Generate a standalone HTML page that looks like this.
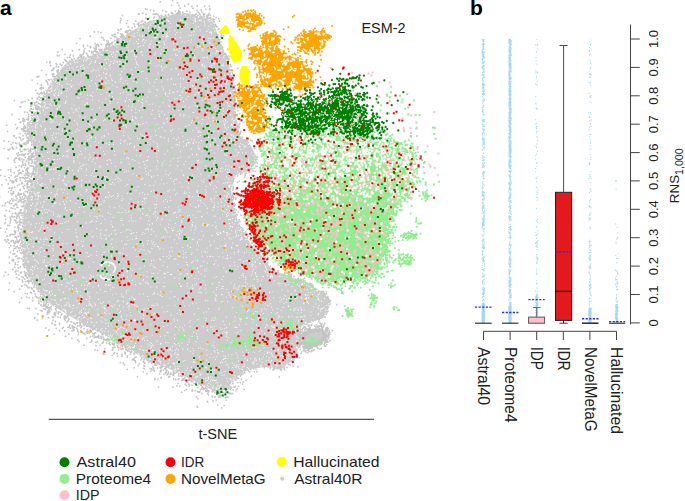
<!DOCTYPE html>
<html><head><meta charset="utf-8"><style>
html,body{margin:0;padding:0;background:#fff;}
svg{display:block;}
text{font-family:"Liberation Sans",sans-serif;}
</style></head><body>
<svg width="685" height="501" viewBox="0 0 685 501">
<rect width="685" height="501" fill="#fff"/>
<path d="M150 21L130 32L110 47L90 56L67 62L52 80L42 100L38 112L26 125L30 140L36 155L34 175L28 195L22 215L21 240L25 266L32 284L50 304L70 316L90 328L110 338L130 350L150 362L170 369L190 379L210 389L220 392L228 388L238 376L250 369L265 367L280 370L293 360L302 342L302 326L323 318L331 304L325 294L310 284L290 276L272 270L262 256L250 243L240 225L234 210L231 190L236 175L252 170L257 158L251 146L240 136L236 116L235 94L232 74L226 56L219 38L213 22L200 15L185 13L170 15L150 21Z" fill="#cccccc"/>
<polygon points="303,333 312,329 322,329 327,333 325,340 316,346 306,347 301,342" fill="#cccccc"/>
<path d="M232.5 199.9h0M78.6 332.3h0M210.2 15.2h0M106.1 46.1h0M19.5 213.6h0M19.4 213.5h0M142.8 13.2h0M270 368.2h0M31.8 145h0M38.6 108.9h0M30.5 292.3h0M325.5 294.4h0M60 312.2h0M254.7 168.1h0M141.3 21.8h0M200.5 389.8h0M30.9 151.3h0M20.5 248.2h0M17.9 258.4h0M28.4 140.6h0M173.9 373.6h0M40.3 104.6h0M31.6 153.8h0M195.8 382.5h0M238.2 118.9h0M145.5 9h0M10.9 219h0M325.7 314.1h0M241.9 227.9h0M233.6 198.9h0M119.4 343.7h0M218.7 392.3h0M290 272.8h0M301 344.2h0M21.4 166.8h0M237.4 182.4h0M96.7 52.3h0M34.6 102.8h0M133.3 358.6h0M130.2 30.3h0M20.6 210.7h0M11.8 181.5h0M25.6 196h0M118 33h0M228.8 49.6h0M103.4 341.1h0M16.7 218.3h0M33.7 291.4h0M93.1 54.2h0M17.4 242.7h0M117.5 356.1h0M95.2 332.9h0M195.6 383.1h0M288.6 364.3h0M239.9 134.4h0M41.9 311h0M47.5 314.3h0M265.8 261.1h0M115.4 34.1h0M37.5 83.7h0M31.5 109.1h0M168.7 377h0M247.4 140.8h0M24.4 126.4h0M25.8 144.7h0M240.5 375.8h0M125.1 353.2h0M84.2 333.8h0M138.1 365.5h0M87.8 331.6h0M295.7 354.8h0M14.7 216.6h0M19.4 137.2h0M212.2 391.8h0M93.3 52.1h0M48.2 305h0M25.5 165.6h0M224.2 405.4h0M15.7 143h0M125.5 32h0M181.6 392.2h0M38.8 301.2h0M244.5 177.2h0M9.8 235.5h0M103.1 334.6h0M96.2 45.6h0M77.5 325.9h0M24.6 178.9h0M72.2 60h0M225.2 397.8h0M77.6 340h0M114.1 345.2h0M78.2 57.9h0M18.2 242.2h0M34.4 159.8h0M29.1 156.2h0M134.2 360.3h0M77.3 322.9h0M4.1 148.3h0M117 342.5h0M21.3 155h0M13.1 148.9h0M28.1 149.1h0M19 119.2h0M252.2 140.7h0M26.4 169.7h0M42.7 87.8h0M117.2 353.7h0M-4.6 224.6h0M29 162.8h0M181.7 380.5h0M189.6 380.2h0M28.5 175.3h0M12.8 201h0M165.6 372.4h0M48 84.5h0M166.4 11.8h0M118.8 30.4h0M87.3 54.8h0M80.1 322.3h0M15.2 237h0M101 32.6h0M232.6 190.2h0M150.2 368.4h0M20.4 272.7h0M83.3 54h0M14.7 267.2h0M23.2 261h0M137.5 24.1h0M97.4 337h0M20.7 210h0M36.9 108h0M23.1 199.2h0M60.4 317.2h0M285.4 269.9h0M37.3 320.1h0M15.2 231.9h0M25.1 272.8h0M217.3 392.3h0M291.5 274.4h0M59.7 330.5h0M19.7 289.2h0M255.4 161.9h0M209.9 8.5h0M27.1 175.1h0M9.4 257.4h0M14.7 187.2h0M59.6 324.4h0M176.5 372.4h0M260.4 151.2h0M41.1 98.2h0M214.8 392.8h0M107.1 339.4h0M83.9 328.6h0M235.7 198h0M114.2 34.4h0M240.2 133h0M75.1 324h0M79.6 325.4h0M22.7 164.3h0M14.7 243.2h0M28.7 190.5h0M20.8 235.1h0M232.6 196.7h0M327.4 297.6h0M304.8 344.5h0M103 38h0M23.5 205.7h0M238.6 126.3h0M16.2 181.1h0M120.9 37.5h0M28.3 133.7h0M7.5 239.4h0M226 54.5h0M20.1 106.8h0M12.2 260.4h0M23.7 201.6h0M191.8 6.3h0M6.7 125.2h0M53.3 69.1h0M278.1 270.5h0M163.3 370.1h0M108.8 46h0M242.1 174h0M32.2 80.1h0M127.7 351.2h0M41.3 298h0M28.6 164.1h0M21.8 129h0M23.4 264.4h0M80.1 38.6h0M30.4 180.5h0M302.2 337.6h0M304.2 327h0M55.9 313.1h0M242.6 384.1h0M113.7 353.6h0M108.7 44.1h0M207.6 18.5h0M23.7 165.1h0M65.8 60.9h0M19.1 213.6h0M29.4 181.6h0M21.3 194h0M240.3 173.7h0M55.9 308.4h0M17 216h0M18 270.8h0M65.1 54.3h0M23.9 143.6h0M165.6 15.2h0M248.5 370.9h0M142.5 20.9h0M64.9 59.7h0M29 276.4h0M51.2 306.5h0M69.7 60.8h0M10.9 234.4h0M19.3 217.9h0M186.4 389.4h0M248 236.6h0M6.7 241.5h0M249.7 171.9h0M28.3 120.2h0M154.4 17.5h0M32.7 297.9h0M19.7 144.1h0M221.5 35.1h0M135.2 360.9h0M293.1 366.1h0M157.8 379.3h0M11 241.4h0M31.2 176.9h0M41.2 87.7h0M178.8 373.8h0M322 291.5h0M61.4 65.3h0M80.1 55h0M81.4 57.5h0M23.3 177.9h0M179.9 386.1h0M35.1 294h0M28.6 156.8h0M106.3 44.7h0M21.5 140.4h0M239 127.6h0M270.3 266.4h0M34.5 163.6h0M304.6 278.3h0M129.6 29.8h0M204.7 6h0M32.1 98.5h0M155.3 365h0M23.5 131.1h0M241.5 116.5h0M205.9 9.4h0M10.6 169.7h0M230.8 393.9h0M113.8 347.3h0M13.3 193.3h0M23.5 177.9h0M239.1 219.6h0M330.4 300.6h0M226.1 55.2h0M174.9 373.4h0M118.7 349.7h0M114.1 340.9h0M94.7 48.3h0M197.6 391.3h0M281.7 369.8h0M178.9 5.5h0M45.6 305.4h0M228.7 388.3h0M109.9 45.3h0M34.3 163.7h0M11.1 175.3h0M125.1 347.1h0M77.5 331h0M227.1 389.7h0M98.7 335.5h0M81.7 55.1h0M14.3 291.4h0M37.3 111.2h0M22.2 129.6h0M27.9 173.1h0M18.4 152.9h0M47.4 307.7h0M37 105.1h0M38.5 103.2h0M15 177.3h0M3.9 275.8h0M177.6 2.9h0M17 198.4h0M74.8 327.3h0M30 110.6h0M12.4 187.6h0M22.3 280.1h0M41.7 93.8h0M245.7 173.3h0M284.7 273.6h0M44.2 92.8h0M22.4 197.1h0M145 22.2h0M83.8 57h0M65.2 320.1h0M240.9 215.2h0M32.4 161.4h0M223.7 35.6h0M62 313.9h0M191.4 381.4h0M53.8 334.1h0M27.9 159h0M24.2 126.4h0M18.9 241h0M23.1 259.7h0M326.3 293.7h0M84 50.5h0M112.2 355.3h0M111.2 43.4h0M12.8 213.6h0M143.8 365.7h0M207.2 391.6h0M25.1 133.4h0M56.1 63.6h0M83.5 324.3h0M45.6 309.7h0M26.5 161.1h0M167.1 374.8h0M19.1 212.5h0M144.7 366.2h0M128.5 349.7h0M213 19.2h0M236.2 93.1h0M8.3 184h0M228.9 61.2h0M301.5 280.1h0M232.1 73.2h0M24.2 267h0M77.7 325.9h0M35.2 155.6h0M55.6 309.2h0M245.7 231.9h0M25.2 274.2h0M112.4 42.5h0M19.1 184.3h0M28.3 117.9h0M58.4 67h0M20 122.6h0M40.4 299.5h0M20.4 180.5h0M29.1 139.9h0M219.3 392.8h0M19.9 220.1h0M252.8 168.6h0M320 322.8h0M311.7 279.1h0M23.4 128.1h0M33.1 148.8h0M94 334.5h0M34 173.7h0M101.3 338.3h0M244.9 216.3h0M214 24.3h0M45.5 304.5h0M16.7 218.6h0M10.6 221h0M131.5 351.9h0M56.2 310.8h0M18.3 158.3h0M24.1 149.9h0M130.9 30.8h0M25.1 101.1h0M20.2 267h0M34 114.8h0M17.8 207.5h0M14.4 248.7h0M31.4 182.8h0M145 363.3h0M28.9 172.6h0M12.1 240.3h0M58.2 71.1h0M110.9 38.3h0M166.3 372h0M290.6 275.8h0M41.3 297.9h0M132 27.9h0M236 390.8h0M17.6 185.6h0M168.5 373.1h0M249.3 172.4h0M103 353.6h0M39 303.4h0M327 312.1h0M8.6 141.3h0M10.1 201h0M236.9 114.9h0M235.4 91.3h0M236 115.4h0M23.2 138.9h0M199.3 13.4h0M48.8 330.2h0M17.8 226.7h0M213.6 390.3h0M40.4 310.3h0M226.1 56.3h0M298.2 278.3h0M21.7 166h0M81.7 326.3h0M141.9 358.5h0M107.3 43.3h0M15 209.1h0M107.4 340.5h0M86.8 326.2h0M12.5 148h0M69.8 325h0M27.1 286.4h0M153.8 10.6h0M64.2 317.5h0M214.8 390.8h0M162.4 366.8h0M13.3 240.9h0M200 14.5h0M290.7 275.3h0M257.4 163.2h0M201.5 388.7h0M20 225h0M38.1 291.3h0M46.6 302.1h0M43.2 88.2h0M33 155.4h0M138.7 26.1h0M120.4 362.6h0M18.2 225.1h0M32 165.9h0M56.8 70.8h0M290.2 365h0M20.8 229.5h0M161 366.9h0M62.2 49.4h0M207.3 401.3h0M237.9 107.9h0M73.8 323h0M67.4 57.3h0M30.2 157.3h0M52.3 316.8h0M300.2 349.4h0M52.1 323.1h0M58.3 69.9h0M21.3 102.5h0M14.8 243.6h0M208.3 15h0M246 141.5h0M198 387.8h0M39.6 100.1h0M40.6 294.3h0M156.6 365.4h0M274.2 368.9h0M302.4 332.1h0M-1.9 151.2h0M68.3 320.9h0M27.6 182.7h0M31.2 115.4h0M68.2 320.7h0M66.8 61.2h0M219.4 21h0M16.1 214h0M233.2 188.4h0M34.5 162.7h0M9.3 188.2h0M215.2 24.3h0M235.2 386.7h0M138.4 25.1h0M26.9 272.9h0M194.1 383.4h0M57.9 52.1h0M120.7 18.4h0M198.3 392.2h0M197.2 6h0M45.1 299.7h0M246.2 121.1h0M14.1 242.8h0M117.9 38.9h0M122.1 355.9h0M21.7 173.6h0M56.2 66.6h0M120.3 22.5h0M54.5 314.5h0M175.4 11.1h0M31.9 154.9h0M13.5 259.8h0M273.2 270h0M207 15.4h0M244.6 140h0M30.7 148.1h0M26.9 178.2h0M101.3 337.1h0M234.9 93.4h0M128.2 27h0M16.4 147.4h0M203.5 15h0M47.4 312.2h0M18.8 174.4h0M28.6 281h0M14.3 253.8h0M27 186.1h0M28.2 181h0M37 77.2h0M187.8 380.2h0M24.1 120.1h0M88.2 56.2h0M235.3 89.3h0M241.5 379.5h0M0.5 228h0M22.4 183.4h0M33.6 166.7h0M253.1 170.9h0M208.2 391.1h0M204.8 388.9h0M22 206.5h0M95.8 49.8h0M236.8 377.6h0M19 201.2h0M231.4 69.8h0M228.1 56.1h0M284.7 369.6h0M37.2 76.7h0M79.1 57.2h0M125.2 353.8h0M173 387.1h0M29.4 308.5h0M11.9 216.2h0M16.4 277.7h0M126.3 349.8h0M64.6 318.3h0M32 162.9h0M318.8 321.1h0M162.7 10.5h0M24.5 264h0M240.8 131.1h0M89.2 333h0M164 374.2h0M293.9 359.9h0M4.9 215.5h0M138.4 13.9h0M242.8 228.8h0M4.1 141h0M158 14.7h0M94.1 48.1h0M28.6 114.5h0M97.4 51.9h0M13.6 205.8h0M273.6 269.2h0M40.1 88.3h0M203.3 13.3h0M179 378.6h0M155 14.2h0M8.2 149.6h0M21.9 253.2h0M41.4 100.5h0M60.3 64.1h0M274.4 152.4h0M216.5 26.3h0M177.9 383.6h0M246.2 173.2h0M15.8 248h0M168.3 371.9h0M230.3 389.5h0M256.8 246.7h0M205.6 388h0M54.5 324.6h0M34.6 113.2h0M246.1 380.4h0M19.4 169.9h0M14 160.4h0M8.3 169.8h0M33 156.8h0M20.6 151.5h0M247 234.4h0M29.4 158.8h0M330 301.3h0M18.2 236.4h0M118.6 343.8h0M83.4 57.2h0M46.2 80.7h0M65.3 316.2h0M277.9 271.6h0M22.9 252.4h0M6.2 180h0M101.5 37.4h0M179.4 13.5h0M31.4 163.1h0M43.8 304.8h0M55.4 321.5h0M256.9 166.6h0M15.4 231.2h0M145.6 22.7h0M28.1 287.7h0M43.5 300.2h0M235.3 212.4h0M291.3 276.5h0M28.8 116.6h0M72.2 330.9h0M29.7 140.3h0M83.5 333.2h0M234.4 209h0M37.2 111.4h0M87.1 331.4h0M21 243.4h0M5.6 203h0M35.6 296.1h0M213.1 391.1h0M22.1 285.9h0M244.8 233.4h0M13.9 199.9h0M213.1 20.8h0M87.5 333.2h0M103.4 339h0M126.5 23.3h0M27.6 277.9h0M227.5 57.5h0M80.1 323.1h0M122 35.5h0M27.4 308.3h0M18.9 247.8h0M25.4 200.8h0M237.9 68.5h0M249.8 371.8h0M23.6 124.1h0M216.1 17.7h0M28.5 138.7h0M13 254h0M24.5 200.8h0M145.9 14.4h0M265 257.5h0M80.9 55.8h0M164.9 16.1h0M33.8 287.1h0M114.4 40.8h0M235.8 199.4h0M26.1 285.3h0M151.5 368.8h0M213.5 19.4h0M26.9 173.8h0M35.2 161.8h0M41.8 70.3h0M230.3 64.6h0M16.1 200.3h0M301.1 353.4h0M131 352.5h0M256 161.4h0M63.2 62.6h0M25.9 281.6h0M333.7 287h0M24.8 185.5h0M30.9 165.9h0M29.5 179h0M50.7 65.5h0M21.5 183.9h0M27.7 143.4h0M31.3 118.1h0M31.8 182h0M114.1 343.4h0M201.1 10h0M20.1 189.6h0M32.2 154.7h0M108.3 42.4h0M29.4 280.6h0M30.8 106.2h0M21.4 199.8h0M79 341.5h0M232.9 383.4h0M-1.8 227h0M121.9 354.1h0M169.6 376.7h0M104.6 49.1h0M23.5 118.7h0M33.4 169.1h0M198.9 383.5h0M15.1 243.1h0M35.9 90.2h0M80.7 325.3h0M32.2 288.9h0M18.5 193h0M121.8 349h0M29.1 287.5h0M103 342.7h0M9.6 188h0M159.4 17.9h0M106.4 47.9h0M25.6 164.6h0M38.8 94.4h0M149 18.1h0M143.3 23.9h0M204.6 14.1h0M15.2 271.8h0M24.6 198.5h0M220 396h0M22.2 151.4h0M91.9 340.4h0M97.4 350.4h0M22.4 154.3h0M20.1 137.8h0M215 396.6h0M30.5 182.2h0M207.8 15.6h0M34.1 291.5h0M120.7 20.3h0M19.5 302.4h0M305.1 280.8h0M66.2 317.8h0M39.8 103.8h0M112.3 343.2h0M8.6 191.8h0M43 298h0M28.5 168.1h0M58.9 71.5h0M21.4 272.2h0M336.7 304.5h0M2.4 205.7h0M26.1 127.7h0M212.4 396.5h0M203.5 388.7h0M243.4 230.7h0M251.3 376.2h0M53 320.2h0M127.5 20.8h0M196 14h0M15.5 124.6h0M48.1 302.6h0M120.9 29.4h0M-6 200h0M47.4 82.6h0M222.7 46.8h0M31.1 155.5h0M5.4 222.3h0M232.3 197.3h0M166.2 367.8h0M139.5 363.8h0M24.2 188.4h0M216.9 394.1h0M122.3 34.1h0M250.8 140.3h0M186.8 381.2h0M13.3 250.5h0M322.9 291.4h0M32 175.6h0M72.2 326.4h0M244.1 217.7h0M122.5 15.5h0M26.6 134.1h0M303.2 328h0M24.4 130.2h0M9.5 202.8h0M19.2 165.6h0M127.5 32.8h0M218.9 18.7h0M20.6 173.1h0M175.7 379.5h0M140.5 26h0M29 187.1h0M221.7 407.9h0M71 321.8h0M10.6 218.3h0M21.9 286h0M223.1 392.5h0M210.8 18.7h0M311.9 284.6h0M20.2 235.9h0M24.5 167.6h0M182.8 379.9h0M182.9 379h0M12.9 217h0M16.3 237.2h0M13.4 191.7h0M12.4 234.5h0M11.2 207.9h0M49.8 63h0M107.5 44h0M36.6 108.6h0M71.9 338.3h0M41.4 301.7h0M19.2 279h0M89.1 331.1h0M86 332.5h0M186.8 11.2h0M43.9 92h0M24.5 271.6h0M34.4 115.2h0M214.8 397h0M26.7 168.9h0M118.9 38.6h0M50 308h0M205.8 391h0M27.6 174h0M28.6 163.1h0M87.6 45.5h0M41.4 85h0M31.9 175.7h0M114.5 352.6h0M173.4 371.6h0M35.2 159h0M26.4 135.8h0M17.6 127.4h0M273.1 369.9h0M54.4 76.7h0M70.4 328.2h0M245.7 140.6h0M30.7 104h0M20.3 210.2h0M214.2 22.1h0M27.2 138h0M23.9 195.2h0M309.4 283.3h0M25.5 154.1h0M21.1 209.9h0M191 380h0M134.2 367.7h0M303.5 350.6h0M127.3 357.3h0M135.8 21.2h0M53.6 317.2h0M120.5 36.7h0M325 317h0M33.6 169.7h0M32.3 300.8h0M18.3 268h0M18.8 274.8h0M157.5 368.1h0M299.6 357.8h0M20.2 133.7h0M16.3 273.9h0M173.5 375h0M241.4 374.6h0M24.5 263.6h0M20.4 172.6h0M22.2 177.7h0M99.9 50.8h0M25.6 180.7h0M84.9 48.6h0M158.6 387.1h0M116.4 40.1h0M19.5 199.9h0M94.7 50.5h0M19.9 222.3h0M69.7 57.2h0M42.3 98h0M-5.8 210.2h0M48.1 311.5h0M143 24.7h0M215.7 24.9h0M287.1 367.4h0M312.9 284.9h0M77.5 58.6h0M117.3 38.2h0M118.8 40.3h0M10.6 252.3h0M83.6 46.6h0M46.1 307.2h0M176.2 14h0M28.4 118.9h0M207.1 17.6h0M172.9 13.9h0M239.8 123.9h0M66.3 317.2h0M9 150.1h0M-1.4 173.8h0M8.7 289.6h0M12.7 259.4h0M20.5 222.1h0M192.5 390.2h0M23.2 171.4h0M21.5 222.6h0M13 208.3h0M16.1 203.6h0M97.1 44.5h0M230.6 65.3h0M160.1 367.6h0M15.4 262.8h0M29.2 297.8h0M185.3 384.1h0M155.2 14h0M22.9 264.3h0M28.3 281.8h0M148.9 362.3h0M198.6 392h0M26.2 197.4h0M302.4 332.2h0M22.8 118.6h0M116.8 342.1h0M207.7 393.8h0M139.9 25.6h0M153.7 368.3h0M95.9 51.5h0M54.5 313h0M73.3 55.9h0M35.2 159.3h0M215.4 26.4h0M300.3 279.5h0M310.6 283.6h0M27.8 138.4h0M27.6 280.9h0M81.9 55.7h0M17.9 227.5h0M201.7 393.5h0M55.4 315.7h0M219.9 397h0M20.3 245.5h0M0.7 175.4h0M31.8 180.5h0M304.8 347.4h0M16.9 207.3h0M101.3 44.5h0M114.9 347.2h0M15.1 204.6h0M70.2 55h0M225.5 393.2h0M95 349.9h0M29.1 140h0M24 154.4h0M112.7 347.9h0M238.2 212.1h0M189.2 386.4h0M76.7 322.6h0M42.6 297.5h0M168 373.9h0M225.7 397.6h0M53.3 73.6h0M45.5 309.3h0M30.8 149.1h0M47.1 302h0M33.6 290.6h0M6.2 210.4h0M21.2 229.7h0M16.9 179h0M22.6 171.3h0M81.1 327.7h0M10.1 223h0M27.6 177.5h0M226.2 400.1h0M141.4 357.1h0M33.3 172.4h0M240.8 92.9h0M110.4 344.8h0M46.1 90.4h0M95.9 342.4h0M36.6 297h0M209.7 9.7h0M28 137.4h0M90.2 46.7h0M253.6 368.8h0M90.1 342.3h0M161.4 16.2h0M15.4 179.8h0M19.9 197h0M230.1 56.5h0M264.4 367.5h0M98.1 336.4h0M5.4 272.2h0M19.6 145.7h0M198.1 12.1h0M184.8 377.6h0M244.8 181.3h0M245.6 140.7h0M27.3 141h0M48.1 310.5h0M50.2 61.7h0M100.7 49.7h0M104.9 348.7h0M254.2 371.7h0M64.2 316.3h0M9.3 247.6h0M234.9 85.9h0M0.5 169.8h0M121.3 349.3h0M59.2 55.7h0M9.3 177.7h0M27.3 273.5h0M122.9 36h0M20.8 121.9h0M49.2 312.5h0M103 337.1h0M206.9 389h0M15.6 256.4h0M98.7 46.4h0M19.4 154.8h0M10.8 171.6h0M109.1 47h0M178.5 12h0M24.6 128.1h0M80.9 57.1h0M19.6 233.7h0M26.8 197.6h0M153.8 17.8h0M154.7 364.7h0M221.7 36.3h0M236.3 214.3h0M83.9 345.2h0M120.9 345.6h0M21.1 212.7h0M20.7 219.3h0M219.2 395.8h0M16 176.3h0M23.6 129.9h0M23.5 155.5h0M76.9 328.2h0M244.2 389.4h0M14.2 172.7h0M14.3 100.5h0M324 293.2h0M237.3 388.7h0M14.4 231.2h0M134.8 26.4h0M180 8.2h0M184.6 390.6h0M206.7 17.2h0M36.9 101.7h0M19.6 213.3h0M18.7 227.5h0M64.5 319.3h0M234.8 61.2h0M20.2 190.6h0M27.2 131.6h0M237 214.9h0M118.2 347.4h0M37.7 313.9h0M15.4 232.2h0M220.8 392.1h0M35.5 105.6h0M39 297.9h0M273.4 262.3h0M280.5 162.5h0M18.2 258.7h0M156.6 13.8h0M22.4 161.1h0M94.9 43.8h0M33.8 157.2h0M14.6 220.1h0M38.7 107.5h0M42.4 318.3h0M49.1 80h0M161 368.1h0M245.1 173.9h0M327.9 296.4h0M14.8 162.2h0M232.6 393.5h0M230.3 386.9h0M59.5 323.1h0M91.5 52.8h0M16.6 147.7h0M324.8 323.2h0M210.9 19.6h0M36.3 102.6h0M212.5 390h0M228.2 61.7h0M159.2 16.3h0M7.8 202h0M41 301.6h0M34.9 317.7h0M31.8 175.5h0M74.6 59.9h0M266.8 260h0M24 202.8h0M16.6 143.7h0M32.9 166.1h0M165.4 369.3h0M117.5 343.2h0M160.9 378h0M94.5 335.8h0M40.3 296.3h0M266.2 252.1h0M234.1 87.2h0M19.2 240.9h0M161.1 17.5h0M44 308.8h0M235.9 380h0M67.8 316.6h0M25.3 181.3h0M171.6 13h0M321.9 323.8h0M160.3 1.9h0M16 236.8h0M4.7 205.5h0M139.2 14.2h0M21.5 298.1h0M122.3 348.4h0M18.2 230.9h0M197.7 407.1h0M256.9 371.7h0M18.3 193.1h0M227.5 58h0M58.2 311.9h0M121.1 28.9h0M16.4 196.3h0M31.9 160h0M114.3 344.3h0M16 271h0M23.3 257h0M33.6 152.3h0M13.7 182h0M126.7 32.7h0M15.6 213h0M216.9 26.9h0M203 389.6h0M51.1 79.4h0M38.6 103.4h0M27.5 187h0M171.2 12.7h0M104.7 339.5h0M24.1 265.9h0M243.3 381.9h0M25.8 173.5h0M34.7 318.3h0M6.7 228.9h0M322.9 287.6h0M134.3 353.5h0M26.1 149.6h0M25.6 131.5h0M173.7 379h0M30.1 152.1h0M95.5 332.6h0M328.8 300h0M177.8 13.4h0M233.5 197.5h0M20.6 138.6h0M32.5 149.1h0M18.6 248h0M122.3 34.6h0M242.1 137.1h0M73.2 326.7h0M250 239.6h0M233.2 196.2h0M170.2 374.6h0M40.9 305h0M32.2 156.4h0M14.7 159.5h0M13.6 148.9h0M227.7 397.2h0M155 378.6h0M53.9 68.2h0M280.3 370.1h0M27.3 188.4h0M15.7 242.1h0M126.8 30.9h0M123.4 363.1h0M244.7 372.7h0M234 387h0M255.3 171.4h0M-0.4 196.8h0M27.6 167.9h0M238 110.5h0M54.9 315.1h0M29.9 179.8h0M230.9 70.5h0M25 267.6h0M28.5 162.5h0M29.1 175.9h0M177 385.9h0M35.8 107.6h0M35.2 153.7h0M201.7 11.8h0M10 203.8h0M13.7 135.9h0M265.9 259.1h0M20.2 232.5h0M126.2 349h0M10.9 193.3h0M208.2 391.8h0M10.2 180.4h0M15.8 196.3h0M121.6 345.1h0M72.4 326h0M46 306.2h0M195.1 390.7h0M127.6 355.8h0M24.6 267.1h0M68.5 318.8h0M231.3 388.1h0M42.2 306.3h0M199.7 392h0M-8.9 202.9h0M39.4 96.9h0M25.3 163.2h0M24.4 194.5h0M248.4 142.4h0M19 195h0M109.1 343.5h0M4.8 176.2h0M21.1 201.7h0M240.1 174h0M74.3 329.4h0M79.2 49.7h0M66.9 321.9h0M53.9 74.4h0M52 323.4h0M107.1 45.2h0M206.9 390.5h0M294.1 276.4h0M96.3 47.5h0M28.7 151.1h0M9.4 283h0M168.4 14.4h0M171.7 5.3h0M254.1 245.4h0M136 357.1h0M28.9 153.3h0M137.4 376.6h0M23.6 188.1h0M98.8 337.9h0M238.5 378.4h0M23.6 206.5h0M81.3 56h0M110 44h0M112.7 349.8h0M120.7 34h0M218 29.6h0M106.6 48.4h0M49.9 311h0M300.6 279.3h0M196.4 397.1h0M44 304.9h0M14.1 245.8h0M56.8 64.8h0M27.2 293.8h0M237.5 382.6h0M107.6 338.3h0M263.8 152.3h0M46.2 300.4h0M134.8 357.6h0M74.3 60.1h0M38.6 106.6h0M233.1 193h0M325 316.6h0M16.8 204.9h0M113.9 340.5h0M236.1 210.1h0M9.5 225.3h0M24.2 155.7h0M192.1 385.2h0M27 197.7h0M229.3 393.2h0M140.6 24.9h0M239.9 221.3h0M107.4 47.9h0M40.3 88.2h0M21.7 250.1h0M111.7 339.5h0M161.3 377.5h0M47.2 308h0M300.3 279.9h0M17.3 241.2h0M23.2 186.4h0M161 370.2h0M5.1 216.2h0M18.4 261.7h0M20.9 237.5h0M178.2 379.7h0M104 40h0M11.7 203.4h0M46.5 81.4h0M27.3 112.3h0M19.2 173h0M27.8 184.2h0M31.2 287.8h0M25.4 191.7h0M92.9 329.7h0M289.5 274.8h0M144 368.4h0M28.5 100h0M32.4 173.9h0M207.6 401.9h0M252.3 237.1h0M26.8 184h0M52.9 70.4h0M47.4 313.1h0M147.3 9.3h0M13.7 148.9h0M72.6 50.9h0M25.6 127.5h0M64.6 317.6h0M222.7 392.5h0M108.2 41.1h0M27.5 192.6h0M238.4 125.1h0M30.7 292.4h0M120.1 347.8h0M17.3 222.3h0M71.6 321.9h0M218.3 393.5h0M94.7 333.2h0M12.9 193.4h0M234.2 206.4h0M1.8 184.8h0M197.1 406.5h0M153.2 14.3h0M239.4 127.6h0M46.2 303h0M172.6 0.7h0M21.9 246.2h0M24.6 284.7h0M11.8 194.7h0M21.3 272.8h0M17.4 175.9h0M124.3 364.9h0M30.2 173.9h0M256 369.1h0M27.3 172.2h0M31.5 153.8h0M15.8 241.4h0M25.1 144.5h0M235 204.9h0M16.1 247.1h0M-2.2 218.2h0M68.1 315.2h0M213.1 400.9h0M51.6 70.3h0M30.2 165.9h0M28.9 189.6h0M19.3 143.1h0M95.2 337h0M287.3 273.2h0M247.1 237.7h0M15.1 233.8h0M78.4 334.4h0M145.9 18.2h0M160.9 371.8h0M216.2 400.1h0M89.3 51.2h0M172.3 374.5h0M197 10.3h0M11.8 188.5h0M245.2 175.4h0M186.9 382.2h0M256.8 159.3h0M41.6 92.4h0M188.7 384.2h0M115.8 36.6h0M35.8 308.4h0M129.7 351.5h0M19.9 159.9h0M182.8 12.2h0M169 14.9h0M143.2 361.5h0M180.1 12h0M184.8 6h0M61.3 314.9h0M31.5 157.2h0M254.6 148.7h0M327.9 311.3h0M25.2 293.3h0M112.8 35.6h0M12.9 269.4h0M26.7 297.2h0M87.4 329.7h0M234.1 203.4h0M166.8 370.2h0M80.7 330.8h0M109.7 342.5h0M17.9 155.3h0M13.3 200.6h0M227.8 49.1h0M22.8 101.8h0M33.1 171.3h0M150.5 10.1h0M266.5 157.9h0M183.9 380h0M85.1 334.6h0M112.8 344.3h0M328.5 298.5h0M134 354.2h0M26.4 160.6h0M124.9 352.2h0M90.3 36.2h0M23.3 121.6h0M73.7 330.5h0M144.2 362.5h0M34.5 104.6h0M273.1 257.5h0M16.1 222h0M90.9 331.4h0M134.1 24h0M98.3 31.8h0M24.5 121.2h0M8.3 274.7h0M120.8 36.6h0M5 240h0M15.3 264.6h0M13.4 260.9h0M27.7 187.5h0M22.8 162.4h0M16.9 239.1h0M74 58.3h0M117.7 347.4h0M237.1 115.5h0M116.9 342.6h0M25.5 177.6h0M17.5 246.3h0M20.7 106.8h0M14.4 136h0M54.9 313.7h0M160.3 371.6h0M183 378.7h0M26.1 142.7h0M94.4 31.9h0M114.8 37h0M17.8 202.2h0M26.7 119.3h0M10.2 148.7h0M91.7 51.5h0M189.1 378.9h0M229 58.7h0M21 253h0M109.1 343.7h0M27.9 133.7h0M188.4 4.2h0M-2.3 229.7h0M189.8 12.1h0M9.1 242.9h0M42 311.2h0M43.8 306h0M21.5 258.6h0M35.2 112.8h0M151.8 369.8h0M19.4 250.5h0M42.4 93.5h0M30.7 108.7h0M20 213.3h0M16.8 256h0M67.8 327.2h0M52.2 74.5h0M106.6 342.9h0M96 46.7h0M99.2 49.4h0M202.3 386.9h0M239.9 221.6h0M37.4 93.2h0M11.2 144.3h0M32.9 300.6h0M39 97h0M28.2 274.8h0M108.1 338.8h0M154.4 371.2h0M57.4 55.7h0M177.3 13.2h0M267.8 262.8h0M227.4 58.6h0M227.3 57.8h0M165.8 373.3h0M250.7 369.4h0M27.2 191.5h0M114.4 36.3h0M97.6 341.7h0M27.5 181.1h0M28.9 160.3h0M172.5 13.5h0M69.1 319.6h0M7 236.2h0M233.4 186.9h0M218.7 28.6h0M94.2 337.5h0M251.9 175h0M108.7 339.9h0M18.8 158.9h0M46.2 74.7h0M123.5 35.7h0M237.7 175.8h0M7.5 236.2h0M117.5 40.4h0M84.2 51.1h0M86.8 338.4h0M19.6 144.3h0M14 234.5h0M12.5 181h0M208.5 394.8h0M44 302.9h0M218 393.1h0M33.1 153.3h0M237.3 378.6h0M24.3 143.1h0M10 217.1h0M162.7 16.6h0M209.1 6.1h0M242.9 373.8h0M11.1 190.6h0M39.2 97.1h0M25.2 157.5h0M116.3 342.7h0M40.2 93.5h0M25 126.6h0M111.9 43.9h0M125.6 348.9h0M284.2 368.3h0M51.4 309.3h0M20.4 200.2h0M11.7 188.9h0M34.5 114.9h0M128.1 31h0M106.5 40.8h0M154 370.7h0M208.5 392.1h0M19.4 258h0M57.4 72.3h0M83.8 52.5h0M98.2 44.9h0M326.2 291.8h0M25.3 275.7h0M31.4 157.5h0M28.8 283.1h0M16.1 237.2h0M159.6 373.9h0M178.9 10.5h0M193 8.2h0M195.9 383.8h0M234.1 209.8h0M22.8 281.9h0M152.8 367h0M14.9 227.1h0M27.8 154.2h0M79.5 322.9h0M8 158.4h0M209.1 18.1h0M208.9 390.6h0M21.9 276.9h0M207.7 15.9h0M47.3 307h0M21.6 215.4h0M24.6 125.8h0M134.1 359.6h0M19.9 149.3h0M228.7 387.9h0M42.9 297h0M323.3 291.7h0M220.9 392.5h0M204.4 16.6h0M38.8 76.5h0M183.9 379.2h0M56.2 328.3h0M7.9 225.5h0M164.9 368.4h0M220.6 37.1h0M173.7 372.5h0M178.7 375.8h0M24 130.9h0M203.5 388h0M29.1 186.6h0M186.5 385.5h0M237 389.2h0M68.8 334h0M26.5 276.7h0M82.3 332.7h0M209.1 13.5h0M123.1 348.7h0M28.3 158.3h0M126.3 31.5h0M244.5 140h0M112.1 349.8h0M44.7 308.7h0M303.6 280.8h0M9.4 211.1h0M16.6 128.7h0M114.4 343.1h0M23.3 143.9h0M19.8 177.9h0M21.8 159.1h0M146.9 373.7h0M90.2 330.2h0M64.6 331h0M227.6 58.6h0M20.3 177.9h0M28.4 142.2h0M228.2 59.6h0M37 297.7h0M16.9 181.3h0M17 216.4h0M173.8 374.1h0M27.3 169.3h0M262.2 154.5h0M211 19.4h0M233.6 80.1h0M240.5 132.1h0M284.8 272.8h0M325.5 313.8h0M198 385.6h0M221 42.1h0M24.7 279.1h0M109.2 44.1h0M247.1 229.1h0M180.1 13h0M57.9 317.1h0M126.5 349.7h0M35.8 109h0M112.1 35.2h0M28.8 280.2h0M235.6 94.8h0M31.3 157.9h0M230.6 393.3h0M13 142.7h0M90.2 336.8h0M192.1 391.1h0M52.8 76.3h0M301.6 351.8h0M48.3 79.6h0M138.3 24.3h0M23.1 277.4h0M232.5 383.6h0M37.5 99h0M295.9 354.4h0M22 182.3h0M8.5 240.1h0M16.3 158h0M15.6 220.6h0M18.1 170.9h0M150.6 371.4h0M233.1 74.6h0M237.4 106.3h0M30.6 111.5h0M144.1 359.5h0M72.7 327.5h0M19.9 239.7h0M34.6 113.9h0M307.9 334.4h0M17.8 155.8h0M201.3 385.3h0M94.3 51.1h0M15.3 213.2h0M-4.5 190.5h0M58.4 313.1h0M33.7 156.1h0M241.8 374.5h0M15.7 157.8h0M19.3 221.9h0M132.3 359.9h0M255.9 166.2h0M183.3 379.6h0M239.1 181.3h0M161.3 15.3h0M18.7 228.9h0M71.5 59.1h0M34.2 169.5h0M63.3 327.5h0M33.2 109.1h0M62.1 65.1h0M217.7 405.1h0M30.1 149.9h0M214.6 19.6h0M147.5 360.6h0M135.5 362.5h0M24.9 175.6h0M31.3 292.9h0M197.8 398.7h0M20.7 197.9h0M30.8 185h0M13.7 205.7h0M154.9 379.6h0M48.3 317.7h0M23.4 193.4h0M35.7 112.7h0M41 89.2h0M292 360.9h0M244 122.3h0M5.7 219.3h0M233.8 204.7h0M38.5 303.1h0M34.4 162.5h0M241.5 117.3h0M64.7 317.6h0M84.2 325.6h0M69.4 326.8h0M213.8 16.1h0M263.6 256.5h0M43.4 95.9h0M122.7 36.1h0M28.2 137.2h0M54 314.2h0M288.6 273.9h0M23.8 159.7h0M236 189.4h0M24.3 175.2h0M102.2 50.1h0M10.8 245.6h0M204 16.1h0M67.2 314.9h0M80.4 324.2h0M22 213.1h0M24.4 119.9h0M23 120.7h0M28 122.7h0M11.8 198.9h0M309.9 272.8h0M19.9 222.8h0M46.7 300.7h0M92.4 336.1h0M7.7 131.3h0M182.7 375.7h0M106.6 44.3h0M96.4 337h0M27.5 170.7h0M96.1 49.1h0M14.8 253.6h0M231.1 66.6h0M76.7 43.3h0M23.2 135.7h0M143.2 371.8h0M12.1 114.5h0M238.5 386.4h0M96 345.6h0M218.5 397h0M32.5 116.1h0M37.2 98.2h0M239 219.8h0M226.1 397.2h0M180.5 376h0M168.7 14.9h0M98.7 336.9h0M189.6 385.2h0M25 195.8h0M37 106.6h0M77.5 329.7h0M130.5 354.3h0M5 223.5h0M232.4 195h0M210.5 18h0M151.7 363.1h0M91.7 341.7h0M-4.1 222.1h0M238.7 125.4h0M55.6 324.9h0M140.8 359.9h0M30.3 159.3h0M220 393.8h0M18 214.2h0M17.2 207.4h0M218 35h0M16.5 217.4h0M45.9 304.8h0M225.9 392.1h0M24.6 149.1h0M117.4 345.3h0M58.3 313.6h0M12.3 147.1h0M122 37.6h0M17.8 194.9h0M18.9 216h0M6.5 241.9h0M307 324.5h0M239.5 113.7h0M90.6 47.6h0M118 29.6h0M16.6 153.8h0M200.1 384.3h0M39 108h0M233.2 389.9h0M80.5 323h0M19.7 158.2h0M297.1 352.7h0M118.5 40.6h0M105.8 340.3h0M226.2 33.5h0M13.8 242.6h0M170.9 372.9h0M40.9 305.2h0M219.9 39.5h0M21.4 243.1h0M5.6 232.1h0M33.5 173.6h0M102.2 343.2h0M33.9 168h0M15.9 167.4h0M240.4 382.6h0M141.4 24.9h0M102.1 334.8h0M33.2 174.2h0M221.1 395.3h0M225.2 53.6h0M25.7 128.4h0M86.5 53.2h0M106.3 47.7h0M122.6 346.4h0M17.3 251.6h0M16.4 222.9h0M153.5 370.2h0M143.9 23.9h0M27.2 130.2h0M44.6 94.1h0M226.7 58h0M24.6 112h0M20.1 194h0M37 109.2h0M233.3 80.4h0M12.9 182.8h0M100.8 336.6h0M62.5 328.3h0M284.4 367.4h0M107.3 339.2h0M34.3 114.5h0M228.4 59.8h0M165.8 11.3h0M49.2 309.5h0M231.7 387.3h0M298 366.7h0M27.4 278.2h0M19.8 224.4h0M99.9 345.1h0M48.9 307.5h0M41.1 97.9h0M46.8 62.1h0M41.4 85.7h0M279.3 377h0M65.5 336.4h0M20.9 145h0M26.1 275.4h0M92.8 333.6h0M251.6 235.3h0M192.7 381.5h0M83.4 45.2h0M31.8 104.9h0M95.2 43.6h0M30.4 281.1h0M237.2 114.3h0M17.6 264.6h0M326.6 313.7h0M319.2 319.5h0M26 170.5h0M181.7 376.5h0M22.3 202.4h0M16.2 137.9h0M45.8 327.9h0M44.2 301h0M103.8 354.3h0M25.5 149.7h0M9.5 263.1h0M127.2 369.4h0M307.8 267.7h0M72.7 328.5h0M139 22.9h0M32 173.5h0M23.8 205.2h0M317.9 326.1h0M308.9 330.1h0M310.6 329.7h0M312.2 330.3h0M313.8 330.2h0M319.8 343.9h0M322.1 330.5h0M321.3 330.5h0M307.6 352.6h0M324.1 345.1h0M318.4 329h0M308.9 343.9h0M319.7 328.4h0M322.6 338.9h0M318.6 326.7h0M325.9 335.8h0M317.5 342.4h0M324.7 332.1h0M303.5 340.7h0M304.5 333.5h0M325.6 346.3h0M303.8 334.9h0M325.5 330.2h0M327.3 341.1h0M322.9 339.2h0M301.6 328.4h0M327 337h0M302.5 339.1h0M305.2 351.6h0M303.3 341h0M320.4 326.1h0M316.5 346.4h0M301 342.1h0M303.1 333.7h0M329.8 332.6h0M310 348.9h0M324 335.5h0M320 349.1h0M305.5 327.7h0M321.9 343.7h0M306.5 346.8h0M314.7 326.1h0M305.1 326.5h0M323.1 330.2h0M325.6 335.9h0M327.5 330.4h0M319.4 342.7h0M315.8 329.5h0M313.7 346.4h0M307.8 332.3h0M300 336.8h0M322.9 341.8h0M317.7 345.6h0M321.1 344.2h0M310.8 331.6h0M304 349.1h0M325.8 334.6h0M321.7 339.3h0M302.8 341.2h0M302 342.8h0M310.5 344.8h0M304.1 342.9h0M324 324.9h0M319.1 340.6h0M318.3 331.9h0M316.3 343.6h0M319.4 341.2h0M300.1 339.1h0M304.5 346.7h0M302.9 337h0M317.8 344.8h0M303.5 335.7h0M318 331.7h0M322.4 338.8h0M305.1 344h0M306.9 333.2h0M324.3 346h0M323 330.5h0M304 343.4h0M328.7 334.2h0M308.2 346.1h0M307.5 344.7h0M316.9 347.1h0M297 333.9h0M313.7 330.8h0M304.7 343.2h0M300.9 338.5h0M312.8 332h0M302.2 341h0M297.5 346.8h0M320.5 342.6h0M312.3 347.2h0M313.5 344.7h0M300.2 344.7h0M303.3 342.2h0M304.2 338.5h0M326.5 331.5h0M304.9 331.8h0M308.8 349.1h0M318 327.1h0M311.1 332.1h0M312 348.6h0M311.1 343.7h0M309.7 346.1h0M313.7 331.2h0M315.5 328.4h0M326.6 336.1h0M309.8 332.1h0M307.2 347.2h0M304.4 339.1h0M311 345.9h0M299.6 343.1h0M323.1 336.1h0M308.5 348.8h0M303.7 333.8h0M323.4 331.8h0M304 337.5h0M306.9 350.2h0M311.3 324.9h0M322.4 338.6h0M329.7 331.7h0M327.9 342.1h0M314.7 345.2h0M305.3 345.1h0M326.8 330h0M303.1 344.7h0M327.8 335.5h0M324.2 337.8h0M311.9 347.2h0M311.3 325.5h0M320.9 343.2h0M313.5 329.3h0M328.5 335.4h0M319.3 343.1h0M317.8 342.2h0M313 344.3h0M308.4 350.6h0M301 337.5h0M310.6 347.6h0M320 340.7h0M323.5 333h0M312.1 330.1h0M322 342.2h0M305.1 331.9h0M311.4 347.5h0M327.7 334.9h0M300.3 330.7h0M325.5 329.5h0M301.2 334.5h0M304.6 350.2h0M321.5 341.9h0M306.3 328.9h0M304.3 344.7h0M324.2 336.1h0M316.6 344.5h0M329.1 333.8h0M327.3 341.8h0M300.4 333.3h0M315.4 346.4h0M324 336.8h0M317.8 345.1h0M305.2 336.4h0M308.2 333.2h0M324.4 344.1h0M304.7 329.9h0M329 337.1h0M324.7 340h0M318.9 329.5h0M315.1 330.8h0M318.9 343.4h0M299.6 342.8h0M322.3 340.4h0M322.6 328.6h0M316.6 345.3h0M305.6 343.3h0M309 351.3h0M313.5 350.4h0M311.1 330.3h0M304.6 342.9h0M299.8 340.9h0M321.9 329.1h0M322.2 327.7h0M305 342.4h0M304.1 339.9h0M323.6 334.1h0M303.4 335h0M324.4 345.7h0M323.7 338.7h0M322.9 337.1h0M305.5 351.7h0M323.2 333.5h0M300.7 334.9h0M302.7 333.2h0M329.3 330.4h0M305.8 331.8h0M322.7 338.5h0M319.1 325.8h0M325.7 340.1h0M318.3 328.5h0M327.6 336h0M328.2 328.6h0M300.7 340.2h0M325 337h0M307.7 347.1h0M301 342.5h0M308.1 348.6h0M308.9 347.4h0M305.5 345.9h0M312.9 346.5h0M309.7 327.4h0M306.4 332.5h0M318.5 341.5h0M321.6 340.4h0M314.4 331.9h0M297.6 336.3h0M312.1 330h0M308.8 331.7h0M329.8 334.6h0M326.9 331h0M308.5 326h0M312.4 344h0M301.8 338.1h0M322 338.7h0M312.8 331.1h0M315 345.1h0M308.1 347.9h0M326.3 341.9h0M306.9 330h0M302.9 346.6h0M304.8 334.8h0M307 334.4h0M314.6 331.1h0M321.7 340.8h0M319.7 340h0M309.7 328.7h0M308.2 348.5h0M312.7 329.7h0M314.8 331.7h0M317.9 331.3h0M313.3 330.9h0M304.8 329.5h0M326.6 335h0M321.8 325.8h0M300 347.1h0M316.3 343.2h0M321.6 342.3h0M311.9 324.3h0M311.7 344.8h0M321.7 342.4h0M308.1 345.7h0M311.4 332.2h0M304.3 347.5h0M315.1 331h0M324.3 334.7h0M313.4 345.2h0M310.1 332.5h0M311.1 345.5h0M307.8 346.6h0M309.2 328.6h0M302.5 336.3h0M303.6 338.6h0M311.7 346.5h0M307.4 352.7h0M332.3 330.5h0M309.2 330.2h0M308.4 348.8h0M302.8 339.5h0M306.5 346.4h0M322 327.1h0M310.2 327.8h0M325.6 340.7h0M301.7 340h0M324.8 342.9h0M322.8 331.8h0M308.1 328.8h0M325.9 329.4h0M323.1 337.1h0M303 342.7h0M301.4 336.8h0M309.7 328.8h0M301.9 334.3h0M326.4 328.2h0M317.4 342.2h0M302 342.9h0M302.2 330h0M317.3 344.1h0M312.3 329.8h0M326.4 342.4h0M301.4 334.8h0M305.2 334.5h0M320.7 341.2h0M329.8 340.5h0M327.4 329.4h0M300 333.9h0M304.3 334.4h0M303.3 347.4h0M307.6 332h0M302.5 333.7h0M312.1 347.8h0M308.2 328.6h0M297.9 343.4h0M303.2 347.5h0M321 324.5h0M303.4 332.7h0M308.3 332.4h0M317.4 330.2h0M311.8 350.7h0M314.1 344.2h0M324.9 340.8h0M306.2 332.4h0M303.6 338h0M326.8 344.7h0M320.3 329.2h0M324.5 338.9h0M326.4 339.8h0M313.1 343.6h0M322.7 331.1h0M328 341.9h0M304.6 342.6h0M321.1 340.7h0M327.4 335.6h0M308.2 344.3h0M321.3 348.3h0M309.7 347.8h0M314.1 349.6h0M325.4 337.7h0M317.8 343.6h0M319.3 330.8h0M307.8 332.3h0M310.9 351.8h0M312.2 346.8h0M309.1 330.2h0M303.2 339.8h0M325.8 336.1h0M325.9 341.4h0M318.1 348.4h0M316.1 324.8h0M319 342.2h0M310.2 347.7h0M309.2 325.2h0M306.3 332.7h0M305.5 335.3h0M300.1 341.1h0M317.1 326.7h0M313.1 330.5h0M303.1 339h0M317.1 331.4h0M318 344.9h0M309.1 343.7h0M325.6 338.4h0M327.9 332.6h0M323.1 340.1h0M305.4 334.2h0M305.7 348.3h0M303.8 332.3h0M323.5 335.2h0M301.2 340.4h0M325.5 334.1h0M317.8 345h0M301.1 338.3h0M328.1 338.7h0M323.1 326.9h0M317.4 344h0M310.6 343.7h0M328 328.3h0M302.9 333.7h0M312 331.1h0M327.3 340.8h0M310.8 329.7h0M311.9 332.3h0M312.1 345.8h0M315.6 343.5h0M305.8 333.5h0M316 327.1h0M319.8 341h0M326.6 339.7h0M304.1 344.6h0M324 332h0M300.9 345.1h0M312.8 330.6h0M322.8 333.3h0M308.8 349.8h0M309.3 345.6h0M318.1 341.7h0M316.1 328.8h0M305.6 342.9h0M318.1 326.3h0M307.3 348.2h0M319.7 342.2h0M302.1 331.8h0M327.3 327.5h0M323.8 332.5h0M300.3 339.8h0M315 331.3h0M307.8 334.1h0M325.5 338.2h0M312.2 345.2h0M305.4 329.1h0M305.4 347.8h0M307.1 345.6h0M309.9 344.5h0M309.1 344.3h0M308.3 330.5h0" stroke="#c4c4c4" stroke-width="1.8" stroke-linecap="round" fill="none"/>
<path d="M101.7 238.5h0M84.3 289.8h0M47.4 227.6h0M73.7 69.6h0M156.7 166.1h0M232 380.2h0M125.6 339.4h0M63.9 309.2h0M105 119.6h0M231.1 138.7h0M106.8 92.5h0M45.7 174.3h0M114.7 60.9h0M84.7 143.9h0M101 330.3h0M130.2 284.1h0M91.6 128.4h0M76.5 236.7h0M212.5 369.6h0M292.2 316.6h0M179 329.6h0M253.6 362.4h0M217.8 145.4h0M85.3 313.1h0M96.9 216.7h0M38.1 156.6h0M45.4 137h0M82.2 297.6h0M142.9 103.7h0M174.8 213.1h0M75.9 203.5h0M76.2 288.6h0M182.2 187.2h0M34.3 210.6h0M37.9 199.2h0M161.7 137.1h0M286.4 302.4h0M164 261.6h0M79 98.3h0M183.6 311.7h0M213.4 38.1h0M190.4 320.3h0M186.9 273.7h0M223.6 81.7h0M161.9 293h0M170.9 323.5h0M87.6 122h0M90.9 199.2h0M134.9 56.7h0M32.7 130.2h0M198 330.8h0M99.9 52.4h0M298.4 321.8h0M207.5 77.6h0M129.5 144.1h0M123 337.7h0M127 236.9h0M206.3 318.6h0M232.4 218.4h0M146 40.4h0M90.4 317.9h0M271.4 273.9h0M100.8 229.9h0M219.1 285.3h0M245.7 279.6h0M50.7 221.6h0M38.1 120.1h0M104.8 154.2h0M84.6 105h0M194.9 229.9h0M217.5 349.9h0M208.2 40.4h0M271.4 307.1h0M221.4 196.1h0M45.5 128.6h0M214.2 277.5h0M95.7 119.5h0M207.9 329.3h0M140.9 268.3h0M234.4 177.3h0M215.7 53.7h0M152.5 110.1h0M247.4 359.5h0M35.6 195.8h0M314.5 291.8h0M147.1 271.8h0M112.9 100.8h0M162.2 21.6h0M306.9 301.6h0M219 53.4h0M120 40.6h0M318 315h0M216.1 383h0M266.6 356.5h0M100 237.1h0M129.2 309.3h0M31.3 232.7h0M210.2 144.2h0M97 53.6h0M99.4 209.7h0M28.5 236.1h0M131.2 220.2h0M173.5 363.6h0M182.9 20h0M142.6 26h0M217.6 210h0M178.7 27h0M133.1 120.5h0M124.5 153.4h0M191.5 14.1h0M221.8 65.2h0M178 264.1h0M156.3 66.1h0M37 118h0M110.3 74.8h0M220.9 384.6h0M42.1 185.2h0M103.9 252.5h0M239.1 365h0M270.3 303.3h0M168.3 105.8h0M256.2 360.7h0M63.4 201.6h0M104.5 308.2h0M177 327.9h0M221.5 143.1h0M40.4 106.8h0M134.1 78.1h0M166.2 215.7h0M53.1 101.3h0M282.1 317.2h0M194 238.9h0M197.7 338.7h0M208.5 377.9h0M62.2 232.5h0M36.7 124.8h0M147.1 276.5h0M46.4 266.2h0M161.4 49.8h0M100.8 329.3h0M214 131h0M148.3 28.6h0M225.9 244.7h0M111.7 196.7h0M202.4 119.7h0M139.5 206.8h0M78.1 319.6h0M161.8 54.8h0M185.8 252.4h0M273.6 297.8h0M68.7 112.6h0M300.4 320.3h0M156.5 204.5h0M188.2 142.4h0M145.7 259.5h0M132.6 50.5h0M184.1 193.5h0M109.1 235.4h0M191.6 80.1h0M120.8 161.8h0M186 370.5h0M229.6 185.9h0M108.2 53.1h0M89.1 64.4h0M59.1 150.8h0M211.5 172.5h0M95 282.5h0M54.7 145.1h0M251.8 247.7h0M125.4 335.1h0M185.6 15.2h0M271.3 353.2h0M126.9 255.7h0M298 316.6h0M32.5 280.9h0M73.2 85.1h0M211.6 294.8h0M162.2 86.8h0M36.2 253.1h0M199.6 289.1h0M154.9 118.6h0M131 215h0M207.2 58h0M43.8 241.5h0M214 320.4h0M174.6 239.8h0M35.4 160.7h0M90.7 146h0M244.7 287.6h0M142.7 41.1h0M203.3 326.4h0M240.3 161.1h0M225.4 169.3h0M55.7 137.2h0M131.3 69.7h0M167.5 201.4h0M311 288.2h0M128 229.2h0M184.3 18.9h0M233.1 135h0M61.1 91.1h0M301.2 310.2h0M129.4 305.7h0M176 55.3h0M295.7 290.3h0M221.6 361h0M128.7 211.8h0M68 157.2h0M222.3 210.7h0M187.2 264.5h0M110.6 160.6h0M249.3 162.7h0M160.4 53.3h0M41.3 247.6h0M232.2 344.1h0M119.5 263.9h0M108.9 265.2h0M174.3 320.9h0M272.3 270.9h0M164.3 67.6h0M122 212.3h0M148.5 283.9h0M323.9 307.2h0M32 199.3h0M281.1 283.5h0M212.1 74.3h0M234.9 94.2h0M159.6 116.4h0M246.7 251.8h0M79 292h0M156.8 198h0M162.1 353.4h0M163.4 201.1h0M299.2 285.9h0M264.3 354h0M76 232.5h0M26.8 126.3h0M241.9 160h0M223.1 288.5h0M123.6 135.6h0M269.4 272.7h0M96 70.7h0M134.3 345.9h0M131.1 233.8h0M231.4 167.1h0M267 352h0M223.9 356.1h0M221.9 94h0M264 351.4h0M122.8 319.7h0M118.5 181.6h0M158.8 65.1h0M91.2 61.4h0M294.9 316.7h0M210.6 256.4h0M215.6 216.1h0M91.3 322.1h0M132.6 347.6h0M34.2 260.2h0M226.5 197.5h0M130.5 321.3h0M110.4 64.2h0M259.7 359.6h0M57.1 109.4h0M270.2 319.5h0M227.6 77.1h0M182 222h0M120.7 327.1h0M65.5 310.2h0M154.7 150.1h0M167.1 311.4h0M112.6 294.8h0M196.4 207.6h0M278.1 315h0M231.6 100.4h0M193.2 143.4h0M54.3 203.4h0M261.9 309.1h0M183.5 101.3h0M131.6 110.2h0M51.7 83h0M218 232.2h0M255.8 266.9h0M192.1 336.3h0M55.3 203.1h0M22.9 239.2h0M221 109.6h0M234.8 321.1h0M52.1 90.5h0M113 142.7h0M211.6 34h0M242.2 373h0M81.3 241.3h0M233.9 165h0M192 226.8h0M191.6 220.5h0M39.8 177.1h0M254.7 332.4h0M286.7 358.1h0M68.7 229.2h0M87.7 285.5h0M155.4 325.5h0M31.1 224.2h0M77.7 213.5h0M167.4 121.8h0M113.1 171.9h0M180.2 286.4h0M118 329.7h0M162.4 352.8h0M89.7 85.9h0M231.2 187.4h0M278.7 317.6h0M82.5 226.4h0M187.7 17.3h0M157.1 277.6h0M197.5 243.3h0M229.5 200.1h0M192.3 303.7h0M179.2 278.3h0M112.6 307h0M54.6 90.7h0M285.8 334.6h0M243 273.5h0M216.4 165.5h0M228.4 206.6h0M229.2 68.2h0M215.1 140.1h0M142.2 204.7h0M67.4 131.9h0M187.1 63.1h0M146.3 135.2h0M236.9 327.4h0M157.8 217.7h0M180.7 225.6h0M148.7 299.8h0M163.6 236.8h0M236.3 346.4h0M242.8 352h0M267.6 275.7h0M214.3 91.4h0M111 221.3h0M242.4 268.4h0M90.7 63.3h0M179.5 95.6h0M130 78.1h0M180 37.6h0M192.5 285.1h0M225.1 371.4h0M180.9 209.5h0M59.7 158.8h0M102.9 260.4h0M226.7 289.3h0M180 182.7h0M246.6 350.2h0M206.6 146.7h0M109.9 159.5h0M175 366.1h0M223.3 58h0M217.9 113.7h0M257.3 279.1h0M225.7 333.1h0M276.6 345h0M188 274.1h0M127.4 271.4h0M181.5 232h0M212.7 44.8h0M162.1 127.6h0M178.3 299.1h0M62 85.3h0M34.2 118.3h0M244.9 343.2h0M198.7 205.3h0M195 94.6h0M213.9 264.3h0M159.7 259.1h0M319.1 294h0M177.8 231.5h0M44 99.9h0M154.1 126.1h0M252 349.4h0M90.8 198.2h0M232.2 363.3h0M46.1 173.8h0M62.2 87.1h0M142.4 36.2h0M237.9 289.5h0M68.2 283.1h0M214.4 86.7h0M287 328.3h0M183.6 108.1h0M130.5 88.1h0M223.6 210.8h0M135.1 320.5h0M281.8 339.7h0M44.9 284.5h0M134.8 36.3h0M134.1 304.6h0M37.3 163.3h0M90.8 255.1h0M273.8 335.1h0M216.5 50.7h0M280.9 355.6h0M259.5 317.9h0M204.6 57.4h0M212.6 283.9h0M200.3 347.8h0M140.6 218.2h0M258 317.5h0M59.5 71.4h0M275.2 357.3h0M66.9 302.9h0M176.5 68.8h0M298.3 309.5h0M155.4 181.3h0M202.6 119.6h0M247.5 367.6h0M296.6 346.7h0M213.5 385.9h0M318.2 294.6h0M77.8 240.3h0M144.6 266.1h0M277.6 312.5h0M140 349.1h0M291.8 309.6h0M51.1 88.8h0M227 365h0M167.3 19.9h0M164.9 45.1h0M69.8 137.5h0M226 258.3h0M248.8 309.9h0M105.3 77.1h0M126.3 291.2h0M187.8 344.6h0M162.4 20.8h0M237.9 152.8h0M200.1 359.5h0M151.5 191.2h0M295.4 330.8h0M46 294.8h0M125.9 125.3h0M233 340.5h0M188.1 296.6h0M86.1 288.8h0M42.3 107.1h0M55.4 196.2h0M157.5 218.2h0M78.8 130.4h0M159.1 47.3h0M105.8 276.7h0M281 329.9h0M175.6 84.4h0M195.3 369.4h0M33.7 284.2h0M136.5 126.8h0M121.3 293.8h0M272.1 355.1h0M238.7 161.3h0M301.5 327.5h0M96.4 76.6h0M246.8 248.9h0M184.8 373.2h0M165 335.7h0M32.3 266.9h0M228.8 185.8h0M116.7 250.3h0M227.1 216.1h0M290.3 351.9h0M145.7 254.1h0M102.3 177.3h0M183 136h0M289.6 298h0M47 139.3h0M212.9 210.1h0M239.4 173.4h0M265.1 364.5h0M260.9 350.4h0M139.2 35.2h0M137.8 138.7h0M150.9 23.7h0M98.4 285.9h0M123.8 42.3h0M179.8 372.4h0M225.6 358.3h0M214.1 370.5h0M125.1 335.8h0M158.1 305.1h0M173.5 83.9h0M115.5 82.2h0M227.3 212.9h0M160.2 295.4h0M140.9 151.1h0M212.4 371.7h0M194.6 336.8h0M134.9 160.6h0M35.5 286.7h0M228.8 355h0M207.1 56.9h0M151 41.5h0M104 64.9h0M266.1 318.9h0M188.8 277.4h0M179.5 345.6h0M36.3 223.7h0M175.4 53.8h0M137.6 205.7h0M142.4 339h0M105 319h0M187.4 348.8h0M255.8 274.2h0M170.7 161h0M66.9 90.8h0M202.9 36.5h0M94.8 303.1h0M250.2 167.3h0M215 160.6h0M220.1 121.5h0M279.4 362.7h0M242.8 366.9h0M237.7 355.1h0M272.9 327.4h0M80.1 311.2h0M154.4 82.3h0M205.3 289h0M130.9 198.9h0M210.1 74.4h0M36 175.1h0M234.3 126.5h0M165.3 228.4h0M239.8 230.6h0M243.1 275.1h0M222.4 74.8h0M172.9 92.3h0M132.2 350.8h0M232.4 204.7h0M116.9 198.6h0M94.1 209.6h0M50.8 304.1h0M78.9 267.5h0M157.6 23.2h0M109.4 65.4h0M214.1 350.6h0M243.1 355.4h0M73 316.2h0M130 91h0M237.5 220.2h0M177.1 43.9h0M202.8 57.8h0M81.5 180.8h0M197.6 267.9h0M201 287.7h0M228.8 96.9h0M30.3 269.3h0M295.4 326.7h0M207.3 263h0M209.7 42.7h0M200.9 282.8h0M259.7 263.6h0M216.2 387.6h0M49.1 151.8h0M227 171.8h0M189.1 342.1h0M175.3 223.4h0M136.6 63.1h0M197.7 261h0M41 271.8h0M222.6 351.4h0M104.5 68.6h0M95.2 114.8h0M153.5 358.5h0M161.5 219.1h0M216.3 389.5h0M134.2 299.7h0M40 248h0M244.1 366.4h0M43.5 289.1h0M40.7 125.1h0M165.5 342.6h0M228.8 215.4h0M157.8 19.7h0M251.4 275.5h0M66.3 78.9h0M96.9 292.5h0M128.2 137h0M98.5 299.2h0M265.1 271.2h0M54.6 105.1h0M202.9 40.2h0M109 307h0M53.6 133.1h0M234.8 327h0M128.2 333.1h0M208 344.1h0M214.6 73.9h0M167.7 272.5h0M123.2 224.9h0M64.7 183.8h0M85.6 148.7h0M78.2 293.3h0M54.9 169.3h0M56.4 303h0M112.6 182.6h0M133.9 169.3h0M200.3 46.5h0M245.9 152.6h0M233.7 379.6h0M214.8 263.9h0M68 263.9h0M159.2 114.1h0M257.1 252.2h0M228.1 79.8h0M112 239.2h0M32.6 139h0M75.8 229.4h0M160.2 19.4h0M26.5 211.9h0M171.6 247.6h0M231.1 309.5h0M153.4 46.8h0M198.6 292h0M225.4 200.7h0M44.5 106.6h0M271.5 368h0M227.8 80.3h0M182.3 230.1h0M241.6 237.7h0M204.8 25.2h0M32.9 266.5h0M144.9 233.8h0M72.5 142.1h0M170.2 173.1h0M224.1 374.9h0M126.5 262h0M220.4 63.5h0M153.4 242.3h0M205.8 381.1h0M221.5 288.3h0M138.1 186.9h0M227.3 332.5h0M209 224.7h0M62.8 243.4h0M193.3 23.3h0M193.1 261.4h0M249.8 262.7h0M58.7 113.8h0M28.9 244.2h0M165.4 356.9h0M86.5 314.5h0M179 359.3h0M178.2 206.8h0M68.9 149.9h0M93 92.3h0M147.7 224h0M171.4 69.1h0M202.8 66.1h0M227.1 111.1h0M116.5 331.8h0M102.1 83.9h0M207.1 252h0M169.7 27.3h0M36.2 115.9h0M84.3 211.8h0M112.5 56.7h0M167.1 232.1h0M169.7 90.7h0M166.8 47.1h0M249.8 301h0M133.7 298.2h0M54.3 159.3h0M112.8 247.2h0M115 45.4h0M77.1 66.6h0M192.2 174.9h0M36.5 149.3h0M108.3 212.9h0M87 106.8h0M202.3 50.7h0M240.2 240.2h0M141.7 117.4h0M109.8 206.8h0M217.8 352.6h0M234.1 380.5h0M176.4 139.9h0M236.2 228.8h0M131.3 217.6h0M287.7 351.1h0M265.6 327.2h0M49.9 89.6h0M224.9 128h0M98.4 314.3h0M53.5 212.2h0M276.3 327.7h0M230.9 102.1h0M107.3 160.4h0M160.7 259.6h0M160.5 224h0M162.8 60.2h0M210.2 43.3h0M285.8 285.2h0M311.7 321.1h0M136 190.2h0M305.8 295.4h0M64.4 204.6h0M78.8 84.3h0M232.7 242.9h0M222.1 171h0M322.9 308.5h0M95 330.2h0M127.8 157h0M143.2 259.6h0M90 58.9h0M217.6 127.6h0M24 249h0M80.3 93.4h0M57 191h0M146.1 215.6h0M94.7 62h0M94.5 169.1h0M195.6 18.8h0M86.6 313.1h0M188.2 96.5h0M216 248.1h0M207.4 213h0M215.4 359.6h0M150.2 139.1h0M191.5 275.5h0M234.7 284.4h0M111.2 324h0M168 16.6h0M118.6 195.1h0M47 239.2h0M77.5 291.7h0M36.1 209.4h0M174.4 189.9h0M181.8 222.5h0M38 196.6h0M210.4 245.3h0M44.3 105.9h0M40.6 196h0M130.2 312.5h0M279.3 361.8h0M86.4 59.8h0M110.6 289.8h0M185.3 25.3h0M207.2 86h0M64 66.8h0M108.5 59.6h0M110.4 250.4h0M57.8 148.4h0M210.4 125h0M172.3 346.6h0M166.7 36.6h0M262.5 276h0M234.7 140.2h0M219.3 307.9h0M197.5 168.9h0M83.8 313.8h0M66 156.5h0M195.3 105.7h0M23 218.6h0M95.7 60.7h0M178.3 212.1h0M50.9 179.9h0M236 221.5h0M248.5 158.1h0M183.5 141.6h0M214.9 177.9h0M46.2 108.4h0M154.2 28h0M148.4 27.3h0M180.2 285.5h0M153.4 214.4h0M57.3 108.1h0M200.8 37.9h0M86.6 299.4h0M290.5 309.6h0M104.2 235.2h0M284.4 354.6h0M206.8 360.1h0M125.9 80.6h0M162.5 77.9h0M233 82.8h0M51.5 85.9h0M24 234.8h0M116.8 44.5h0M58.4 178.8h0M304.2 310.2h0M223.2 276.4h0M142.5 55.2h0M264.4 308.5h0M88.6 256.5h0M55.6 274.1h0M260.9 366.5h0M150.3 359.5h0M226.8 378.3h0M215.9 260.9h0M213.2 142.6h0M294.8 278.1h0M90.2 222.3h0M203 224.1h0M89.6 181.2h0M51.5 242.9h0M137 246h0M73.6 160.7h0M78.9 312.5h0M193.7 338h0M22.2 217.3h0M123.1 275.5h0M114.2 230.5h0M49 245.5h0M163 36.7h0M100.4 233.4h0M219.5 110.6h0M105.7 285.9h0M139.2 162.9h0M296.4 294.3h0M249.9 243.9h0M135.4 343.3h0M215.7 227.2h0M178.3 255.9h0M114.7 305.2h0M196.9 376.7h0M35 251.2h0M98 314.2h0M44.4 250.4h0M53.9 94.3h0M229.2 294.9h0M65.5 273.7h0M223.2 359.4h0M101.1 94.4h0M215.1 368.9h0M156.9 37h0M227.4 258.3h0M272.3 277.3h0M260.1 314.4h0M317.7 290.2h0M45.5 98.4h0M240.8 265.6h0M223.3 321.3h0M210.4 370h0M109.8 55.8h0M129.3 180.1h0M156.6 286.9h0M170.3 348.1h0M78.4 171h0M307.2 289.7h0M189.2 339.1h0M76.8 140.8h0M253.3 155.6h0M68.7 258.4h0M319.8 300.8h0M231.6 156.1h0M174.9 371.1h0M136.6 238.4h0M163 322.1h0M207 31.2h0M201.1 19.9h0M197.8 76.8h0M180.6 99.4h0M245.2 236.5h0M203.5 45.2h0M233.4 88.7h0M224.3 124.2h0M171.7 228.5h0M310.9 315.5h0M41.9 134.8h0M230.4 182.3h0M87.5 322.2h0M72.4 289.1h0M160.3 328.5h0M142.1 339.1h0M106.1 235h0M228.8 165.9h0M144.4 136.7h0M119.7 253.2h0M127.7 303.7h0M202.4 100.2h0M151.7 309.6h0M302.4 283.6h0M167.5 266.8h0M231 282.9h0M44.2 261.9h0M149.8 185.4h0M200.6 374.7h0M216.7 72.4h0M82.9 245.8h0M89.4 277.8h0M183.7 117h0M277.2 323.7h0M35.5 226.9h0M143 232.5h0M140.7 107.1h0M100.7 235.1h0M239 259.6h0M269.4 320.9h0M233.8 120.7h0M74.3 75.5h0M274.6 325.4h0M47.6 107.7h0M191.4 39.8h0M156.9 89.5h0M130.4 95h0M218.7 309.3h0M198.5 26.7h0M289.1 324.5h0M66.4 96.8h0M230.7 296.8h0M117.3 301.7h0M187.2 24.2h0M226.2 336.6h0M184.5 237.8h0M52.1 87.8h0M235.8 231.2h0M112.7 111.6h0M93.6 262.3h0M223.5 231.3h0M128 240.6h0M227.1 121.7h0M240.7 259.8h0M247.9 239.4h0M246.3 237.7h0M203.5 181.9h0M82.5 315.5h0M64.8 204.1h0M144 310.5h0M252.3 363.1h0M204.4 67.3h0M231.4 82.3h0M30.8 239.3h0M231.9 185.1h0M214.4 96.4h0M191.5 177.7h0M110.1 75.8h0M111.1 92.9h0M254.6 257.8h0M72.1 67.9h0M299.9 322.6h0M147.9 308.3h0M234.3 262.4h0M285.2 283.8h0M183.5 251h0M49.1 210.2h0M147.5 243.9h0M264 347.9h0M83.5 60.7h0M180.2 19.9h0M147.7 150.7h0M120.8 123.3h0M220 233.5h0M70.2 283h0M67.6 193.5h0M147 229.2h0M211.2 379.4h0M150.1 144h0M129.4 99.5h0M44.5 130.4h0M36.2 172.4h0M32 252h0M91.2 212.9h0M156.4 79.4h0M228.8 106h0M131.9 297.1h0M220.6 362.7h0M121.7 339h0M41.4 154.4h0M196.2 302.8h0M170 298h0M224.4 125.2h0M193.2 141.8h0M147.2 50.2h0M98.9 100.8h0M167 183h0M106.1 310.7h0M174.4 354.2h0M111.4 277.5h0M46.2 199.5h0M106 196.7h0M202.5 65.4h0M261.1 337.3h0M292 286.7h0M110.7 51.5h0M38.5 162h0M120.2 81.6h0M163.2 102.7h0M136.3 155.6h0M114.6 151.2h0M215.8 294.7h0M125.6 101.5h0M107.8 105.1h0M280.1 344.2h0M31.3 199.9h0M195.1 206.7h0M55.9 202.4h0M284.1 362.1h0M195.9 141.9h0M214.3 207.7h0M103.6 120.8h0M311.9 288.6h0M146.4 174.4h0M122.8 112.7h0M225 324.7h0M130.7 337.1h0M268.1 330.5h0M233.8 365.5h0M218.1 69.1h0M112.1 80.6h0M263.2 318.1h0M89.8 296.4h0M280.6 362.2h0M168 342.9h0M281.3 341.7h0M67.7 198h0M106.6 63.2h0M253.8 269.6h0M230.6 257.8h0M85.3 309.5h0M86.1 181.9h0M220.4 171.5h0M72.6 170.3h0M78.9 317.4h0M60 266.2h0M217 332.8h0M288.4 276.5h0M186.5 99h0M143.3 45.4h0M75.8 131.7h0M182.2 97.4h0M96.7 228.4h0M37.8 120.9h0M69.4 68.1h0M135.9 112.5h0M118.9 328.3h0M203.2 49.9h0M84.3 285.1h0M211.7 65.6h0M75.7 110.2h0M144 316h0M261.4 311h0M294.7 291h0M187.5 293.2h0M147.6 215.1h0M79.2 207.4h0M121.7 200.3h0M225.1 388.9h0M64.4 310h0M219.1 390.5h0M35.1 140.5h0M102.3 102.5h0M76.7 67h0M124.3 141.6h0M125.4 36.4h0M247 317.9h0M119.8 44.2h0M148.9 208h0M104.9 59.7h0M109.9 83.9h0M209.9 357.5h0M56.3 77.5h0M231.6 124.2h0M211.6 90.7h0M328.8 303.5h0M220.2 43.4h0M193.9 359.3h0M216.9 111.9h0M53.6 255.6h0M107.7 50.6h0M148.6 173.1h0M156.9 156.8h0M211.9 201.3h0M77.9 262.3h0M149.1 252.6h0M149.1 47.7h0M78.2 244.2h0M59.8 237.7h0M228.3 337.7h0M222.6 114.2h0M44.9 114.9h0M209.4 68.4h0M62.1 245h0M325.5 313.5h0M202.3 151.8h0M107.8 171.7h0M235.3 126h0M207 327h0M163.1 326.6h0M162.8 286.5h0M185.1 14.6h0M40.7 252.1h0M233.7 288h0M111.1 123.5h0M185.7 50.5h0M318.5 308.8h0M237.2 357.8h0M105 120.1h0M64.7 176.1h0M152.7 31.9h0M116.8 46.9h0M122 208h0M222.4 286.5h0M241.2 368.8h0M158.7 42.2h0M229.4 185h0M231.7 381.8h0M288.4 284.3h0M170 165.3h0M37.1 253.2h0M73.8 305.2h0M227.7 133.6h0M43.5 227.9h0M72 311.3h0M30.5 208.3h0M168.4 21.4h0M94 176.6h0M295.9 334.5h0M216 300.9h0M117.9 51.3h0M186.3 262.4h0M233.7 122.3h0M53.8 178.6h0M152.3 21.8h0M225.8 385.8h0M247.3 260.5h0M266 267.4h0M156.1 235.8h0M291.7 346.2h0M77.4 221.7h0M224.1 131.3h0M58 95.3h0M181.1 58.9h0M151.4 347.2h0M85.9 60.5h0M204.2 385.5h0M214.1 326.5h0M231.9 119.8h0M181.3 286.4h0M173.1 363.2h0M225.5 120.6h0M263.3 276.6h0M192.3 120.3h0M208.3 362.1h0M235.8 232.7h0M153.6 190h0M125.3 100.8h0M68.8 270.3h0M219 114.3h0M248.6 368.6h0M207.6 330.5h0M45.1 95.2h0M301.2 316.5h0M73.5 112.3h0M68.7 302.9h0M262 359.1h0M208.7 38.3h0M252.9 339.6h0M177.5 55.3h0M207.6 256.8h0M37 195h0M107.4 177.6h0M57.1 88h0M181.4 14.9h0M228.9 194.2h0M214.9 59.3h0M39.5 223.1h0M215.8 319h0M227.2 340.3h0M240.3 319.2h0M61.6 139.1h0M86.6 189.7h0M46.2 239.5h0M81.3 312.4h0M59 129.2h0M203.8 203.5h0M174.7 30.2h0M163.6 355.1h0M217.8 125.1h0M133.5 351.5h0M152.2 223.1h0M232.8 125.2h0M143.1 280.6h0M283.9 303.5h0M213.2 207.2h0M99.3 80h0M263.8 263h0M104.2 135.3h0M54.6 295.5h0M266.4 343.4h0M210.9 31.5h0M271.8 349.2h0M98.2 315.5h0M260.5 290.4h0M67.6 150.8h0M158.9 59.5h0M255.7 311.5h0M169.1 350.2h0M86.1 299.1h0M216.5 120.7h0M111.7 79.1h0M238 298.7h0M238.2 337.2h0M38.1 118.1h0M185 115.2h0M172.5 230.8h0M230.8 226.4h0M291.1 332.6h0M103.5 72.8h0M67.3 88.5h0M110.9 282.6h0M205.2 99h0M205.4 98.7h0M239.3 324.9h0M31.2 121.4h0M66.2 185.3h0M179.5 256.5h0M210.6 376.9h0M78.7 303.8h0M272.2 291.6h0M181.1 205.5h0M177.3 313.3h0M181.8 220.7h0M162 237.6h0M65.3 103.3h0M50.3 118.7h0M229.9 225.7h0M279 283.2h0M88.5 81h0M234.7 163.5h0M45.3 196.5h0M126.3 341.8h0M53.4 94h0M156.6 153.6h0M232.3 118.4h0M252.2 167.7h0M116.3 242h0M164 365.6h0M198.4 130.6h0M74.2 161.9h0M143 26.9h0M240.6 143.5h0M68.1 84.1h0M106.2 143.1h0M53.2 266.3h0M179.4 234.6h0M262.6 296.4h0M90.1 137.8h0M210 48.2h0M162.2 68.8h0M113.9 339h0M143.1 71.3h0M197.1 192.6h0M196.3 77.7h0M201.7 123.6h0M251.7 319.2h0M189.3 322h0M36.4 150.6h0M169.9 236.8h0M150.6 136.7h0M285 354.1h0M81.8 70.7h0M236.8 344.4h0M163.7 122.7h0M208.5 379h0M167.2 33.1h0M222 375.4h0M207.7 374.5h0M135.7 109h0M167.9 191.2h0M198.2 319.4h0M146.4 160.7h0M134 54h0M156.7 220.2h0M216.4 187.6h0M174.7 98.6h0M79.9 313.6h0M198.4 146.2h0M183.3 56h0M197.1 92.3h0M313.8 306.9h0M37.2 183.6h0M40 175.3h0M221.5 150.5h0M48.8 293.3h0M254.8 158h0M176.5 235h0M218.5 234.7h0M80.7 295.8h0M114.4 184h0M37.5 123.6h0M163.4 256.4h0M248.7 296.1h0M53.1 142.9h0M108.8 285.6h0M289.2 282.3h0M81.4 186.2h0M255.6 288.5h0M228.4 292.7h0M198.3 136.6h0M75.1 62.8h0M282.9 365.5h0M191 35.1h0M164.1 311.9h0M240.5 229.3h0M52.9 248.6h0M61.1 299.3h0M188 373.3h0M227.8 169.3h0M194 19.9h0M204.2 317.8h0M282.3 273.8h0M256.8 363.8h0M270 272.3h0M157.6 175.5h0M143.8 338.2h0M100.3 270.8h0M171.7 355.9h0M245.4 236.3h0M78.9 115.5h0M106.3 176.3h0M301.4 333.5h0M194.1 17.4h0M97 218.7h0M192.9 268.1h0M113.2 63.1h0M96.5 329.2h0M293.9 282.7h0M234.4 110.4h0M230.1 196.7h0M228.1 172.4h0M211.4 32.9h0M175.7 369.5h0M211.1 32h0M207.7 91.8h0M296.9 317.3h0M86.6 175.4h0M234.9 137.7h0M222.8 93.8h0M184.1 67.2h0M186.3 92.8h0M137 256.6h0M62 276.4h0M202.3 256.1h0M271.3 312.6h0M121.3 71.6h0M290.4 280.2h0M261.8 330.8h0M220.4 52.4h0M175.4 212.1h0M45.3 132.5h0M185 87.5h0M77.4 182.5h0M136 50.7h0M86.7 281.4h0M227.3 91.1h0M200.4 266.2h0M210.4 146h0M232 124.8h0M231 134.2h0M89.4 139.8h0M173.8 363.8h0M43 262.6h0M216.8 367.5h0M45.6 112h0M42.4 279.9h0M271.1 274.6h0M182.7 202.8h0M307.9 294.9h0M132.6 239h0M194.1 102h0M55.2 295.4h0M42.1 225.4h0M25.7 258.8h0M176.9 32.3h0M139.8 207.8h0M227.9 301.5h0M280.7 324.1h0M165 130.8h0M226.9 155.4h0M59.4 175.5h0M130.9 143.5h0M208.7 103h0M66.9 210.4h0M30.7 224.5h0M320.8 309.4h0M105.9 323.4h0M157.7 34.5h0M92.8 196.8h0M257.8 281.2h0M211.5 133.7h0M61.3 189.3h0M105.8 230.2h0M188.8 195.9h0M70.1 209.7h0M229.5 228.4h0M290.3 301.9h0M155.1 21.3h0M296.5 347.4h0M115.2 330.8h0M59.8 203.9h0M157.3 59.1h0M122.1 327.5h0M148.7 30.9h0M157.1 355.2h0M214.4 198.6h0M169.3 252.1h0M105.8 239.5h0M180.5 86.7h0M234.5 120.5h0M179.9 211.3h0M66.3 70.4h0M217 367.6h0M132.1 120.1h0M202.9 127.1h0M145.5 282.4h0M209.9 256.3h0M186.2 145.7h0M302 287.2h0M230.7 114.8h0M117.6 196.4h0M151.8 114.3h0M42.3 269.2h0M96.7 255.5h0M174.7 98.8h0M39.6 141.6h0M51.3 259.8h0M205.7 189.8h0M49.6 179.5h0M126.9 316h0M233.5 297h0M224.2 332h0M298.7 320.1h0M193.6 362.5h0M213.1 345.4h0M310.9 311.9h0M31.4 123.7h0M144.2 198.4h0M240.4 239.4h0M230.3 185.3h0M40.6 239.1h0M152.1 273.2h0M205.3 194.6h0M233.5 123.5h0M67.6 254.6h0M55.7 93.2h0M247.3 360.3h0M287 333h0M101.9 137.2h0M245.3 354.5h0M165.3 365.3h0M113.1 195.6h0M212.5 380.8h0M213.8 292.1h0M294.9 298h0M110.1 103.7h0M270.8 331.7h0M162.3 219h0M184.6 192h0M32.1 186.8h0M34.7 116.3h0M213.4 189.1h0M197.4 336.4h0M226 250h0M267.5 305.4h0M264.6 333.4h0M93.6 276.4h0M195.7 21.8h0M148.8 89.6h0M233.3 237h0M182.6 247.5h0M113.6 319.8h0M150.7 44.1h0M68.4 169.5h0M155 305.5h0M73.6 158h0M254.3 361h0M57.9 86h0M131.3 275.7h0M208.3 386.5h0M40 229.6h0M33.7 217.2h0M203.9 261.4h0M188.7 187.9h0M222.9 65.9h0M181.2 312.2h0M89.4 124.7h0M89.3 303.2h0M252.1 159.8h0M297.2 284.7h0M172.2 147.6h0M218.1 335.4h0M224.7 55.5h0M196.8 127.8h0M291.8 301.3h0M205.6 166.2h0M74.6 120.3h0M238.4 287h0M269.4 352.1h0M198.5 92.5h0M213.1 73.8h0M145.9 171.1h0M214.3 144.7h0M142.5 99.4h0M39.1 242.5h0M126.8 271.9h0M174.4 183.9h0M159.2 359h0M36.9 237.4h0M168.9 206.9h0M167 256.5h0M84.5 58.8h0M61.7 284.8h0M149.8 359.2h0M224.7 212.1h0M159.8 106.6h0M86.6 106.4h0M88.7 305.1h0M184.7 227.2h0M44.4 233h0M228 206.2h0M59.3 124.2h0M57.8 146h0M195.9 80.2h0M114.1 276.2h0M228.7 74.1h0M42.3 207.4h0M218.1 265.3h0M231.6 291.6h0M145.2 168.2h0M88.6 159.9h0M196.4 15.3h0M50.7 84.3h0M214.9 31.1h0M214 357.5h0M233.9 176h0M199.4 148.9h0M228.6 84h0M76.2 108.9h0M136.7 56.7h0M163.2 51.3h0M235.5 217.8h0M137.1 64.4h0M94.2 170.6h0M133.7 332.1h0M109.4 142.3h0M170.7 349.6h0M22.2 227.9h0M69.8 304.6h0M231.7 247.9h0M295 334.5h0M243.6 371.8h0M266.6 360.9h0M176.3 362.7h0M72.9 142h0M154.7 313.1h0M48.2 301.4h0M226.3 388h0M101.5 78.2h0M155.3 26.3h0M110.7 284.9h0M193.3 374.7h0M287.6 355.6h0M135.5 117.3h0M219.3 282.4h0M173.2 109.4h0M310.9 292.7h0M304.3 315.7h0M187 286.2h0M192.9 112.5h0M229.4 210.7h0M193.9 58.3h0M180.6 314.3h0M88.2 123.2h0M57.8 304.8h0M236.6 245.5h0M238.3 137.4h0M80.4 82.1h0M87.5 292.1h0M112.7 227h0M139.2 251.1h0M257.3 276h0M53.3 241.3h0M253.7 313.6h0M272.8 356.2h0M315.2 298.6h0M231.1 74.3h0M55.9 259.3h0M59.6 258.2h0M191.3 254.4h0M123.4 297.2h0M180 115.9h0M155.5 52.8h0M227.9 142.6h0M208.9 118.3h0M252.4 264.2h0M78.8 192.6h0M209.7 21.4h0M150.1 91.8h0M96.6 251.3h0M234 168.1h0M281.3 328.7h0M192.3 154.3h0M138.4 309.4h0M82 65.8h0M245.8 239.6h0M201.2 369h0M121.8 218.5h0M206.6 268.8h0M202.7 225.5h0M229.3 239.1h0M104.1 307.6h0M34.7 172.4h0M163.6 89.2h0M38.7 111.7h0M128.1 51.8h0M25.1 209.8h0M102.5 216.2h0M117.4 212.8h0M227.1 232.8h0M305 299.2h0M317 296.3h0M257.6 252h0M115.6 54.9h0M99.7 264.1h0M222.9 257.1h0M215.6 71.6h0M220.8 168.6h0M267.2 272.8h0M127.8 345.2h0M123.3 306.7h0M91.9 236.7h0M35.3 126.3h0M218.4 203.3h0M228.6 219.7h0M239.6 318.5h0M122.7 169.6h0M156.8 303.9h0M85.1 312.5h0M141.4 179.4h0M198.8 142.7h0M164.4 43.7h0M231.4 140.1h0M230.9 71.3h0M37.2 174.1h0M194 31h0M300.7 307.6h0M143.4 294.1h0M152.2 276.3h0M245.6 371.5h0M163.5 357.5h0M140.2 316.8h0M287.5 352.4h0M129.8 40.9h0M225.3 113.1h0M89.8 298.4h0M32.7 203.7h0M93.6 191.7h0M88.1 319.2h0M153.6 360.1h0M151.9 248.4h0M163.1 22.6h0M33.5 277.8h0M158.9 26.5h0M190.4 351.6h0M204.6 77.7h0M223.3 111.2h0M298.1 349.4h0M128 290.1h0M297.8 337.7h0M236.8 312.3h0M132 106.7h0M230.7 378.1h0M292.2 354.3h0M253.6 249.3h0M53.6 214.8h0M99.2 204.1h0M242.6 152.8h0M79.5 303.6h0M93.4 69.6h0M147.9 344h0M221.2 103.2h0M143 208.4h0M207.4 71.1h0M35.8 199.2h0M33.2 182.7h0M221.1 206.2h0M150.5 170.7h0M117.6 193.5h0M120.7 311.3h0M99.9 54.2h0M279.9 301.8h0M227.6 192.9h0M85 157.7h0M31.4 205.7h0M245.3 295.8h0M275.8 342.6h0M31.9 126.7h0M49 107.8h0M115.5 57h0M155.7 38.2h0M124.4 172.2h0M229.5 187.3h0M56.7 193.2h0M48.7 92.2h0M165.5 94.2h0M127.6 83.3h0M31.7 191.8h0M179.2 373h0M48.1 92.6h0M251.2 345.3h0M23.5 240.5h0M157.1 124.9h0M96.1 145h0M138.5 100.9h0M105 305.7h0M103.4 274.4h0M212.5 94h0M124.1 68.9h0M32.4 274.2h0M227.6 381h0M43.8 244.5h0M212.9 380h0M189.1 124.9h0M60.2 215.8h0M229.9 378.3h0M302.9 316.8h0M201 174.1h0M157.3 282.5h0M120.6 311h0M256.3 276.7h0M136.8 175.7h0M259.5 339.8h0M34 147.7h0M91.4 221.4h0M293.4 326.9h0M229.7 172.2h0M119.8 97.8h0M302.5 284.5h0M82.5 112.1h0M236.1 135.8h0M244.2 146.1h0M48.2 158.3h0M163.6 29.9h0M217.6 195.5h0M101.9 259h0M248.2 163.8h0M167.7 79.7h0M73.8 60.5h0M99.3 199.3h0M247.3 163.3h0M103 50.3h0M210.3 92.4h0M38.7 196.7h0M263.6 313.5h0M206.5 350.1h0M118 99.5h0M219.7 103.5h0M91.2 71h0M55.2 278.7h0M190.4 81.8h0M198.1 148.7h0M301.9 309h0M170.6 256.2h0M55.3 103.4h0M187.9 350.1h0M37.2 209.1h0M268.8 360.2h0M182.8 348.9h0M140.6 283.7h0M126.5 97.9h0M170.6 354.1h0M236.5 235.8h0M189.8 197h0M129.2 280.9h0M193.7 288h0M227.1 364.4h0M112.5 335h0M75.1 316.5h0M53.2 80h0M121 159.7h0M115.8 234.2h0M111.9 257h0M61.7 77.1h0M229.2 223.4h0M71.2 86.9h0M194.9 362.3h0M182.2 20.5h0M108.4 323.1h0M166.3 34.5h0M163.8 183.9h0M57.4 104.1h0M177.2 25.6h0M218.8 137.9h0M303.6 303.6h0M90.1 278.2h0M113.6 339.7h0M109.3 313.6h0M49.5 96.4h0M72.9 261.3h0M181.1 273.6h0M199.2 372.5h0M109.8 101.1h0M244.3 342.6h0M321.6 301.6h0M282.5 360.5h0M44.9 102.2h0M45.5 237.7h0M64.8 176.6h0M282.1 332.3h0M152.5 223.9h0M266.4 324.8h0M276.8 365.8h0M206.8 31.4h0M79.7 168h0M174 319.2h0M120 107.3h0M219 388.5h0M176.5 179h0M143.7 161.7h0M190.2 377h0M265.8 272h0M221 199.9h0M114.3 207.7h0M130.1 138.8h0M112.6 286.8h0M232.5 226.9h0M46.2 290.7h0M174.2 369.8h0M102.4 110.6h0M170.8 291.5h0M128.5 106.1h0M226.6 334.4h0M219.4 386.4h0M248.3 159.8h0M23.8 225.5h0M164.1 273.8h0M234.2 223.9h0M188.5 248.7h0M143.2 245.1h0M157.6 21.4h0M226 165.7h0M209.8 183.8h0M164.3 19h0M86.1 222.4h0M159.3 249h0M240.7 149.5h0M167.6 35.9h0M80.2 94.4h0M177.7 165.9h0M155.7 361.8h0M153.9 350.8h0M110.5 101.6h0M278.9 353h0M120.2 343.3h0M140.4 26.5h0M202 266h0M199.2 20.4h0M214.3 202.8h0M70.2 84.7h0M68.5 181.8h0M110.4 274.9h0M63.1 88.9h0M177.1 98.7h0M65.5 77.9h0M105.7 313.7h0M272.3 367.9h0M93.1 208.5h0M133.8 131.4h0M77.8 318.6h0M230.4 219.6h0M92.2 55.5h0M312 288.3h0M166 40h0M152.1 334.9h0M216 191.9h0M187.4 368.2h0M198.8 162.2h0M44.8 233.2h0M203.6 378.9h0M204.3 21.6h0M141.8 51.6h0M66.7 62.5h0M146.3 122.5h0M26.9 253.7h0M108 197.4h0M65.6 136.1h0M68.8 113.1h0M28.9 230.8h0M153.7 86.1h0M159.9 270.5h0M102.3 331.8h0M135.5 67.6h0M77.5 237.2h0M123 83.1h0M54.9 305.7h0M329.4 305.8h0M40.5 203.1h0M208.8 118.3h0M207.5 225.7h0M154.1 246.1h0M104.2 82h0M203.6 42.5h0M269.2 332.1h0M214.8 153h0M96.9 189h0M219.1 129.2h0M207.3 380.5h0M164.8 160.8h0M77.1 300.4h0M286.1 340.9h0M304 302.6h0M292.9 323h0M89.8 283.9h0M39.9 111.6h0M90.5 304.4h0M97.3 58.1h0M229.4 71.7h0M33.3 237.8h0M45.8 297.8h0M201.5 162.1h0M235.7 299.7h0M113.2 330h0M149.6 224.9h0M208.7 383.4h0M217.9 206.7h0M97.6 280.6h0M108.3 80.9h0M147.5 81h0M227.7 182.9h0M37.9 177.8h0M30.3 123.3h0M53.2 245.6h0M74.4 138.2h0M86.1 314.7h0M154.7 37.6h0M220.2 196.9h0M195.2 225.7h0M201 374.2h0M112 277.1h0M202.9 88.9h0M91.1 95.7h0M136.7 232.6h0M142.3 105.7h0M226.2 87.7h0M170.5 197h0M134.7 330.3h0M214.9 185.5h0M293.9 335.6h0M38.9 195.4h0M31.6 269.8h0M252.6 273.1h0M87.5 95.1h0M60.7 223.6h0M184 24.7h0M227.5 102.9h0M155.9 215.9h0M67 282.6h0M139.3 241.5h0M206.1 271h0M69.4 276.7h0M133.1 221.4h0M231.4 73.4h0M54.6 232.8h0M285.1 296.1h0M317.4 290.8h0M135.8 221.2h0M176 306.6h0M166.3 19.7h0M51.3 291.1h0M128.7 77.5h0M213 388.6h0M309.1 284.6h0M75.4 215.9h0M225.6 123h0M214.9 351.9h0M213.7 380.1h0M201.6 110.2h0M152.2 350.8h0M86.8 190.1h0M109.7 180.5h0M45.2 129.9h0M91.7 322.6h0M244.2 300.1h0M104.8 219.2h0M113.2 217.3h0M186.5 144.9h0M181 37.8h0M181 374.3h0M59.3 216.8h0M153.8 176.1h0M239.2 368.9h0M43.4 142.5h0M175.4 38.4h0M159.3 29.1h0M143.8 275.1h0M131.8 304.4h0M222.3 294.7h0M188 47.8h0M271.8 342.5h0M229.8 219.5h0M120.4 338.9h0M321.4 308.3h0M169 255h0M241.3 293h0M109 115.7h0M201.6 252h0M147.7 97h0M230.8 379.3h0M37.4 202.8h0M126.6 158.1h0M55.8 172h0M160.5 336.3h0M130.7 268.8h0M97 236h0M64.3 298.7h0M221.6 85.5h0M153.7 314.2h0M266 309.6h0M306.5 285h0M22.7 236.2h0M136.1 236.1h0M64.6 90.7h0M81.3 200.6h0M136.6 41.6h0M112.1 92.4h0M186.2 257.2h0M160.6 363.2h0M232.2 127.3h0M162.9 265.3h0M218.2 148h0M157 169.2h0M223.1 286.5h0M79.6 316.9h0M213.4 28.6h0M168.4 211.2h0M211.6 99.6h0M25.9 212.1h0M37.4 146h0M120.4 339.1h0M160.7 291.6h0M222.9 168.2h0M148.1 228.3h0M111.9 336.3h0M154.9 355.2h0M286.9 280.6h0M219.8 366.7h0M58 189.1h0M136.8 243.5h0M43.9 137.4h0M243.5 166h0M238 332.2h0M227.1 81.3h0M60.8 300.5h0M56 116.1h0M127.8 73.3h0M60.4 142.8h0M205.6 95.8h0M114 287.6h0M226.5 65.8h0M159.4 61.1h0M160.9 343.4h0M171 79.1h0M82.9 277.1h0M127.7 302h0M192 287h0M145.1 350.1h0M62.8 180.6h0M34 138.2h0M35.2 188.4h0M271.7 326.2h0M168.3 141.3h0M161 349.7h0M158.8 111.1h0M232.5 307.6h0M210.7 326.8h0M112.5 96.5h0M269.2 305.8h0M66.5 201.5h0M38.8 231.1h0M245.4 346.2h0M175.3 350.3h0M207 354.9h0M144 161.6h0M100.5 302.8h0M77.7 157.2h0M213.9 47.4h0M158.5 246.9h0M132.6 280.2h0M26.8 127.9h0M254.3 279h0M154.9 204.2h0M256.1 255.8h0M52.2 137.9h0M200.8 132.3h0M143.4 309.6h0M269.4 298.6h0M288.3 350h0M57 83.4h0M161.5 179.6h0M238.6 251.5h0M23.1 248.3h0M82.8 204.9h0M165.6 199.7h0M199.2 171h0M139.2 167.1h0M178.5 74.4h0M44 102.8h0M224.2 205.7h0M167.6 350.2h0M119.9 64.3h0M192.4 196.6h0M32.6 134.6h0M28 231.9h0M154.4 325.5h0M300.4 289.5h0M153.7 185.1h0M247.6 360.3h0M104.6 277.4h0M100.1 193.6h0M92.3 161.3h0M271.5 366h0M294.7 309.9h0M77 307.6h0M136 49.3h0M132.6 104.1h0M226 272.1h0M123.9 335.9h0M144.6 194.5h0M148.7 220.7h0M230.9 342.5h0M33.6 187.1h0M73 308.6h0M131.3 283.1h0M67.9 173.9h0M238.6 152.7h0M304.4 283.3h0M221.5 294.5h0M92.6 99.9h0M194 177h0M82.4 246.4h0M204.7 23.1h0M134.9 299.1h0M65.1 208.8h0M91.8 232h0M102.5 314.2h0M63.4 292.2h0M191 177h0M69.1 170.8h0M144.8 184.7h0M193.2 328.5h0M47.3 290.8h0M91.6 80.6h0M59.3 289.9h0M87.4 203.4h0M70.6 130.1h0M191.1 229.9h0M214.4 347.7h0M194.7 31.8h0M280 297.5h0M156.7 201.1h0M275.7 357.4h0M208.4 51.1h0M244 286.1h0M281.4 363.6h0M148.7 33.4h0M28.7 251.8h0M302.4 320.5h0M238 252.7h0M58.7 284.6h0M57.4 140.8h0M208.5 308.7h0M129.7 346.7h0M193.8 112.5h0M104.9 252.3h0M166.3 119.1h0M211 199.4h0M76.9 129.1h0M205.1 85h0M196.5 154.1h0M113.8 44.8h0M64.4 189.9h0M150.9 345.9h0M39.1 192.6h0M222 375.3h0M198.6 196.3h0M192.1 224.3h0M211.6 67.6h0M226.3 317.1h0M235.8 288.2h0M250.5 299.3h0M259.3 358.6h0M29.3 232.8h0M259.7 300.4h0M148.3 230.1h0M183.9 89.1h0M214.9 196h0M139.4 28h0M132.3 270.6h0M52.2 135.6h0M206.4 311.9h0M139.5 110.6h0M197.6 123.4h0M211.3 354h0M107.4 170.6h0M27.6 247.1h0M47.9 262.1h0M70.7 258.5h0M178.1 361.7h0M250.3 167h0M227 195h0M178.2 270.6h0M220.4 327.9h0M168.4 175.2h0M168.5 224h0M237.6 245.7h0M83.6 277.8h0M207.9 377.7h0M216.6 51.8h0M207.4 208.2h0M292.9 277.9h0M151.7 177.6h0M281.1 342.9h0M227.8 142.2h0M295.2 308.4h0M86 171h0M317.8 299.4h0M174.4 338.5h0M153.8 260.1h0M42.7 156.4h0M23.2 211.3h0M147.7 160h0M160.3 344.3h0M136.5 150.2h0M232 354.5h0M202.4 39.3h0M240.8 321h0M191.9 164.6h0M182.6 327.9h0M113.5 52.6h0M128.8 347.9h0M180.4 95.4h0M178.9 209.9h0M79.3 154.4h0M175 258.5h0M263 345.5h0M96.2 221.4h0M163.8 353.9h0M170.5 366.3h0M37.4 192.7h0M188.8 237.8h0M206.5 73.5h0M235.9 149.7h0M185 360.4h0M51.3 267.5h0M273.7 272.1h0M224 56.8h0M324.5 298.4h0M130.7 101.1h0M155 244.5h0M304.2 289.1h0M195.6 57.8h0M48.2 196h0M197.5 191.1h0M151.5 260.7h0M139.6 283.5h0M132.5 119.4h0M306.2 298.6h0M128.7 171.1h0M238.6 227.2h0M252.3 271.3h0M151.7 30.8h0M72.5 285.4h0M319.2 305.5h0M73.9 105h0M116.9 176.1h0M300.8 317.4h0M121.4 124.9h0M41.3 178.2h0M276 365h0M184.9 235.1h0M215.5 168.4h0M105.8 99.1h0M301 291.4h0M205.6 378.4h0M238.2 224.2h0M29.1 251.6h0M84.8 317.2h0M102 317.5h0M224.6 134.9h0M234.8 297.8h0M46.6 245h0M260.5 263.8h0M242.9 171.6h0M37.6 262h0M105.9 284.3h0M51.2 236.6h0M48.6 158.6h0M164.4 123.7h0M226.8 209.3h0M191.9 60.7h0M53.1 159.7h0M32.2 246h0M253.1 330h0M120.7 334h0M284.7 295.5h0M195.9 227.7h0M226.8 149.6h0M117 43.5h0M157.8 213.1h0M143.2 330.6h0M40.4 113.2h0M89.1 205h0M297 297.4h0M222.7 362.6h0M231.2 141.4h0M243.5 261.5h0M207.9 123.9h0M208.8 137.5h0M286.3 340.4h0M189.4 215.5h0M65.8 304.7h0M196.1 217.7h0M151.4 241h0M226.1 99.5h0M215.3 300.1h0M229.8 140.7h0M110.6 334.9h0M127.1 41.5h0M242.6 369.5h0M193.2 358h0M175.4 352.8h0M175.1 305.2h0M205.9 378.3h0M141.9 102.3h0M213.4 61.1h0M109.2 144.7h0M193.7 35.1h0M87.3 103.7h0M127.7 184.4h0M226.5 232.6h0M230.8 360.1h0M98.6 285.2h0M55 194.8h0M78.2 170h0M258.1 253.2h0M124.1 42.9h0M169.3 93.4h0M215.3 298.2h0M246 145.8h0M322.6 308.4h0M123.8 268.3h0M86.1 223.1h0M253.6 365h0M221.6 196.7h0M68.3 221.3h0M203.2 235.7h0M139.4 138.8h0M51.6 82.8h0M235.1 103.3h0M66.1 221.5h0M146.2 336.7h0M35.4 206.1h0M326.3 305.3h0M84.3 68.2h0M25.2 225h0M105.3 179.7h0M65.5 298.2h0M51.4 119.6h0M193.1 80h0M151.1 263.8h0M120.4 339.5h0M209.3 241.6h0M105.9 328.3h0M38.1 250.4h0M224.2 190h0M232.2 96.2h0M178 161.3h0M128.1 44.8h0M287.6 282h0M195.4 19.2h0M149.8 345h0M97.2 88.9h0M97.5 275.2h0M92.9 70.9h0M152 305.3h0M51.2 105.8h0M241.7 275.5h0M207.4 224.1h0M225.4 140.2h0M248.5 298.6h0M233.2 135h0M225.9 83.2h0M102.3 55.5h0M215.8 36.9h0M25.2 237h0M138.5 124.3h0M150.8 287.1h0M32.3 197.2h0M206 116.8h0M126.7 170.9h0M228.6 186.1h0M137.4 32.5h0M98.7 142.9h0M55.7 89.1h0M42.1 183.4h0M205.7 320.3h0M121 180.5h0M246.3 168.5h0M242.8 263.2h0M121.2 39.7h0M220 136.3h0M235.6 144.4h0M211.1 24.1h0M200.5 369.4h0M70.2 117.2h0M104.2 200.7h0M250.2 246.8h0M44 107h0M84.9 117.2h0M245.1 147h0M141.3 48.6h0M67.7 155.2h0M267.8 352.1h0M106.1 274.6h0M101.6 67.2h0M242.3 285.9h0M172.1 350.7h0M143.8 39.6h0M157.5 146.4h0M263.5 302.5h0M216.2 380h0M129 203.6h0M213.7 63.3h0M120.2 252.9h0M77.7 291.5h0M95.1 305.7h0M38.7 241.3h0M119.9 179.1h0M101.6 274.4h0M224.7 195.9h0M129.3 298.5h0M252.5 347.8h0M85.7 278h0M111.5 233.9h0M120.4 79.2h0M42.6 222.4h0M120.9 232.6h0M57.3 194.7h0M180.5 151.8h0M139.7 277.2h0M164.5 114.7h0M142.8 310.5h0M142.6 135.6h0M62.7 128.9h0M49.6 292.4h0M119.2 274.6h0M95.4 62.4h0M306.3 322.9h0M126.5 293.1h0M106.5 281.4h0M37.6 179.5h0M175.6 326.7h0M110.9 224.2h0M216.3 276.6h0M182.3 41.6h0M90.6 281.2h0M87.1 98.8h0M76.6 291.4h0M44.6 259.8h0M36.4 211.4h0M37.4 170.5h0M252.3 266.5h0M307.5 302.1h0M92.1 306.7h0M241.2 228.8h0M251.8 328.1h0M189.1 157.1h0M118.1 178.1h0M44.4 229.4h0M45.8 173.9h0M308.8 292.7h0M254.8 287.7h0M218.9 120.8h0M196.7 283.9h0M163.4 358.8h0M189.3 66.6h0M182.7 91.8h0M26.6 125.9h0M119.7 206.3h0M220.3 246h0M32.9 270.8h0M177.5 144.6h0M235.3 269h0M42 218.1h0M161.9 111.8h0M198.5 278.8h0M242.9 144.6h0M49.7 169.7h0M91.1 305.4h0M178 24.8h0M214.9 380.4h0M103.9 183.9h0M138 337.2h0M120.9 140.2h0M37.3 214.2h0M119.6 61.3h0M197.2 47.5h0M109.2 144.4h0M123.3 301.2h0M226.6 216.3h0M174.5 343.5h0M104.7 291.5h0M187.9 139.7h0M156.9 143.9h0M82.6 101h0M59.7 84.4h0M133.4 81.5h0M225.4 361.8h0M212.2 235.3h0M33.1 215.7h0M51.1 211.5h0M161.7 81.3h0M63.4 292.5h0M60.2 73.1h0M133.7 43.5h0M179.4 142.2h0M103.6 301.9h0M165.4 207.5h0M226.6 327.7h0M85.5 104.3h0M66.4 130.5h0M144 250.2h0M295.1 355.1h0M295.9 298.7h0M35.7 285.6h0M156.8 30.3h0M150.3 251.8h0M49.9 229.3h0M215.3 222h0M193 53.3h0M164.3 364.2h0M34.6 180.7h0M63.9 279.4h0M83.5 206.9h0M259.4 257.6h0M295.6 316h0M250.5 358.7h0M182.1 313.7h0M238.4 249.8h0M112.3 226.4h0M238.1 289.2h0M28.8 222.2h0M216.8 389.8h0M157.2 90.5h0M271.3 366h0M153 266.1h0M108.5 325.9h0M182.3 28.3h0M210.7 184.7h0M210.8 62.6h0M104.4 331.3h0M30.5 205.1h0M200.1 31.1h0M140.9 277.3h0M245.5 277.1h0M101.9 313.6h0M55 187h0M170.9 59h0M214.7 107.2h0M93.1 286.9h0M44.5 209.9h0M178.3 355.1h0M272.5 332.7h0M325.6 310.2h0M147.7 296.3h0M26.1 218.2h0M143 355.4h0M203.8 312.8h0M171.6 78.6h0M26.4 232.4h0M162.6 23.6h0M74.6 61.9h0M22.5 228.9h0M233.6 103.7h0M26.9 243h0M80.5 68.6h0M50 264.5h0M202.9 348.9h0M68.9 167.8h0M214.3 241.2h0M196.6 128h0M58.9 95.6h0M152.8 349.8h0M236.8 131.3h0M74.1 60.4h0M109.6 184h0M63.1 252.9h0M38.3 193.7h0M258.6 318.8h0M65.8 311.6h0M23.5 243.3h0M189.7 28.3h0M127.4 270h0M308.6 303.7h0M51.4 192.7h0M189.3 168.8h0M104.4 136.4h0M292.1 343.8h0M218 108.7h0M278.2 283.6h0M198.6 16.4h0M102.1 328.3h0M105.4 265h0M91.5 136.1h0M99.6 107.9h0M280.8 336.4h0M58.8 106.2h0M273.2 326.5h0M115.3 166.4h0M226.4 214.3h0M138.1 123.9h0M78.2 200.5h0M150 210.5h0M111.4 163.1h0M191.8 262.7h0M204.2 251.1h0M124.6 118.3h0M173.5 181.3h0M62.4 223.5h0M127.3 144h0M137.7 30.2h0M221.8 82h0M71.4 80.3h0M220.8 233.4h0M61.4 306.8h0M179 128.8h0M30.9 254.4h0M190.1 326.5h0M231.3 93.2h0M261.4 365.2h0M220.9 65h0M233.6 136.3h0M134.5 50.2h0M124.9 244.4h0M206.9 225.7h0M228.7 178.8h0M236.5 234.8h0M51.4 91.4h0M186 92.9h0M61.3 168.7h0M182 338.1h0M217.8 58h0M178.4 368.5h0M96.1 139h0M113.8 98.7h0M205.4 300.4h0M27.8 273.1h0M230.4 384.8h0M195.7 28.7h0M286.5 299.3h0M251.5 147h0M174.7 278.2h0M274.5 345h0M51.8 112.9h0M196.7 163.4h0M84 67.6h0M198.4 79.2h0M232.1 82.9h0M208.9 25.9h0M279.5 316.2h0M218.3 77.9h0M221.5 212.9h0M42.7 121.8h0M242.7 306.1h0M298.2 310.3h0M224.1 246h0M109.7 265.3h0M160.6 31h0M230 106.4h0M62 92.5h0M60 80.7h0M164.7 347.9h0M179.6 233.7h0M92.9 121.5h0M162.6 17.6h0M65.2 311.1h0M116.8 51.7h0M138.1 201.8h0M235.8 327.3h0M92.5 96.6h0M122.4 340.3h0M178.3 137.1h0M182.3 106.5h0M150.4 63.6h0M244.8 147.1h0M90.8 275.4h0M59.1 304.6h0M81.2 318.8h0M217.8 248.4h0M174 92.1h0M179.8 48.4h0M133.7 232.5h0M56.3 97.5h0M151.4 343.4h0M181.2 170.3h0M212.6 329.3h0M146.4 101.4h0M33.6 184.8h0M284.9 279h0M38.5 151.7h0M184.6 335.4h0M184.3 275.5h0M231.9 213.2h0M51.5 122.1h0M318.5 297.7h0M123.3 131.8h0M77.1 111.1h0M197.6 241.8h0M36.9 203.1h0M46.6 209.6h0M218.9 256.3h0M237.4 172h0M230.7 97h0M155.1 208.5h0M214.9 317.2h0M214.2 157.8h0M235.3 220.8h0M217.5 234.4h0M134.2 321.1h0M192.9 130.5h0M79.4 292.7h0M106.1 50.6h0M283.4 348.7h0M62.6 156.3h0M78.8 271h0M158.7 150.8h0M180.6 114.4h0M301.4 285h0M220.2 232.3h0M71.8 108.4h0M79.1 146.2h0M225.2 245.7h0M206.6 192.1h0M179.7 366h0M189.2 142.7h0M125.1 140.3h0M78.7 254.7h0M68 65.3h0M67.5 122h0M276.6 273.3h0M107.4 164.4h0M121.4 126.2h0M318 307.4h0M72.1 133.2h0M216.5 226.1h0M49.5 291.6h0M39.9 210.8h0M230 265.9h0M164.7 286.7h0M63.7 155.6h0M183.9 164.2h0M248.3 144.6h0M185.4 91.3h0M37.4 275.9h0M168.7 112h0M148 240.6h0M178.3 354.2h0M158.4 318.5h0M126.2 127.1h0M74.1 280.5h0M305.2 294.6h0M131.9 233.4h0M156.1 204.3h0M217 175h0M189.2 305.5h0M203.5 379.3h0M205.7 367.4h0M176.9 354.8h0M241.1 330.3h0M125.8 124.4h0M23 216.5h0M223.6 102.8h0M281.2 310.3h0M131.9 78h0M164.4 137.7h0M176.8 24.6h0M176.6 49.5h0M26.9 245.4h0M121.2 317.6h0M140.2 274.7h0M113.2 339h0M260.3 328.2h0M132.6 74.3h0M164.8 154.2h0M132.3 159.6h0M235.2 103h0M131.4 341.4h0M107.2 273.9h0M231.6 247.2h0M120.4 74.8h0M61.7 122h0M212.4 53h0M214.2 331.5h0M167.4 118.2h0M231.5 383.3h0M230.7 125.5h0M208.2 29h0M126.2 212.3h0M254.2 251.8h0M52.6 156.5h0M223 301.6h0M179.5 145.2h0M286.6 364.5h0M214.2 64.1h0M140.8 134.4h0M152.8 344.8h0M65.7 207.4h0M169.9 31h0M66.4 151.2h0M66.7 243.7h0M259.9 361h0M279.3 369.7h0M204.7 276.2h0M234.8 316.9h0M143.5 279.6h0M81.5 285.1h0M140.8 46.1h0M162.7 212.6h0M139 28.2h0M241 233.8h0M155.2 33.5h0M86.5 169.2h0M76.6 280h0M66.2 101.2h0M197.9 186h0M62.5 261.4h0M34.2 269.1h0M179.2 337.5h0M282.3 276.8h0M149.7 82.9h0M44 201.4h0M88.8 184.1h0M37.9 286.7h0M131.2 51.7h0M174.7 50.4h0M177.3 368.8h0M89.4 154.6h0M287.7 364h0M301.3 328.4h0M193 348.5h0M152.6 355.1h0M192.9 353.6h0M77.1 244.9h0M226.9 129.3h0M36.1 238.3h0M32.3 143.1h0M24.6 241.7h0M36.8 204.5h0M32.7 145.9h0M110.8 61.4h0M228.6 105h0M134.5 146h0M180.1 326.9h0M43.8 99.9h0M286.8 277.3h0M225.1 191.4h0M148.1 250.6h0M42.4 187.9h0M253.8 265.1h0M141.5 71.7h0M201.8 239.9h0M251.4 292.9h0M68 151.6h0M194.3 139.7h0M180.6 32.2h0M127.9 47.7h0M198.3 245.8h0M71.8 281.5h0M183.3 78.9h0M59.3 107h0M128.7 158.6h0M91.6 318.6h0M159.8 361.7h0M147.7 347h0M38.8 119.6h0M183.4 146.5h0M244.9 358.7h0M159.6 42.4h0M176 259.5h0M161.4 66.4h0M253 322.8h0M28.2 194.4h0M206.1 380.5h0M183.3 218.1h0M87.5 58.9h0M134.8 319.1h0M115.6 260.5h0M65.9 184.2h0M250.2 286.3h0M191.6 374.2h0M47 265.8h0M38.3 277.3h0M69.3 306.4h0M41.1 185.6h0M173.5 297.1h0M90.8 304.8h0M36.6 238.4h0M142.2 25.7h0M116.1 332.5h0M256.6 324.9h0M197.3 78.5h0M45.9 212.6h0M142.4 349.5h0M212.2 159.1h0M101.1 204.3h0M158.2 73.2h0M229.4 143.5h0M109.1 337.2h0M135.7 249.8h0M148.8 175.3h0M125.9 185.8h0M162.4 307h0M135.5 284.5h0M221.5 209.4h0M103.6 151.3h0M118.5 320.6h0M212.2 235.5h0M158.4 162.6h0M302.7 313.3h0M87.6 252.8h0M170.6 200.4h0M184.9 42h0M163.4 18.7h0M63.7 264.5h0M229.1 175.2h0M48.6 141.8h0M108.3 285h0M187.3 27.8h0M168.9 21.3h0M64.3 305.8h0M203.1 83.1h0M264.5 263.9h0M296.5 341.2h0M135 305.3h0M213.5 120.9h0M185.9 269.5h0M209.2 87.6h0M222.9 320.9h0M212.1 182.3h0M67.1 65h0M157.2 34.9h0M234.4 372.2h0M174.2 115.1h0M221.8 102.5h0M63.1 192.7h0M191.6 122.6h0M267.6 353.4h0M57.6 155.6h0M123.9 66.3h0M274.7 327.7h0M297.4 347.9h0M106.1 238.2h0M106.4 230h0M134.5 345.8h0M232.8 214.8h0M221 138.2h0M265.9 298.8h0M313.7 318.5h0M44.4 294.2h0M100.4 289.3h0M45.7 265.3h0M224 122h0M276.7 271.7h0M27 258.1h0M136.5 331h0M135.4 59.2h0M183.7 175.6h0M148.4 156.7h0M138.4 30.1h0M106.5 291.5h0M210.6 381.3h0M195.5 20.8h0M299.4 327.4h0M95.3 304.5h0M93.9 326h0M197.9 200.2h0M170.9 315.2h0M288.4 354h0M190.5 204.3h0M184.9 325.3h0M45.6 225.8h0M117.8 102.8h0M33.7 243.6h0M77.2 59.4h0M129 221.2h0M130.9 193.9h0M55 95.8h0M89.9 215.9h0M318.7 299.1h0M78.3 320.9h0M289.2 322.4h0M37.5 120.9h0M85.8 252.5h0M213 117.2h0M117.5 62.2h0M217.3 45.9h0M115.4 230h0M104.2 334.4h0M126.7 45.7h0M176.6 348.7h0M96.8 322.4h0M190.5 247.4h0M108.6 251.2h0M36.8 181.2h0M213.2 120.5h0M252.6 261.7h0M198.2 132.1h0M136.2 61.8h0M225.9 81.5h0M247.4 342.1h0M235.1 338.5h0M197.2 268.3h0M89.4 233.6h0M55.7 81.6h0M43.3 110.6h0M288.4 305.9h0M61.1 134.1h0M154.8 212.9h0M167.1 325.2h0M42.1 166.6h0M243.5 231.5h0M172.6 129.4h0M297.6 348h0M37.7 116.2h0M184.5 337.3h0M200.1 292.4h0M70.5 63.4h0M168.2 363.1h0M200.1 29.3h0M57.6 216.5h0M183.3 257.3h0M232.8 103.8h0M204.9 65.7h0M91.2 125.6h0M140.8 249.3h0M133.9 346.5h0M39.3 290.2h0M200.4 135.4h0M30.9 277.3h0M134.1 347.6h0M237.2 155.2h0M203.1 223.3h0M174.9 179.4h0M53.1 85.5h0M192.9 222.3h0M175.7 194.7h0M241.1 239h0M148.7 91.8h0M106.9 69.6h0M41.4 210.7h0M111.7 54h0M79.1 108h0M120.8 62.1h0M225.2 127.1h0M151.3 234.4h0M38.8 230.9h0M145.5 229.5h0M189.3 107.5h0M139.8 349.4h0M169.7 100.3h0M173.7 212.9h0M306.4 297.7h0M135.5 238.8h0M212.7 225.3h0M251.3 153h0M22.8 221.8h0M106.1 129.8h0M141.3 346h0M67.2 172.6h0M144.8 164.7h0M243 264h0M122.3 220.4h0M215 111.2h0M169.5 106.6h0M83.5 65.2h0M227 235.7h0M135.9 320h0M217.2 51h0M99.6 63.2h0M201 274h0M197.5 45.1h0M278.1 344.5h0M211 150.4h0M216.1 105.8h0M210.8 38.7h0M158.9 360.4h0M38.6 212.2h0M126.6 330.2h0M168.5 139h0M56.3 133.7h0M232.7 321.8h0M65.6 102.1h0M33.5 136.7h0M276 313.4h0M73.8 174h0M125.3 325.2h0M195.3 259.6h0M237.5 160.3h0M252.5 285h0M108.6 192.2h0M201 202h0M220.1 218.6h0M192 85.3h0M195.6 18.7h0M205.4 285.1h0M281 332.4h0M230.1 206.7h0M87.8 139.9h0M259.3 351.7h0M149.4 43.8h0M157.9 273.4h0M82.9 165.7h0M169.2 360.1h0M130.8 204h0M51.1 259.9h0M181.7 132.5h0M175.3 296.6h0M129.1 320.4h0M205.4 205.5h0M81.8 180.2h0M101.1 321.2h0M289 316.4h0M122.8 335.7h0M136.1 118.5h0M86.9 57.5h0M234.1 254.1h0M199.1 239.7h0M244.7 235.9h0M214 342.1h0M160.3 136.9h0M225.7 356.3h0M155.5 21.3h0M38.3 198.8h0M22.4 224.3h0M115.1 155.2h0M234.9 214.7h0M229.2 137.3h0M149 45.9h0M112 120.5h0M210.4 38.6h0M32 232.4h0M239.6 285.9h0M36.8 134.2h0M250.7 345.3h0M263.4 357h0M71 312.7h0M113.3 339h0M280 285.5h0M217.2 43.9h0M150.7 324.2h0M234.2 156.2h0M154.3 267.1h0M119 212.6h0M277.7 322.1h0M118.2 44.7h0M128.1 94.1h0M36.6 121.6h0M219.9 387.8h0M268.4 365.2h0M193.7 361.7h0M293.8 356h0M47.4 212.3h0M101 65.2h0M90 157.7h0M150.3 25.3h0M198.7 271.9h0M183.8 330.2h0M222.9 78.6h0M83.9 241.3h0M177.7 366.6h0M88.8 283.4h0M170.7 178.4h0M221 102.7h0M84.7 74.2h0M45.6 104.2h0M52.2 116h0M301.8 330.7h0M140.1 155.7h0M202.1 48.4h0M155.3 211.4h0M157.6 294.2h0M245.5 282.3h0M253.7 247.5h0M212.9 256.7h0M198.5 17.3h0M190.8 42.2h0M199.3 46.7h0M42.6 213.3h0M288.9 339.8h0M300.7 322.2h0M149.7 217.1h0M179.8 274.2h0M152.1 28.7h0M65.9 278.9h0M177 243.6h0M183.1 60.4h0M163.7 47.7h0M138.1 209h0M194 58.2h0M217.8 385.7h0M247.6 283.8h0M201.8 231h0M68.1 305h0M221.3 50.6h0M320.7 311.1h0M104.5 176.6h0M197 249.8h0M95.6 163.5h0M26.6 243.2h0M193 215.1h0M251.8 303.6h0M122 78.9h0M117.7 334h0M144 357.1h0M245.8 260.8h0M153.3 23.1h0M221.8 372.3h0M98.3 198.5h0M318.7 313.3h0M182.1 92.1h0M55.7 116.1h0M316.1 303.8h0M197.4 376.7h0M45.9 251.3h0M200.4 200.4h0M228.2 127.2h0M173.3 60.3h0M213.4 73.4h0M155.9 358.6h0M91.3 195.2h0M168.5 138.8h0M40.5 105.9h0M221.6 329.5h0M119.6 305.7h0M225 81.5h0M224.7 75h0M80 117.1h0M93.1 237.1h0M170.7 130.4h0M120.5 220.6h0M231.4 102.6h0M62.2 130.9h0M116.8 61.6h0M288.3 330.4h0M268.9 273.1h0M195.1 85.6h0M269.3 357.7h0M286 336.2h0M117.6 314.2h0M217 287.4h0M108.5 335.2h0M196.3 26.8h0M113.8 63.5h0M96.1 176h0M168.9 258.4h0M65 222.7h0M152.5 104h0M216.6 295.8h0M301.8 340.6h0M208.9 175.8h0M210.7 55.7h0M195.2 88.5h0M251.3 164h0M199.5 132h0M195.5 377.3h0M158.6 330h0M74.3 177.7h0M151.3 307.4h0M205.5 150h0M255.2 262.7h0M199.7 92.6h0M38.1 149.7h0M142.4 234.5h0M35.2 259.8h0M206.9 247.9h0M105.2 308.7h0M126.7 229.5h0M150.4 342.6h0M210.3 98h0M121.1 336.6h0M52.5 293.9h0M188.4 183.3h0M188.5 142.8h0M53 206.1h0M86.5 305.6h0M194.9 21.3h0M174.8 334.8h0M156.3 95.6h0M233.7 90.4h0M50.7 294.9h0M133.3 174h0M196.5 190.6h0M262.8 293.3h0M165.5 94.6h0M144.9 42.6h0M111.4 255.8h0M170.4 274.4h0M255.7 346.9h0M179.3 310.5h0M120.2 127.2h0M265.4 266.4h0M214.1 138.4h0M229.9 93.1h0M230.4 219.5h0M154.1 292.5h0M32 196.4h0M252.7 167.8h0M163.3 249h0M221.5 202.4h0M82.8 280.9h0M288.7 306.6h0M305.2 317h0M104.6 312.4h0M236.7 366.6h0M186 193.1h0M149.2 104.3h0M105.1 178.1h0M165.7 170.8h0M142.5 201.4h0M193.7 350.6h0M155.4 331.7h0M215.9 176.1h0M209.2 129.8h0M106.8 58h0M61.9 275.6h0M262 362.2h0M174.2 259.5h0M155.7 357.8h0M122.6 253.6h0M105.5 197.6h0M61.7 92.9h0M85.3 57.5h0M43.8 239.5h0M162.2 70.5h0M106.1 320.2h0M37 127.9h0M171.2 131.2h0M238.8 139.9h0M64.9 177.4h0M139.5 294h0M86 164.6h0M220 373h0M188.8 117h0M226.6 332.1h0M168.1 36.2h0M153.5 305h0M170.4 23.3h0M291.5 294.2h0M223.1 198.3h0M155.3 267.6h0M104.4 187.7h0M147.7 340.5h0M106.3 73.4h0M99.9 165.9h0M153.7 273.4h0M123 198.6h0M207.7 300.6h0M198.6 206.6h0M216.6 233.1h0M272.4 276.2h0M75.2 314.9h0M73.1 211.6h0M88 312.7h0M180.2 238.3h0M98.9 57.2h0M84.8 206.5h0M177 357.7h0M112.7 275.4h0M218.3 353.4h0M208.1 136.9h0M136.9 306.2h0M229.1 237.5h0M144.8 198h0M159 282.8h0M257.1 259.1h0M68.3 298.8h0M187.3 283.4h0M157.9 148h0M73.8 74.3h0M97.7 269.2h0M206.5 112.9h0M213.5 118.2h0M191.5 367.2h0M215.9 98.8h0M73.2 137.2h0M160.4 248h0M206.5 367.9h0M222.4 146.3h0M80.6 166.5h0M120.5 143.5h0M61.9 284.8h0M102.6 307h0M260.7 284.7h0M151.2 229.8h0M224.7 328.5h0M58.4 214.8h0M116.9 327h0M57.4 111.9h0M128.8 211h0M252.8 258.3h0M257.8 338h0M164.1 282.3h0M169.2 359.6h0M184.6 25.5h0M133.7 36h0M255.1 261.1h0M223 108.7h0M87.9 67.1h0M59.5 244.4h0M211.5 320.5h0M180.4 83.9h0M167.9 96.2h0M94.1 245.9h0M130.6 230.5h0M81.5 168.7h0M66.2 312.4h0M180.3 19.7h0M169.3 59.7h0M193.9 332.1h0M134.4 147.2h0M177.4 361.6h0M34.6 267.5h0M51.8 101h0M117.1 44.2h0M153.1 277.8h0M112.2 85h0M316.7 290.5h0M138.8 354.9h0M176 344.7h0M213.8 131.7h0M108.7 88.2h0M38.7 282.7h0M133.4 338h0M53.5 169.2h0M187.6 215.9h0M102.4 254.6h0M154.1 196.3h0M228.3 97.7h0M231.1 297h0M105.8 74.5h0M149.1 62.9h0M92.3 220.9h0M100.1 167.1h0M126.4 304h0M106.1 83.4h0M224.4 154.1h0M225.7 154.9h0M44.8 121.4h0M107.1 179h0M162.2 165.2h0M179.7 251h0M59.9 260.6h0M109.5 262.8h0M223.4 64.1h0M160.1 27.8h0M48.7 276.1h0M46.8 165.4h0M155.8 37.1h0M277.6 308.7h0M291.6 359.4h0M89.3 292.5h0M88.9 267.1h0M183.5 114.9h0M235.8 128.9h0M283.3 307.4h0M41.7 167.8h0M138.7 353.7h0M260.9 365.7h0M254.2 285.9h0M70.7 306.8h0M187.2 187h0M214.7 63.1h0M120.8 41.9h0M238.6 235.9h0M197.4 117.7h0M198.6 93.9h0M32.7 231.7h0M206.1 186.4h0M47.5 152.4h0M177.2 193.1h0M84.4 289.1h0M71.1 252.7h0M117.6 308.9h0M226.5 176.9h0M44 202.5h0M121.4 315.9h0M206 292.7h0M186.6 143.5h0M328.8 305.2h0M239.9 146.9h0M169.3 190.7h0M80.6 66.5h0M155.5 19.4h0M58.7 94.2h0M297 336.1h0M208 133h0M280 276.5h0M121.2 77.5h0M235 265.4h0M138.5 39.5h0M111.3 184.4h0M216.3 356.5h0M223.8 267.7h0M215.7 79.4h0M199 43.1h0M241.8 166h0M80.1 321.3h0M248.2 167.3h0M92.2 173.1h0M233.8 377.9h0M217.6 382.6h0M94.2 152.5h0M33.4 246.9h0M60.8 93.6h0M111.7 54.6h0M121.9 240.9h0M179.7 306.2h0M121.9 296h0M247.2 289.2h0M154.7 54.9h0M215.9 330.1h0M253.5 344.9h0M261.7 258.3h0M278 349.9h0M118.9 118.3h0M227.9 182.1h0M35.4 127.9h0M283.7 324h0M151.5 176.6h0M109.1 301.9h0M123.5 92.1h0M236.6 333.1h0M28.5 194h0M134.2 320.2h0M225.7 246.3h0M36.8 275h0M144.8 308.8h0M215.9 87.8h0M104 202.5h0M96.8 158.2h0M245.6 286.2h0M247.5 290h0M33.5 256.2h0M135.9 264h0M164.6 277.6h0M187.1 180.5h0M211.1 198h0M26.6 210.6h0M281.8 273.5h0M123.6 125.7h0M177.6 320.2h0M205.6 252.1h0M259.3 253.2h0M187.2 82.1h0M238.4 360.9h0M231.4 230.5h0M30.3 130.3h0M225.2 138.6h0M204.5 270h0M50.5 122h0M94.6 325.1h0M127.5 340.7h0M271.5 360.7h0M206 195.7h0M36.7 261.1h0M40.1 184.7h0M215.3 48.6h0M48 148h0M232.2 222.7h0M237.5 138.8h0M238.3 366.9h0M235.8 236.9h0M108 90.1h0M236.1 352.8h0M235.6 367.2h0M69.5 288.8h0M30.4 197.2h0M79.5 260.1h0M155.6 44.1h0M152 276.8h0M45.7 295.7h0M84.6 68.5h0M270.3 276.9h0M109.5 115.6h0M233 90.7h0M120.6 168.5h0M198.4 348.2h0M154.7 293.5h0M303.2 314.1h0M157.6 160.7h0M189.4 192.6h0M143.9 310.2h0M216.1 228.8h0M204.1 18h0M37.7 172.1h0M99.9 89.8h0M77.8 97.4h0M184 22h0M42.9 260.3h0M255.2 161.9h0M236.9 364.9h0M83.5 317.5h0M252.5 344.6h0M240.2 235.5h0M226.7 102.5h0M126.7 229.7h0M142.8 110.1h0M98.2 177.3h0M115.3 179.3h0M289.1 356.3h0M168 332.6h0M226.2 59.9h0M127 57.2h0M91.7 277.2h0M197 260.2h0M212.8 318.6h0M185.3 161.5h0M233.9 286.2h0M213.2 373.6h0M30 191.5h0M159.5 350.8h0M126.5 244.2h0M194.3 233.1h0M65.1 134.2h0M153.2 294.4h0M130.5 347.9h0M194.3 314.2h0M207 124.7h0M147 282.9h0M28.6 127.2h0M188 40.6h0M301.1 312.6h0M213.5 216.1h0M127.3 277.2h0M138.3 145.3h0M297.2 308h0M112.1 249h0M204 179h0M118.5 300.3h0M255.4 272.7h0M235 375.7h0M88.2 58.3h0M146.8 350.4h0M303.8 319.7h0M314.5 287.7h0M202.8 37h0M23.2 214.7h0M118.1 130.4h0M244.3 297.5h0M45.1 256.5h0M51.3 169.2h0M183 372h0M101.8 81.3h0M121.3 162.9h0M192.6 225.1h0M164.5 18.8h0M126.2 319.2h0M57.5 167.6h0M92 109.6h0M125.2 63.3h0M73 305.7h0M146.6 78.3h0M207.4 385.2h0M45.1 184.5h0M257.4 311.9h0M137.5 338.9h0M288.8 317.6h0M37.9 116.5h0M301.6 326.3h0M174.1 227.3h0M171.7 274.4h0M239.3 146.1h0M209.7 53.8h0M254.8 359.1h0M98.9 205.6h0M194.9 284.9h0M247.5 311.4h0M160.8 361.5h0M214 98.6h0M297.8 329.3h0M216.7 388.6h0M178.9 110.2h0M101.1 223.4h0M158.1 20.9h0M218.1 181.5h0M77.5 177.1h0M287.9 290.9h0M196.6 333.6h0M312.4 294.7h0M66.8 83.9h0M129.4 324.5h0M140.3 124.5h0M49.9 302.3h0M254.3 352.5h0M264 347.8h0M250 252.5h0M270.8 277h0M225.6 226.6h0M42.9 205.6h0M191.2 139.1h0M225.8 182.7h0M111.3 319.2h0M120.3 93.4h0M281.3 299.8h0M129.1 164.4h0M175.8 68.3h0M125.2 210.3h0M142.9 123.7h0M178.4 350.2h0M141.6 154.5h0M175.5 34.6h0M183.8 254.2h0M259 333.6h0M167.1 332h0M98.4 69.9h0M100.4 81h0M86 191.3h0M232.7 367.6h0M100.8 147.5h0M201.8 64.7h0M110.6 214.3h0M297.3 313.1h0M172.4 230.2h0M99.9 215.7h0M227.6 110.1h0M49.9 92.8h0M224.1 232.1h0M173.8 230.1h0M94.6 119.5h0M257.5 340.3h0M227.7 115.8h0M81.5 310.2h0M244.4 364.2h0M166 174.2h0M25 248.9h0M222 279.3h0M223.1 120.8h0M55.5 101.2h0M160 184h0M76.5 288.8h0M38.7 263.2h0M143.1 39.6h0M180.3 230.9h0M202.3 217h0M113.3 144.7h0M95.4 141.5h0M123.8 328.5h0M50 104.2h0M179.4 229.1h0M111.1 243.8h0M221.4 301.6h0M108.5 133.9h0M134.7 273h0M44.4 279.2h0M69.1 259.7h0M162.1 296.4h0M226.3 297h0M222.6 252.8h0M138.2 46.9h0M39.4 254h0M218.4 51.5h0M246.1 324.2h0M227.6 258.3h0M38.9 282.7h0M88.1 256.3h0M299.3 330.9h0M192.5 239.4h0M135.6 207.2h0M90.6 95h0M31.9 196.7h0M50.6 198.2h0M198.5 160.2h0M150.3 348h0M151 61.2h0M200.1 374.9h0M174.5 363.7h0M66 63.9h0M175.1 368.2h0M66.5 139.2h0M120.2 337.7h0M51.6 286h0M67 229.5h0M179.4 283.7h0M63.2 251.9h0M251.2 264.9h0M230 233.9h0M198 211.8h0M136.4 309h0M50.5 181.7h0M56.2 296.1h0M143.7 310h0M230.1 86.1h0M28.2 248.7h0M169.9 367.4h0M159.6 23.3h0M60.2 253h0M200.7 20.7h0M179.6 362h0M261.5 280.1h0M142.7 192.7h0M70.6 200.7h0M223.9 183.3h0M178.4 237.1h0M35.7 265.6h0M244.9 235.8h0M41.9 132.2h0M222.6 333.5h0M190.1 370.7h0M143.5 350.4h0M80.9 194.5h0M139.4 193.5h0M233.9 295.5h0M170.9 125.1h0M89 301.2h0M223.9 162.5h0M176.7 217.5h0M228.8 367.2h0M97.9 309.2h0M270.3 361.8h0M58.5 133.1h0M150.3 265.4h0M45.6 275.2h0M195.5 257.3h0M198.3 308.3h0M212 327.5h0M227.3 78.7h0M138.1 70h0M144.9 202.9h0M200.1 211.6h0M182 342.9h0M168.5 227.5h0M231.3 135.4h0M59.6 90h0M128.2 307.2h0M50.4 128.8h0M76.7 122.9h0M143.5 318.6h0M271 275.9h0M117 87.1h0M97.3 55.8h0M126.6 92h0M43.2 109.5h0M198.9 122.3h0M257.2 253h0M246.8 318.4h0M170.3 15.2h0M22.1 220.5h0M54.1 299.7h0M224.9 238.7h0M133.2 202.6h0M135.1 123.7h0M52.7 120.7h0M161.4 356.5h0M89.7 135.4h0M34.2 193.5h0M212.4 377.3h0M124.1 40.7h0M139 269.1h0M95.6 83.3h0M173.7 43.2h0M102.4 247h0M216.5 289.6h0M254.2 364h0M163.9 41.7h0M156.1 207.1h0M127.3 193.1h0M166.1 37.8h0M301.2 287.3h0M210.6 384.8h0M92.9 191.8h0M101 140.8h0M45 290.4h0M46 107.7h0M130.9 315.7h0M132 35.1h0M55.8 167.9h0M192 252.8h0M109 279.9h0M241.6 318.8h0M209.7 32.4h0M283.6 321.4h0M222.7 94.4h0M186.7 90.7h0M53.3 250.4h0M254.3 160.7h0M166.3 230.4h0M283.5 298.6h0M205.2 137.9h0M113 119.1h0M138.8 311.2h0M167.5 35.4h0M109.6 195.7h0M119.7 312.8h0M185.7 126.4h0M88.7 311.8h0M102 303.5h0M138.3 43.7h0M187.7 245.7h0M224.2 224.3h0M226.2 271.2h0M83.3 164.6h0M157.7 195.4h0M227.9 234.5h0M144.8 199.8h0M165.8 237h0M33 273.5h0M35.2 130.4h0M37.8 268.4h0M288.1 333.5h0M190.2 15.8h0M66.2 305.2h0M28.2 261.9h0M50.1 119.3h0M142.6 242.8h0M133.4 347.4h0M234.3 252.2h0M91.3 137.7h0M142.8 178.4h0M226.9 202.6h0M134.6 54.9h0M239.7 278h0M209.5 126.6h0M168 305.5h0M269.5 292.4h0M133.1 50.9h0M139.7 313.1h0M81.6 184.1h0M63.2 180.9h0M213.8 163.2h0M64.6 119.1h0M208.4 377.1h0M153.9 27.6h0M27.1 201.8h0M288.7 298.4h0M143.5 314.7h0M264.5 298.9h0M296.6 336.5h0M174.7 343.7h0M165.2 273.6h0M83.3 72.2h0M144.9 27.8h0M189.1 288.1h0M22.1 230.4h0M123.2 248.2h0M173.3 158.4h0M229.5 170h0M176.1 144.9h0M178.4 343.7h0M233 340.7h0M115.8 294h0M234.2 167.7h0M224.4 80.5h0M156.1 135.3h0M49.7 283.4h0M214.4 205.2h0M192.9 85.9h0M147.9 194.4h0M78.5 70.5h0M51.3 299.8h0M150.2 355h0M53.2 139.7h0M189 35.2h0M152 229h0M177.8 158.5h0M255.7 357.8h0M119.1 65.1h0M224.3 358.7h0M184.7 306.1h0M99.3 75.4h0M305.9 299.6h0M192.4 288.7h0M46.6 245.7h0M239.6 167.3h0M146.1 23.8h0M283.7 354.9h0M108.4 331.7h0M274.7 349.9h0M225.8 84.1h0M87.9 294.3h0M130 240.1h0M47 187.7h0M70.8 64.5h0M197.4 160.9h0M142.7 35h0M266.6 269.7h0M94.8 216.2h0M267.5 325.3h0M101.7 54.4h0M309.3 286.2h0M144.4 340.7h0M41.1 227.7h0M183.1 361.4h0M318.5 314h0M58.8 92.3h0M220.7 385.1h0M235.9 119.6h0M180.3 215.5h0M50.9 279.9h0M281.3 346h0M227.4 195.9h0M253.2 319.8h0M77.5 124.5h0M56.9 113h0M203.1 64h0M242.1 239h0M51.4 239.4h0M187.6 265h0M164.6 273h0M194.8 278.6h0M44.4 160.7h0M174 138.1h0M187.7 177.4h0M191.8 32.2h0M168.2 20.8h0M201.8 180.6h0M152.4 244h0M132.5 116.6h0M137.7 339h0M189.6 297.6h0M116 266.8h0M57.5 222.4h0M96.6 86.1h0M93.3 158.9h0M273.6 334.5h0M185.1 106.3h0M151.9 40h0M45.2 133.8h0M293.3 310.7h0M229.3 137.5h0M118 75.2h0M159.1 27.5h0M199.5 15.6h0M62.7 309.9h0M91.2 175.6h0M106.1 78.4h0M243.5 277.1h0M86.8 136.3h0M153.7 141.7h0M89 309.5h0M141.9 356.3h0M222.6 214h0M79.6 163h0M63.7 179.8h0M256.3 359.8h0M223.3 147.8h0M53.7 122.1h0M203 280.9h0M199.5 356.9h0M183.1 174.6h0M95.6 137.6h0M180.4 157h0M196 341.4h0M142.7 213.9h0M102.4 322.5h0M39.2 192h0M230 113.2h0M153 345.7h0M201.6 292.8h0M201.4 140.7h0M305.6 323.1h0M238 266.5h0M191.3 148.9h0M137.8 43.4h0M278.8 349.7h0M166.4 66h0M181.3 70.6h0M246.5 244.3h0M109.4 95.9h0M186 22.7h0M147 166.4h0M201.7 216.4h0M99.2 332.2h0M50.6 88.5h0M51.7 99.4h0M225 119.5h0M234.8 365.1h0M265.7 303.8h0M228.7 348.1h0M55.4 300.2h0M203.7 78.5h0M274.7 280.8h0M89.1 184.9h0M122.1 51.8h0M179.1 51.2h0M186.2 238.6h0M133.2 247.7h0M275.4 271.8h0M172.2 251.4h0M178.1 372.8h0M41 144h0M36 131.9h0M148 142.3h0M129 325h0M248.4 352.6h0M111.8 305.9h0M229.6 323.9h0M86.8 102.7h0M165.7 36h0M305.2 322.1h0M197.4 106.4h0M71.6 86.4h0M157 341.2h0M217.5 79.2h0M81.2 75h0M134.5 33.7h0M167.6 150.8h0M180.5 78.2h0M215.8 380.7h0M272.8 309.8h0M121.9 196h0M57.4 159.6h0M140.6 210.6h0M282.5 356.4h0M158.7 128h0M36 277h0M218.4 131.4h0M140.8 52.4h0M136.8 82.2h0M171.1 315.3h0M35.5 193.9h0M231.7 238.9h0M244.5 252.7h0M209.8 66.4h0M66.2 286.7h0M59.4 82.3h0M52.1 150.9h0M113.3 52.2h0M271.4 270.4h0M128.7 50h0M43.9 251h0M34.1 192h0M216.8 38.8h0M194.2 55.7h0M293.3 277.7h0M235.7 296.7h0M81.1 267.8h0M54.8 163.4h0M115.3 323h0M155.5 130.8h0M230.6 92.4h0M206.6 343.7h0M80.7 151.5h0M138.3 66h0M110.2 68h0M227.7 358.5h0M210.9 244.9h0M168.1 272.1h0M134.1 299.6h0M219.9 57h0M241.3 231.6h0M248.3 161.2h0M153.7 231.7h0M159.9 46.3h0M83.5 308.3h0M319.9 292.8h0M60 105h0M77.2 62.2h0M191.5 28.3h0M237.7 161.9h0M37.8 168.2h0M308.7 298.2h0M137.1 136h0M169.8 220.2h0M173.8 49.2h0M177.3 91.4h0M25.5 266.3h0M157.6 246.3h0M104.8 185.4h0M170.3 118.6h0M27.6 261h0M146.6 198.2h0M233.3 129.8h0M94 120.8h0M81.5 154.2h0M208.1 20.1h0M282.1 290.1h0M269.4 367.9h0M227.7 233.1h0M183.6 302h0M212.5 387.4h0M54.2 95.6h0M238.8 152.1h0M41.2 126.4h0M301.5 297.9h0M202.1 42.4h0M237.9 230.3h0M164.8 229.5h0M162.8 162.9h0M83.7 203.1h0M227.5 255.4h0M196.9 154.8h0M35.4 124.8h0M165.3 92.9h0" stroke="#ffffff" stroke-width="1.2" stroke-linecap="round" stroke-opacity="0.9" fill="none"/>
<path d="M101 266c3-5 10-5 13-1 2 3 1 6-1 8M110 279c-4 1-9 0-10-4" stroke="#fff" stroke-width="1.6" fill="none" stroke-opacity="0.9"/>
<path d="M266 148.7L267 165.8L267 166.1L267 166.4L266.9 166.7L266.8 166.9L266.7 167.2L259.8 183L254.9 200.8L251.1 216L254.7 230.6L266.2 244L278.1 256.8L289.7 266.5L301.2 272.3L315.8 278.1L330 280L349.5 278L370.6 273.2L380.2 264.5L383 249.6L385 229.7L385.1 229.4L385.1 229.2L390.1 211.2L390.2 210.9L390.3 210.6L390.5 210.4L399.5 196.4L409.2 180.8L412.8 165.3L407.7 154.1L396.8 147.8L379.4 142.9L359.6 140L359.4 139.9L339.6 136L300 132L281 133.9L270.3 141.1L266 148.7Z" fill="#90ee90"/>
<path d="M320 133.9h0M306.9 133.1h0M410.4 197.7h0M345.3 283.2h0M374.8 282.4h0M321 283.1h0M348 135.5h0M406 144.5h0M261.8 237.9h0M400.1 203.9h0M410 173.2h0M292 127.1h0M311.1 275.6h0M268.8 143.7h0M398.9 249.8h0M363.2 139.8h0M419.8 159.4h0M277.1 257.1h0M394.6 141.4h0M368.8 275.3h0M384.2 251.5h0M369.3 272.6h0M326 281.8h0M377.3 269.4h0M247.7 218.4h0M394 148h0M255.6 202h0M349 125.4h0M413.3 157.4h0M260.5 147.2h0M396.9 147h0M317.4 134h0M303.6 274.3h0M317.4 121.8h0M275.4 252.9h0M319.8 130h0M318.7 134h0M364.9 139.3h0M369.6 280.9h0M345.5 286.3h0M338.5 128.1h0M358.1 277.8h0M253.4 201h0M254 196.3h0M296.2 283.6h0M386 259h0M383 243h0M415.3 170.2h0M361.2 278.2h0M250.8 227.6h0M320.9 131.9h0M395.1 214.7h0M269.2 127.9h0M298.5 132.4h0M319.5 277.9h0M388.6 243.1h0M339 133.8h0M278.3 260.5h0M401.6 206h0M385.7 255.9h0M385.5 225.9h0M293.4 269.5h0M373.5 271.3h0M334.7 281.1h0M321.4 129.2h0M387.9 240.1h0M283.8 130h0M409.4 183.7h0M385.5 139.1h0M298.2 126.2h0M370.2 273.5h0M315.6 279.3h0M312.7 130.5h0M313 130.3h0M288.3 277.6h0M335.4 279.8h0M252 242.9h0M287.3 132.2h0M395.9 143.3h0M403.6 188.8h0M361.5 140.1h0M250.8 211.3h0M286.4 263.7h0M400.8 201.7h0M362.6 277h0M409.4 187.4h0M263 168h0M354.3 129.6h0M298.2 126.3h0M365.5 278.9h0M396.3 215.4h0M267.1 166.8h0M380.7 258h0M400.5 200.6h0M269.2 136.1h0M406.6 184.2h0M392.9 210h0M253 208.4h0M407.9 182.2h0M289.1 267.5h0M393.1 208.2h0M377.6 138.3h0M264 147.2h0M402.6 149.9h0M342.6 283.2h0M386.3 247.9h0M416.7 177.7h0M386.8 271.8h0M369.9 274.5h0M269.4 132.9h0M407 150.6h0M264.2 165.2h0M387.6 134.1h0M386.7 228.4h0M350.9 136.3h0M272.9 137h0M356.1 140.2h0M394.4 220.5h0M394.5 141.3h0M300.1 273.1h0M249.8 193.9h0M398.3 201.9h0M380.1 267.3h0M264.4 137.4h0M254.4 205.1h0M287.1 266.1h0M250.8 195.7h0M309.7 129.7h0M396.2 142.4h0M389.2 221.5h0M342.6 135.8h0M255.5 195.6h0M356.4 275.6h0M261.5 150.6h0M408.4 187.5h0M382.5 143.1h0M387.5 145.2h0M333.3 279.1h0M384.8 238.8h0M256.3 198h0M367.7 276.1h0M309.7 274.7h0M245.8 215.7h0M393.3 235.5h0M247.6 212.9h0M267.2 154.3h0M371.2 137.7h0M264.5 146.2h0M331.1 281.2h0M383.8 239.3h0M271.1 255.5h0M366.5 140.1h0M388.2 271.6h0M261.1 180.5h0M398.6 143h0M387.1 225.5h0M294.4 269.7h0M288.7 265h0M405.5 145.5h0M315.5 129.1h0M253.8 207.7h0M314.1 130.1h0M401.7 194.2h0M291.6 131.3h0M343.5 280.6h0M254.7 191.5h0M359.3 277.4h0M258.1 235.3h0M398 196.9h0M281.9 259.1h0M328.5 280.5h0M381.9 267.6h0M351.6 134.5h0M387.2 222.2h0M377.2 271h0M410.5 180.8h0M378.1 134.2h0M377.7 268.1h0M396.2 213.6h0M284.9 263h0M402 210.3h0M353.9 134.5h0M334.5 279.3h0M343.3 293.5h0M352.2 277.4h0M303.3 132h0M259 186.3h0M413.3 165.6h0M252.1 228.1h0M366.9 139.4h0M261.3 236.8h0M419 191.2h0M266.4 156.9h0M396.8 203.2h0M391.3 211.3h0M297.3 281.6h0M266.8 161.4h0M284 274.7h0M297.6 118.8h0M260.7 150.7h0M405.1 148.7h0M371.2 140.4h0M369.6 140.5h0M248.7 207.1h0M411.2 192.4h0M390 257.1h0M372.9 286.2h0M336.4 132.9h0M363.6 135.8h0M359 275.4h0M379.1 265h0M308.8 130.3h0M310 128.3h0M320.1 282.2h0M250 215.9h0M259.4 237.5h0M385.3 249.2h0M402.3 147.5h0M259.2 147.4h0M411.4 184.1h0M296.9 128.6h0M270.5 136.5h0M335.9 131.6h0M263.6 146.3h0M366 282.6h0M413 159.9h0M245.2 216h0M384 229.9h0M299 128h0M389.4 238.6h0M392.1 145.5h0M382.7 256.1h0M413.8 150.3h0M366 274.4h0M404.5 142.5h0M400.2 199.5h0M310 133.4h0M266.1 139.7h0M347.4 278h0M312.4 132.2h0M281.7 265.3h0M391.4 270.7h0M269.7 133.4h0M387.3 260.1h0M415.8 156.7h0M350.6 287.5h0M405.3 194h0M371 278.3h0M331 133.7h0M393 232.9h0M353.5 138.5h0M259.2 237.4h0M351.3 279.5h0M383.7 247h0M334.6 127.4h0M263.7 167h0M267.7 252.2h0M272.3 251.8h0M266.7 159h0M381.3 269.4h0M337.7 136.2h0M395.2 230.4h0M358.2 139.7h0M412.7 143.7h0M391.7 213.8h0M282.8 261.2h0M381.9 143.1h0M371.8 275.7h0M387.4 239.8h0M252.1 221.6h0M341.9 123h0M308.5 130h0M379.6 275.3h0M414.3 183.9h0M384.4 230.7h0M384.3 237.6h0M348.5 135.5h0M257.6 185.1h0M406.2 152.3h0M299.7 131.2h0M379.6 262.7h0M393.5 205.8h0M383.3 256h0M408.3 190.9h0M409.7 175.5h0M339.4 136.6h0M270.3 247.4h0M316.4 128.8h0M387.8 250.1h0M323 279.6h0M373.2 137.4h0M414.9 153.2h0M404.8 199.6h0M358.2 283.4h0M257.1 236.2h0M386.9 258.3h0M409.9 175h0M323.1 279.6h0M266.1 161.7h0M268 142.2h0M384.5 263h0M394.4 203.1h0M407.5 191.4h0M288.9 122.7h0M384.7 267.6h0M355.7 280.9h0M256.5 233.9h0M266.1 167.8h0M399.3 143.6h0M373.7 141.5h0M321.3 291.9h0M262.5 171.1h0M411.7 179.9h0M384.3 237.4h0M291.3 269.8h0M391.5 221.5h0M389.1 141.4h0M270 249h0M254.6 235.9h0M383.4 267.2h0M252.9 185h0M264.4 149.3h0M406.6 183.5h0M255.8 237.4h0M279.5 263.1h0M274.5 135h0M386.1 246.1h0M263 153.7h0M294.2 269h0M387.1 266.2h0M391.2 230h0M411.6 198.3h0M262.8 171.1h0M287.9 283.5h0M339 134.6h0M264.2 147h0M329.9 128.2h0M396.6 212.4h0M301.3 271.4h0M245.3 221.7h0M413.2 186.4h0M389.3 142.3h0M339 135.8h0M260.3 168.9h0M300.8 271.1h0M343.4 277.8h0M267.5 146.6h0M361.3 137.2h0M371.8 139.4h0M399.1 149h0M264.8 147.9h0M355.5 136.7h0M258.2 191.1h0M305.6 273.2h0M409.6 148.3h0M378.2 269h0M284.3 133.6h0M270.1 142.2h0M282.5 133.9h0M412.1 170.2h0M400.5 201.5h0M367.8 280.4h0M375.8 280h0M401.8 196.5h0M318 279.4h0M346.6 280.7h0M264.2 145.8h0M251.5 229.7h0M393.1 210.5h0M400 210.4h0M260.3 242.2h0M384 254.3h0M396.2 148.3h0M380.7 258.9h0M282.4 132.2h0M369.7 272.5h0M348.8 134.9h0M409.1 186.6h0M270.8 133.8h0M286.4 126.8h0M332.5 136.2h0M270.6 135.6h0M273.3 254.4h0M254.7 232h0M291.8 132.3h0M389 224.8h0M390.7 141.1h0M261.1 237.7h0M247.7 207.1h0M411.8 172.9h0M293.8 125.7h0M336.6 284.4h0M373.2 272.9h0M386.5 224.9h0M264.6 140.4h0M246.4 206.2h0M387.6 247.7h0M262.1 239.1h0M281.5 260.8h0M412 170h0M384.6 241.1h0M263.4 165h0M328.8 283.1h0M284.6 133.7h0M347.2 121.6h0M367.1 136.9h0M352.3 285.9h0M383.7 244.8h0M389 261.9h0M405.1 187.4h0M410.8 156.8h0M257.7 233h0M415.5 153.1h0M407.8 185.1h0M397.1 207.8h0M407.3 193.3h0M384.6 253.3h0M264.3 173h0M336.4 280.6h0M256.1 230.7h0M265 241.3h0M390.7 212.8h0M313.3 128.9h0M286.5 264.7h0M397.2 147.7h0M252.8 219.9h0M343.5 134.1h0M321 130.1h0M358.2 134.5h0M352.7 136.4h0M396.6 211.1h0M247.9 206h0M293.4 267.5h0M301.6 127h0M274.3 136h0M350.3 135.1h0M421.2 156h0M302.8 129.2h0M357.2 285.3h0M373.2 135.2h0M397.9 204.5h0M360 133.7h0M272.2 131.3h0M284.7 262.5h0M334.1 134.7h0M254.2 236.4h0M292.8 127.9h0M409.7 175.4h0M318.5 131.5h0M401.7 197.4h0M411.7 172.2h0M418.7 177.8h0M302 131.4h0M252.6 206.7h0M396.6 227.1h0M295.7 131.2h0M417.9 152.3h0M260.8 176.3h0M257.8 187.2h0M336.7 281.9h0M385.5 247.9h0M263 145h0M381.7 137.4h0M264 154.2h0M409.7 178.7h0M310.3 290.9h0M298.6 271.7h0M409.4 175.9h0M385.4 254h0M343 133.2h0M267.3 157.9h0M388.9 218.2h0M299.8 131.1h0M266.6 163.1h0M332 279.7h0M413.8 160h0M250.2 191.1h0M253.9 233.4h0M275.9 138.4h0M376.9 273.1h0M250.3 229.3h0M377.4 270.5h0M390.3 146.1h0M373.7 141.8h0M286.1 131.2h0M312.3 132.8h0M261.8 177.2h0M265 164.4h0M316.9 131.8h0M362.6 277.8h0M261.6 156.2h0M270.3 136.9h0M293.2 132.3h0M259.9 148.9h0M416.9 181.4h0M255.3 181.6h0M314.8 130.9h0M380.7 143h0M405.2 141.1h0M413.2 185.1h0M376 272h0M366.3 135.8h0M386.6 225h0M409.6 194.7h0M378.7 124.4h0M256.3 239.4h0M264.6 146.2h0M342.8 136.7h0M408 182.8h0M410.7 213.4h0M405.1 186.7h0M248.8 196.3h0M399.8 194.6h0M389.8 144.6h0M247.1 213.3h0M356.5 283.2h0M243.5 182h0M263.4 174.6h0M397.3 198.3h0M387.3 141.9h0M381.4 144.3h0M410.7 173.1h0M283.2 263.9h0M419.5 180.7h0M337.2 134.9h0M393.1 219.4h0M262 165.2h0M246.6 203.4h0M314.3 277.2h0M396.3 206.3h0M395.6 205.6h0M289.5 130h0M260.3 177.9h0M347.9 277.2h0M389.8 232.8h0M364.5 139.8h0M412.9 167.1h0M391.3 217h0M358.2 140.3h0M384.1 241.8h0M375.1 274.9h0M245.5 218.1h0M386.1 250.6h0M404.5 194.5h0M364.8 284.2h0M388.6 225.1h0M415.6 163.5h0M260.5 172.4h0M324.6 126.9h0M250.8 250.1h0M392.1 143.8h0M323 284.4h0M307 283.2h0M267.4 142.6h0M374.8 271.4h0M303.3 279.4h0M279 134.6h0M379.2 268.5h0M255.3 233.3h0M337.2 282.5h0M289.8 266.5h0M410.7 147.4h0M251.7 229.1h0M400.2 194.1h0M249.6 205.1h0M389.6 144.2h0M254.6 183.5h0M251.7 229.1h0M389.6 233.3h0M258.8 179h0M414.3 158.5h0M368.4 137.3h0M265.2 151.1h0M254.5 195.1h0M275.9 133.1h0M261.9 245.9h0M331.4 130.8h0M280.7 258.8h0M299.8 129h0M284.2 134.2h0M389.3 261.8h0M404.8 150.4h0M332.1 130.4h0M397.3 144.5h0M385.4 241.4h0M278 134.4h0M264.2 153.2h0M335.3 287.4h0M307.8 128.2h0M329.5 128.2h0M405.6 151.1h0M357.5 131.3h0M353.8 280.6h0M407 152h0M250.4 194.5h0M393.6 227.8h0M266.6 142.4h0M386.4 222.9h0M412.2 183.1h0M283.9 129.1h0M412.7 169.9h0M341.6 284.6h0M382.2 143.4h0M366.7 276.2h0M280.6 129.5h0M360.2 139.5h0M372.6 275.1h0M362.5 137.2h0M252.9 200.3h0M248.6 213.3h0M288.4 265.7h0M350 139.1h0M253.7 184.9h0M387.2 263.4h0M340.7 278.4h0M395 202.8h0M257 142.6h0M385 236h0M387.4 223.2h0M398.1 198.4h0M389 214.5h0M388.7 222.4h0M394.7 206h0M319.5 278.7h0M265.5 160.9h0M413.2 155.1h0M279.7 134.8h0M350.6 137.4h0M271.9 254.8h0M250.6 221.6h0M392.5 230h0M389.8 214.8h0M404.4 201h0M270.1 135.2h0M297.5 269.4h0M259.9 148.9h0M353.5 139.7h0M252.1 209.7h0M398.6 240.7h0M265.3 170.8h0M413 182.3h0M338 130.1h0M268.1 257.2h0M376 268.3h0M272.8 116.8h0M289.8 127.1h0M387.5 236.8h0M383.5 246.4h0M354.8 278.3h0M390.6 217.2h0M388.3 250.4h0M252.7 179.9h0M376.6 137.6h0M416.2 155.6h0M406.3 189.6h0M398.7 146.3h0M401.4 149.4h0M360.1 280.9h0M325.4 134.9h0M361.3 132.3h0M389.8 245.5h0M355.3 133.1h0M325.8 128.1h0M261 144.9h0M388.8 141.8h0M251.3 217.7h0M381.3 261.6h0M377.2 139.3h0M316.9 132.9h0M387.5 145.4h0M275.4 260.4h0M282.4 274.6h0M393.9 226.7h0M364.9 281h0M322.6 281.4h0M390.4 135.9h0M383.3 259.2h0M261.2 150.2h0M415.2 187.1h0M288.2 133.5h0M267.1 159.9h0M342.3 291.9h0M355.8 140.2h0M304.7 133.3h0M251.9 186.8h0M275.2 255.1h0M249.6 202.2h0M347.4 278.9h0M345.2 137.4h0M280.7 261.6h0M367.4 282.8h0M385 252.9h0M263.8 148.4h0M250.8 223.9h0M311.4 128.5h0M367.8 137.9h0M413.4 175.3h0M255.9 185h0M363.2 141.2h0M399.7 144.1h0M341.9 288.3h0M265.5 168.1h0M244.1 214.7h0M285.2 267h0M264.6 163.9h0M281.8 131.2h0M408.6 185.9h0M372.8 276.6h0M254 202.2h0M252.1 214.8h0M281.7 129.8h0M264.9 245h0M404.9 194.9h0M282.6 123.6h0M371.7 273.3h0M385.8 240.1h0M330.2 130.1h0M379.3 143.7h0M293 128.5h0M383.2 246.3h0M394.8 248.1h0M294.5 126.3h0M284.2 261.9h0M286.3 134.1h0M412.3 163.1h0M356.8 275.9h0M257.5 195.1h0M410.6 183h0M257.7 232.8h0M254.2 199h0M406.1 184.3h0M259.8 238.2h0M372.9 139h0M332.6 281.2h0M388 232.7h0M350.9 136.8h0M285.8 265.6h0M415.2 176.6h0M332.5 133.3h0M273.4 134.1h0M276.7 134h0M271.7 133.5h0M385 253.9h0M382.2 251.9h0M399 143.3h0M253.1 252.1h0M294.1 133.3h0M320.9 134.6h0M333.7 280h0M255.2 185.9h0M383.7 253.7h0M406.3 185.7h0M265.7 243.5h0M344.6 126.2h0M314.9 134h0M411.2 177.7h0M384.9 244.4h0M417.4 182.6h0M248.3 218.3h0M381.7 254.5h0M367.5 275.1h0M259.9 177.6h0M412.9 169.8h0M384.3 131.9h0M328.5 119.7h0M345 279.1h0M278.5 264.9h0M249.7 226h0M350.1 134.5h0M359.6 135.3h0M413 176h0M394.6 205.3h0M409 197.7h0M386.7 221.6h0M342.9 121.6h0M403.1 151.6h0M251 231.6h0M256.6 190h0M260.1 167.3h0M261.8 176.3h0M284.9 133h0M256.9 187.2h0M339.1 136.1h0M372.1 275h0M278.7 136.4h0M312.9 131.8h0M385 228.8h0M295.8 131.9h0M395.8 147.2h0M354.7 279.8h0M386 134.7h0M341.1 290.1h0M411.7 205.9h0M314.2 276.9h0M252.9 220.6h0M398.9 147.8h0M335.7 281.4h0M389.6 255.4h0M407 193.9h0M365.7 140.2h0M394.4 145.9h0M417.8 147.2h0M290.2 266.8h0M251.7 225.5h0M290.6 278.3h0M311.1 277.4h0M262.6 254.1h0M294.9 133.4h0M373.6 141.1h0M315.1 133.1h0M266.2 155.6h0M284.6 261.3h0M264.2 246.5h0M249.7 217.1h0M382.7 252.5h0M271.5 126.2h0M318.2 281.6h0M373.6 273.4h0M377.6 274.1h0M358.4 140.2h0M386.2 243.9h0M317.2 123.9h0M375.8 278.1h0M376.9 267.5h0M385.4 238.5h0M342.8 131.1h0M381.7 269h0M365.5 274.4h0M379.7 141.8h0M334.1 130.8h0M266.7 160.5h0M349.7 134.8h0M305.9 132.1h0M387.9 251.7h0M358 138.6h0M252.5 221h0M398.2 204.3h0M259 188.3h0M321.3 128.5h0M316 278.1h0M265.1 172.9h0M401.8 195.9h0M248.1 221.3h0M275.9 253.2h0M389.8 251.1h0M393.5 212.3h0M326.8 129.4h0M257.7 179.1h0M364.4 138.6h0M280.4 262.3h0M383.1 240.2h0M290 269.3h0M256.7 193.6h0M390.7 241.2h0M410.4 159.9h0M251.6 179.4h0M415.2 176.2h0M383.3 247.1h0M388.1 145.3h0M407.4 145h0M391.5 231.6h0M268.3 143.8h0M337.9 135.8h0M348.4 136.9h0M405.3 186.8h0M393.7 141.5h0M382.8 144.8h0M271.2 139.6h0M286.4 133.4h0M394 140.2h0M260.1 235.7h0M381.7 268.1h0M333.3 130.8h0M388.7 229.3h0M396.1 207h0M409 153.5h0M337.7 282.6h0M411.2 173h0M390.6 233h0M412.7 154.3h0M298.5 289.3h0M378 142h0M264.9 142.3h0M269.8 142h0M255.4 232.5h0M382.9 249.2h0M385.6 245.9h0M359.7 279.8h0M369.2 137.3h0M373.4 272.5h0M298.8 273h0M277.1 136.8h0M393.6 255.2h0M249.7 227.5h0M318.3 277.7h0M267.8 250.5h0M269.3 140.7h0M291.4 133.6h0M379.8 263.1h0M393.2 221.2h0M388 234.3h0M394.5 141.9h0M412.9 170.1h0M299.1 130.2h0M392 209.3h0M251.9 212h0M248.5 215.6h0M256.5 198h0M252.1 158.7h0M262.3 151h0M259.6 148.4h0M381.5 277.8h0M403.5 197.9h0M385.2 240.4h0M270.9 140.5h0M266.5 143.4h0M302.1 132h0M386.1 244h0M369.7 138.7h0M266.1 135h0M398.9 195.8h0M288.5 134h0M266 153.6h0M265.5 165.5h0M384.9 251.9h0M377.5 142.2h0M347.9 136.9h0M362.1 278.8h0M250.1 193.5h0M389 227.1h0M379.5 268.2h0M265.7 170.1h0M387.9 235.3h0M255.2 198.1h0M373 137.6h0M278.4 135.7h0M350.2 136.7h0M258.3 239.8h0M265.2 150.6h0M395.9 204.9h0M387.2 236.6h0M386.3 233.6h0M390.5 140.1h0M265.5 156.4h0M306.9 126.5h0M385.6 240.4h0M325.4 131.2h0M290 131h0M390 226h0M288.7 132.9h0M248.2 225.2h0M384 230.3h0M409 178.7h0M253.8 234.9h0M348.4 134.3h0M407.4 153h0M284.4 265.4h0M395.7 146.5h0M255.7 234.3h0M397.9 142.4h0M306.5 131.7h0M249.7 228.8h0M384.5 263.4h0M333.2 128.3h0M386.1 135.2h0M386.2 227.8h0M375.5 268.8h0M354.5 134.1h0M285.3 133.4h0M361 275.3h0M295.7 132.3h0M416.4 168.7h0M411.9 154.5h0M303.3 273.8h0M279.6 133.6h0M413.1 164.4h0M386.1 237.3h0M344 282h0M262.3 146.4h0M376 142.2h0M326.5 134.1h0M252.9 208.9h0M360.5 275.9h0M402 198.1h0M323.6 131.8h0M263.6 172h0M250.5 199.2h0M255.3 243.3h0M267.3 167.4h0M263.8 248.3h0M330.8 135.8h0M279.3 133.9h0M249.4 218.3h0M303.8 273.8h0M270.5 129.6h0M327.6 135.6h0M251.9 214.5h0M253.1 205.1h0M252.3 213.5h0M264.5 148.5h0M358 135.5h0M336.8 282.7h0M390 226.8h0M330.7 135.1h0M257.4 235.9h0M388.8 138.6h0M259.8 239.8h0M295 282.8h0M301 272.8h0M292.4 131.2h0M412 184.6h0M348 279.5h0M263.5 165.2h0M248.6 215.8h0M413.3 148.2h0M403.3 148.4h0M257.4 193h0M274 257.5h0M327 135.1h0M283.4 134.6h0M261.6 164.7h0M328.4 281.9h0M413.4 172.1h0M384.7 252.4h0M349.2 280.5h0M357.2 135.1h0M303.1 124.9h0M417.3 171.2h0M379.2 276.2h0M246.8 215.2h0M292.6 132.1h0M378.6 143h0M251.9 220.7h0M266.9 135.5h0M324.2 282.3h0M411.6 160.1h0M362.7 277.6h0M255.4 133.2h0M340.8 285.4h0M252 223.5h0M346.8 136h0M334.7 136.2h0M358.5 138.8h0M252.3 229.1h0M344.3 279h0M378.6 283.4h0M251 196.2h0M309.6 132.6h0M400.5 143.5h0M278.4 255.9h0M401.5 195.9h0M366.7 276.9h0M266.1 162.1h0M327.1 281h0M385.9 243h0M394.8 214.5h0M258.2 240h0M412.3 157.3h0M337.8 280.5h0M345 136.9h0M380 143.7h0M265.2 148.2h0M331.1 132.5h0M385.7 257.8h0M389.6 225.4h0M314.9 133.2h0M409 188.8h0M381.9 255.8h0M264.8 169.2h0M342 130.7h0M334 287.3h0M260.8 242.2h0M365.1 141.2h0M392.6 227.2h0M305.3 274h0M327.6 281h0M345.3 278.6h0M329.3 284.8h0M385.8 249.5h0M308.4 133.1h0M392.4 243.4h0M353.7 134.8h0M260.9 182h0M344.3 282.1h0M357.1 136.1h0M309.6 285h0M388.6 239.5h0M345.7 138h0M263.9 239.9h0M378.5 267.4h0M262.5 150.8h0M306.9 273.5h0M385.6 236h0M253 224.6h0M285.5 128.3h0M249.3 215.1h0M247.9 214.5h0M253.3 226h0M342 125.3h0M401.8 197.1h0M407.2 185.3h0M252 227.5h0M395.3 203.4h0M365.5 139.8h0M385.8 142.7h0M273.9 125.7h0M347.8 133.2h0M365.2 274.3h0M417.2 173.6h0M415.1 164.2h0M404.9 200.3h0M333.9 286.1h0M405.8 195.7h0M403.3 189.4h0M385.6 247.4h0M401.2 206.4h0M405.7 152h0M338.7 135.5h0M392.4 212.3h0M393.4 210.7h0M343.7 281.7h0M407.6 197.3h0M381.3 258.7h0M264.2 169.5h0M374.8 132.2h0M295.2 280.7h0M414.2 172.5h0M278.8 136.1h0M413.2 172.3h0M382.6 247h0M260.4 173.7h0M355.8 277.4h0M391.4 138.4h0M377.4 266.4h0M301.2 128.6h0M395.3 241.8h0M298.1 279.3h0M290.9 280.2h0M262.5 141.5h0M394 207.2h0M278.8 135.5h0M283.6 128.8h0M255.5 194.6h0M267.5 162.6h0M336.8 128.5h0M267.5 162.6h0M355.7 137.3h0M364.4 141.2h0M300.2 271.9h0M286.9 268.1h0M412.9 155.8h0M401.4 195.9h0M407.4 194.2h0M397 211.5h0M266.3 151.1h0M322.9 131.4h0M341.8 134.9h0M255 203.9h0M399.6 210.1h0M325.1 281.3h0M333.2 136.1h0M322.3 284.3h0M262.1 153.7h0M252.5 223.6h0M366.3 140.6h0M243.8 196.8h0M268 141.6h0M381.6 273.3h0M352.2 291.5h0M356.1 137.3h0M293.8 125.8h0M264.3 173.7h0M360.4 280.2h0M254.3 193.4h0M305.2 282.8h0M362.8 281.9h0M289.2 134.1h0M389.3 213.4h0M253.3 209.5h0M398.2 148.2h0M410.6 145.9h0M407.9 184.7h0M382 137.7h0M290.4 130.6h0M338.5 283.8h0M395 237.3h0M394.3 260.6h0M328.1 135.4h0M393.5 214.4h0M270.4 137.4h0M304.1 128.2h0M320 134.7h0M318.2 129.6h0M385.9 235.9h0M323.2 132.1h0M385.8 243.9h0M293.2 118h0M334.1 281.3h0M400.4 196h0M291.3 129h0M367.4 137.5h0M381.3 257.2h0M392 217h0M259.2 180.9h0M361.6 274.5h0M252 206.1h0M251.9 205.7h0M272.5 258.7h0M310.6 122.2h0M350.5 138.1h0M289.1 265.4h0M255.2 196.9h0M386.1 260.2h0M386 252.2h0M386.9 242.9h0M365.4 274.3h0M362.6 141.4h0M262.6 144.1h0M309.2 276.9h0M390 216.8h0M392.3 134.8h0M333.7 131.3h0M384.2 242.8h0M383 247.2h0M423 178.8h0M277.1 257h0M272.3 254.5h0M271.1 135.6h0M362.1 138.4h0M374.9 139h0M355 287.4h0M262.1 242.5h0M396 146.2h0M338.2 283.5h0M307.7 126.3h0M365.5 275.7h0M261.6 238.6h0M388 219.8h0M288 134h0M424 163.1h0M365.9 137.3h0M264.5 152h0M377.3 271.8h0M281.1 132h0M417.2 168.5h0M387.1 242h0M412.5 167.6h0M409.3 188.3h0M252.7 207h0M353.4 283.1h0M266.2 154.3h0M378.7 266.7h0M395.4 147.6h0M400.5 205h0M399 200.2h0M379.2 142.5h0M412.4 174.4h0M306.6 275.7h0M372.7 282.1h0M395.5 224.5h0M285.3 263.8h0M300.4 127.6h0M347.4 136.3h0M337.1 129.3h0M399.4 209.7h0M413.9 164.5h0M387.3 230.7h0M339 289.1h0M264.2 159.6h0M323.2 132h0M266.4 154.1h0M383.5 238.6h0M351.3 138.4h0M257.8 233.2h0M395.3 201.6h0M390.2 243.3h0M342 131.8h0M385.5 232.2h0M257.4 156.9h0M340.9 281h0M366.6 278.4h0M252.9 161.5h0M381.6 273.6h0M368.2 137.6h0M359.3 280.3h0M269.3 141.8h0M370.6 278.1h0M260.9 145.3h0M359.5 276.1h0M317.2 127h0M250.9 206.2h0M336.3 287.7h0M312.4 287h0M285.6 129.8h0M404.9 198.1h0M403.3 151.3h0M254.7 163.1h0M260.2 138.8h0M264.9 164.5h0M409.3 189.3h0M299.4 289.5h0M276.7 257.6h0M289.6 133.3h0M371.6 272.4h0M321.3 132.7h0M262 174.8h0M369.7 140.7h0M279.8 258.7h0M268.2 143.3h0M374.1 268.9h0M301 127.9h0M387.4 223.5h0M383 247.4h0M393.1 262.4h0M383 242.9h0M252.6 206.8h0M407 195.9h0M411.7 143.2h0M294.2 270.5h0M322.9 128.5h0M412.9 147.1h0M345.1 136.7h0M361.5 141.1h0M276.3 260.9h0M256.9 191.8h0M270.6 132h0M248.2 218h0M410.6 151.7h0M272.8 136.8h0M267.9 139.3h0M274.1 137.7h0M402.3 149h0M341 279.9h0M292 132.1h0M337.2 289.4h0M267.6 136.8h0M251.8 208.6h0M400.7 151h0M316 278.4h0M408.9 140.3h0M378.5 267h0M385.9 143.7h0M401.9 144h0M354.4 288.1h0M379.9 141.3h0M380.3 264h0M407.4 201.8h0M263.7 164.9h0M253.6 194h0M382.7 254.6h0M246.1 211.3h0M257.8 183.9h0M377.3 268h0M394.6 203.1h0M260.5 184.1h0M423.4 167.1h0M363 137.8h0M275.2 253.8h0M401 194.5h0M282.5 278.1h0M266.1 133.8h0M248.3 221.6h0M276.8 132.7h0M266.2 168.2h0M392 219.3h0M392.2 207.8h0M366.6 132.8h0M328.6 287.5h0M387.4 254.9h0M285.3 266h0M256.4 234.5h0M397.5 199.2h0M360.5 287.8h0M361 138.9h0M322 132.5h0M323.6 135.1h0M383.7 241.2h0M380.6 141.3h0M243.1 207.6h0M410.7 171h0M335.2 283.3h0M414.4 162.4h0M297.6 133.2h0M345.8 280h0M296.9 127.4h0M252.3 226h0M392.6 270.6h0M392.4 218.1h0M384.3 249.9h0M258.7 238.2h0M417 159.4h0M390.7 232.4h0M261.2 178.1h0M386.3 255.3h0M315.1 277.9h0M298.2 271.4h0M255.3 201.5h0M385.7 229.9h0M358.3 277.6h0M401.3 143.7h0M249.9 215.3h0M327.8 285.2h0M388.6 241.3h0M330.6 283.7h0M390.1 211.7h0M384.7 233.7h0M248.7 216.8h0M374.5 270.8h0M262.1 175.1h0M310.5 276.6h0M316.4 129.3h0M330.2 133.2h0M353.6 138.5h0M253.7 196.2h0M333.3 131.6h0M277.3 255.7h0M353.8 281.6h0M352.8 138.7h0M383.8 143.1h0M392.5 206.5h0M264.7 162h0M282.9 123.7h0M388.2 146.1h0M324.7 131.8h0M352.2 282h0M372.7 273.8h0M292.5 284.2h0M272.1 136.7h0M272.5 249.4h0M290.8 132.6h0M385.9 234.2h0M352.2 138.9h0M354.7 276.3h0M267.1 153.2h0M405 185.9h0M304.3 131.9h0M252.9 227.5h0M387.1 229.2h0M393.9 213.2h0M411.5 145.8h0M402.8 197.9h0M388.9 231.5h0M367.8 279.9h0M385.3 243.8h0M292.1 270.2h0M278.6 134.7h0M377.8 271.8h0M388.3 145.1h0M349.5 288.9h0M412.4 152.5h0M253.8 203.3h0M339.8 279h0M271.8 141.2h0M278.7 263.5h0M303.3 133.1h0M289.1 266.8h0M249.4 221h0M318.2 281.5h0M397.6 207.7h0M400.4 147.4h0M266.9 151.8h0M404.4 189.5h0M383.2 260.2h0M405.2 194.5h0M364.2 278.6h0M404.8 188.6h0M397.3 148.2h0M351.7 138.8h0M398.6 144.4h0M336.6 133.8h0M369.4 274.8h0M272.3 137.5h0M285 133.7h0M263.1 155.3h0M317.1 281.4h0M254.3 181.3h0M254.3 206h0M391 218.2h0M410 151.3h0M254 236.8h0M335.3 133.1h0M385.4 226.8h0M350.2 138.6h0M401.2 142.7h0M267.5 156.5h0M393.4 205.9h0M322.8 133.2h0M410.6 172h0M264.2 149.3h0M256.2 231.2h0M245.3 203h0M335.7 279h0M280.2 261h0M244.8 209.2h0M371.5 134.5h0M330.1 279h0M348.9 133.3h0M299.3 280.9h0M412.9 155.4h0M267.1 254.3h0M267.4 166h0M343 278.4h0M392.6 238.3h0M286.2 263.3h0M253.8 188.8h0M281 264.1h0M365.4 276.9h0M387.3 246h0M384.1 276.5h0M351.7 137.5h0M325.7 283.1h0M265.9 246.3h0M350.4 286.1h0M256.3 235.4h0M406.5 152.1h0M375.8 277.3h0M384.6 264.5h0M382.8 274.1h0M270.4 255.4h0M409.4 175.9h0M385.5 229.8h0M411.8 162.1h0M254.6 204.7h0M299 128.8h0M337.1 279.2h0M399.5 195.8h0M411.9 175h0M395 205h0M391.9 258.1h0M250.6 193.7h0M258 181.5h0M353.7 280.1h0M303.7 130.5h0M265.7 151h0M254.5 226.6h0M386.9 223.3h0M331.3 285.8h0M412.3 174.9h0M384.9 264.4h0M374.2 140h0M362.7 138.7h0M261.7 170.7h0M368.1 275h0M341.6 293h0M386.8 260.9h0M356.4 133.2h0M379.9 276.4h0M270.1 142.8h0M280.3 127h0M388.5 236.1h0M265.3 150.9h0M311.4 275.6h0M301.1 273.4h0M261 170.1h0M378.4 267.5h0M239 202h0M357.5 133.2h0M324.4 282.7h0M395.9 200.1h0M317.3 121.5h0M292 268.3h0M357.7 278.6h0M387.2 219.1h0M253.9 229.9h0M281 130.9h0M314.3 289.1h0M249.2 215.8h0M383.9 245.4h0M386.1 255.6h0M253.6 227h0M326.8 128.5h0M254.8 199.9h0M412.3 160.4h0M410 236.1h0M404.2 235.9h0M402.8 240.1h0M416.4 238.3h0M410.5 237.6h0M415.5 236.9h0M407.4 236.6h0M409.7 236.7h0M410.2 233.3h0M411.6 230.9h0M403 235.8h0M408.8 238.5h0M407.8 237.4h0M412.7 234.6h0M408.5 232h0M408.2 233.2h0M412.6 234h0M412.5 235.7h0M412.8 236.2h0M401 236h0M403.4 234.7h0M416.1 233.5h0M403.4 237.2h0M420.4 233.6h0M406.5 237.7h0M404.4 233.3h0M417 234.8h0M405.8 238.1h0M414.4 236.7h0M405.3 233.9h0M411.2 236.5h0M411.9 236h0M409.1 236.4h0M412.3 236.1h0M407.2 237.2h0M413 238.5h0M406.7 233.7h0M415.6 234.8h0M414.5 235.1h0M406.2 234.6h0M408.6 236.7h0M415.7 235.5h0M411.1 235.4h0M409.8 237.5h0M413.3 236.7h0M408.3 236.1h0M413.1 234.4h0M409.7 233.2h0M412.4 234.4h0M407.6 240h0M404.6 235h0M410 236.8h0M408.3 232.9h0M414.5 236.1h0M411.3 234.3h0M409.7 236.4h0M413.8 238.2h0M411.8 234.1h0M409.3 237.8h0M406.2 238.1h0M410.7 260.1h0M406.1 263.9h0M411.1 258h0M401.6 259.5h0M408.8 257.8h0M403.8 263.1h0M414 259.5h0M401.1 259.8h0M408.5 262.1h0M400.7 259.2h0M409.6 261.5h0M398.6 258h0M399.2 256.6h0M408.8 261.4h0M399.3 261.9h0M399.8 257.4h0M411.4 263h0M411.1 255.3h0M395.3 260h0M412.1 257.8h0M407.8 263.3h0M409.2 264.4h0M409.7 263.6h0M400.6 266.3h0M405.6 261.2h0M410.3 258.1h0M401.3 264.1h0M404.6 263h0M411.3 259.8h0M408.7 264.8h0M410.2 264.3h0M410.9 263.4h0M403.2 253.9h0M406.3 261.6h0M407.4 259.8h0M406.1 261.9h0M411.2 258.6h0M404.1 257.1h0M399.5 264h0M410.1 260.5h0M403 258.9h0M403 259.5h0M400.5 266.4h0M404.2 260.2h0M404 257.1h0M407.9 254.4h0M405.7 258.1h0M411 260.1h0M403 259.6h0M404.3 261h0M401.3 254.7h0M405.2 261.2h0M407.3 256.4h0M401.8 260.1h0M398.5 254.1h0M406.1 255.2h0M396 259h0M401.4 263.9h0M408 260.5h0M398.8 260.5h0M399 263.7h0M399.4 255h0M406.7 257.8h0M406.8 255.3h0M410.3 256.7h0M399.9 258h0M402.4 263.6h0M410.3 261.3h0M407.5 254.6h0M406.6 264.4h0M374.3 300.2h0M372.3 298.4h0M370.3 307.3h0M377.2 297.8h0M373.3 297.2h0M376.2 298h0M374.6 298.3h0M373.9 298.2h0M369.8 289.7h0M371.7 293.9h0M375.3 303.3h0M373.2 297.7h0M376.4 301.4h0M373.8 295.4h0M370.4 304.7h0M371 297.9h0M373.8 294.7h0M374.8 295.9h0M373.4 300.7h0M370.3 298.1h0M374.2 306.9h0M368.6 295.6h0M371.7 304.7h0M371.4 302.9h0M372.2 300.5h0M373.9 297.3h0M374.2 305.7h0M374.2 297.5h0M371.7 304.2h0M371.7 295.8h0M348.5 314.9h0M347.6 309.6h0M348.9 312.9h0M351.9 311.3h0M347 313.6h0M348.1 307.9h0M346.5 310.2h0M352.5 316h0M345.7 309.4h0M348.7 313.4h0M353.1 309.3h0M349.1 312.9h0M348.7 311h0M349.4 313.2h0M350.7 315.5h0M345.8 310.9h0M348.5 317.1h0M349.5 315.2h0M349.1 311h0M342.5 316.1h0M350.7 313.9h0M347.3 315.7h0M347.3 311.3h0M348.7 315.3h0M350.2 313.3h0M347.2 311.7h0M351.6 314.1h0M351.1 309.6h0M344.9 306.2h0M352 313.2h0M426.5 193.3h0M426 195.5h0M428.2 196.1h0M426.6 193.8h0M427.3 199.1h0M424.6 197.6h0M423.4 195.1h0M426.6 198.7h0M427.1 196.4h0M427.3 194.6h0M428.1 195.9h0M427.5 197.1h0M426.5 196.6h0M425.8 193.9h0M427.3 194.6h0M425.1 195.8h0M421.7 199h0M429.3 196.2h0M425.5 200.9h0M427.1 190.2h0M423.6 193.3h0M426.1 193.5h0M422.8 192.1h0M431.5 195.2h0M425.7 191.9h0M397.9 310.2h0M396.5 307.4h0M393.6 308.3h0M393.9 306.9h0M399.2 309.9h0M394.1 309.4h0M416.2 219.5h0M419.1 223.6h0M416.1 221.7h0M421.1 223.4h0M416 222h0M418.1 223.5h0M416.4 221h0M416.5 218h0M416.8 226.8h0M421.3 223.1h0M391.2 283.5h0M390.9 286.1h0M392.8 280.4h0M392.8 286h0M390.9 287.7h0M388.9 285h0M394.9 285h0M392.1 286h0" stroke="#90ee90" stroke-width="2.1" stroke-linecap="round" fill="none"/>
<path d="M363.3 186.6h0M361.9 147.1h0M348.4 153.6h0M324.3 151.1h0M279.1 190.3h0M292.9 134h0M281.7 140.7h0M329.1 169.7h0M406.1 171.7h0M274.7 141.4h0M270.1 147.6h0M360.6 193.7h0M310.3 153.8h0M379.2 151.9h0M338 173.6h0M376.6 184.7h0M274.4 156.2h0M374.4 153.6h0M296.2 157.6h0M288 166.5h0M295.1 259.5h0M400.3 183.4h0M400.4 171.2h0M365.1 163h0M331.1 270.4h0M375.9 190.2h0M314.7 148.4h0M341.2 159h0M287.8 155.3h0M397.9 190.9h0M377.7 255.3h0M413.7 162.7h0M303.4 136.3h0M304.4 211.8h0M375 158.3h0M328.9 149.6h0M410 171.7h0M301.1 153.8h0M386.9 144.9h0M300.4 174.3h0M310.5 149.8h0M273.5 159.6h0M389.5 181h0M386.5 159.2h0M295.2 130.9h0M334.3 161.5h0M261.9 187.8h0M406.9 165.3h0M312.9 161.8h0M360.6 181.3h0M392.4 174.4h0M304.7 186.9h0M257 200.6h0M299.7 132.3h0M335.3 158.1h0M372.3 181h0M296.5 138.3h0M386.9 208.1h0M397.8 198.3h0M309.1 145h0M301.2 143.7h0M297.5 148.3h0M294 191h0M288.3 183h0M388.5 199.7h0M364.8 201.9h0M291.2 151.6h0M274.8 146h0M343.7 156.4h0M270.2 195.3h0M309 161.8h0M263.7 177.7h0M330.7 155h0M381.6 161.2h0M325.6 148.5h0M361.1 218.2h0M347.9 156.2h0M335.1 167.5h0M274 177.8h0M295.9 176h0M352.5 156.2h0M347.9 170.6h0M311.4 194.1h0M353.5 142.8h0M294.5 174h0M295.1 131.7h0M292.8 172.5h0M292.4 159.4h0M263.2 193.4h0M380.5 191.2h0M316.2 162.8h0M382.2 157.7h0M336 149.5h0M277.2 144.5h0M373.5 205h0M353.2 160.7h0M294 143.2h0M368.7 168.4h0M325.1 169.2h0M311.3 148.7h0M357.3 168.9h0M330.9 144.2h0M408.4 167.7h0M374.7 154h0M299.1 158.4h0M296.2 180.1h0M290.9 220h0M307.1 140.9h0M293.6 143.6h0M316.6 169.1h0M322.1 153h0M336.9 171h0M277.5 190.8h0M289.6 152.3h0M353.9 137.6h0M302.9 183.4h0M394.7 151.4h0M379.6 164.3h0M308.2 148.8h0M298.3 169.2h0M287.6 156.8h0M305.2 185.8h0M294.8 169.6h0M327.1 134.2h0M412.4 165h0M330.6 186.3h0M313.5 175.6h0M319.3 159.1h0M257.5 198.3h0M388.2 167.4h0M342.8 144.5h0M347 248.9h0M282.1 143.2h0M349.9 200.8h0M387.8 159h0M405.6 155.2h0M278.5 224.3h0M367.6 193.5h0M294.5 145.1h0M269 172.8h0M391.2 192.3h0M322.7 149.4h0M387.9 163.7h0M284.7 164.8h0M277.6 173h0M299 236.3h0M321.2 239.1h0M368.1 236.3h0M380.4 174.1h0M323.9 139.5h0M290.9 152.2h0M392.7 157.1h0M371.6 145.6h0M369.5 162.9h0M407.9 177h0M292.7 163h0M286.4 249.6h0M323.9 172.9h0M285.1 195.9h0M312.1 244.9h0M325 138.9h0M326.9 165.1h0M395.1 195.7h0M362.9 161h0M275.2 222.7h0M343.5 140.4h0M279.1 175.1h0M299 207.8h0M292.5 196.3h0M377.1 146.7h0M387.4 164h0M308.7 156.3h0M285.7 158.8h0M401 171.1h0M333.2 156.1h0M383 146.3h0M278 174h0M277.3 196.5h0M272.2 140.8h0M308.5 168h0M312.2 153.7h0M342.8 149.8h0M307.4 171.2h0M325.4 159.2h0M274.2 175h0M366.7 149.4h0M278.1 151.3h0M303.6 154.5h0M321.6 260.3h0M386.1 144.7h0M380.9 153h0M324.8 177.2h0M334.6 190h0M392.7 162h0M333.4 141.4h0M343.7 165.8h0M302.3 134.2h0M315.1 246.6h0M330 171.1h0M322.9 145.9h0M349.8 273.1h0M333.5 198.7h0M322.1 194.9h0M361.1 143h0M334.2 200h0M333.3 142.4h0M274.5 151.4h0M385.4 184.1h0M297.8 247.5h0M361.5 209.2h0M387.4 148.7h0M364.8 145.1h0M388.6 154.3h0M365.3 149h0M323.8 233.2h0M270.5 170.4h0M263.8 176.2h0M308.2 153.3h0M285.5 132.5h0M310.7 156.5h0M293.1 144.2h0M322.7 189.1h0M289.4 149.2h0M288.4 171.6h0M320.4 137.6h0M310.3 220.4h0M364.8 141.9h0M274.9 181.2h0M377.7 146.4h0M364.2 154h0M350.7 140.1h0M388.1 206.1h0M291.8 167.3h0M333.6 175.2h0M403.3 166.8h0M320.1 172.2h0M341.4 164.4h0M315.7 183.5h0M315.9 256.1h0M267.8 156.9h0M325.6 152.7h0M363.1 150.2h0M286.2 173.2h0M359.1 173.4h0M327.5 173h0M342.2 271.7h0M350.3 140.4h0M374.6 173h0M404.3 177.7h0M276.1 198.2h0M342.6 139.5h0M326.6 156.5h0M397.2 190.9h0M290.7 133.7h0M411.1 163.2h0M380.1 142.3h0M292.7 136.1h0M302 137.5h0M375.8 151.4h0M358.1 244.7h0M410.7 175.1h0M342.5 213.1h0M286.9 254.7h0M341.6 172.7h0M290.1 192h0M296.9 184.3h0M329.1 188.7h0M349.1 168h0M342.4 153.3h0M263.6 192.7h0M364.3 160.1h0M287.4 180.7h0M320.7 151.3h0M311 144.9h0M359.1 157.9h0M324.2 157.1h0M356.2 265.1h0M300.4 144.8h0M342.4 158.5h0M296 149.1h0M278.6 163.7h0M377.1 160.3h0M270.1 158.4h0M306.5 139.3h0M339 157.9h0M407.7 164.2h0M363.8 142.9h0M306.2 184.6h0M349.8 189.7h0M321.8 145h0M372.8 148h0M314 156.3h0M391 185.3h0M352.3 175.4h0M390.3 145.7h0M276 145.7h0M366.3 153.5h0M389.8 169.7h0M301.6 157.6h0M360.5 174.8h0M270.6 195.1h0M268.5 155.4h0M284.4 181.5h0M396.5 147.1h0M373.6 229.3h0M327.2 160.1h0M338.9 147.4h0M392.4 144.8h0M274.1 169.5h0M390.3 168.6h0M403.4 151.4h0M354 187.6h0M283.5 146.9h0M295.7 168h0M332.9 139.4h0M309.6 149.1h0M268.8 215.9h0M336.4 191.7h0M271.5 169h0M408.6 171.5h0M334.3 206.3h0M323.7 167.3h0M341.9 181.6h0M307 172.2h0M358.4 153.4h0M292.7 147.9h0M343.1 135.1h0M396.3 168.8h0M353.1 188.3h0M326.6 138.2h0M289.9 153.3h0M294.4 152.5h0M335.3 206.6h0M296.8 151.7h0M322.9 137.3h0M280.9 177.2h0M328.1 146.9h0M264.2 193.5h0M262.2 196.8h0M364 152.4h0M266.1 162.9h0M396.5 179.2h0M405.4 179.7h0M393.1 177.3h0M326.9 185.6h0M260.4 182h0M331.4 175.3h0M405.7 175.9h0M301.3 170.9h0M331.2 207.9h0M328.1 171.3h0M281.8 171h0M402 194.8h0M362 139.8h0M345.6 151.5h0M390.9 180.8h0M279.4 169.5h0M315.1 165h0M282.5 149.3h0M401.3 161.4h0M292.7 154.9h0M286 145.7h0M377.9 187.1h0M313.3 175h0M361.1 144.8h0M386 162.5h0M339 158.1h0M338.2 188h0M352.7 152h0M290.8 133.7h0M365 154.1h0M393.5 154.5h0M286.8 142.7h0M309.9 180.7h0M387.6 172.5h0M299.8 163.7h0M405.9 183.6h0M339.7 142.1h0M284.8 140.4h0M407.4 155.3h0M356.1 178.5h0M335 163.5h0M326.6 185.6h0M341.4 163.6h0M274.4 190.5h0M270.9 147.5h0M375.2 176.7h0M280.8 152.6h0M378.1 164.2h0M317.5 166.7h0M256.4 208.8h0M381.4 224.1h0M359.6 143.3h0M400.3 155.1h0M391.5 197.8h0M305.7 140.9h0M356.9 200.5h0M296.6 187.6h0M362.8 143.8h0M287 251.1h0M401.6 164.9h0M413.1 167.2h0M274.8 214.4h0M273.9 182.1h0M343 155.9h0M283.6 154.2h0M283.2 174.8h0M299 163.1h0M268.6 168.4h0M348.9 163.8h0M294.7 137.2h0M384.4 163h0M306.2 158h0M276.6 198.6h0M410.8 157.3h0M328.9 191.8h0M284.6 162.4h0M350.7 191.4h0M385.7 143.3h0M382.5 233.1h0M293.9 159.8h0M297.4 142.3h0M397.4 190.7h0M312.1 267h0M331.3 158.7h0M282.5 213.6h0M348.1 137.4h0M283.2 190.6h0M269.9 160.7h0M368.6 159.7h0M318.4 162.4h0M359.7 143.1h0M280.9 178.5h0M329.4 151.5h0M370 218.4h0M386.7 190.7h0M292.2 183.3h0M291.5 181.4h0M383.6 175.3h0M369.4 172.5h0M337.8 142.1h0M403.3 162.6h0M399.1 174.6h0M367.3 144.7h0M289.5 146.1h0M282.3 183.9h0M265.5 188.2h0M394 192.7h0M389.4 163.6h0M344.2 149.5h0M326.1 220.3h0M405.2 163.6h0M287.5 152.6h0M268.9 188.1h0M364.5 183.8h0M271.1 185h0M294.8 150.7h0M360.8 199.9h0M372.5 141.7h0M328.4 165.4h0M343.7 140.8h0M332.8 146.8h0M333.1 177.5h0M307.8 177.1h0M359 211.9h0M358.2 174.3h0M382.6 146h0M394.7 170.6h0M310.7 146.6h0M286.6 154.1h0M268.1 143.9h0M381.3 192.8h0M283.8 136.8h0M343.6 162.8h0M292.6 161.4h0M285.3 131.7h0M326.8 150h0M365.2 152.1h0M329.1 177.3h0M364.3 196.7h0M275.5 151.7h0M344.5 166.9h0M381.9 146h0M360.7 188.1h0M275.6 179h0M292.1 147.2h0M350.6 185.4h0M264.3 176.1h0M360.2 185.2h0M296.9 163.9h0M306.9 131.8h0M267.3 153.7h0M365.7 273.8h0M320.5 149.4h0M299.1 138.3h0M275.2 156.8h0M285.9 162.8h0M314.7 166.5h0M294.9 142.3h0M310.8 136.3h0M297.6 195.1h0M312.4 176.9h0M395.4 162.5h0M367 186.2h0M324.5 142h0M334.9 134h0M411.9 163.9h0M255.5 198.5h0M274.4 139.1h0M271.4 205.3h0M388.6 163.6h0M352.8 159.4h0M308.9 174.8h0M341.4 143.2h0M296.1 166.2h0M363.8 194.2h0M288.7 174.3h0M316.6 174.5h0M317 153.7h0M262.6 235.9h0M341.6 151.8h0M285.2 160.3h0M346.5 171.8h0M316.1 253h0M288.7 134.1h0M323 154.6h0M297.5 164.2h0M354.3 142.5h0M380.1 167.1h0M368.9 170.3h0M368.5 196.5h0M271 146.6h0M365.5 232.8h0M339.6 149.6h0M311.7 178.7h0M289.9 168.9h0M284.1 131.8h0M306.2 169.4h0M349.1 237.3h0M271.2 210.6h0M330.4 178.4h0M340.8 279.1h0M311.1 177.1h0M321 172.2h0M402.3 154.5h0M338 230.7h0M270.4 183.1h0M352.3 189.9h0M309.3 148.2h0M277.8 215.1h0M345.3 237.7h0M391.7 163.9h0M294.9 188.4h0M343.9 273.4h0M290.2 158h0M295.2 198.2h0M291.2 164.2h0M409.5 168.3h0M298.6 191.4h0M307.3 198.9h0M400.5 172.5h0M281.3 134.5h0M389.2 187.4h0M303.1 170.7h0M281.8 144.3h0M317.3 140.4h0M279.8 198.2h0M297.2 160h0M340.5 142.4h0M328.6 248.2h0M370.6 144.5h0M338.4 175.7h0M349.1 145.6h0M352.3 168.6h0M267.9 141.3h0M291.8 166.4h0M331 150.4h0M328.5 143.7h0M290.3 221.7h0M314.3 138.3h0M384 160.8h0M390.8 150.5h0M294.9 225.4h0M397.3 163.2h0M315.8 154.2h0M368 205.1h0M270.8 179.3h0M409.9 166.3h0M397 192.4h0M358.9 164.9h0M369.8 152.9h0M355.3 148h0M361.4 169.5h0M358.4 169.3h0M279.3 190.8h0M371.8 148h0M341.7 138.1h0M288.1 194.3h0M345.3 136.7h0M355.4 144.1h0M343.8 177.1h0M337.5 172.5h0M266.8 225.6h0M263.7 186.3h0M278.2 177.1h0M398.6 167.1h0M330.4 144.4h0M357.4 186.7h0M363.3 151.9h0M358.1 153.8h0M362.9 185.8h0M318.7 182.4h0M351.9 160h0M287 146.3h0M307.5 224.3h0M301 246.7h0M359.3 238.7h0M371.9 191.5h0M287.6 222.1h0M287.8 182h0M289 140h0M346.2 162.4h0M270.5 145h0M308 250.2h0M360.1 176.2h0M308.5 163h0M357.5 155.5h0M348.3 160.8h0M281.1 136.1h0M375.6 163.9h0M315.4 229.8h0M366 165.2h0M276.3 233.5h0M316.2 150.7h0M362.5 171.2h0M347.7 166.1h0M270.2 188.3h0M372 151.1h0M333.3 226.3h0M268.9 157.7h0M368.6 145.1h0M393.9 196.5h0M297 175.6h0M269.1 192.9h0M367.3 150.4h0M359.5 191.1h0M384.2 150h0M326.9 158.9h0M371.8 144.4h0M322.6 197.3h0M319.9 151.3h0M376.3 162.4h0M273 205.6h0M269.3 150.6h0M390.3 183.6h0M334.5 167.1h0M299 134.9h0M291 150.7h0M297.6 245.2h0M322.9 166.1h0M296.8 271.4h0M405.5 157.9h0M338.8 169.6h0M277.7 167h0M320.4 143.7h0M377.7 158.5h0M385.1 152.6h0M351.4 257.8h0M327.5 135.7h0M309.6 186h0M311.8 154.6h0M388.1 177.3h0M401.9 152.6h0M402.3 157.6h0M376.3 188.6h0M385.7 180.2h0M346.9 140.2h0M281.7 137.1h0M312.3 154.6h0M312.6 168h0M409.8 174.7h0M398.7 168.2h0M322.9 147.8h0M259 191.8h0M380.8 154.2h0M332.2 163.8h0M347 153.7h0M286.7 193.2h0M400.5 147.6h0M286.2 156.7h0M326.4 277.4h0M301.8 243.8h0M265.2 171.1h0M326.9 159.7h0M363.9 176h0M307.7 156.5h0M326.4 194.3h0M359.6 156.5h0M343 174.7h0M371.6 193.5h0M288.7 159.6h0M366.2 171.6h0M359.1 142.4h0M271.4 179.1h0M276.6 144.2h0M367.2 174h0M394.1 158.5h0M380.8 173.5h0M290.1 145.7h0M349.2 276.6h0M389.5 189h0M337.6 142.3h0M330.6 164.8h0M378.8 144.2h0M346.1 175.4h0M278.9 151.4h0M318.3 181.5h0M288.3 149.8h0M332.8 166.4h0M349.8 152h0M322.3 153.1h0M374.3 182.1h0M256.2 229.5h0M305.3 132.1h0M268.4 164h0M356.3 145h0M376.7 165.4h0M263.3 191.5h0M260 198.4h0M256.2 200.4h0M278.2 160.6h0M383.9 175h0M352.4 183.9h0M266.4 168.3h0M300.7 158h0M342.5 155.3h0M325.5 181.2h0M277.5 170.4h0M351 183.9h0M372.5 205.6h0M314.9 275.3h0M346.4 166.5h0M294 198.8h0M368.5 170.2h0M314.2 183.6h0M381.4 223.4h0M294.7 139.5h0M259.9 209.8h0M291.4 136.4h0M398.1 182.8h0M348.6 156.5h0M369.5 150.1h0M360.2 145.7h0M337.3 134h0M345.4 166.4h0M276.2 226.1h0M311.1 141.2h0M368.2 143.1h0M393.3 144.8h0M350.8 142h0M380.4 163.8h0M333.8 137.6h0M340.3 143.5h0M268.7 189.9h0M390.8 191.1h0M382.1 160.3h0M318.3 174.5h0M288 146.5h0M263.8 193.3h0M300.1 236.6h0M399 180.7h0M282.2 148.8h0M290.5 186.4h0M331.8 150.7h0M286.7 151.8h0M274.9 141.3h0M346.8 158.8h0M402.5 153h0M342 176.1h0M278.4 195.7h0M338.1 191.8h0M331.2 191.6h0M287 133.8h0M299.3 160.7h0M370.2 162.8h0M305.1 174.7h0M338.8 145h0M406.1 158.1h0M300.2 260.8h0M355.3 156h0M291.7 148.3h0M302 153h0M314.3 271.1h0M275.1 182.4h0M312.2 170.6h0M401 153.7h0M412.3 171.8h0M280.9 164h0M329 189.6h0M365.4 201.1h0M369.9 154.2h0M389.7 171h0M263.8 189.6h0M310.1 135.8h0M402.9 164.6h0M289.9 177.3h0M275.4 170.1h0M361.9 180.5h0M305.2 158.4h0M336.2 241.8h0M388 156h0M299.1 162.3h0M392.2 157.9h0M309.3 138.2h0M406.2 165.3h0M358.7 160.5h0M329.1 180.1h0M269.8 193.1h0M306.6 177.9h0M356.9 163.6h0M334.7 137.8h0M332.6 135.6h0M337.3 193.6h0M353.7 137.1h0M375.4 158.3h0M338.8 174h0M300.4 167.9h0M316.3 274.2h0M266.1 157h0M315.8 141.8h0M353.2 193.4h0M312.2 138.4h0M366.9 141.2h0M295.2 145.2h0M271.8 155h0M312.5 200.8h0M317.8 160.2h0M355.1 164.6h0M288.6 139.8h0M288.4 165.3h0M378.7 188.7h0M319 181.2h0M376.6 140.8h0M328.9 162.5h0M301.5 168.5h0M358.5 170h0M352.5 157.1h0M348.5 137.1h0M252.7 209.9h0M413.7 162.7h0M334.3 143.2h0M258.4 231.7h0M268.7 161.5h0M375.8 204h0M370.9 160.5h0M377.1 183.6h0M308.8 148.3h0M315.3 146h0M349.9 161.5h0M282.7 146.6h0M285.9 162.6h0M293.4 167.5h0M322.2 170.4h0M325.9 159.5h0M267.6 247.6h0M310.8 140.8h0M270.7 220.2h0M372.6 261.8h0M297.1 190.1h0M300.1 165.4h0M279.7 195.9h0M381 246.2h0M284.2 133.4h0M383.1 157.2h0M357.2 236.8h0M333.9 139.3h0M288.5 171.2h0M322 271h0M304.9 146.5h0M285.1 191.2h0M272.3 138.2h0M400.7 167.3h0M411.9 177.6h0M389.3 173.1h0M331.3 170.5h0M297.5 147.9h0M260.3 196.5h0M367.1 142.5h0M369.3 152.8h0M370.3 164.9h0M405.8 188.6h0M269.5 218.8h0M389 167.7h0M304.5 149.3h0M355.6 155.8h0M331.3 190.2h0M322.8 154.4h0M283.3 196.8h0M274.2 185.9h0M297.5 172.1h0M266.2 148.4h0M390.1 159.1h0M393.9 152.3h0M319.7 198h0M297.5 268.2h0M341 150.4h0M318.3 180.2h0M276.1 202.4h0M356.1 137.4h0M328.5 144.3h0M399.4 158.7h0M348.6 155.4h0M318.4 188.4h0M392 169.8h0M389.7 149.3h0M397.1 164.7h0M361.1 154.5h0M350.9 164h0M368.3 179.4h0M369.6 157.1h0M409.2 160.3h0M385.7 159.1h0M308.2 141h0M288 172.3h0M326.6 180.1h0M301.4 151.3h0M374.3 158.4h0M311 163.7h0M370.6 196.4h0M263.4 180.7h0M392.7 201.8h0M307.6 151.5h0M345.8 136.1h0M271 141.3h0M343.2 144.9h0M368.7 139.6h0M332.5 260.3h0M264.8 147.2h0M346.8 146.1h0M350 181.8h0M307.1 185.4h0M318.6 171.4h0M327.7 145.3h0M304.5 161.7h0M390.8 174.1h0M382.3 190.7h0M387 175.2h0M410.2 156.8h0M316.2 154.3h0M393.7 151.9h0M367.9 142.8h0M305 188.1h0M375.2 140.4h0M337 153.8h0M346.5 145.4h0M285.2 166.2h0M380.1 163.9h0M404.4 165.7h0M298.1 165.6h0M371.4 184.7h0M405.6 166.4h0M305.7 131.2h0M303.8 162.9h0M363.7 161.5h0M255.9 195.6h0M390.5 170.6h0M306.1 270.2h0M286.6 164.3h0M342.9 167.6h0M365.9 170.8h0M368.6 268.1h0M337.4 199.7h0M349.1 254.6h0M331.4 268.8h0M311.7 143.7h0M335.4 142.8h0M378.7 242h0M359.3 181.2h0M357.5 162.3h0M261.5 178.1h0M366.4 256h0M347.8 146.3h0M265.3 180.8h0M318.6 163.8h0M410.3 177.2h0M375.2 179.1h0M391.7 190.7h0M405.9 154h0M305 169.4h0M287.5 163.8h0M337.5 202.1h0M304.9 176.3h0M409.4 159.4h0M355.4 188.1h0M320.4 177.5h0M400.4 172.1h0M360.2 166.9h0M370.6 188.1h0M382.3 144h0M313.6 173.3h0M357.1 198.2h0M319 190.6h0M288.1 156.9h0M346.6 137.2h0M274.2 172h0M270.4 142.3h0M333.9 258.9h0M406.6 175.6h0M291.5 170.3h0M336.2 142.3h0M302.2 176.3h0M325.7 152h0M359.5 167.1h0M360.8 161h0M270 184.2h0M322.7 132.3h0M257.6 183.9h0M305.8 171.6h0M330.8 162.7h0M332.6 179.2h0M407.7 161.9h0M312.3 170.5h0M304.8 183.4h0M277 196.8h0M381.6 148.6h0M306 155.5h0M363.9 139.3h0M336.2 143.4h0M381.6 229.4h0M380.6 155.6h0M258.6 199.3h0M264.9 174.2h0M327.6 195.4h0M273 175.2h0M302.9 138.3h0M311.3 132.9h0M264.9 149.4h0M289.5 148.7h0M397.4 171.1h0M266.9 180.1h0M277.1 191.6h0M381.9 151h0M407.8 173h0M322.1 160.1h0M275.8 163.9h0M274.6 151.6h0M369.4 187.6h0M271.1 189.4h0M307.4 195.8h0M380.7 148.3h0M353.1 178h0M340.5 168.5h0M394.6 157.7h0M257.2 185.3h0M316.8 186h0M303.3 261.9h0M366.8 174h0M304.8 170.4h0M344 147.5h0M287.1 166.1h0M367.9 159.3h0M260.9 205.3h0M363.4 178.8h0M301.6 143.7h0M359 165.9h0M322.9 151.9h0M297.7 141.8h0M288.2 154.8h0M308.8 160.1h0M283.4 185.1h0M378.3 172.4h0M309.9 179h0M351.2 141.7h0M324.3 140.8h0M302.3 154.4h0M308.6 140.1h0M269 155.6h0M343.6 162h0M317.1 178h0M380.2 173.8h0M302.9 158.4h0M276.6 140.5h0M339.7 171.2h0M362.6 153.1h0M307.6 156.6h0M312 219.5h0M298.5 146.1h0M387.4 154.3h0M320.2 134.1h0M378.5 152h0M364.5 156.7h0M322 149.7h0M289.7 154.7h0M349.5 171.1h0M275.9 198.6h0M306.8 181.3h0M295.3 142h0M296.5 139.8h0M266.9 160.4h0M346.9 138h0M337.9 158.8h0M406.4 154.8h0M332.7 266.5h0M336.6 163.4h0M380.9 252h0M308.4 135.3h0M314.8 136.6h0M282.2 190.1h0M302.5 159.7h0M321.5 158.2h0M385.6 161.8h0M394 150.2h0M373.2 177.2h0M383.7 170.5h0M319.1 139.6h0M274.3 147h0M360.1 151.6h0M384.8 172.3h0M360.5 156.8h0M338 176.9h0M338.5 160.5h0M345.6 167.8h0M302 131.6h0M328.8 193.6h0M361.9 164.1h0M292.3 221.8h0M395.1 147.3h0M337.6 192.7h0M410.8 171.8h0M354.9 154.6h0M350.2 136.2h0M361.9 147.3h0M377.2 163.9h0M288.4 172.3h0M286.4 152.9h0M279.6 191.7h0M388.3 176.7h0M340.4 135.3h0M361.3 193.3h0M297.8 150.8h0M395.9 169.5h0M404.9 162.2h0M295.2 178.2h0M348.1 175.2h0M332.9 143h0M322.9 228.2h0M379.7 171.9h0M330.8 138.6h0M330.3 158.3h0M372.9 193.3h0M359.5 139.4h0M300.2 170.7h0M366.8 195.3h0M356.1 183.3h0M331.7 178.3h0M303.9 166.7h0M295.3 158.7h0M289.5 265h0M350.2 159.5h0M396.3 160.1h0M406.5 159.6h0M282.8 140.7h0M351.3 155.8h0M351.1 205.4h0M340 194h0M339.1 188.3h0M327.9 154.9h0M329.3 217.2h0M267.4 151.4h0M362.4 172.8h0M400.5 162h0M390.3 171.3h0M362.4 159.3h0M365.9 167h0M315.8 191.2h0M256.8 206.4h0M371.4 182.8h0M344.1 144.3h0M346.8 169.8h0M402 177.8h0M318.9 158.5h0M376.8 169.9h0M291.7 176.1h0M343.5 194.9h0M329.2 276.4h0M297.9 206.4h0M322 138.9h0M319 263.8h0M315.9 187.9h0M331 148.4h0M353.3 181.9h0M350.3 188.9h0M408.6 154.3h0M358.4 147.8h0M278.9 196.9h0M333.6 206.2h0M309.9 180.9h0M376.4 231.5h0M392.6 167.7h0M320.9 139.6h0M330.8 182.2h0M274 171.4h0M364.7 151.8h0M363.1 176.4h0M310.7 144h0M348.6 159.5h0M320.7 175.3h0M347.5 168.4h0M284.6 150.2h0M347.7 188.3h0M332.8 167.6h0M328 164.1h0M316.8 137.8h0M333.4 196.5h0M371.4 204.6h0M290.2 252.1h0M380.2 153.7h0M289.5 185.9h0M368.2 154h0M345.7 154.8h0M405.6 159.5h0M292.1 194h0M288.9 160.9h0M271.7 145.2h0M344.3 145.1h0M259.1 194.7h0M283.7 170.1h0M293.2 196.2h0M401.8 150.7h0M303.8 173.9h0M334.4 155h0M318 143.1h0M372.7 181.7h0M327.4 142.8h0M358.2 194.2h0M396.9 188h0M305.9 157.8h0M375 146.3h0M332 151.9h0M309.7 168.8h0M374.9 156.5h0M319.6 152.3h0M365.7 196.5h0M274.2 149.1h0M403.1 150.7h0M298.1 166.9h0M344.2 155h0M405.6 179.2h0M296.5 202.4h0M333.1 150.4h0M370.1 155h0M309.8 224.2h0M297.1 160.1h0M337 134.6h0M324.2 166.9h0M369.9 146.4h0M281.5 201.2h0M271.1 162.7h0M284.9 136.3h0M304.5 187.8h0M281.4 174.6h0M372.2 141.5h0M288.3 191.3h0M300 162.3h0M346.2 150.8h0M361.3 179.1h0M394.2 147h0M321.1 160.8h0M302.3 252.3h0M348.9 141.6h0M376.2 188.9h0M326.8 133.2h0M266.3 168.3h0M305.3 131.7h0M353 158.8h0M395.4 170.9h0M397.2 155h0M322.1 175.5h0M375.6 163h0M274.9 140.5h0M281.9 199.8h0M276.4 134.6h0M301.6 148.1h0M363.6 192.3h0M354.1 153.5h0M407.2 161.5h0M340.1 174.4h0M297.3 146h0M277.5 182.4h0M381.6 145.8h0M310.3 152.2h0M394 176.3h0M323.8 154.5h0M366.1 140.7h0M312.6 148h0M342.8 204.6h0M310.2 194.3h0M384.7 209.4h0M337.4 174.9h0M258.2 192.8h0M361.5 171h0M304.6 241.9h0M388.6 166.6h0M257.6 197.9h0M308.7 203.7h0M355 151.7h0M313.5 267.5h0M292.6 163.6h0M372 203.8h0M314.9 153h0M299.1 178.3h0M315 134h0M393.3 196.5h0M328.2 165.9h0M283.5 205.2h0M275.4 140.9h0M302.4 175.4h0M310.2 167.3h0M293.6 262.2h0M389.1 152.3h0M404.1 155.1h0M297.5 136.9h0M292.4 134.6h0M352.8 154.6h0M392 165.3h0M308.4 147.7h0M389.8 153.2h0M353.7 158.9h0M365.6 151.8h0M273.1 166.3h0M317.9 168.5h0M287.5 162.2h0M273.2 179.8h0M268.4 145.7h0M286.2 140h0M313.3 131.6h0M351.8 149.3h0M307.9 136.7h0M285.8 190.4h0M279 163h0M393.2 180.9h0M299.9 271.2h0M376.7 150.6h0M398.5 161.7h0M351.1 159.4h0M356.6 235.9h0M385 144.2h0M361.5 173.4h0M382.8 153.3h0M295.6 198h0M340.8 207.3h0M290 135.5h0M346.7 149.7h0M381.3 177.6h0M400.8 160.2h0M400.6 150.8h0M344.4 140h0M386.6 145.2h0M394.7 169.1h0M360 220.1h0M328.9 192.6h0M349 156.5h0M410.4 176.5h0M299.4 152.4h0M314.5 141.6h0M326.3 135.8h0M398.9 157.6h0M286.5 137.5h0M367.9 177.5h0M287.7 257.5h0M298.1 205.7h0M290.1 153.7h0M281.1 188.5h0M389.7 179.9h0M410 166.2h0M350.3 153.2h0M298.8 162.8h0M362.5 174.3h0M330.2 139.6h0M292.8 148.4h0M353.7 148.9h0M335 141.5h0M267.5 183.6h0M318.5 205.5h0M363.4 157.4h0M284.6 135.2h0M304.9 228.8h0M388.8 150.3h0M365.5 147.7h0M347.8 230.5h0M338.7 177.5h0M403.4 175.8h0M410.5 180.3h0M325.6 154.9h0M347.6 140h0M383.3 147.2h0M385.9 173.2h0M413.8 166h0M331.9 196.7h0M330.8 218.6h0M400.5 182.3h0M350.8 273.6h0M301.1 138.8h0M368.2 170.3h0M333.8 181.9h0M307.9 150.4h0M320.2 140.7h0M384 169.3h0M295.5 137.2h0M302.1 163.4h0M402.4 176.5h0M343.7 169.8h0M297.9 182.3h0M365.2 191.2h0M389.8 150.8h0M331.4 145.4h0M408.1 185.9h0M325.2 190.2h0M350.5 183.3h0M347 194.7h0M346.7 154.6h0M272.5 161.9h0M299 173.8h0M328.6 137.9h0M298.5 143.9h0M280.1 155.5h0M332.7 180.1h0M310.8 175.1h0M262.9 172.8h0M368.6 232.7h0M324.6 175.9h0M307.4 258.3h0M336.9 184.6h0M364.4 147.5h0M362.2 173.7h0M297.2 180.1h0M408.7 161.5h0M314.8 133.2h0M384.7 156.5h0M281.8 158.8h0M364.3 180.4h0M328.6 144.5h0M325.6 201h0M324 154.2h0M304.3 199.1h0M351.9 189.9h0M355.8 162.4h0M361.5 163.2h0M295.3 133.2h0M304.8 134h0M308.6 138.8h0M406.7 158h0M306.5 269.5h0M288.8 179.6h0M316.4 161.7h0M314 157.3h0M341.5 160.4h0M363.5 147.8h0M332.7 185h0M337.2 197.9h0M285.6 143.7h0M284 150.6h0M349.4 156.3h0M311.8 201.6h0M291.3 133.3h0M282.4 202.7h0M384.3 242.3h0M283.2 162.2h0M297.8 147.1h0M357.4 138.8h0M268.6 198.1h0M325.8 263.2h0M377 168.9h0M400.5 164.5h0M306.2 162.8h0M381.8 184.5h0M315.6 246.3h0M364.5 149.4h0M326.5 140.8h0M393 179h0M294 134.8h0M306.5 155h0M320.6 193h0M406.7 157.9h0M362.5 165.3h0M393.3 195.2h0M356.1 176.6h0M398.8 194.3h0M391 180.1h0M292.4 212.7h0M315.3 197.3h0M265.9 174.1h0M300.5 168h0M264 188.7h0M352.6 148.3h0M314.6 170.7h0M366.3 174h0M348.7 175.2h0M327.1 203.4h0M314.1 166.4h0" stroke="#ffffff" stroke-width="2.5" stroke-linecap="round" stroke-opacity="0.92" fill="none"/>
<path d="M386.1 159.4h0M295.1 192.4h0M252.4 212.5h0M359.2 207h0M409 176.8h0M336.8 233.7h0M364.3 260.5h0M304.1 164.7h0M383.5 233.2h0M385.9 188.8h0M259.9 229.9h0M257.1 214.4h0M275.2 184.4h0M351.2 215.6h0M267.2 182.2h0M386.4 158h0M276.6 205.9h0M338.3 220.2h0M368.6 187h0M309.9 255.4h0M326.3 228.9h0M366.6 183.9h0M299.1 224.4h0M323.5 208.5h0M376.5 254.5h0M298.7 169.4h0M361.3 153.1h0M288.5 185.3h0M361.3 159.2h0M323.5 178.3h0M294.9 270.2h0M323.1 139.3h0M360.8 199.9h0M386.2 163.7h0M291.7 175.5h0M350.3 264.6h0M267.2 194.5h0M358.7 209.5h0M330.1 222h0M313.8 254.9h0M307.2 203.3h0M334.7 224.3h0M269.4 214.4h0M356.9 179h0M328.1 273.1h0M365.7 174.5h0M372.2 190.4h0M286.5 133.9h0M369.2 266.4h0M347.3 262.7h0M335.2 212.6h0M263.8 231.9h0M375.4 251.5h0M346.6 254.6h0M383 167.7h0M370.9 213.4h0M317.2 231.5h0M347.4 265.3h0M304.6 192.9h0M372 263.1h0M306.9 250.7h0M299.6 244.2h0M306.2 205.4h0M333.6 223.6h0M328.5 240.6h0M338.2 206.5h0M281.9 216.5h0M360.2 246.7h0M383.5 234.2h0M299.4 252.2h0M261.7 198.8h0M393.6 159.1h0M330.1 276h0M288.6 258.5h0M280.5 255.6h0M343.9 220.6h0M398.1 175.8h0M280.4 203h0M342.1 249.1h0M396.6 182.6h0M354.1 261h0M333.4 257.9h0M302.4 153.3h0M369.6 252.3h0M275.6 159.8h0M366.1 234.6h0M404.5 181.4h0M282.2 249.4h0M278.2 253.8h0M318.7 163.1h0M383 209h0M340.4 250.5h0M351 278.3h0M316.4 269.7h0M339.1 191.7h0M346.7 152h0M264 195.4h0M369.8 250.5h0M338.3 266.1h0M296.8 229.7h0M334.8 278.2h0M352.5 216h0M314.1 188.1h0M327.5 224.4h0M357 231.5h0M279.8 216.4h0M267.5 185h0M288.6 255h0M387.5 211.5h0M365.2 231.6h0M317.4 203.4h0M282.1 243.8h0M272.4 219.1h0M307.8 204.8h0M285.8 210.5h0M351.6 196.2h0M371.5 247.7h0M322.7 254.6h0M312 189.3h0M274.1 175.5h0M309.5 148.5h0M374.9 239.1h0M357.6 213.9h0M296.8 190.4h0M311.1 169.9h0M346.5 194.3h0M316.9 202.7h0M274.4 237.4h0M277.8 219.7h0M367.8 268.5h0M303.1 244.9h0M382.7 195.3h0M305.5 227h0M389.6 207.7h0M316.4 210.6h0M302.6 162.8h0M369.7 221.6h0M404.2 189.6h0M330.6 175.1h0M359.4 275.2h0M270.6 142.3h0M325.4 183.8h0M290 163.7h0M362.9 226.3h0M257.8 203h0M269.2 200.1h0M338.5 163.6h0M394.5 201.4h0M343.8 220.6h0M306.3 256.6h0M309.1 261.9h0M363.7 241.8h0M360 170.8h0M309.5 239.7h0M334.3 185.4h0M301.1 253.4h0M311.9 213.2h0M389.4 183.1h0M345.7 217h0M300.2 234.2h0M342.9 273.7h0M366.4 267.7h0M313.9 265.7h0M328.6 150.4h0M374 207.2h0M372.4 226.5h0M280.8 213.7h0M304.7 229.2h0M319.7 277.5h0M359.4 186.9h0M324.1 236.7h0M387.5 191.3h0M365.9 176.8h0M288.9 159.5h0M374.3 208.8h0M335.9 236.8h0M258.6 227.7h0M323.5 200.5h0M377.2 220h0M359.4 260.1h0M305.5 269h0M280.8 237.8h0M319.5 267.3h0M339.6 274.8h0M350.8 200.7h0M408.7 183.3h0M368.8 223.4h0M343.7 146.7h0M404.3 185.8h0M323.1 199.8h0M370.7 246h0M284.5 223h0M295.4 205.8h0M370.9 247.1h0M314.3 163.1h0M307.9 225.2h0M324.3 190.4h0M370.6 247.1h0M349.2 256h0M383.4 179.4h0M369.9 249.3h0M374.5 230.7h0M365.6 187.6h0M300.8 221.5h0M361 217.6h0M323.8 256.7h0M271.6 225h0M372.4 154.3h0M308.3 183.4h0M389.2 170.5h0M344.3 144.1h0M351.7 187.9h0M326.6 155.4h0M320.8 276.7h0M289.6 141.2h0M298.8 227.3h0M263.7 212.1h0M328.7 168h0M271.3 240.7h0M303.2 212.6h0M366.6 274.3h0M355.5 168.6h0M285.9 252.2h0M336.7 220.3h0M290 228.4h0M328.9 224.6h0M345.8 235.7h0M363 270h0M327.5 189.2h0M258.3 204.1h0M302.3 264.7h0M376.1 260.5h0M282.8 215.3h0M294.2 184.4h0M292.8 255.8h0M311 171.8h0M383.2 191.8h0M280.3 252.4h0M296.5 222.3h0M322.8 181h0M370.6 252.3h0M377.7 208.4h0M349.5 209.7h0M348.3 244.5h0M355.7 250.4h0M384.7 173.5h0M287.2 234.9h0M300.2 255.6h0M407.2 165h0M384.7 222.4h0M290 254.1h0M311.9 188.7h0M305.9 238.7h0M334.9 238.9h0M372.4 268.5h0M287.4 192.9h0M278.3 224.8h0M341 217.9h0M289.2 225.1h0M316.7 162.3h0M315.9 135.1h0M382.3 180.2h0M289 195.3h0M304 163.8h0M376.4 239.4h0M263 200.2h0M308.1 266.1h0M268.6 188.9h0M329.2 254.9h0M331.8 221.9h0M281.8 231.1h0M399 155.6h0M304.6 187.2h0M268.4 238.6h0M376.3 162.2h0M284.1 169.9h0M288.3 178.9h0M271.9 229.3h0M365.1 216.6h0M325.6 206.4h0M288.8 132.8h0M350.9 178.4h0M259 211.2h0M306.4 218.1h0M373.3 159.8h0M346.9 225.5h0M341.1 215.2h0M370.9 229.3h0M347.5 210.3h0M313.5 257h0M293.5 220.4h0M366.6 246.2h0M272.9 155.9h0M307.9 245.4h0M298.9 207.1h0M360.3 231.3h0M314.3 133.2h0M309.3 142.8h0M298.6 259.2h0M323.2 268.2h0M334.9 250.5h0M337 222.8h0M388.5 172.6h0M285.1 184.8h0M298.9 137.6h0M353.6 215h0M411.8 166.4h0M312.7 262h0M305.6 172h0M331.7 148.5h0M336.5 231.3h0M302.3 267.3h0M302.4 244.6h0M291 237.4h0M263.2 183h0M273.5 170.8h0M253 211h0M263 227.8h0M260.5 214h0M393 167.5h0M353.2 173.5h0M379.4 184.6h0M300.7 178.5h0M298.6 139.7h0M299.7 227.4h0M302.4 158.8h0M378.8 173.8h0M256.4 192.7h0M400.2 178.5h0M278.2 222.5h0M404 182.4h0M265.5 170h0M296.4 197.8h0M384.5 226.7h0M358.3 272.9h0M339.4 146h0M273.4 224.8h0M275.4 176.4h0M290 227.2h0M371.1 207.8h0M306.9 173.1h0M343.2 243.1h0M312.9 145h0M255.2 231.7h0M321.7 277.3h0M370.3 209.8h0M381.8 252.2h0M400.8 165h0M369.9 207h0M401.9 153.6h0M395.7 163.1h0M297.6 191.2h0M280.1 240h0M311.8 274.8h0M269.3 162.4h0M345.3 271.9h0M311.7 246.2h0M350.2 205.8h0M379.2 180.7h0M388.6 161.2h0M350.8 151.5h0M284 245.7h0M396.4 185.4h0M328.3 273.4h0M276.8 214.2h0M390.9 202.2h0M305.5 254.1h0M311 196h0M317.1 269.8h0M333 181.6h0M360.5 232.3h0M308.8 168.3h0M324.7 263.3h0M278.9 171.1h0M367 221.3h0M365.2 270h0M387.8 201.3h0M317.9 244.3h0M312.8 203.4h0M360 208.3h0M400.8 182.2h0M368.5 183.2h0M353 218.5h0M293.8 218.4h0M363.9 208.6h0M322.3 218.5h0M368.5 173.3h0M323.1 228h0M281.9 141h0M357.4 153.1h0M320.1 250.7h0M347.9 252.8h0M292.3 139.5h0M331.3 232.1h0M279.6 215.7h0M292.4 206.7h0M296.8 166.2h0M275 231.3h0M372.3 268.4h0M344 191.1h0M331.3 160.8h0M374.7 226.5h0M279 147.6h0M354.8 141.4h0M327 168.3h0M370.9 271.1h0M323.3 156.4h0M363.1 207.4h0M266 234.4h0M291.9 257.6h0M353.6 260.3h0M352.1 210.4h0M375.4 201.1h0M323 234.9h0M389.9 172.5h0M397.7 189.7h0M290.6 195.5h0M279.5 170.1h0M374.7 262.2h0M361.4 264.2h0M287.6 205.8h0M395.4 164.8h0M338.6 248.9h0M351 186.5h0M324.6 135.6h0M287.7 200.3h0M281.9 197.1h0M356.4 233.9h0M280.8 206.9h0M380.4 196.2h0M294.4 241.2h0M251.5 220.8h0M357 229.3h0M253.8 211.8h0M314.2 237h0M318 211.7h0M283 182.5h0M305.6 158.2h0M317.4 261.5h0M258.2 204.4h0M319.5 175.2h0M353.5 146.4h0M286.6 204.8h0M410.2 168.5h0M297.9 223.9h0M341.1 247.4h0M269.1 233.6h0M328.7 144.9h0M284.7 239.9h0M405.6 154.3h0M393.3 179.3h0M263.4 229.2h0M263.9 189.6h0M268.3 237.7h0M288.1 210.3h0M330.9 199.7h0M298.1 259.8h0M405.1 189.1h0M372.6 205.9h0M268 163.5h0M308.9 205.7h0M330.5 165.1h0M338.7 258.5h0M303.7 260.9h0M348 158.7h0M310.5 241.2h0M330 265.6h0M402.8 156h0M317.4 251.6h0M310.7 249h0M272.4 237.1h0M268.5 178.4h0M316.5 244.3h0M317.1 258.2h0M264.3 188.4h0M349.6 183.9h0M300.9 141.8h0M278.1 135.5h0M303.5 269.4h0M305.6 163.6h0M358.9 151.5h0M330.8 230.8h0M382.1 230.4h0M364.7 203.3h0M334.4 271.2h0M322.3 208.4h0M298.4 205.1h0M333.1 182h0M378.4 235.7h0M328.8 262.5h0M381 231.1h0M371.2 208.2h0M314.8 271.7h0M269 233.4h0M289.8 222.3h0M316.7 156.5h0M348.6 190.1h0M341 172h0M262.6 213h0M321.1 208.8h0M311.5 268.1h0M347.5 240.1h0M365.5 238.3h0M301.3 149.8h0M372.4 257.7h0M332.6 197.5h0M306.3 173.4h0M375.1 255.1h0M338.5 189.8h0M348.6 250.1h0M302.6 189.2h0M317 273.8h0M286.9 229.7h0M304.8 249.7h0M388.3 186.6h0M328 186.8h0M346.9 223.7h0M380.7 257.3h0M331 199.6h0M290.4 203.7h0M353.7 183.6h0M264 202.2h0M258.4 192.3h0M363.5 156.8h0M402.3 151.4h0M259.3 224.6h0M371.6 233.9h0M303.6 169.9h0M266.3 196.6h0M288 187.7h0M280.4 190.4h0M364.7 148.1h0M313.8 201.9h0M327.3 235.9h0M269.8 143.4h0M255.4 207.3h0M270.4 207h0M305.3 229.5h0M301.1 250.1h0M363.1 182.4h0M287.4 154.1h0M329.7 232.3h0M389.8 166.3h0M301.8 244.8h0M265.6 222.4h0M345.8 246h0M366.4 234.5h0M310.6 227.3h0M380.1 146.4h0M291.4 144.5h0M338.8 215.7h0M326.5 190.3h0M358.2 268.8h0M320.2 149.8h0M357.6 206.3h0M265.9 211.8h0M369.9 261.7h0M339.3 225.5h0M331.1 253.1h0M273.2 196.6h0M295.4 257.5h0M317.8 214.3h0M396.4 164.4h0M373.3 162.4h0M366.8 260h0M314.5 197h0M351.9 221.2h0M318.8 249.7h0M313.3 194.8h0M290 231.5h0M377.1 205.7h0M376.9 170.7h0M337.8 194.6h0M290.1 230.7h0M374.4 150.1h0M280.2 231.4h0M337.6 223.3h0M258.6 230.9h0M322.7 271.8h0M328.4 260.7h0M325.7 216.9h0M291.4 251.4h0M378.9 259.9h0M345.8 191.7h0M282 195.4h0M348.3 205h0M308.5 247.9h0M372.4 187.2h0M296.2 230.9h0M310 221h0M326.6 262.9h0M380.3 152.8h0M337.3 234.9h0M347.6 185.3h0M326.2 162h0M378.5 171.6h0M402.1 163.4h0M298.9 184.1h0M290.6 247.5h0M280.7 176.7h0M283.6 251.2h0M349.5 265.4h0M317.8 209.4h0M293.1 248.3h0M289.8 213.5h0M357.9 244.7h0M265.1 219.9h0M256.3 229.8h0M283.6 156h0M325.6 266.1h0M309.5 185.5h0M329.2 230.5h0M350.4 256.8h0M317.4 193.6h0M375.4 202.6h0M397.9 199.4h0M363.5 262h0M373.1 270.2h0M279.7 237.5h0M283.2 243.4h0M291.8 143.5h0M324.3 236.9h0M284.2 214h0M342.1 229.5h0M387.9 174.2h0M362.6 187h0M364.2 248.3h0M403.8 151.2h0M301 265.1h0M391 184.7h0M321.4 193.7h0M370.5 240.3h0M282.3 241.8h0M384.9 169.1h0M363.4 267.6h0M346 251.8h0M284.9 250.7h0M361.6 185.6h0M279 182.7h0M341.5 249h0M390 211.7h0M282.9 198.5h0M354 251.4h0M328.8 214h0M342 210.4h0M285.3 256.6h0M373.2 178.2h0M351.5 158.8h0M347.4 239.7h0M332.6 241.3h0M294.5 239.5h0M265.4 185.2h0M328.5 230.8h0M366.7 252.8h0M259.9 228.3h0M277.4 236.1h0M376.6 222.1h0M339.6 148.2h0M318 195h0M327.3 200.7h0M280.7 212.1h0M322.5 221.3h0M369.7 257.4h0M303.7 203.5h0M382.6 208.4h0M374.6 179.4h0M336.6 267.8h0M327.2 141.5h0M323.4 213h0M292.4 260.3h0M364.2 171.7h0M372.8 211.2h0M405.2 151.7h0M336.6 188h0M286.9 182.1h0M323.4 274.4h0M276.4 201.4h0M354.7 257.8h0M273 155h0M274.7 192.2h0M260.4 209.9h0M264.9 202.7h0M283 185.7h0M269.1 193.5h0M288.1 235h0M301.6 204.9h0M349.9 191.8h0M296 208.3h0M307.3 259.7h0M320.2 214.5h0M308.7 258.3h0M318.8 275.4h0M319.7 241.5h0M341.8 219.8h0M315.4 264h0M282.5 194.4h0M372.4 253.6h0M301.9 219.8h0M358.5 188h0M297.6 232.6h0M306.1 209.7h0M310.2 165.9h0M287.8 212h0M289.8 161.7h0M267.4 242.6h0M320.1 235.1h0M300.1 171.8h0M280.5 229h0M388.7 182.3h0M369 175h0M392.4 198.9h0M323.9 256.8h0M293 250h0M371.8 272.8h0M357.2 272.2h0M261.7 218.9h0M365.8 248.2h0M288.5 220.1h0M378.2 212.2h0M336.6 250.4h0M317.7 253.9h0M299.7 203.5h0M291.6 226.8h0M332.2 217.4h0M332 236.6h0M285.9 177h0M378.6 197.1h0M355 207.3h0M322.6 248.8h0M311.4 211.3h0M332.2 261.2h0M367.9 142.1h0M266.1 203.9h0M330.8 180.3h0M320 214.3h0M395.9 154.4h0M256 209.5h0M367.4 261.8h0M266.3 208.5h0M292.9 140.5h0M355.3 254.8h0M341.4 154.8h0M287.4 209.3h0M346.4 220.5h0M307.3 188h0M322.2 182.8h0M280.5 248.7h0M272.3 223.3h0M341.2 155.1h0M364.1 237h0M384.5 213.9h0M335.6 214.9h0M313.8 214.6h0M330.8 269.8h0M359.1 239h0M304.2 175.5h0M345.9 260.4h0M296 262h0M372.8 207.6h0M269.1 165.2h0M364.9 263.7h0M342.9 209.1h0M346.6 227.2h0M392.7 170.7h0M280.1 234h0M355.8 234.7h0M396.9 193.5h0M298.2 242.2h0M293.6 158.4h0M320.7 274.6h0M294.8 175h0M328.3 155.9h0M320.9 207.2h0M273.8 157.1h0M336.9 225.5h0M263 241.1h0M266.4 241.5h0M261.1 202.9h0M268.7 183.1h0M322.2 275.1h0M391.5 203.8h0M273.9 177.2h0M392.2 187.4h0M348.1 220.9h0M307.6 221.2h0M336.1 231.6h0M291.3 211.7h0M374.8 186.7h0M307.4 268.4h0M295.4 180.7h0M374.7 247.8h0M298.4 152.2h0M309.2 238.6h0M353.9 197.1h0M363.7 232.8h0M278.3 217.3h0M332.9 232.5h0M346.1 255.6h0M340.2 171.2h0M339.3 188.6h0M342.3 203.2h0M296.2 268.2h0M288.5 159.7h0M292.8 248.7h0M356.5 244.6h0M298 242.7h0M284.7 191.7h0M299.4 220h0M325.2 253.4h0M264 213.4h0M325.3 223.5h0M354.4 252.2h0M335.1 274.4h0M398.1 179.5h0M277.5 181.1h0M274.5 250.7h0M275 228.9h0M384.7 163.1h0M298.1 227.7h0M288.9 259.9h0M276.3 177.9h0M368.6 192.2h0M275.5 137.1h0M259.8 234.2h0M261.8 220.9h0M315.7 275.4h0M299.4 186.4h0M295.2 250.4h0M332.7 225h0M399.3 175h0M360.3 224.7h0M273.9 211.1h0M353.6 151.9h0M335.2 245.5h0M271.4 200.1h0M377.3 215.8h0M342.6 185.9h0M334.8 262.8h0M318.6 221.6h0M299.7 254.6h0M295.3 144.9h0M277.5 255.9h0M305.8 204.3h0M373.4 256.9h0M279.9 153.8h0M335.2 202.9h0M309.2 267.3h0M339.1 192.4h0M373 220h0M408.8 159.8h0M366.8 237h0M303.9 267h0M290.1 192.7h0M412.6 163.7h0M379.4 265.3h0M383 156.8h0M331.1 156.4h0M323.3 190.7h0M360.9 259.6h0M321 186.8h0M319.5 159.3h0M371.9 251.7h0M283.6 242.8h0M299.5 243.1h0M302.8 192.5h0M381.2 250h0M385.3 236h0M340.9 247.8h0M333.7 189.8h0M305.9 264.3h0M369.1 273.3h0M324 219.9h0M339 211.3h0M321.4 210.7h0M268.5 193.8h0M325.6 241.6h0M318.6 205.7h0M381.8 204.2h0M320.8 253.2h0M378.2 181.6h0M355.4 190.3h0M333.9 170h0M341.9 245.4h0M353.2 167.4h0M323.9 175.5h0M362.9 221.1h0M358.7 232.1h0M299.2 216.6h0M387.8 168h0M299.6 202.9h0M294.1 187.9h0M378.3 227.8h0M256.8 192.1h0M290.3 184.2h0M278.7 178.1h0M336.7 264.9h0M380.6 212.5h0M282.5 240.9h0M375.7 230.6h0M328.6 191.5h0M374.6 268h0M319 220.6h0M334.6 226.1h0M254.2 204.5h0M333.5 244.5h0M363.4 189.6h0M365.8 265.4h0M320.1 154.1h0M278.6 209.2h0M393.9 197.2h0M307.3 219.1h0M367.8 254.5h0M339.9 147.6h0M305 234.5h0M327.6 187.9h0M340.2 200.9h0M337 149.5h0M282.2 202.4h0M377.2 262.1h0M301.7 229.9h0M404.6 160.6h0M306.3 180.7h0M358.3 200.1h0M276.2 157.1h0M372.1 141.5h0M334 151.8h0M287.7 214.3h0M347.4 179h0M278.7 246.9h0M359.2 231.4h0M407.9 178.1h0M268.9 200.3h0M377.4 226.5h0M329.6 244.7h0M363.3 207.4h0M353.6 263.6h0M339.1 223.2h0M374.3 186h0M359.2 261.1h0M350.2 212.5h0M317.3 210h0M333.5 226.3h0M397.1 195.5h0M257.4 189.8h0M272.3 158.7h0M363.7 215.6h0M331.3 252h0M303.2 160.8h0M283.2 205.4h0M356.9 175.3h0M382.7 208.4h0M391 169.4h0M281.1 207.5h0M358.1 256.3h0M330.2 185.6h0M328.5 207.9h0M340.3 244.7h0M275.4 247.4h0M273.3 243.9h0M317.8 177.3h0M358.4 204.2h0M331.8 157.5h0M308.4 196.7h0M339.5 260.6h0M385.9 211.4h0M291.2 249h0M292.2 206.6h0M366.4 271.7h0M326.4 260.8h0M361.4 249.2h0M302.8 197.4h0M320 270h0M304 209h0M313.6 244.2h0M348.7 231.4h0M277.2 178.2h0M365.2 250h0M292.8 164h0M323.7 197.4h0M403 191.6h0M322.5 249.4h0M275.3 143.2h0M323 144.5h0M317.6 175.9h0M321 235.5h0M366.7 239h0M268.9 232.8h0M300 228.8h0M353.4 181.6h0M301.8 240.7h0M290.6 188h0M365.1 249.5h0M368.6 173.3h0M313.4 205.2h0M292 259.6h0M379.6 203.3h0M360.5 227.4h0M365.1 249.5h0M362 208.2h0M282.7 159.8h0M295.9 250h0M317.6 201.7h0M300.7 142.7h0M311.8 180.8h0M343.2 247.9h0M289.5 209.5h0M364.1 229.1h0M256.6 199.8h0M372.5 234h0M316.5 178.5h0M267.9 198h0M252.5 210.9h0M330.7 237.5h0M277.5 243.4h0M331.9 219h0M367.5 175.6h0M271.4 188.4h0M288.2 245.7h0M304.8 209.6h0M298 231.3h0M358.5 218.7h0M304 175.3h0M296.9 176.9h0M270.4 210.2h0M270.6 224.5h0M398 166.7h0M313 203.3h0M339.2 176h0M310.6 241.8h0M286.3 189h0M296.9 259.8h0M334 143.8h0M314.9 255h0M332.8 243.1h0M336.6 232h0M301.7 180h0M371 155.7h0M288.7 194.9h0M318.3 167.5h0M340.9 195.7h0M366.5 178.6h0M395.8 202.2h0M323.7 253h0M358.7 199.8h0M356.7 240.4h0M339.9 178.2h0M295.3 202.7h0M373.8 147.9h0M352.2 203.2h0M323.2 253.4h0M344.7 196.1h0M292 148.6h0M330 170.7h0M378.8 188.1h0M357 236h0M260.7 204.4h0M296.9 222.1h0M368.8 269.1h0M379.1 242h0M280.6 259.5h0M328.1 262.8h0M278.7 161.6h0M350.9 186.7h0M338 181h0M320.4 228.6h0M383.3 225.7h0M330.2 255.3h0M341.9 228.3h0M388.5 197.9h0M298.4 198.7h0M320.3 236.1h0M307 271.8h0M323.1 271h0M270.1 211.3h0M373.9 265.2h0M410.9 166.6h0M354.8 196.2h0M376.5 233h0M348 245.6h0M285.9 229.2h0M375.1 206h0M365.2 147.9h0M303.8 267.1h0M369.7 216.6h0M263.6 239h0M263.3 242h0M333.6 234h0M363.9 236.9h0M278.2 221h0M380.6 262.2h0M384.4 201.5h0M390.5 159.1h0M292.2 255.9h0M275.7 216.6h0M351.3 197.1h0M273.8 210.6h0M320.8 258.1h0M376.3 184h0M361.9 253.7h0M311.8 277.4h0" stroke="#ffc0cb" stroke-width="2.2" stroke-linecap="round" fill="none"/>
<path d="M238.1 18.6L238.9 23.2L246.2 25L246.3 25.1L246.4 25.1L252 27.9L256.4 25.2L260.9 21.6L260.1 16.8L252 15L244.3 16L238.1 18.6Z" fill="#ffa500"/>
<path d="M250.1 46.9L251 57.4L256.6 61.2L256.6 61.2L256.7 61.3L256.8 61.4L256.8 61.4L256.9 61.5L256.9 61.6L257 61.7L257 61.8L259 71.8L259 71.9L260 81.6L264.5 87.1L272 88L281.9 87L282 87L290 87L290.1 87L290.2 87L290.3 87L300 90L308.4 88.1L312 81.8L311 70.3L307.3 63.7L299.6 58.9L289.8 57L289.7 57L289.6 56.9L289.5 56.9L289.4 56.8L289.3 56.8L282.4 50.8L277.6 47L270.1 46L262.2 48L262.1 48L262.1 48L262 48L261.9 48L261.8 48L261.7 47.9L255.9 46L250.1 46.9Z" fill="#ffa500"/>
<path d="M298.1 37.6L299.9 47.4L306.2 51.9L317.5 50.1L323.2 44.4L326.9 38L324.4 33L315 33L305.3 34L298.1 37.6Z" fill="#ffa500"/>
<path d="M266.2 37.7L266.8 41.1L274.5 41.9L276.6 39.2L271.8 36.1L266.2 37.7Z" fill="#ffa500"/>
<path d="M238.1 89.7L240.9 106.3L250.1 110L260.3 108.1L263.9 100.9L262.1 93.6L255.6 88L246.1 87L238.1 89.7Z" fill="#ffa500"/>
<path d="M248.1 113.8L249 123.6L253.5 130L261.5 130L265.9 123.8L264.1 115.7L255.9 112L248.1 113.8Z" fill="#ffa500"/>
<path d="M260.2 18.8h0M251.8 28.4h0M248.5 14.1h0M250.8 13.9h0M241.1 14.6h0M255.8 16.7h0M253.7 26.7h0M245.3 26.3h0M261.3 23.8h0M248.7 13.5h0M253.6 15.3h0M260.7 21h0M250.5 30.6h0M257.8 16.1h0M249.2 30.4h0M261.7 21.8h0M256.7 16.6h0M244.3 15.6h0M240 17.6h0M255.5 12.7h0M241 17.6h0M238.3 18.9h0M245.8 16.7h0M236.4 14.5h0M251.3 27.5h0M246.3 14.2h0M241.3 14.2h0M242.5 24.3h0M238.1 18h0M239 22.5h0M254.4 26.7h0M247.3 14.7h0M255.4 16.8h0M241.1 26.2h0M244.7 24.3h0M241 24.8h0M246.6 16.4h0M240.6 22.6h0M243.7 17.3h0M240.5 24.3h0M253.1 28.8h0M258.9 15.4h0M256.1 15.6h0M243.3 17.3h0M245.2 11h0M250.8 15.7h0M248.2 28.1h0M261.9 22.8h0M241.6 17.4h0M239.9 26h0M260.3 19h0M239.6 24h0M258.6 15.8h0M250.1 28h0M258.3 24.1h0M239.2 14.2h0M250.8 16.1h0M252.7 14.7h0M248.1 25.4h0M253.7 14.7h0M255.4 28.9h0M247.8 10.9h0M238.3 20.4h0M239.2 20.3h0M256 25.9h0M254.3 14h0M255.6 16.3h0M248.5 10.5h0M239.4 23.4h0M251.5 27.6h0M257.6 16.4h0M250.1 15.7h0M246.1 13h0M249.1 26.6h0M258.3 25.3h0M241.4 23.7h0M250.9 28.6h0M242.1 26.9h0M248.4 25.7h0M251 29.2h0M259.6 18.8h0M238.7 16.6h0M259.6 23h0M251.8 11h0M240.8 23.5h0M260.3 25.1h0M255.1 29.3h0M251 26.8h0M249.5 13.9h0M246.1 26.4h0M246.9 27.4h0M253.9 29.2h0M261.4 20.7h0M253.8 26.1h0M249.6 26.3h0M239.5 16h0M238.2 22.6h0M237.4 17.4h0M260.9 20h0M247.5 15.5h0M242.5 16.2h0M248.5 14.8h0M259.7 23.4h0M255.3 14.9h0M258.7 24h0M237.8 24.2h0M245.7 14.4h0M260.1 24.1h0M250.6 27.3h0M246.1 15.6h0M251.6 16h0M250.5 26h0M260.3 19.2h0M249 27.6h0M240.2 18.6h0M248.4 13.7h0M239.5 29.5h0M244.2 16.8h0M240.7 23.6h0M255.8 16.7h0M239.4 18.4h0M249.1 14.7h0M250.3 15.1h0M251.1 28h0M251.1 28.4h0M253.7 27.7h0M245.5 15.6h0M252.5 28.3h0M238.3 25.1h0M254.1 15.9h0M246.4 25.2h0M242 22.9h0M246.1 24.1h0M252.1 28.1h0M248 26.7h0M249.7 30.9h0M250 26.5h0M248 14.9h0M255.2 11.5h0M251.7 15.9h0M253.3 13h0M236.7 19.9h0M258.9 22.2h0M264.5 23.6h0M243.4 25.2h0M237.9 26.6h0M254.8 13.5h0M247.2 16.3h0M238.8 16.5h0M252.7 28.4h0M250.5 28h0M248.2 27.4h0M251.8 28.8h0M239 19.2h0M240 23.3h0M251.9 26.8h0M245.4 14.9h0M260 18.4h0M252.7 15h0M251 10.3h0M247.7 16.1h0M248.1 24.9h0M249.5 27.2h0M254.1 25.7h0M248.2 13.2h0M263.8 17.5h0M260.4 23.5h0M239.2 17.1h0M241.4 23h0M246.4 13.4h0M259.9 13.7h0M257.3 16.4h0M239.6 25.4h0M236.4 17.2h0M250.1 13.2h0M253.2 15.1h0M257.1 25.2h0M255.4 29.3h0M238.3 23.7h0M244.5 26.4h0M252.8 15.6h0M249.1 15.6h0M249.5 25.7h0M238.6 25.2h0M240.4 14.6h0M243.3 30.3h0M253.3 26.3h0M259.5 18.3h0M261.6 15.7h0M238.6 19.6h0M246.9 25h0M243 12.1h0M251.4 26.8h0M242.9 23.9h0M240.7 15.9h0M255 26h0M261.6 23.1h0M249.4 16.1h0M248.4 15.8h0M247.8 26.1h0M239.5 21.6h0M237.8 13.4h0M241.6 24.5h0M250.3 15.8h0M253.5 27.6h0M256.4 15.2h0M276.9 86.6h0M254.8 63.5h0M257.1 63.8h0M311.4 84.2h0M304.5 93.9h0M282.5 51.8h0M267.1 45.6h0M251.7 56.5h0M262.9 84.5h0M253.9 62.5h0M281 50.9h0M295.3 88.1h0M257.1 45.6h0M297.1 88.8h0M298.1 57.9h0M258.7 66.3h0M260.7 46.4h0M265 43.1h0M292.7 88.4h0M262.5 83.9h0M262.5 44.6h0M260 73.1h0M315.8 79.7h0M300 56.1h0M286.3 53.4h0M255.4 59.5h0M255.7 60.2h0M251.4 53.6h0M299.9 59h0M256.8 77.3h0M284.6 53.6h0M312.7 81.9h0M270.1 87.3h0M311.3 77.6h0M311.1 61.2h0M276.1 88h0M248.4 48.4h0M258.5 47.7h0M259.5 78h0M286.4 87.4h0M249.2 49.2h0M313.3 81.2h0M277.2 43.1h0M312.4 72.2h0M311.6 64.3h0M275 47.6h0M305.4 62h0M284.6 46.6h0M300.4 89.4h0M271.5 88.1h0M302.9 88.3h0M290.6 57.7h0M251.6 54.2h0M254.8 61h0M274.5 87.2h0M274.3 47.2h0M244.4 50.4h0M308.7 86.9h0M251.5 58.6h0M266.1 46.5h0M284.1 51h0M290.4 56.5h0M280.7 50.5h0M269.4 43.9h0M258.1 82.1h0M287.9 90.6h0M290.5 88h0M310.2 87.8h0M282.9 89.5h0M264.2 86.5h0M263.1 47.2h0M260.9 86.3h0M282.9 89.1h0M255.5 67.8h0M311.1 74.7h0M293.1 58.3h0M272.9 90.1h0M289.3 86.9h0M249.9 55.3h0M271.6 87.4h0M249.6 53.8h0M249.2 55.8h0M310.8 73.3h0M282.3 51.9h0M313.1 81.4h0M254.5 69.6h0M288.9 51.6h0M289.8 56.3h0M261.2 84.3h0M312.6 62.3h0M311.8 76.7h0M251.9 59.1h0M259.1 72.6h0M249.4 44.3h0M299.3 90.9h0M290.6 88.5h0M249.1 57.9h0M286.7 88.9h0M256.6 74.2h0M250.9 58.7h0M306.4 60.1h0M310.9 85.3h0M304.6 89.9h0M285 53.7h0M257.2 75.5h0M299.6 89h0M292.5 54.5h0M257.2 61.5h0M258.6 65.4h0M274.4 46.5h0M311.3 74.6h0M311.3 69.3h0M283.3 86h0M305.8 63.7h0M250.1 57.1h0M307.7 34.3h0M323.4 32.1h0M327.2 37.9h0M300.9 49.9h0M299 35h0M324.5 45.7h0M314.5 50h0M308.7 33.7h0M324.6 41.3h0M304.9 35.3h0M313.8 31.8h0M307.7 34.5h0M324.7 34.1h0M329.1 36.2h0M312.3 51.4h0M317.1 49.2h0M323.8 45.4h0M299.9 47.6h0M302.3 48.7h0M297.7 47h0M301.1 47.3h0M328.3 37.7h0M304 30.1h0M315.6 32.5h0M300 37.7h0M303.3 49.1h0M298.9 37.3h0M313.4 30h0M299.7 44.2h0M331.2 36.8h0M299.3 40.3h0M315 28.2h0M321.4 45.1h0M307.6 34h0M325.4 37.2h0M307.5 34.8h0M323.2 28.5h0M318.9 52.1h0M306.7 52.8h0M314.8 54.7h0M309.3 31.3h0M319.2 47.7h0M326.6 36.8h0M323.4 47.2h0M299.6 37.4h0M326.7 37h0M300 36.5h0M297.9 38h0M310.2 32.4h0M297.9 50h0M321.1 32h0M328.1 35h0M300.9 33.3h0M324.2 31h0M325.3 40.4h0M297.2 42.8h0M323.2 42.8h0M303.2 31.4h0M318.8 51.2h0M304.2 35.5h0M303.9 50.8h0M305.3 52.9h0M312 51.3h0M305.3 32h0M310.2 51.7h0M325.9 34.3h0M314.6 49.8h0M318.8 32.2h0M317.8 53h0M320.2 48.5h0M321.9 45.7h0M308.9 50.6h0M301.5 36.5h0M313.1 50.9h0M325.5 36.7h0M298.8 43.2h0M315.3 54.2h0M299 47.1h0M307.1 51.1h0M316.3 31.5h0M320.7 31.9h0M297.6 36.3h0M298.7 42.8h0M315.6 52.7h0M328.4 35.3h0M310.8 31.2h0M329.6 38.3h0M328.7 35.4h0M320.1 48.2h0M305.6 52.1h0M321.5 47.1h0M318.6 50.2h0M298.9 43.1h0M316.8 31.5h0M308.8 51h0M315.9 52.4h0M306.7 52.9h0M315.1 53.6h0M305.7 32.4h0M316.9 49.8h0M298.6 38.8h0M308.6 53.9h0M310.8 51.3h0M307.1 51.4h0M321.2 48.3h0M322 33h0M310.8 32.5h0M309.5 34.3h0M297.9 36h0M304.7 51.8h0M303.6 31.2h0M322.8 33h0M327.7 40.1h0M301.4 36h0M303.6 35.6h0M322.1 30.6h0M311.8 33.5h0M312.3 32.3h0M295.1 40.1h0M326 38.5h0M314.9 50h0M319.3 50.2h0M325.4 42.2h0M321.8 48.3h0M324.2 41.6h0M329.7 35.8h0M313.2 52.7h0M318.2 33.3h0M324.5 31.8h0M309.6 31.3h0M304.3 33.7h0M324.5 44.3h0M299.1 36.9h0M325.5 39.2h0M317.3 49.6h0M325 41.6h0M315.1 50.9h0M305.6 52.9h0M319.3 47.2h0M308.9 33.9h0M329.5 38.1h0M310.3 34.4h0M323.4 46.7h0M314.1 33.5h0M311.4 51h0M297.8 39.7h0M327.6 36.1h0M310 51.2h0M313.9 33.4h0M326.6 39.5h0M323.2 31.5h0M323.5 32.8h0M324.9 40.4h0M301.8 36.4h0M322.3 30.3h0M300.9 48.2h0M304.3 50.2h0M311 32.5h0M303.9 33.6h0M324.6 32.5h0M302.3 48.1h0M295.3 37.4h0M316 31.6h0M319.7 48.3h0M326.5 34.5h0M316.4 52h0M300 37.7h0M302 35.3h0M323.5 42.3h0M317.7 48.6h0M317.2 49.6h0M322.1 45.1h0M296.2 37.9h0M326.8 39.2h0M274.1 42.7h0M265.2 43.3h0M275.6 41.3h0M269.5 36.3h0M275.1 40h0M265.3 38.7h0M263.1 41.8h0M279.5 36h0M263 45h0M271.3 44.9h0M271.9 35.2h0M270.4 33.5h0M268.9 41.5h0M267.3 46h0M270.2 40.5h0M276.9 42.4h0M266.5 32.6h0M270.6 40.7h0M263 44h0M274.8 44.3h0M275.3 37.4h0M272.9 42.7h0M276.4 42.6h0M274 44.4h0M275.5 44h0M279.7 40h0M272.7 35.6h0M264.9 35.7h0M275.1 42.5h0M279.2 41.1h0M263.4 40.9h0M272.4 42.3h0M277 42.6h0M271.9 37.1h0M274.7 37.2h0M277.4 39.4h0M275 36.5h0M276.5 40.4h0M269.8 42.4h0M275.7 36.7h0M265.1 40.9h0M273 37.8h0M268.9 37h0M280.5 36.7h0M270.1 37.5h0M264.7 42.5h0M264 42.8h0M270.6 40.8h0M275 40.2h0M269.6 36.9h0M267.3 31.9h0M273.9 37h0M275.1 38.4h0M271.8 33.5h0M262.8 42.6h0M276.4 33.5h0M276.8 38.1h0M265 38h0M266.9 43.3h0M267.4 40.7h0M272.1 34.9h0M274.2 35.5h0M276.6 39.6h0M271 37.3h0M275.4 40.4h0M274 38.2h0M270.2 37.5h0M272 37.1h0M262.7 40.5h0M278.7 39.8h0M275.8 42.1h0M275.2 31.9h0M268.5 35.6h0M266.1 38.5h0M269.4 45.2h0M268.2 44h0M262.9 37.3h0M260.4 35.4h0M268.8 40.4h0M275.6 37.8h0M266.7 39.5h0M278.4 39h0M265.6 37.3h0M276.8 38.1h0M272.1 42.5h0M276 39h0M271.6 37.1h0M271.7 36.3h0M267.7 37h0M275.3 38.7h0M277.4 41h0M268.4 41.3h0M279.4 36.1h0M266.7 41.3h0M267.3 41.5h0M276.5 38.4h0M263.7 38h0M264.9 41.1h0M272.1 35.6h0M274.4 42.5h0M267.5 39.9h0M264.8 41.3h0M267.4 38.2h0M276.3 38.3h0M274.4 44h0M274.5 37.6h0M268.8 36.3h0M264.8 39.9h0M265.8 40.8h0M273.9 42.8h0M266.7 35.1h0M264.5 36.7h0M274.7 40.3h0M273.8 36.6h0M265.9 35.1h0M272.7 42.7h0M266 44.9h0M276.4 36.8h0M267.8 41.9h0M273.3 37.1h0M275.7 34.9h0M275 39.2h0M267.5 41.3h0M266.1 37.7h0M273.8 30.8h0M269.8 37.2h0M276.3 36.4h0M279.3 43.7h0M261.1 38h0M275.6 36.3h0M269.2 42.3h0M273.7 44h0M266.9 42h0M275.3 41.8h0M267.7 38h0M276.6 40.3h0M267.2 34.2h0M276.9 46.2h0M266.5 39.7h0M274.1 37.9h0M267.3 36.6h0M269 41.7h0M262.1 38.1h0M277.3 41.3h0M273.9 41.9h0M273.6 37.7h0M269.1 37h0M269.2 40.5h0M274.8 31.7h0M266 37.6h0M273.4 42.2h0M267.9 40.5h0M273.2 41.3h0M262.8 43.5h0M278.1 40h0M276.5 42.5h0M263.3 34.1h0M267.5 37.5h0M278 39.1h0M271.6 45.6h0M268.1 36.1h0M274 44.2h0M271.3 41.6h0M269.2 43.5h0M268.9 41.5h0M269.9 35.1h0M266.3 38.8h0M275.1 36.4h0M278.4 38.8h0M266.2 34.5h0M267 37.4h0M271.2 44.1h0M277.9 36h0M269.1 40.9h0M274.6 42.4h0M270.8 35.2h0M277.6 37.8h0M266.3 41.3h0M274.6 36.3h0M267 37.8h0M264.2 43.6h0M277.6 39.9h0M277.8 38h0M275.3 43h0M276.2 40h0M271.9 34.6h0M273.1 33.4h0M270.2 36.2h0M264 40.2h0M271.1 35.2h0M275.2 38h0M270.5 43h0M262.9 40.2h0M275.9 40.4h0M277.3 39.4h0M274.9 37.2h0M270.3 42.7h0M275.4 38.8h0M270.4 33.9h0M274.3 38.1h0M273.9 36.8h0M276.2 41.7h0M273.2 44.7h0M273 42.6h0M267.3 38.7h0M276.5 42.4h0M270.6 41.3h0M274.4 43h0M272.1 42.6h0M265.2 33.2h0M273.3 36.3h0M270.8 41.1h0M266.3 37.6h0M263.3 35.2h0M271.8 37.1h0M268.1 36.5h0M279.2 41.7h0M277 38h0M262.8 104.8h0M262.9 101.2h0M259.1 107.8h0M258.4 108.8h0M249.6 86.2h0M246.9 108.5h0M264.1 96.1h0M261.2 92.5h0M238.8 89.8h0M249.5 114h0M247.3 85.2h0M256.5 108.3h0M260 107.4h0M253.4 86.2h0M235.5 92.2h0M257.3 107.7h0M259.5 92.6h0M250.2 87.4h0M260.7 93.4h0M259.8 107.8h0M241.7 85.8h0M240.3 96.8h0M241.2 89.2h0M258.7 89.8h0M258.4 108.5h0M262.9 100.1h0M240.2 105.4h0M250.2 110.8h0M247.7 112h0M257.6 84.9h0M263.5 105.9h0M239.6 105.9h0M253.5 115.4h0M264.8 101h0M261.8 109.1h0M260.7 91h0M242.7 83.6h0M241 106.4h0M263.8 103.1h0M237.4 85.1h0M247.1 86.5h0M261.9 93.7h0M246.7 109.1h0M250 88.4h0M261.1 107.1h0M258.2 89.6h0M244.8 87.8h0M257.8 107.7h0M246.5 85.4h0M252.8 114.2h0M263.3 97.3h0M257.2 90h0M264.3 99.2h0M259 90.9h0M238.6 93h0M241.7 105.4h0M249.7 86.1h0M258.9 88.3h0M259.7 107.1h0M238 90.8h0M266.5 102.9h0M252 109.1h0M245.1 112.1h0M252.5 87.2h0M239.2 98h0M245.8 87.9h0M243.1 107.6h0M239.4 94.6h0M246.1 110.5h0M262.3 105.1h0M248.8 110.7h0M238.8 90.7h0M256.8 90h0M239.7 99.5h0M256.5 86.6h0M249.2 86.9h0M240.1 107.5h0M250.8 108.8h0M238.5 89.8h0M256.5 109.5h0M255.6 88.2h0M241.4 89.6h0M260.2 107.6h0M252.4 88.5h0M259.3 88.1h0M259.4 90.5h0M256.5 109.1h0M262.9 98.6h0M255.7 87.4h0M265.5 110.2h0M253.4 110.2h0M241.9 86.4h0M244.3 107h0M251.7 110.6h0M240.5 102.8h0M244.1 110.6h0M240 99.4h0M264.9 100.5h0M238.6 88.4h0M240.3 85.3h0M260.5 92.4h0M261.7 95.5h0M234 96h0M257.8 87.6h0M239.8 93.7h0M251.8 112h0M266.7 98.3h0M247.4 87h0M239.9 87.8h0M245.7 107.2h0M259.9 89.4h0M239.5 103.4h0M264.8 102.5h0M255 108.9h0M261 105.5h0M261.8 103.3h0M239.8 85.7h0M255 87.6h0M247.3 110.2h0M240.6 102.6h0M236.6 95.9h0M245.5 110.6h0M239.8 104.8h0M264.2 102.4h0M239.4 101.6h0M258.9 110h0M260.6 109.8h0M263.6 96.1h0M239.6 96.8h0M262.3 107.7h0M264.4 104.1h0M263.5 102.2h0M238.2 100.5h0M266.1 98.9h0M249.6 109.5h0M258.6 91.9h0M264.1 94.6h0M267 105.8h0M252.9 88.3h0M234.9 99.9h0M252.9 86.8h0M241.8 88.4h0M240.5 98.7h0M262.9 108.2h0M250.7 87.7h0M234.5 92.1h0M240.2 99.7h0M240.4 104h0M248.5 87.3h0M237.2 96.6h0M243.5 107.7h0M238.2 98.4h0M264.2 102.8h0M244.4 108.8h0M237.1 94.1h0M263.2 97.2h0M256.3 109.4h0M238.6 93.3h0M259.4 107.8h0M261.9 105.1h0M238.8 87.6h0M249.5 111.7h0M261.3 94.2h0M246.3 84.1h0M250.1 111.9h0M258.8 92h0M260 90.3h0M240.9 101.6h0M250.7 110.5h0M257.6 107.7h0M240.4 88.6h0M243.9 108.3h0M251.8 111.5h0M249.2 114.9h0M250.5 109.8h0M262.3 108.4h0M266.9 99.1h0M250.4 87.1h0M254 88.1h0M251.9 88.2h0M241.5 85.4h0M255.5 84.7h0M255.8 108.1h0M251.8 112.5h0M256.8 129.7h0M266.7 126.4h0M260.4 109.4h0M247.8 120.4h0M267.9 122.5h0M248.2 121.7h0M257.5 113.4h0M264.9 112.8h0M252.3 131h0M243.1 117.3h0M249.5 122.8h0M261.9 114.7h0M252.2 128.4h0M265 116.8h0M248.8 117.2h0M259.4 109.8h0M247.6 115.5h0M247.1 119.9h0M259.1 132.3h0M251.9 127.1h0M265.1 126.8h0M260.3 112.8h0M249.3 114.4h0M248.5 127.4h0M249.4 113.9h0M263.2 128.2h0M250.8 125.1h0M243.6 110.4h0M249.1 122.8h0M254.8 130.9h0M254.2 129.6h0M267.2 122.4h0M250.8 126.3h0M247 123h0M254.1 130.5h0M263.6 113.2h0M261.4 112.3h0M250.5 129.4h0M250.9 129.5h0M250.7 124.5h0M248.8 120.2h0M264.8 125h0M266.5 116.4h0M247 125h0M250 124.1h0M255.1 130.3h0M258.7 129.6h0M251.7 128.9h0M259.1 129.5h0M258.3 132.3h0M264.6 130.4h0M249.9 124.8h0M250.5 124.3h0M266 124.5h0M249.8 114.1h0M252.8 111.3h0M252.7 109.8h0M269.6 120.9h0M247.1 119h0M252.6 112.2h0M249.2 120.4h0M266.5 122.9h0M261.7 130.7h0M265.1 119.1h0M265.9 126.8h0M250.9 128.1h0M250.5 112.3h0M249.7 125.3h0M249.3 112.9h0M262.3 129.6h0M256.6 130.7h0M265.7 112.9h0M257.3 113.5h0M251.8 129.3h0M245.7 116.5h0M250.2 112.4h0M266.4 125.8h0M249.1 127.1h0M249.3 109.8h0M248.8 113.7h0M262.6 115.4h0M261.1 113.5h0M242.6 114.7h0M246.8 113.3h0M264.3 119.7h0M258.7 111.3h0M257.6 131.1h0M244.9 116.5h0M262 114.6h0M248 117.1h0M259.2 113.6h0M265 125.1h0M264.5 120.6h0M265.6 118h0M251.2 112.7h0M265.4 120.8h0M248.5 115.5h0M261.6 110.4h0M265.2 122.9h0M249.6 130h0M249.6 123.7h0M269.1 117.1h0M252.3 113.7h0M250.1 128.5h0M256.9 130.1h0M262.3 111.3h0M267.6 122.5h0M259.7 114.2h0M262.6 128h0M253 131.2h0M249.8 126.2h0M249.8 122.8h0M260.4 110.7h0M257.9 113.6h0M260.8 131.2h0M252.5 127.1h0M248 113.5h0M247.1 121.7h0M255.6 111.7h0M247.7 114.3h0M250.3 126.2h0M260.1 114.1h0M252.9 109h0M263.7 127.2h0M249.3 114.4h0M264.7 126.9h0M253.9 110.2h0M262.1 130.5h0M261.1 130.4h0M266 117.9h0M263.6 129.6h0M252.3 112.6h0M267.2 127.2h0M265.5 121.7h0M248.2 125.3h0M250.3 125.5h0M265.9 124.1h0M256.9 130.9h0M267.3 121.8h0M267.8 127.6h0M248.8 117.3h0M255.4 130.1h0M248.6 114.8h0M254.6 130.5h0M256.8 131.3h0M250.5 112.1h0M247.6 115.7h0M249.8 113.4h0M247.9 120.3h0M252.4 108.9h0M255.8 129h0M248.2 121.6h0M266.4 120.6h0M264.2 128.9h0M262.6 128.2h0M253.9 133.2h0M263.6 131h0M248.8 116.7h0M255.1 112.4h0M265.6 116.9h0M259.2 131.7h0M246.7 119.4h0M251.4 131.9h0M264.3 115.4h0M263.3 127.1h0M260.3 131.2h0M250.9 109.5h0M256.9 111.2h0M254 112h0M269.7 124.1h0M261.9 128.1h0M258.5 129.4h0M264.3 128.5h0M244.8 84.3h0M288.6 61.4h0M252.7 48.4h0M284.4 63.2h0M275.4 66.4h0M301.9 59.6h0M270.8 70.4h0M282.6 68.2h0M297.8 70.7h0M292.5 43.5h0M261.9 41.5h0M262.6 99h0M316.3 102.5h0M239.2 84.2h0M299 65.7h0M280.2 83.3h0M273.4 65h0M277.8 73h0M239.1 83.4h0M283.7 29.3h0M247.3 85.8h0M275.4 78.9h0M286.5 59.3h0M283 51.8h0M288.4 27.3h0M289 60h0M332.2 68.9h0M276.1 70h0M319.4 66h0M259.4 72.4h0M266.5 60.2h0M270 53.8h0M281.1 80.9h0M248.3 45.8h0M253.6 9.9h0M278.6 53.9h0M239.9 54h0M290.1 79.4h0M289.8 80.4h0M297.8 52.7h0M232.1 70.5h0M332.1 26.1h0M283.7 66.8h0M270.6 40.9h0M297.8-7.3h0M310.2 67.5h0M302.6 95h0M323.7 101h0M313.5 87.6h0M276.5 101.9h0M265.6 57.5h0M305.7 65.4h0M294.6 40.2h0M264.4 81.6h0M271.1 69.1h0M313.7 82.6h0M314.2 36.2h0M295.6 63.3h0M320.5 55.3h0M306.7 62.1h0M230.7-3.3h0M284.6 53h0M294.6 64.3h0M284.1 64.6h0M320.4 77.2h0M298.7 74.1h0M294.3 15.4h0M287.6 77.3h0M267.4 51.4h0M298.2 100.6h0M263.2 80.4h0M288.2 48.9h0M284.4 65.3h0M295.7 54.8h0M291.2 41.9h0M306.5 52.2h0M310 48.9h0M254.5 51.3h0M305.5 73.4h0M312.4 85.8h0M305.9 67.4h0M300.8 51.3h0M285 68.8h0M322 51.4h0M307.7 50.2h0M312.7 73.6h0M274.4 52.1h0M294.5 53.5h0M304.2 63.4h0M309.1 75.7h0M292.8 16.9h0M272.3 98.9h0M305.2 51.3h0M276.2 87.2h0M273.6 77.8h0M315.7 72.8h0M280.8 94.5h0M287.2 75.9h0M297.9 96.8h0M261.1 101.5h0M276.1 39h0M299.4 36.9h0M260.4 78.4h0M293.9 89.7h0M273.8 72.6h0M306.3 47.8h0M312.4 45.2h0M305.8 66h0M274.5 63.8h0M248.8 72h0M273.8 40.1h0M321.1 59.8h0M275.5 60.5h0M284.4 39.5h0M300 51.1h0M289.6 64.5h0M242.7 74.8h0M294.5 64h0M243.2 71.5h0M248.4 31.5h0" stroke="#ffa500" stroke-width="2.0" stroke-linecap="round" fill="none"/>
<path d="M249 21.5l0.6 0.9M248.4 19.7l-0.4 0.8M245.4 16.5l-0.2 1.4M240.1 19.7l1.7 0.3M247.2 24.9l1.6 0.2M256.9 21.5l0.9 0.2M249.9 18.3l0.5 2.2M251.5 22l1.1 0.5M256 21.5l-1 2.3M251.3 25.1l-0.4 1.5M246.7 24.7l-0.9 0.1M246.3 20.6l-1.2 0.6M295 68.5l0.9 0.4M268.8 48.9l1.3 1.9M308.4 66.5l1.6 1M259.7 78.3l-0.6 1.3M299.8 59.7l-0.1 0.9M283.1 86.5l1.2 0.2M283.5 63.1l-0.8 1.3M281.2 50.6l1 1.5M303.1 87.3l0.2 1.3M266 65.8l-1.6 1.2M267.7 76.3l1.3 1.3M261 66l-0.2 2.4M308.8 79.3l-0.9 1M274.3 82.5l-1 0.1M267.4 74.2l0.6 2.1M280.8 80.4l1.5 0.8M305.7 67.3l2 0.2M283.8 82.6l-1.4 1.2M306.5 74l-1.3 0.5M291.9 81.9l-1.1 1.5M294.3 80.4l-0.4 1.6M290.6 69.8l-2.2 1.2M291.2 83l0.2 2M257.2 57.7l2 0.4M286.7 62.9l-1.2 2.3M305.7 71.8l-1.1 0.7M308.9 75.9l0.7 1.9M300.7 60.2l1.6 0.1M285.9 55.3l0.9 0.5M303.3 63l2.1 0.4M296.2 82.2l1.1 0.5M292.3 84.3l0.8 2.2M260.4 73.9l1.6 0.4M274.8 46.9l-0.4 2.4M294.8 78.8l-2 1.3M284.9 54.7l1 1.2M290.8 66.7l1 2.2M258 58.8l-1.1 0.1M262.3 60.1l1 0.6M299.4 59.1l1.2 1.1M277.7 55.8l-0.4 1.2M300.7 68.7l1.6 0M274.7 67.4l0.7 1.7M274.6 86.9l-2 0.3M287.7 58.6l-0.1 1.9M262 63.3l-0.5 0.8M287.6 60.1l-2.1 0.7M289.9 86l-2.1 0.9M306.1 75.5l0.5 1.4M258.8 65.5l1.8 0.6M269.7 46.6l0.9 0.2M276.8 86.9l0.9 0.7M284.1 73.1l0.4 0.8M274.4 82.2l1.1 0M287.3 60.5l1.4 0.5M278.1 70.1l2.4 0.2M281 87l-0.4 1M253.8 58.1l1 1M283.2 83.5l0.4 0.9M257.3 51.8l-2.3 1.2M301.6 65.3l0.2 1.7M293.8 84.7l0.9 0.3M264.7 72.8l0.6 1.1M293.8 59.1l-0.9 0.6M268.2 75.9l2.5 0.2M303 73.4l-0.1 1.1M284 59.2l-0.1 0.8M291.6 85l-0.2 2.6M266.2 58.5l-1.9 0.9M293.6 59.2l1 1.1M263.2 74.7l1.9 1.1M264.7 53.8l-0.2 2.2M281.7 67.7l0.6 1M274.5 85.7l-2.1 1.4M264.5 48.4l-2 1M265 49.7l-1.8 1.2M266.2 81.7l1.3 1.1M283.8 55.1l0.4 0.8M290.6 61.1l1.3 0.1M277.3 83.4l1.4 1.5M282.9 61.4l-1.6 0.2M251.3 55.8l-2.5 0.5M293.5 58.7l-1.4 0.2M257.3 47.2l0.9 0.8M305.3 80l1 0.7M269.1 59.1l-0.9 2.2M267.5 76.7l-1.5 0.8M285.2 61.6l-1 2M293.5 70.3l1.9 0.5M280.3 79.9l-2.1 0.6M269 73.4l-1.2 1.2M281 81.3l1.9 1.2M293 78.6l1.1 1.9M274.2 52.4l-1.5 0.1M262.3 76.4l0.8 2.4M273 82.7l-0.7 0.8M261.3 70.5l1 0.4M285.1 78.4l-2.2 0.7M302.2 79.5l2.1 1M306.4 64.5l-2 0.1M291.5 87.2l0.8 1.6M258.3 58.4l0.8 0.3M300.7 45.3l-2 0.2M313.2 47l-0.2 2.5M310 49.9l0.5 2.3M316 33.1l-1 0.6M303.6 49.1l0.9 0.9M303.6 41.4l1.4 1.3M305.3 50.3l1.1 1.1M324.3 39.6l2.2 1M317.4 33.5l0.7 1.5M322.5 42.7l-0.6 2.3M322.2 40.4l0.6 2.4M299.5 39.1l-0 1.8M323.4 33.2l-0.1 0.8M320.3 46.3l0.2 1.1M311.3 47.7l2.2 0M319.6 40.9l1.4 0.9M300.7 43.4l-1.2 1.4M318.9 33.2l0.9 1.5M308.2 37.8l-0.4 2.2M301.2 36.8l1.7 0.6M307.2 38.2l0.9 0.9M324.6 33.8l-1.3 1.1M316.8 50l-0.4 2.1M299.6 37l-1.5 0.4M274.1 37.9l-0.6 1.6M272 38.2l-0.1 2M268 39.8l0.3 1.7M251.2 93.3l0.2 2.5M259.8 91.8l-1.4 1.9M250.6 97.2l-1.2 0.2M259.3 107.1l-0.5 2.5M251.5 107.5l-0.9 0.5M259.4 93.4l1.5 0.6M260.6 99.1l1.2 0.3M239 89.9l2 0.5M258 98.1l-1.9 1.5M261.5 101.9l1.8 1M253.7 105.8l-0.5 0.9M250.1 109.8l-2.4 0.9M263.5 100l1.9 1.6M245.6 89l0.5 1.6M241 99.2l-2.3 0.1M240.3 97.2l1.4 0.8M250.6 103.8l-0.1 1.4M251 94.8l1.1 0.8M247.8 105.8l-0.5 0.6M250.9 88.7l-0.3 1.6M247.5 88.4l1.4 0.1M255.2 101.2l-0.7 1.6M253.9 105.4l2.5 0.5M252.2 107.7l-2 1.6M256.5 97.8l1.2 0.4M254.9 89.4l2.2 0.3M250.4 114.2l0.7 0.8M262.6 118.6l0.6 2.4M255.7 120.8l-1.1 0.7M259.5 123.9l2.2 1.1M254.8 126.8l-0.5 2M251 124.9l0.9 0.3M264.3 120.1l-0.9 1.3M248.8 119.3l2.4 0.6M263.3 119.8l-0.9 2M254 120.3l2.3 0.6M258.9 115.6l2.3 0.5M264.9 121.8l0.2 1.4M250.1 117.6l-0.4 2.4M260.8 126l0.7 0.8M255.9 125.5l-0.1 1.2" stroke="#ffffff" stroke-width="1.6" stroke-linecap="round" stroke-opacity="0.95" fill="none"/>
<path d="M328.1 123.4h0M332.4 117.4h0M319.9 93.7h0M339.9 97.9h0M318.9 125.9h0M324.1 116.5h0M324.2 94.8h0M347.7 104.7h0M315.9 107.1h0M358.8 112.3h0M364 108.3h0M337.9 115.6h0M313.2 104.2h0M311.7 115h0M341.5 112.4h0M333.5 108.8h0M339 96.3h0M326.9 118.8h0M326.4 116.3h0M346.1 137h0M336.1 102.5h0M336.4 95.1h0M345 117.2h0M332.7 122.1h0M315.7 122h0M367.2 93h0M397.8 100.7h0M347.7 103.1h0M340.3 126.6h0M343.3 100.9h0M289.5 130.9h0M345.7 104.9h0M336.2 113.1h0M321.6 115.8h0M336.1 118.2h0M286.3 98.2h0M292.4 130.6h0M324.8 100.6h0M336.8 115.9h0M332.5 91.8h0M361.1 97h0M363.6 113.9h0M346.3 92.2h0M265.8 120.4h0M324.7 122.2h0M290 115.4h0M351.8 108.2h0M317.1 130.8h0M324.3 109.4h0M306.3 112.9h0M305.6 128.5h0M310.5 119.2h0M354.6 130.6h0M328.8 98.4h0M294.3 112.3h0M331.7 106.9h0M296.3 112.7h0M314.7 93.1h0M309.2 129.5h0M362.8 87.7h0M358.7 105.1h0M403.4 92.2h0M285 109.2h0M329.4 103.4h0M284.8 112.2h0M357.6 111.5h0M306.3 122.3h0M277.4 120.4h0M300.5 117.4h0M307.5 99.7h0M328.9 125h0M329.4 113.3h0M321.2 118.9h0M360.4 121.8h0M320.6 106.5h0M324.8 128.7h0M337.9 114.9h0M348.5 121.5h0M317.3 126.9h0M334 104.1h0M333.5 134.8h0M346.1 105h0M332.7 116h0M307.2 119.7h0M293.4 122.4h0M311.8 131.5h0M330 118.6h0M326.4 103.7h0M330.7 121.1h0M309.3 111.5h0M296 111.6h0M361.3 87h0M338.8 93.6h0M299.1 117.5h0M309.7 129.6h0M332.2 108.5h0M297.2 115.8h0M321.7 109.9h0M338.1 98.2h0M322.3 104.8h0M336.1 97.5h0M287.5 127.6h0M319.5 109.9h0M297.5 115.8h0M288.1 116.2h0M315.4 129.7h0M292.4 120.1h0M340.3 126.5h0M342.2 109.4h0M332.3 116.8h0M341.7 113.9h0M335.2 103.9h0M313.9 96.9h0M323.1 131.7h0M336 104.7h0M310 92.7h0M326.2 122h0M284.9 110.6h0M336.7 96.4h0M330.7 114.1h0M357.5 93.7h0M276.6 130.2h0M346.1 118.8h0M309.5 96.9h0M304.8 88.7h0M310.9 139.5h0M327.7 111.9h0M309.4 123.9h0M305.6 131.4h0M271.5 124.6h0M343.2 123.9h0M330.3 109.5h0M334.6 119.1h0M313.8 114h0M341.7 109.2h0M340.7 104h0M307.4 136.3h0M314.8 106.9h0M367.5 105.9h0M311.5 111.7h0M353.3 109h0M310 126.2h0M351.9 102.4h0M334 93.7h0M348.7 108.7h0M305.7 128.1h0M329.3 100.9h0M335.4 100.7h0M304.5 114.1h0M293.4 110.4h0M351.7 112.4h0M316.3 127.3h0M300.9 118.8h0M371.7 110.2h0M325.6 101.3h0M341.1 92.5h0M358 120.7h0M345.8 116h0M310.6 134h0M343.3 105h0M302.3 109.1h0M301.9 116.1h0M312.8 104.6h0M342.5 116.4h0M337 101.5h0M387.4 113.5h0M317.2 127.7h0M323.5 107.3h0M301.5 125h0M323.2 131h0M301.8 125.1h0M367.1 105.3h0M335.5 109.5h0M287.4 113.9h0M324.8 125.3h0M305.4 105.4h0M352.4 86.1h0M320.5 118.2h0M351.9 121.3h0M305.8 105.6h0M322.4 102.3h0M288.4 99.7h0M299.7 112.5h0M333.7 124.9h0M337.7 103.3h0M325.1 108.4h0M370.3 120h0M315.6 123.2h0M337.1 113.9h0M330.8 108.5h0M295.9 125.5h0M351.8 123.3h0M332.6 69.6h0M310.4 117.2h0M376.7 114.6h0M318.6 113.7h0M334.4 117.5h0M355.4 128h0M305.1 99.5h0M354.4 130.8h0M273.5 139.7h0M377.2 95.6h0M319.2 132.6h0M323.6 129.5h0M305.4 127.2h0M308.6 141h0M328.6 109h0M344.1 113.2h0M334.6 97.8h0M339 122.6h0M333 106.4h0M349.6 108.8h0M302.1 119.8h0M326.2 110.3h0M305.2 143.9h0M323.2 103.5h0M340.6 107.8h0M329.4 104.6h0M302.7 120.1h0M363.5 111.7h0M351.3 114.7h0M304.7 117.9h0M294.4 122.2h0M337.5 79.1h0M320.3 103.8h0M360.6 118.4h0M308.8 104.6h0M311.3 131.9h0M306.4 117.6h0M352.5 119.3h0M336.8 122.7h0M315.6 108.6h0M311.1 113.5h0M367.1 97.5h0M342.6 90.5h0M294.5 118.9h0M329.7 105.4h0M332.7 102.9h0M287.1 113.2h0M338.8 104.7h0M325.6 128.3h0M305.5 93.8h0M312.2 121.2h0M333.7 126.5h0M313.7 134.3h0M316.7 120.1h0M325.7 107.9h0M312.2 132.8h0M308.1 115.3h0M325.7 117h0M324.1 109.6h0M303.7 111h0M317.6 116.9h0M331.8 109.6h0M365.5 109.4h0M309.7 119.4h0M303.1 113.4h0M296.1 97.4h0M351.1 94.2h0M376.5 99.1h0M301 128.5h0M330.2 119h0M348.9 118.3h0M313.8 112.5h0M345.6 124.2h0M307.7 134.2h0M338 107.7h0M372.7 106.5h0M298 111h0M331.1 113.6h0M333.3 118.6h0M308.8 109h0M311.8 108.6h0M329.5 123.9h0M358.9 116.9h0M317.9 87.3h0M308.7 119.8h0M341.3 113.1h0M324 119.3h0M301.3 107.1h0M303.1 125.3h0M337.3 118.2h0M314.2 120.2h0M340.4 121.7h0M364.4 99.6h0M333.7 119.9h0M298.7 119.4h0M318.6 132.4h0M318.5 118h0M348.1 98h0M298.8 117.4h0M340.4 98.9h0M305.1 113.8h0M328.7 118.2h0M331.8 109.1h0M375.6 118.7h0M325.8 98.5h0M308 117.9h0M345.3 124.7h0M359.6 116.6h0M357.9 107.4h0M316 105.9h0M321.8 96.6h0M356.4 114h0M308.1 130.7h0M326.8 111.1h0M307.5 111.9h0M290.9 139h0M309.6 116.4h0M307.9 102.9h0M313.5 119.7h0M334.1 94.6h0M345.3 129.9h0M318.9 117.8h0M328.2 113.8h0M286 123.5h0M345.8 113h0M337.5 116.9h0M329 103.1h0M312 126.6h0M306.8 135.2h0M288.2 118.9h0M328.1 105.7h0M313.5 105.6h0M287 106h0M332.4 102.4h0M320.9 126.2h0M306.8 116h0M356.8 111h0M319.1 121.1h0M325.6 113.6h0M343 87.4h0M312.3 121.4h0M348.5 112.9h0M296.4 116.5h0M339.9 110h0M315.3 114.4h0M349.4 96.6h0M294.1 108.3h0M282.1 122.2h0M345.2 115.5h0M336.1 109.2h0M320.6 106.8h0M328.4 116.6h0M350.5 122.7h0M334.7 120.5h0M310.8 104.3h0M300.8 108.4h0M323.3 113.3h0M295 98.8h0M283.1 117.2h0M311 120.9h0M327.6 106.2h0M338 110.6h0M351.4 103.3h0M305.9 109.4h0M317.1 120.7h0M307.8 104.4h0M303.4 120.5h0M358 96.6h0M305 131h0M338.1 114.5h0M362.3 100h0M303.5 104.3h0M342.6 107.8h0M346.4 132.2h0M346.2 117.8h0M340.8 126.7h0M369.9 97.9h0M330.8 124.7h0M351.6 97h0M321.2 121.4h0M316.1 117.2h0M316.9 132.3h0M294.5 114.6h0M342.5 116.2h0M286.7 128.3h0M308.3 98.3h0M314.5 133.7h0M351.2 118.7h0M334 107h0M283.1 118.6h0M319.5 131.5h0M345.5 114.6h0M300.2 112.4h0M334.7 109.7h0M308.6 101.1h0M293.4 124.3h0M301 114.2h0M364.4 96.4h0M344.5 105.5h0M321.7 118.1h0M334 116.1h0M341 124.5h0M312.5 112h0M346.6 125.4h0M312.3 128h0M376.8 113.7h0M340.8 103.6h0M393.3 122.9h0M292 109.4h0M332.8 120.7h0M328.3 123.5h0M302 109.8h0M341 116.9h0M334.4 132h0M319.4 133.4h0M322.1 108.8h0M333.7 111.7h0M320.7 128.6h0M257.9 110.2h0M332 105.1h0M344.7 117.8h0M332 101.8h0M333.6 96.7h0M347.1 94.4h0M328 113.1h0M321.3 139.5h0M331.1 120.5h0M296.9 109.9h0M316 122h0M348.4 90.5h0M350.4 119.3h0M298.7 101.2h0M356.8 100.8h0M341.4 108.4h0M352.8 78.2h0M307.6 96.5h0M349.6 93.2h0M313.9 120.8h0M310 123.1h0M285.2 136.2h0M344.8 101.2h0M327 119.1h0M343.4 109.6h0M323.6 99.3h0M294.4 123.8h0M287.7 125.8h0M300.6 130.9h0M312.3 109.4h0M300.5 106.2h0M308.9 109.4h0M284.8 137.7h0M307.4 117.9h0M316.8 113h0M345.7 111h0M311.5 111.2h0M318.9 125.5h0M300.9 114.3h0M263.6 109.3h0M300 112.1h0M305.8 111.6h0M330.4 116.4h0M327.1 111h0M337.6 107.4h0M275.3 129.9h0M335.9 106.4h0M348.3 116.1h0M323.7 117.7h0M384.3 80.3h0M332.1 114.6h0M344.1 117.1h0M300.5 130.8h0M276.7 122.5h0M305.6 97.7h0M310 98.4h0M320.3 109.7h0M316 108.8h0M325.9 120.9h0M349.2 121.9h0M337.2 113h0M317.3 101.5h0M333.2 106h0M289 109.5h0M306.6 110.3h0M313 113.1h0M340.6 106.7h0M333.4 125.7h0M343.8 114.4h0M311.7 115.1h0M368.4 121.2h0M350.4 94.5h0M356.8 109.8h0M350.6 106.5h0M348.1 111.6h0M304.5 116.2h0M292.8 120.3h0M319.6 117.7h0M300.1 123.5h0M319.9 98.4h0M326.1 113.3h0M334.1 120.7h0M312.6 127h0M314.9 121.6h0M313.5 131.6h0M344.3 97.1h0M286.1 100h0M361.9 127.5h0M311.2 122.1h0M332 100.2h0M317.1 119.5h0M344.7 110.4h0M314.8 126.7h0M293.3 117.6h0M330 111.1h0M345.5 104.6h0M317.2 124.2h0M319.5 98.9h0M299.9 120.3h0M336.1 88.5h0M352.8 127.7h0M312.1 100.4h0M309.9 126.6h0M324.3 113.2h0M285.8 115.6h0M300.6 108.5h0M329.5 98.5h0M288.1 132.5h0M308.6 119.6h0M356.4 110.3h0M318.4 112.8h0M312.1 107.1h0M336.3 118.5h0M311 93.3h0M324.2 92.7h0M342.2 83.8h0M332.4 107.1h0M334.1 114.1h0M366.9 113.4h0M318.7 104.6h0M312.5 110.3h0M321.7 108.4h0M334.8 122.3h0M352.9 113h0M348.1 127.1h0M351.5 102.4h0M325.7 118.6h0M320.2 119.2h0M327.1 112.6h0M337.3 114h0M273.5 130.3h0M317.3 123.2h0M322.6 113.6h0M346.9 132.4h0M328.4 134.2h0M330.7 89.6h0M321.6 129.2h0M314.7 125.3h0M340.4 132.1h0M334.3 123.7h0M304.2 116h0M326.7 128.1h0M278.2 139h0M356.1 99.7h0M315.3 139.8h0M338 107.5h0M315.3 124.1h0M342.3 116.8h0M335.1 84.1h0M334.2 121.8h0M292.2 104.3h0M299.1 112.9h0M304 110h0M336.2 118.1h0M343.5 112.4h0M323.1 130.2h0M290.2 115.6h0M307.3 106.7h0M339.8 107.3h0M342.2 100h0M302.8 114.7h0M355.3 116.9h0M281.8 127h0M321.8 107.4h0M336.8 115.5h0M345.3 131.5h0M343.2 124.9h0M302.1 114h0M314.9 119h0M343.4 120.4h0M291.7 102.3h0M342.4 119.4h0M313.2 130.7h0M293.9 103.6h0M307.3 116.2h0M303.7 112.9h0M345.7 115.1h0M332.1 109.1h0M327.7 111.9h0M316.1 104.2h0M337 120.3h0M309 117.1h0M313.4 100.1h0M330 108.7h0M313.2 115h0M329.1 126.2h0M306.6 111.2h0M327.5 104.8h0M310.9 106.1h0M365 93.9h0M340.7 113.5h0M329.2 97.9h0M342.9 116h0M364.4 112.6h0M334.1 116.7h0M353.9 116.9h0M336.7 115.9h0M309 119.2h0M312.2 109.7h0M303.4 118.8h0M333.7 115.3h0M306.8 114h0M354.8 102.7h0M325.1 109.7h0M339.5 117h0M318.2 122.3h0M310.9 118.7h0M306.6 108.8h0M319 114.4h0M332.7 120.1h0M336.7 126.1h0M349.5 99.5h0M325.4 115.2h0M325.7 102.8h0M316.4 111.7h0M310 90.1h0M300.2 111.5h0M293.5 115.7h0M341.9 106.3h0M331.7 121.8h0M292.2 134.2h0M330.5 105.5h0M325.9 124.1h0M362.9 98.8h0M345.8 102.9h0M300.2 126.8h0M305.7 130.7h0M283.8 113.5h0M307.5 105.7h0M275.8 128.6h0M332.2 111.4h0M343.4 119.7h0M346 103.5h0M344.3 97.3h0M318.1 97.7h0M365.9 110.2h0M334.3 92.5h0M303.4 98.2h0M279.8 152.8h0M360.9 116.6h0M325.6 128.5h0M347.2 109.2h0M301.3 126.5h0M300.7 108.6h0M351.3 112.3h0M353.6 112.5h0M333.4 112.3h0M338.9 110.7h0M308.8 126.5h0M333.4 132.4h0M331.3 107.7h0M302.2 114.4h0M333.5 115.7h0M316.7 126h0M316.4 108.3h0M319.9 114.2h0M325.1 116.2h0M310 127.7h0M345.1 98.7h0M322.3 105.7h0M359.9 93.6h0M366.6 105.8h0M347.3 120.5h0M316.8 118.4h0M297.6 120.2h0M309.6 108.3h0M357.7 116.9h0M349.3 112.2h0M318.1 132h0M298.8 104.7h0M335.1 102h0M317.5 120.1h0M292.3 126.7h0M356.8 112.5h0M285.6 94.5h0M287 115h0M274 125.9h0M355.6 95.3h0M271.9 101.9h0M342.2 105.3h0M355.8 100.7h0M300.6 110.2h0M325.3 114.4h0M320.6 127.8h0M329.3 85.5h0M345.3 110h0M290.7 137.1h0M341.6 104.6h0M314.5 111.7h0M302.2 122.9h0M300.8 117.1h0M310.3 107.6h0M335.3 100.7h0M319.1 110.1h0M343.9 128h0M335.9 98.7h0M311 95.3h0M331.3 92.1h0M334.1 129.5h0M293.8 112.3h0M311 107.4h0M330.2 122.1h0M330.1 112.1h0M339.4 127h0M323.2 121.9h0M327.4 117h0M378.1 102.7h0M350.1 129.2h0M342.6 118.1h0M345.6 112.6h0M318.6 134.4h0M320.4 112.3h0M318.8 108.4h0M336.7 119h0M292.3 127.5h0M308.8 103.9h0M315.6 112.5h0M312.9 108.7h0M314 132.2h0M325.1 106.2h0M298.4 125.4h0M335.2 125.5h0M316.3 121.4h0M331.6 106.5h0M325.8 117.6h0M331.3 132.5h0M316 108.5h0M330.1 116.7h0M336.9 113.2h0M338.4 110.7h0M313.1 110.1h0M329.1 98.3h0M314.6 120.9h0M325.8 99.7h0M329.9 97.8h0M285.8 122.3h0M309.6 111.8h0M321.8 95.6h0M320.7 128.1h0M373.3 116.7h0M318.8 129h0M341.8 98.7h0M333 97.6h0M334.1 105.4h0M366.5 86.1h0M304.6 125h0M331.2 106h0M337.3 113.3h0M320.6 96.6h0M341.3 132h0M317.6 120.4h0M308.2 123h0M327.3 108.5h0M316.9 99.4h0M337.2 104.2h0M326.3 108.3h0M331.2 133.7h0M306.6 132.8h0M320.4 113.6h0M373.7 82.9h0M296.6 118.9h0M319.4 137.8h0M329.2 111.5h0M333.6 120.2h0M355.8 108.7h0M321.8 116.1h0M337.9 106.7h0M318.1 110h0M321.1 111.6h0M353.8 99.1h0M319 118.4h0M311.9 126.3h0M308.3 114.5h0M324.1 109h0M322.2 125.6h0M291.7 109.8h0M290.3 107.4h0M320.9 93.3h0M334.6 119.6h0M341.4 116.5h0M306.5 109.8h0M321.6 107h0M312.5 118.1h0M337.2 105.1h0M306.2 90.7h0M351.3 111.1h0M312.5 111.7h0M319.3 107.7h0M331.5 99.2h0M281.8 119.3h0M304.4 116.3h0M352.8 114.5h0M329 105h0M315.5 132.4h0M319.3 105.5h0M333.3 129.2h0M323.2 111.3h0M352.3 100.3h0M322.3 121.6h0M314.7 122.8h0M372 118.5h0M295.3 119.4h0M363.2 94.9h0M298.1 122.7h0M326.8 121.1h0M321.2 122.4h0M377 127.7h0M279.1 132.3h0M343.6 117.7h0M335 109.7h0M301.2 108h0M352.6 105.7h0M335.8 97.6h0M328 115h0M364.8 111.7h0M349.6 104.6h0M355.2 107.1h0M316.7 125.2h0M342.4 105h0M264.2 126.8h0M318.8 120.5h0M391.7 105.2h0M334.4 118.4h0M342.7 100.8h0M335.6 103.1h0M323.9 103.2h0M308.4 105.7h0M353 131.4h0M308.1 116.6h0M322.9 121.1h0M270.2 119h0M309.3 121.1h0M297 115.9h0M326.6 113.8h0M332.2 104.5h0M268 118.8h0M347.5 112.6h0M311.1 103.5h0M319.9 110.9h0M318.7 133.3h0M328.5 92h0M317.9 97.7h0M330.3 97.1h0M328.8 89.1h0M341 102.5h0M324 91.1h0M364 92.8h0M355.8 77.9h0M349 85.6h0M344.8 93.3h0M345.1 90.5h0M345.9 90.2h0M333.7 103.3h0M346.7 79.6h0M334.8 96.6h0M336.6 89.5h0M343.6 89.6h0M351.8 78.5h0M344.9 88.5h0M359.2 78.2h0M322.4 84.3h0M357.7 95.5h0M363.9 75.6h0M347.3 83.9h0M339.9 78.6h0M327.2 90h0M321.3 83.4h0M337.4 95h0M350.3 90.9h0M348.1 96.9h0M357.2 76.7h0M334.1 98.2h0M345 83.6h0M341.3 85.5h0M358.7 80.1h0M337 78.6h0M321.2 89.1h0M311.1 98.9h0M355.8 85.7h0M340.1 90h0M358.4 83.7h0M353.8 87.3h0M337.7 88.1h0M346.9 79.4h0M345.7 92.1h0M341.8 94.5h0M324.5 84.8h0M344.8 82.7h0M343.5 79.2h0M336.5 96.3h0M341.8 79.7h0M338.9 84.2h0M328.2 88.7h0M359.6 75.5h0M332 80.1h0M345.4 82.9h0M339.8 94.3h0M317.7 104.8h0M351.7 95.9h0M336.4 91.3h0M352.6 87.5h0M343.3 78.9h0M333.6 84.1h0M349.9 78.5h0M372.2 83.6h0M333.5 96.8h0M342 99.4h0M339.2 95.1h0M329.3 96.2h0M324.2 90.8h0M335.4 92.7h0M342.9 87.7h0M343.1 92.6h0M339.6 88.2h0M338.9 81h0M327.9 93.2h0M334.8 92.4h0M358.9 99.1h0M329.7 97.9h0M352.7 77.4h0M353.9 78h0M337.1 91.1h0M345.6 80.7h0M348.3 86.1h0M341.3 85.7h0M319.7 90.8h0M344.6 96.6h0M343.7 92.2h0M332.8 88.4h0M338.4 91.5h0M336 95.4h0M340.3 73.8h0M347.6 79.9h0M306.9 90.6h0M337.9 94.5h0M348.8 74.5h0M343.2 90.8h0M338.5 93.1h0M345.2 87h0M346.9 94.1h0M347.6 135.5h0M363.3 125.6h0M357.9 143.6h0M372.5 138h0M354.2 129.5h0M357.8 129.7h0M354.7 122.9h0M361.1 121.4h0M358.4 129.5h0M360 131.4h0M345.3 124.5h0M357.6 131.6h0M363 120.2h0M353.9 129.2h0M362.3 130h0M364.4 128.5h0M359.7 125.1h0M364.7 140.2h0M350.9 118.7h0M355.3 131.4h0M359 126.1h0M366.9 129.7h0M365.4 131.1h0M366.8 121.2h0M359 129.4h0M359.6 110.2h0M363.5 136.9h0M361.8 133.3h0M359.7 134.9h0M350.8 112.9h0M350.2 126.7h0M346.9 126.6h0M349.9 119.6h0M365 135.4h0M363.3 128.9h0M349.8 132.1h0M349.5 123.6h0M354.8 114.9h0M349.4 122.3h0M360.5 122.3h0M365.4 115.9h0M361.2 123.7h0M359.6 130.9h0M356.5 123.6h0M367.7 136.4h0M367.6 124.3h0M352.8 119.9h0M350.5 135.6h0M347.5 125.6h0M361 128.2h0M347.9 128h0M360.1 132.6h0M357.3 124.2h0M355.1 136.6h0M353.7 132.2h0M334.8 125.7h0M354.5 126.1h0M354 133.9h0M361.5 134.5h0M364 125.3h0M368.6 128.4h0M348.3 124.4h0M349.7 138.4h0M373.8 138.5h0M360 133.6h0M342.5 133.3h0M347.6 138.4h0M347.9 135.9h0M359.5 137.3h0M359.5 119.2h0M348.1 122.8h0M353.7 138.5h0M362.8 130.5h0M361.2 129.2h0M360.1 147h0M354.5 131.7h0M368.3 133.7h0M363.2 138.3h0M370 131.4h0M364 124.7h0M360.2 120.1h0M339.7 127.7h0M356.1 123h0M357.7 140h0M363.9 131.9h0M347.6 127.1h0M348.5 131.6h0M362.3 132.7h0M363 139h0M359.1 130.5h0M349.6 133.5h0M357 124.4h0M350.5 122.5h0M345 126h0M352.4 125.2h0M348.3 122.6h0M347.3 123.2h0M358.1 133.6h0M364.3 121.4h0M358.9 118.1h0M345.4 118.7h0M356 128.1h0M348 122.1h0M365.4 131.1h0M356.5 128.6h0M363.6 127.4h0M356.7 129.7h0M362.8 119.5h0M342.9 123.8h0M346.6 123.4h0M366.9 127.5h0M365.1 127.7h0M354.6 114.5h0M347.8 119.7h0M358.8 121.6h0M367.1 137.5h0M364.2 123.7h0M354.8 135.9h0M362.8 133.3h0M355.3 112.7h0M344 133.6h0M366.6 123.6h0M357 128.8h0M361.8 124.3h0M364.1 135.8h0M363.3 134.3h0M364.7 131.3h0M349.6 116.6h0M363.1 125.8h0M345.8 129.2h0M346.5 136.6h0M361.1 135h0M361.2 125.7h0M346.3 108.1h0M355.3 132.5h0M343.7 127.4h0M340.7 129.7h0M351.6 117.6h0M349.2 120.6h0M360.9 109.7h0M306.9 105h0M299.7 124.3h0M285.2 114.4h0M299.1 107h0M290.2 106.4h0M304.1 121.2h0M295.6 110.4h0M295 109.9h0M308.9 126.5h0M288.8 119.1h0M285.1 108.5h0M299.9 111.8h0M305.9 114.6h0M289.2 125.6h0M291.1 127.5h0M304 129.1h0M292.1 113h0M296.3 122.2h0M292.1 128.1h0M304.6 114.4h0M298.9 117.6h0M311.5 121.6h0M321.1 115.5h0M300.1 120.1h0M299 124.9h0M309.6 122h0M297.7 125.4h0M301.7 128h0M304.6 108.9h0M290.6 100.2h0M311.9 119.1h0M289.9 122.4h0M295.1 114.1h0M306.1 120.9h0M297.4 112.1h0M290.5 116.5h0M292.2 125.6h0M317.5 122h0M308.4 128.5h0M288.5 126.9h0M290.3 113h0M306.8 121.1h0M293.7 112.7h0M307.1 110.3h0M307.2 113.7h0M300.2 136.6h0M298.8 116.1h0M289.3 110.6h0M303.6 108.6h0M306.7 116.3h0M299.9 119.5h0M290 122h0M301.6 121.6h0M310.8 118.2h0M308.7 110.6h0M293.2 111.1h0M287.7 105.8h0M300.5 125.5h0M293.2 114.9h0M309.7 129.8h0M290 123h0M309.6 118.6h0M310.5 114.3h0M307.6 104.6h0M316.2 110.5h0M288.9 112.1h0M304 123.4h0M304.4 116.3h0M308.9 110.7h0M286 125h0M313.5 110.4h0M304.1 119.1h0M315.3 122.7h0M292.6 112.9h0M291.3 132.6h0M319.2 112.6h0M307.1 110.1h0M315.8 117.8h0M289.5 116.8h0M308.6 127.3h0M312.2 112.6h0M304.5 115.1h0M299.3 114.2h0M306.7 120.4h0M297.8 116.8h0M312.4 115.5h0M307.6 115.1h0M281.3 119.4h0M307.6 130.1h0M315.5 114.1h0M307.1 109.8h0M304.1 126.1h0M305.9 109h0M304.7 118.1h0M297.2 119.5h0M313 118.4h0M288.2 119.6h0M297.4 110.6h0M302.1 116.6h0M294.6 114.1h0M286.6 126.4h0M297.4 109.4h0M300.6 110.9h0M300.7 101.7h0M302.6 114.3h0M298.7 116.8h0M282.5 128.3h0M297.4 113.3h0M295.1 125.3h0M289.5 113.1h0M289.5 124.6h0M294.9 118.7h0M309.3 116.8h0M303.7 107h0M303.4 128.8h0M295.4 107.2h0M301.6 107.9h0M287.7 119h0M306.8 115.6h0M294.8 113.3h0M304.4 120.5h0M295.6 114.8h0M291.8 116.9h0M301.5 116.6h0M286.4 121.6h0M296.4 124.9h0M300.8 96.7h0M293.3 115h0M310.3 115.5h0M305.8 111.7h0M297.3 121.2h0M302.9 111.1h0M292.5 109.4h0M283.6 116.3h0M311 98.5h0M289.1 122.8h0M308.6 120.8h0M289 115.4h0M300.3 115.1h0M316.3 119.2h0M310.7 126.8h0M310.1 111.2h0M289.5 103.4h0M300 115.2h0M300.7 111.3h0M312.9 117.4h0M299.2 120.5h0M311.4 106.4h0M329 115.9h0M308.1 115.5h0M302.9 106.9h0M301.2 100.7h0M313.4 136.5h0M304.2 106.9h0M306 122.8h0M297.9 129.3h0M287.1 112h0M296.8 127.1h0M298.8 111.4h0M303.8 125.3h0M313 94h0M303.6 108h0M298.1 112.9h0M288.9 115h0M285.1 126.9h0M300.9 112.2h0M320.4 120.3h0M309.3 112.3h0M307.9 125.1h0M290.9 110.8h0M294.1 120.9h0M281 110.1h0M294.2 101.1h0M308.1 114.3h0M293.8 103.1h0M310.1 121.7h0M302.5 118.4h0M288.6 109.8h0M292.2 119.9h0M286.8 112h0M306.4 109.2h0M297.7 117h0M305 124.1h0M285 121.4h0M297.7 127.3h0M300 109.4h0M291.8 108.8h0M309.8 102.9h0M305.3 114.7h0M285.7 105.4h0M299.8 119.3h0M316.7 121.3h0M299.3 112.2h0M298.3 104.6h0M307.3 103.7h0M294.2 127.1h0M312.4 113.9h0M307.3 115.6h0M307.5 104.6h0M314.7 115.5h0M307 109.4h0M295.4 127.9h0M298.9 109.7h0M311.4 120h0M308.4 118.7h0M304.5 130.6h0M296.7 112.2h0M305.1 120.6h0M303.8 128.8h0M296.2 103.4h0M301.9 120.7h0M311.3 105.9h0M301.6 106.3h0M307 110.3h0M298.6 124.9h0M298.7 125.4h0M304.7 128.3h0M298.4 118.6h0M312.3 126h0M287.4 120.8h0M291.8 100.5h0M309.5 101.4h0M309.9 110.7h0M310.3 120.2h0M291.7 114.8h0M291.8 111.7h0M297.1 118.5h0M297.8 107.8h0M289.2 109.8h0M297.5 108.8h0M308.9 110.4h0M293.5 115.5h0M307.6 116.4h0M312.8 122.8h0M306.1 125.5h0M308.9 112.2h0M301.9 133.8h0M304 110.3h0M303.8 114.1h0M282.3 112.9h0M303.1 116.2h0M297.3 114.4h0M297.4 115.4h0M292 111.6h0M306.2 111.7h0M303.4 122.7h0M295.3 111.3h0M309.9 102h0M302.8 120.5h0M292.3 112.5h0M301.8 117.1h0M289 101.9h0M301.4 119.2h0M305.5 126.6h0M318.3 126.3h0M292.4 117.2h0M300.2 106.7h0M301.6 114.2h0M278.7 119.4h0M298.8 121.5h0M297.7 123.1h0M297.5 121.8h0M313.2 103h0M290.1 112.2h0M299.9 121.1h0M324.7 110.6h0M291.8 111h0M293.8 122.4h0M291.4 113.8h0M301.3 112.1h0M296.8 123.9h0M294.4 127.4h0M316.7 107.5h0M312.4 142.7h0M295 113.1h0M294.9 116.9h0M293.4 116.8h0M297 108h0M300 122.6h0M286.6 116.6h0M297.4 119h0M309.8 111.1h0M296.9 112h0M310.5 104.4h0M305.2 117.1h0M316.3 118.3h0M301 104.4h0M315.9 99.2h0M309.7 116.3h0M297.1 115.5h0M301.5 108.9h0M299.4 107.2h0M300.1 121.5h0M297.3 116h0M305.2 124.6h0M304.1 114.7h0M286.5 112.1h0M285.8 116.1h0M296.1 111.4h0M295.5 123.5h0M298.5 118.5h0M297.7 119.7h0M290.7 116.4h0M297.4 116.4h0M302.4 116h0M307 118h0M296.9 124.7h0M307.9 118.8h0M300.3 114.7h0M300 129h0M280.5 119h0M309.5 114.1h0M308.7 114.4h0M315.9 119.5h0M313.1 127.6h0M300.3 103.3h0M320.6 120.3h0M289 104.1h0M313.8 120.2h0M307 109.4h0M297.6 119h0M305.4 113.5h0M317.1 108.6h0M307.1 118h0M293.7 123.9h0M295.7 107.1h0M282.1 114.6h0M313.8 101h0M283.5 120.2h0M303.1 128.3h0M299.2 118.6h0M307.7 113.4h0M301 114.4h0M290.7 124.1h0M296.2 110.5h0M317.8 108.4h0M308.7 111h0M297.3 105h0M296.2 125.3h0M306.4 117.5h0M304.8 111.9h0M298 116.8h0M287.9 123.2h0M292 116.6h0M311.9 108.1h0M301.1 117.2h0M301.3 128.5h0M296.1 118.7h0M303.6 114.2h0M305.6 107.8h0M296.7 125.9h0M303.8 108.5h0M304.1 118.8h0M312.2 114.3h0M313.7 120.7h0M311.3 112.7h0M294.3 109.7h0M300.6 121.2h0M302 114.4h0M301.2 122.1h0M299.2 127.9h0M307.8 105.8h0M311.7 124h0M303 123.6h0M315.8 133.7h0M314.5 118.7h0M296.4 126.3h0M297.6 106.6h0M293 126.3h0M296.8 115h0M315 118.3h0M321 122.2h0M302.7 124.4h0M311.6 114.4h0M307.2 126h0M311.2 112.9h0M313.8 121.3h0M295.6 115.2h0M306.7 118.5h0M294.9 124.3h0M343.6 102h0M353.6 123.7h0M342.2 124.1h0M330.9 106.3h0M355.3 117.4h0M343.7 105.8h0M348.3 113.4h0M336.9 121.7h0M338.8 106.1h0M355.4 125.6h0M349.9 107.5h0M347.8 98.5h0M350.4 99.4h0M344.6 110.4h0M338.4 108.1h0M360.9 109.5h0M337.6 104.6h0M351.7 109.9h0M347.4 118h0M330.8 110.2h0M363.4 108.7h0M358.3 111.8h0M323.3 109.5h0M363.9 126.4h0M351.8 108.8h0M354.9 104.4h0M336.4 104.1h0M328.1 111.8h0M340.7 119.1h0M339.7 110.9h0M347 117.7h0M358.7 115.5h0M362.9 125.8h0M360.1 112.4h0M357 102.3h0M343.3 112h0M347.7 110.9h0M334.2 115.6h0M328.7 106.3h0M345.5 102.2h0M364 123h0M348.8 112h0M347.9 121.9h0M342.6 117.6h0M332.1 116h0M357 105.5h0M327.5 110.5h0M339.7 113.9h0M332.2 96h0M353 107h0M347.8 97.5h0M342.8 110.6h0M331.7 115.5h0M355.1 113.1h0M341.4 108.7h0M363.3 116.5h0M332.1 115.5h0M343.3 121h0M363.4 113.7h0M345.5 112.3h0M350.7 110.7h0M354.3 128.2h0M341.6 114.2h0M350.1 118.1h0M339.9 119.5h0M349.1 102.1h0M342.4 114.3h0M333 117.8h0M327.3 111.4h0M350.6 112.3h0M326.2 110.9h0M342.5 119.8h0M354.8 114.1h0M353.1 122.8h0M345.4 110.2h0M341.8 108.7h0M336.5 113.8h0M342.7 117.2h0M347.5 125.2h0M346.3 128.6h0M337.5 114.3h0M331.5 111.1h0M349.6 100.5h0M348.1 122.2h0M343.7 115.1h0M355.5 106.3h0M346.6 112.6h0M356.1 117.6h0M343.3 116.1h0M353.1 130.4h0M348.2 115.9h0M339.7 122.3h0M320 109.4h0M355.9 95.4h0M339.5 114.6h0M334 117.1h0M357.7 106.6h0M341.2 117.7h0M327.3 106.7h0M336.8 116.2h0M359.9 96.5h0M344.5 109.2h0M361.8 118.1h0M349.4 124.9h0M345.5 112.9h0M329.3 105.6h0M346.6 107.7h0M343.9 114.8h0M323.4 116.9h0M352.3 114.4h0M347.3 117.1h0M347 108.9h0M343.8 111.2h0M333.1 131.8h0M352.2 112.9h0M348.6 114.5h0M344.9 117.3h0M362.8 107.9h0M339.2 113h0M354.2 116.5h0M348 117.6h0M343 103.3h0M358.1 109.8h0M336.9 99.2h0M334.5 107.3h0M337.6 110.8h0M348.7 116.7h0M355.3 112.6h0M336.9 112.5h0M340.1 112.4h0M355.3 124.3h0M346.2 107.5h0M354.7 104.3h0M348.1 104.6h0M333.5 97.7h0M339.7 117.9h0M324.3 124.9h0M347.7 115h0M352.6 120.4h0M336.6 114.3h0M341.9 101.3h0M347.6 101.9h0M363.4 118.1h0M345.3 110.7h0M347 114.2h0M340.5 112.5h0M365.2 112.1h0M344 113.3h0M341.8 116h0M361.5 115h0M350.8 106.3h0M340.3 108.6h0M344.4 105.2h0M334.6 123.7h0M351 109.6h0M349.9 102.3h0M346.9 106.2h0M343.4 113.5h0M350.4 116.1h0M340.9 114.8h0M348.3 113.7h0M349.4 123.6h0M339.4 101.6h0M316.3 105.1h0M335.5 114.2h0M331.4 119.4h0M361.2 116.4h0M346.5 115.5h0M330.8 111.2h0M336.9 108.8h0M337.7 118.9h0M343.2 118.6h0M336.6 108.9h0M334.5 107.8h0M349.7 110.3h0M333.5 107h0M352.7 109.3h0M342.8 117.2h0M361.3 110.7h0M335.3 126.1h0M354.1 110.5h0M333.1 121.5h0M361.9 113.9h0M342.9 117.8h0M364.8 117h0M341.1 105.9h0M338.8 107.4h0M331.9 110.1h0M347.2 108.8h0M343.9 121.6h0M363.1 114.8h0M342.8 116.7h0M328.5 107.6h0M338.2 109.8h0M364.1 104.9h0M330.4 114.8h0M337.8 102h0M334.6 116h0M346.9 110.6h0M338.5 100.3h0M340.5 111.9h0M345.7 103.2h0M351.5 121.6h0M343.3 115h0M332.8 124.2h0M350.1 111.5h0M345.7 103.5h0M351.7 119.3h0M335.8 120.7h0M345.8 108.6h0M342.7 116.4h0M346 97.6h0M362.9 108.1h0M346.2 117.7h0M341.1 105.6h0M352.6 113.4h0M351.7 99.2h0M327.3 119.6h0M328 110.7h0M354.3 127.8h0M325.7 120.3h0M362.4 106.3h0M348.5 112h0M330.3 105.6h0M320.7 123.8h0M336.7 97.2h0M363.7 114.3h0M359.6 106.9h0M358.4 116.4h0M342.9 111.9h0M346.8 131.3h0M353.3 111.3h0M344.6 102.9h0M335.6 108.4h0M345.9 107.8h0M338.8 108.8h0M345 127.2h0M342 121.2h0M338.3 105.9h0M332.7 111.8h0M333.7 120.2h0M357.6 105h0M333.2 106.9h0M320.3 117.5h0M352.3 112.4h0M362.1 116.9h0M347.2 111.3h0M334.8 91.1h0M345.2 116.1h0M339.2 109.4h0M367.4 131.7h0M369.9 124.7h0M374.4 124.5h0M371.3 125.7h0M364 120.5h0M382.2 122.2h0M382.3 129.5h0M370.7 129.3h0M377.5 116.8h0M384.5 130.7h0M379.4 125.3h0M378.1 126.2h0M376.9 123.1h0M371.8 128.2h0M374.1 116.5h0M378.7 122.9h0M367.2 133.7h0M373 120.7h0M374.9 124.4h0M362.4 123.6h0M362.7 129.4h0M369.9 132.3h0M398.3 130.5h0M367.3 134.2h0M372.5 131.2h0M363.2 130.1h0M373 120.1h0M372.8 129.1h0M356.1 125.4h0M372 129.8h0M377.5 130.6h0M369 124.1h0M362.3 125.5h0M369.8 124h0M362 126h0M380.7 138.4h0M366.3 128.5h0M373.7 122.9h0M372 136.5h0M379.4 138.3h0M370 131.8h0M371.4 131h0M381 131.6h0M360.9 129.9h0M379.8 133h0M383.6 123h0M370.8 122.2h0M372.1 127.4h0M379.8 117.6h0M385.6 126.9h0M363.2 128.6h0M360.6 125.6h0M367.2 130.4h0M376.3 128.3h0M368.2 126.9h0M357.3 128.2h0M372.6 114.7h0M370.4 120.2h0M375.9 123h0M362.6 126.1h0M368.8 125.1h0M360.3 107.8h0M369.5 124.9h0M367.9 133.3h0M387.2 129.2h0M358 123.8h0M387.3 140.6h0M370 128.1h0M363.5 124.8h0M366.2 116.9h0M350.9 131.3h0M378.5 129.3h0M372.9 122.1h0M381.2 135.2h0M368.2 130h0M365.2 134.7h0M368.8 129h0M364.8 125.4h0M371.9 130.3h0M373.1 113.4h0M379.2 124.4h0M376.6 127.5h0M365.5 121.2h0M367.3 125.3h0M376.4 137.8h0M366.8 128.6h0M383.4 132.1h0M382.3 127.5h0M386.8 120.9h0M379.2 127.4h0M289.8 89.3h0M286.8 91.4h0M289.1 96.4h0M278.5 98.8h0M280.1 98h0M285.3 98.5h0M271.5 95.2h0M284.9 86h0M276.4 101.7h0M282.8 99.9h0M282.1 91.5h0M286.2 93.9h0M283.4 98.2h0M279.1 96.6h0M281.2 108.8h0M276.8 99h0M280.2 92.2h0M279.8 100.5h0M291.6 95.6h0M276.7 102h0M277.4 102.7h0M288.4 99h0M287.9 89.6h0M287.8 100.5h0M274.4 103h0M280.5 108.3h0M281.5 104.7h0M279.6 101.4h0M270.5 96.1h0M283.7 102.6h0M271 104.7h0M277 101.2h0M287.8 96.6h0M282.6 103.9h0M283.5 94.6h0M292.2 108.5h0M281.3 102.3h0M280.3 104.3h0M282.4 102.6h0M284.8 93.1h0M273.3 102.1h0M288.2 98.7h0M281.8 96.8h0M287.3 99.1h0M279.1 101.4h0M279 98.3h0M289.1 98h0M287.2 101.3h0M281.7 101.4h0M283.4 92.9h0M278.1 89.2h0M276.8 99.8h0M275 98.1h0M269.5 86.3h0M285 91.9h0M286.8 105.6h0M278.7 107.7h0M283.3 101.4h0M282.8 97.2h0M291.3 99.1h0M280.2 100.9h0M286.3 99.8h0M278.2 101.1h0M288.4 94.9h0M275.3 108.3h0M279.4 105h0M288.9 94.8h0M283.5 94.9h0M281.2 95h0M276.4 101h0M272.2 95.3h0M286.1 92.7h0M281.5 104.6h0M278.7 99h0M280.5 103.9h0M283 100.7h0M280.8 95.7h0M276.4 102.7h0M280.5 98.4h0M275.8 96.8h0M282.1 100.6h0M282.9 99.3h0M281.2 98h0M285.6 96.9h0M284 94.2h0M280.7 103.7h0M282.5 93.4h0M275.1 104.3h0M279.5 107.8h0M288.6 100.3h0M287 91.6h0M276.2 96.3h0M279.4 103.2h0M272.5 98.7h0M289 104h0M283.3 97.9h0M279.6 98.4h0M288.3 96.4h0M289.2 101.4h0M289 96.3h0M279.7 101.6h0M272.6 96h0M279.4 107.6h0M283.5 102.7h0M274.6 96.2h0M290.2 104.6h0M275.8 104.9h0M284.4 100.6h0M278.4 96.2h0M285.1 100.3h0M276.8 105.7h0M283.8 95.9h0M276.4 95h0M290.3 96.6h0M282.6 98.3h0M271.1 107h0M288.1 95.4h0M270.2 106h0M279.1 100.1h0M280.4 97.1h0M271.6 101.6h0M266.7 101.3h0M278.9 105.9h0M279.1 104.2h0M274.8 104.2h0M285 100h0M277.2 98.7h0M282 100h0M283.8 101.1h0M286.7 97.8h0M285 98h0M278.6 98.6h0M294.5 97.1h0M275.8 99.6h0M287.5 110.2h0M280.9 104.8h0M288.5 96.8h0M282.1 96.9h0M273.1 92h0M290.8 93.4h0M290.6 90.3h0M286.8 93.2h0M267.5 103.6h0M278.8 105.3h0M283 95.5h0M281.9 99.1h0M286.6 99.5h0M268.8 95.3h0M278.8 97.4h0M274.5 94.8h0" stroke="#008000" stroke-width="2.3" stroke-linecap="round" fill="none"/>
<path d="M362.9 117.2h0M320 126.7h0M321.5 125.1h0M341 119.9h0M330.8 99.3h0M327.3 97.7h0M354 112.5h0M325.9 110.1h0M329.6 98.4h0M296 106.6h0M340.6 126.8h0M345.7 99h0M294.4 119.9h0M323 106.1h0M304.9 118.3h0M339.3 102h0M323.8 123.4h0M364 116.4h0M334.5 110h0M361.1 124.9h0M308.7 111.2h0M359.9 124.3h0M301.1 109h0M285 111h0M350.5 128.5h0M332.2 116.8h0M330.2 119.2h0M316 122.4h0M280.8 101.3h0M295.6 99.2h0M297.4 122.6h0M358.1 117.6h0M290.8 104h0M327.1 115.4h0M354.3 123.1h0M355.7 115.4h0M330.7 121.5h0M320.1 98.6h0M326.2 101h0M353.6 123.4h0M356.4 112.7h0M303.2 108.6h0M347.5 100.1h0M324 121.9h0M282.8 106.7h0M274.8 108.7h0M309.7 122.1h0M356.9 121.5h0M336.5 121h0M310.1 98.4h0M335 98.4h0M328.6 106.5h0M294.3 101.1h0M285.5 113.7h0M307.9 112h0M323.2 105.5h0M318.5 121.8h0M310.3 120.8h0M357.2 111.3h0M310 120.9h0M311.4 113.8h0M358.7 114.8h0M355.2 115.7h0M274.2 105.9h0M344.6 102.3h0M286.1 108.9h0M324.7 123.2h0M322.3 100.6h0M332.9 119.5h0M345.7 114.7h0M299.3 115.2h0M284.1 115.9h0M349.5 97.5h0M278.8 107h0M276.8 97.8h0M286.9 115.6h0M336.3 118.5h0M335 113.2h0M330.9 115h0M293.4 111.5h0M307.2 122.9h0M277.2 94.3h0M317.6 123.5h0M330.5 95.3h0M361.5 108.9h0M340.7 109.2h0M329.7 101.8h0M352 123.6h0M323.7 118.2h0M308 115.9h0M294.9 113.2h0M347.7 109.1h0M291.6 97.9h0M353.1 114.1h0M358 114.4h0M341.3 109.8h0M353.9 102.4h0M318.3 120.1h0M339.5 126h0M343.9 121.7h0M336.7 123.9h0M298.2 112h0M340.5 103.4h0M358.8 115.9h0M322.1 98.1h0M333.7 117.8h0M361.9 118.9h0M320.4 96.1h0M334.4 117.6h0M280.3 110.8h0M317.5 108.1h0M345 124.9h0M314.3 103.5h0M277 106.1h0M290 97.2h0M278 102.7h0M280.9 102.1h0M297 112.8h0M297.6 115.4h0M355.3 111.7h0M306.1 114.4h0M336 121.8h0M325.7 114.2h0M310.7 123.9h0M341.2 126.5h0M333.6 118.1h0M341.1 125.8h0M306.5 110.4h0M330 127.2h0M337.1 113.3h0M307.4 111h0M277.3 113.7h0M276.3 98h0M340.3 96.8h0M362.5 119h0M325.9 102.7h0M327 103.9h0M357.9 120.7h0M298.3 124.3h0M345.2 120.9h0M329.5 108.2h0M282.6 114.3h0M352.2 124.8h0M303.6 116.2h0M299.4 102.5h0M294 101.4h0M321 115.1h0M334.7 96.7h0M279.5 105.8h0M349.5 103h0M309.8 101.3h0M346.1 103.8h0M321.7 111.6h0M333.3 115h0M358.4 118.7h0M351.5 119h0M317.5 124.1h0M318 102.4h0M315.3 123h0M306.8 124.8h0M301.8 117.6h0M297.5 120.9h0M295.8 115.4h0M339.6 104.7h0M337.5 108.1h0M342.3 100.8h0M331 121.6h0M339.9 120.5h0M328.9 99.7h0M336.9 97h0M289.4 108.1h0M333.1 121.8h0M358.1 124.1h0M288.6 102.7h0M349.1 108.3h0M354.2 125.2h0M338.4 97.1h0M296.4 116.3h0M289.5 114.7h0M354.8 104.9h0M325.1 97.6h0M313.9 100.2h0M291.5 103.4h0M341.5 106.5h0M273.4 101.3h0M324.5 123.1h0M333.3 100.4h0M342.9 97.3h0M350.6 120.3h0M334.8 126.3h0M306.4 106h0M295.2 104.9h0M336.7 124.5h0M319.6 113.8h0M338.4 99.2h0M343.7 115.3h0M303.9 110.7h0M334.5 112.6h0M278.2 98.1h0M308 116.8h0" stroke="#ffffff" stroke-width="1.5" stroke-linecap="round" stroke-opacity="0.9" fill="none"/>
<path d="M253 199.5h0M250.6 202.7h0M272.9 204.1h0M267.9 206.8h0M257.8 205h0M266.1 203.7h0M276.3 194.1h0M267.3 201.6h0M247.2 195h0M245.5 195.8h0M243.7 204.2h0M257.7 199.5h0M263.4 198h0M262.1 193.9h0M249.4 202.3h0M279.8 193.7h0M247.3 190.3h0M253.2 191.9h0M257.3 204h0M244.2 204.8h0M241.8 204.3h0M260 200h0M247 196.3h0M259 193h0M260.8 200.8h0M264 206.5h0M249.9 199.2h0M240.8 204.7h0M252.7 193h0M250.2 198.9h0M265.2 203.3h0M277.7 202.5h0M268.2 208.2h0M262.1 204.4h0M257.2 208h0M253.6 204.9h0M267.6 209h0M255.3 202.6h0M254.9 189.6h0M260 204.3h0M271.6 208.1h0M245.5 190.1h0M255.1 199.5h0M257.8 202.9h0M273.5 201.8h0M253.5 203h0M269.7 188.9h0M250.6 206h0M265.9 199.4h0M262.9 196h0M249 185.2h0M259.2 201.9h0M265.3 207.7h0M254.8 205.6h0M262.8 196.4h0M258.2 202.9h0M277.3 199.5h0M260.7 204.9h0M266.8 207.6h0M258.7 197h0M260 197.1h0M247 193.5h0M248.6 197h0M244.8 200h0M250.1 198.1h0M268.3 192.9h0M262.7 201.4h0M245 205h0M258.4 209.7h0M259.8 202.5h0M251.2 196.8h0M267.7 206.9h0M255.1 212.9h0M247.2 200.8h0M270.4 195.5h0M266.3 199.7h0M251.8 197.1h0M272.6 206.9h0M257.7 207.8h0M255.6 200.1h0M263.5 202.7h0M268.3 200.1h0M245.5 213.7h0M269.1 199.7h0M250.8 204.7h0M268.2 199.4h0M258.7 197.7h0M255.5 203.1h0M257 204.7h0M271.5 208.3h0M255.1 206.9h0M250.3 202.3h0M260.2 200.7h0M250.7 206.9h0M280.1 190.6h0M254.5 196h0M249.7 199h0M260.1 204.3h0M254.8 202.2h0M267 204.2h0M252.7 190.1h0M256.8 205.9h0M259.6 194.5h0M259.4 203.3h0M270.9 199.4h0M271.4 202.6h0M250.5 200.7h0M264.4 198.8h0M256.3 191.8h0M254.4 211.7h0M261.5 194.2h0M231.3 210.6h0M258.3 197.1h0M249.5 193.6h0M232.3 203.8h0M260.3 192.7h0M245.9 198.8h0M253.2 204.2h0M253.3 202.9h0M248.3 204.5h0M254.4 196.2h0M272.5 197.4h0M256.9 199.8h0M260.3 199.2h0M253.3 205.5h0M245.7 206.8h0M252.8 228.4h0M249.4 202.7h0M258.8 210.5h0M270.4 201.3h0M253.9 211.1h0M278.2 200h0M264.2 204h0M269.2 194.4h0M256.2 209.7h0M256.3 205h0M266.4 204.4h0M262.5 208.3h0M246.6 203.5h0M264.2 196.8h0M272.5 207.4h0M265.6 201.4h0M224.8 188.9h0M248.3 186.1h0M268.8 203.3h0M264 192.5h0M246.9 199.9h0M267.8 193h0M261.4 196.4h0M254.1 191.8h0M246 202.6h0M254 191.2h0M252.7 197.7h0M261.3 205.2h0M268.3 193.8h0M268.7 201.2h0M255.2 204.7h0M244.3 205.2h0M243.4 196.2h0M254.9 204.7h0M271.4 212.7h0M266 206.1h0M258.4 203.5h0M252.9 201.8h0M263.6 203.5h0M261 203.1h0M264.4 186.7h0M247.7 194.8h0M254.7 205.4h0M256.3 191.4h0M245.1 214.3h0M247.8 198.6h0M244.6 206.2h0M249.3 198.1h0M271.3 203.5h0M264.1 200.3h0M269 199h0M262.1 203h0M267.7 196.1h0M253.2 196h0M260.3 196.6h0M251.9 204.4h0M248.7 193.8h0M249.5 197.8h0M253.4 204.8h0M258.6 201.3h0M254.2 198.1h0M272.3 196.1h0M261 207.5h0M256 212h0M244.8 200.9h0M257.1 206.1h0M279.7 195.4h0M272.1 198.6h0M255.7 196h0M257 197.3h0M268.9 212.6h0M250.1 191.3h0M245.5 203.5h0M278.9 201.4h0M253.7 199.9h0M262 206.5h0M250.3 202h0M250.5 204.5h0M256.6 209.5h0M252.9 199.8h0M252.6 204h0M247 205.4h0M260.8 199.6h0M276 190.1h0M272.3 193h0M261.3 201.9h0M287.8 199h0M269.3 200.4h0M255.7 202.1h0M252.7 199h0M262 198.1h0M271.1 195.1h0M244.8 203.2h0M264.3 204.1h0M250.3 197.3h0M267.9 193.8h0M261.2 197.8h0M243.4 202.9h0M260.9 192.3h0M256.5 191.3h0M255.3 204.8h0M243.7 191.3h0M266.5 201.9h0M254.3 202.2h0M263.1 193.7h0M251.4 213.8h0M255.2 198.9h0M256.4 197.7h0M243.5 204.4h0M238.5 194.4h0M257.7 207.5h0M241 201.1h0M251.6 204.9h0M268.9 207.6h0M252.1 199.3h0M274 192.5h0M252.1 190.5h0M267.3 201.5h0M266.2 200.4h0M267.6 197.7h0M252 207h0M264 193.5h0M239.5 202.4h0M250.9 197.4h0M267.9 182.5h0M261.3 187.3h0M254.2 212.5h0M228.4 201.8h0M257 182h0M253.4 196.9h0M260.8 197.8h0M254.8 192.4h0M251.7 187h0M263.8 201.9h0M229.2 199.6h0M245.2 214.3h0M269.7 204.5h0M250 206.2h0M249.5 212.1h0M264.2 198.2h0M239 206.8h0M251.7 208.1h0M272.7 200.8h0M265.6 200.9h0M265.3 204.1h0M255.3 208.3h0M266 208.3h0M245.8 197h0M259.7 210.5h0M245.5 193.3h0M257.6 190.7h0M272.3 199.5h0M284.5 202.9h0M253.4 198h0M255.8 196.5h0M259.7 210.4h0M266 197.1h0M244.6 207.2h0M241.8 208.1h0M243.5 204.2h0M269.8 209h0M256 197h0M237.2 188.1h0M276.5 199.3h0M255.7 195.6h0M251.9 205h0M271.5 199.5h0M256.5 200.4h0M248.3 198.9h0M253.9 203.9h0M252.8 199.9h0M256.9 194.6h0M261.8 204.6h0M236.7 193.4h0M241.2 200.5h0M257.6 187.5h0M261.3 193.8h0M267.5 200.9h0M261.8 199.4h0M267.1 201h0M266.7 203.1h0M263.2 206.4h0M262.2 186.1h0M263.5 201.4h0M246.6 198.8h0M247.2 204.2h0M277.2 191.1h0M279.5 199.7h0M246.9 211.5h0M246.2 199.3h0M258.3 196.2h0M272.6 200.6h0M251.8 198.9h0M262.7 208.7h0M252.8 197.5h0M269.1 208.2h0M257.7 196.2h0M261.8 199.2h0M260.8 197.1h0M257.7 200.6h0M262.3 203.5h0M259.1 210.1h0M267.2 199.5h0M252.8 199.7h0M257.5 188.7h0M265.3 199.5h0M263.3 198.7h0M254.8 209.3h0M254.4 194.8h0M269.5 199.2h0M279.3 204.9h0M255.2 206.2h0M246 188.4h0M264.4 200.3h0M253 205h0M254 214.2h0M258.2 202.6h0M255.5 204.2h0M268.3 206.3h0M266.3 203h0M265.4 199.9h0M259.3 200.3h0M257.9 198.8h0M267.6 195.5h0M266 197h0M251.8 214.4h0M263.2 205.8h0M269.3 192.4h0M258.7 201.6h0M269 198.3h0M244.4 210.5h0M267.9 195.1h0M269 203.1h0M261.1 201.7h0M279 204.9h0M260.8 187.5h0M263 205.8h0M257.5 197.8h0M249.5 206.7h0M261.3 204.8h0M256.8 207.8h0M253.6 199.3h0M262.8 201.3h0M253.9 202.5h0M263.8 200.4h0M254 209.8h0M264.6 196.1h0M268.4 201.7h0M246.4 210.4h0M257.3 204.9h0M238.3 194.4h0M255.4 219.7h0M264.4 208h0M267.4 192.7h0M266 202.8h0M264.2 195.2h0M262.2 203.8h0M249.6 187h0M268.4 201.5h0M269.8 192.8h0M264.7 201.1h0M253.8 189h0M256.2 202.6h0M250.6 198.7h0M267.9 201.6h0M251.6 195.8h0M266.1 199.5h0M247.6 202.2h0M244.4 211.1h0M252.6 192h0M255.8 191.6h0M256.4 209.8h0M253.3 204.4h0M252.1 211h0M247.6 191.2h0M268.7 199.7h0M253.9 198.6h0M253.8 193.8h0M260.7 205.7h0M250.4 194.4h0M267.6 198.7h0M256.8 205.8h0M245.5 205.1h0M260.6 205.2h0M260.6 197.9h0M260.5 199.9h0M257.8 194.7h0M264 201.3h0M255.9 205.8h0M256.4 205.4h0M271.6 202.7h0M256.5 202.9h0M254.1 193.3h0M244.1 202.5h0M262.5 197.3h0M258.7 191.9h0M262.7 199.2h0M244.6 202.6h0M261.1 188.6h0M257.7 199.7h0M264.2 211.3h0M265.1 186.8h0M267 197.9h0M261.2 200.2h0M258.3 189.9h0M269.2 215.1h0M268.3 201.5h0M265.1 204.7h0M254.8 211.3h0M258.8 205.5h0M255.4 199.6h0M261.1 210h0M278.8 205.1h0M279.4 197.6h0M258.6 212.4h0M244.3 205.6h0M255.8 207.3h0M261.5 217.4h0M259.3 196h0M251.2 193h0M254.1 210.2h0M266.3 203.2h0M266.9 196.8h0M262.1 205.6h0M257.5 194.9h0M261 205.6h0M265 212.4h0M256.4 205.2h0M262.8 200h0M250.1 200.8h0M256.2 205.9h0M250.7 195.6h0M250.8 216h0M250.9 199.6h0M234.2 193.8h0M266.5 192.7h0M246.1 203.4h0M269.8 212.3h0M260.3 199.5h0M258.3 193.5h0M272 206.4h0M260.4 207.4h0M258.2 201.5h0M260.9 190.4h0M262.8 202.7h0M244 209.4h0M265.4 200.1h0M246.1 212.9h0M263.2 202.2h0M256.8 189.2h0M260.4 207.4h0M240.6 208h0M263.1 202.7h0M259 204.3h0M253.2 207.2h0M253.9 198.5h0M272.1 200.1h0M245 191.8h0M262.7 202.6h0M255.9 207.7h0M277.9 193.1h0M258.6 199.7h0M248.5 196.1h0M252.2 200.6h0M248.3 204.5h0M253.4 196.1h0M258 212.5h0M256.1 194.1h0M250.2 211.6h0M279.9 202.1h0M261.1 208.1h0M274.3 213.4h0M263.8 187.9h0M245.6 198h0M264.5 202.8h0M260.3 186.7h0M257.3 203.6h0M253.9 195.2h0M255.2 204.7h0M263.1 211.4h0M259 204.3h0M256 205.7h0M257.9 208.6h0M251.6 204.4h0M254.5 194.7h0M256.3 200.3h0M249.2 200.8h0M267.4 198.6h0M256.5 205.1h0M220.3 196.5h0M258.8 194.3h0M248 201.3h0M257.6 209.6h0M261.6 202.7h0M262.4 191.4h0M269.3 199.7h0M274 196.5h0M240.1 195.3h0M265.6 202.5h0M249.6 196.5h0M263.5 193h0M268 198.1h0M272.2 198.6h0M278.6 208.3h0M257.5 198.1h0M265.4 203.4h0M267.9 209h0M264.9 186.1h0M260.3 198.7h0M266.7 186.1h0M268.1 205.4h0M271.1 207.1h0M257.8 210.4h0M256.6 194.8h0M255 210.4h0M257.3 204.7h0M253.5 194.2h0M240.1 202.2h0M256.4 188.6h0M261 210.4h0M264.1 194.2h0M260.1 205.2h0M273.8 195.3h0M254.2 189.5h0M251.7 205.1h0M264.8 205.7h0M267.6 204.9h0M262.6 207.1h0M255.3 205.5h0M265.7 208.7h0M266.6 195.6h0M251.8 195.5h0M261.6 197.7h0M280.3 200h0M260.2 191.7h0M260.5 204.8h0M245.2 200.3h0M262.2 196.6h0M259.5 203.9h0M261.2 202.5h0M266.8 204.9h0M256 215.3h0M259.4 200.1h0M266.4 194.8h0M257.9 202.9h0M255.6 197.1h0M262.3 209.5h0M247.3 206.7h0M255.1 199.1h0M269.8 203.3h0M260.6 202.3h0M252.4 198h0M253.7 202.4h0M268.7 195.5h0M268.2 197.9h0M272 196.5h0M254.8 190.6h0M247.8 203.5h0M250.2 198.2h0M262.8 196h0M247.7 198h0M255.9 190.9h0M259 195.6h0M267.3 185.5h0M256.5 186.1h0M245.4 181.6h0M258.3 181.6h0M249.4 183.2h0M267.1 178.2h0M265 169.3h0M254.3 193h0M256.8 185.8h0M260 186h0M259.8 182h0M253 186.1h0M264.5 185.4h0M265.3 181.7h0M264.7 177.6h0M268.8 186.1h0M274.2 183.6h0M257.7 179.1h0M260.8 171.3h0M257.7 177.8h0M253.4 183.5h0M267.3 181.1h0M260 176.9h0M260.8 179.3h0M262.2 185.8h0M255 183h0M262.5 176.6h0M268.9 178.5h0M268.3 185.7h0M263 186.4h0M259.2 181.5h0M248.4 189.9h0M255.8 185.3h0M263.8 191.4h0M264.1 184.3h0M241.9 191.5h0M269.2 178h0M267.2 176.9h0M254.6 178.8h0M259.8 181h0M263.8 182.1h0M258.9 190.9h0M253.5 175.9h0M261 184.8h0M263.6 177.7h0M251 178h0M241.3 195.4h0M257.9 184.1h0M284.7 180.9h0M265.1 177.1h0M263.2 176.2h0M266.4 186.7h0M260.3 177.2h0M260.3 192.4h0M272.3 181.8h0M271.4 178.1h0M251 238.3h0M259 244.8h0M255.7 237.4h0M263.1 236.3h0M253.8 225.1h0M247.7 247.5h0M257.3 253h0M251.3 230.3h0M261.6 241.5h0M255.2 226.5h0M269.7 272.1h0M253.8 237.7h0M269.8 280.4h0M257.7 242.3h0M259.7 241.8h0M261.9 246.5h0M254.3 233h0M251.3 226.5h0M259.7 239h0M267.4 259.2h0M256.5 240.2h0M255.1 237.9h0M263 250.9h0M262.1 242.1h0M255.5 240.5h0M257.9 241.4h0M261.1 250.6h0M249.7 225.1h0M272.6 268.9h0M265.4 254h0M264.2 253.8h0M255.9 246.6h0M258.3 253h0M262.1 241.6h0M247.3 223.4h0M258.8 246.7h0M264.7 261.8h0M255.4 229.9h0M256 242h0M256.5 236.9h0M253.2 226.4h0M246.4 234.7h0M258.5 240.8h0M259 233.2h0M264.5 249.4h0M263 258.7h0M258.4 239.5h0M261.5 244.9h0M260.3 243.7h0M252.5 222.7h0M260.1 244.8h0M264.4 251.8h0M251.4 247.2h0M261.2 243h0M267.5 252.8h0M253.7 240.5h0M254.5 231.7h0M256.6 243.2h0M256.2 236.2h0M253.8 233.6h0M262.7 241.5h0M255 234.1h0M249.6 229h0M254.4 234.4h0M243.9 207.8h0M254.5 250.1h0M264 244.2h0M254.5 238.3h0M263.8 259h0M255.7 222.8h0M257.8 244.1h0M260 242.2h0M250.1 233.8h0M272.3 272.2h0M259.8 246.7h0M264.5 255h0M252.4 232.2h0M256.8 241h0M246.6 219.8h0M246.7 223.7h0M257.6 242.3h0M249.8 227h0M258.3 248.9h0" stroke="#ff0000" stroke-width="2.3" stroke-linecap="round" fill="none"/>
<path d="M248.3 337.3h0M209.8 284.8h0M45.8 215.3h0M130.5 240.8h0M254.9 281.1h0M221.5 212.9h0M135.7 157.6h0M230.3 360.5h0M269.6 320.7h0M88.2 80.6h0M181.6 312.4h0M217.5 315.9h0M63.9 263.1h0M108.4 140.9h0M77.9 272h0M101 273.4h0M56.9 296.2h0M219.8 343.8h0M261.9 292.3h0M190.2 345.3h0M64 296.4h0M120.3 160.4h0M181.9 298.4h0M131.1 210.7h0M238.9 293.6h0M88.4 307.4h0M208.9 347h0M112.3 236.5h0M242.9 339.9h0M124.5 333.5h0M105.6 273.4h0M103.5 88.8h0M166.7 319.6h0M150.7 127.2h0M254.4 258.4h0M237.6 305.3h0M215.2 385.6h0M46 246.2h0M81 267.3h0M139.3 115.5h0M196 258.5h0M93 139.6h0M101.1 247.5h0M191.7 267.7h0M263.5 342.8h0M192.5 328.3h0M140.6 49h0M170.7 286.6h0M232.2 320.5h0M160.7 231.1h0M36.6 188.5h0M169 147.6h0M82 215.9h0M216.5 124.8h0M153.4 126.2h0M108.8 239.5h0M212.1 294.5h0M171.9 155.7h0M228.7 190.1h0M142.2 270.7h0M71 256.3h0M185.5 94.6h0M119 96.6h0M179 286h0M67.1 74h0M248.1 247.9h0M142.4 68.8h0M170.4 365.1h0M221.4 267.8h0M196.2 323.2h0M154.7 327.7h0M111.4 201.5h0M80.7 282.1h0M147.4 322.5h0M122.9 333.3h0M208.8 265.5h0M274 341.4h0M85.7 241.9h0M188.5 249.6h0M302.7 313.7h0M213.2 364.5h0M230.3 376.9h0M117.3 325.6h0M135.7 348.9h0M227.8 138.5h0M141.5 147.7h0M89.4 200.2h0M130.2 265h0M172.3 157h0M82.7 280.2h0M209.2 295.3h0M278 329.1h0M176.5 305.8h0M146.8 209.8h0M140.4 88.3h0M117.8 214h0M295.9 303.6h0M130.3 311.2h0M61.4 225.7h0M104.5 265.6h0M288 308.4h0M245.4 309h0M189.1 298.7h0M108 263.4h0M315.1 297.7h0M204.8 75h0M144.4 256.4h0M201.1 315.4h0M230 140.3h0M222.9 303.4h0M265 344.5h0M127.5 227.2h0M165.1 162.7h0M220.2 347.7h0M79.1 292.4h0M292 310.6h0M68.4 278.9h0M71 274.3h0M101.3 206.5h0M259.4 306h0M217 93.4h0M189.6 54h0M154.2 77.8h0M148.2 62h0M188.2 62.3h0M163.5 96.1h0M139.5 85h0M156.9 126.2h0M110 85.1h0M184.1 56.9h0M117.1 75.2h0M135.8 98.6h0M185.9 94.8h0M160.8 99.2h0M162.5 55.8h0M250.9 345.2h0M248.9 340.4h0M257.2 342.1h0M237.7 347.9h0M249.6 343.3h0M240.8 342h0M262.9 350.8h0M249.6 339.2h0M251.3 339.9h0M255.5 342.8h0M228 346.2h0M251.8 339.7h0M255 345.5h0M241.2 343.3h0M261.7 339.1h0M244.4 342h0M236.9 346.1h0M236.8 337.2h0M233.3 337.7h0M242.5 344.2h0M247.3 341.4h0M244.4 341.7h0M250.5 338.2h0M256.2 345h0M243.8 345.3h0M263.3 341.1h0M243.8 345.2h0M239.3 341.6h0M234.3 343h0M234.4 338.9h0M244.2 346.7h0M252 349.1h0M257.9 340.3h0M256.8 341.3h0M249 334.7h0M259.9 343.8h0M258 344.8h0M242.3 345.2h0M239.7 341.8h0M250.5 340.5h0M261.9 342.7h0M244.6 332h0M250.5 335.8h0M253.8 344h0M253.1 332.7h0M249.7 335.5h0M241.2 341.4h0M242.7 343.2h0M248.6 342.5h0M234.5 342.3h0M252.2 343.5h0M249.9 342.2h0M243.1 344.6h0M254.7 339h0M258.5 344.4h0M255.1 342h0M249.5 345.3h0M249.7 340.2h0M243.4 342.7h0M236.6 343h0M244 346.8h0M248.5 339.8h0M233.4 341.4h0M249 341h0M260 344.3h0M249.4 348.1h0M252.4 341.4h0M256.5 343.2h0M242.4 340.2h0M251.8 344.2h0M297.8 329.5h0M291.4 320.1h0M290.5 326.6h0M293.7 328.5h0M299.9 323.2h0M287.4 318.4h0M292.3 327h0M290.5 326.6h0M292.3 323.2h0M289.8 326.3h0M285.4 328.4h0M290.5 322.5h0M286.1 327.2h0M292.2 326h0M289.3 323.7h0M297.1 325.1h0M282.3 324h0M300.1 324.4h0M291.2 324.4h0M291.5 328.2h0M293.5 329.3h0M295 315.8h0M290.1 320.4h0M291.9 329.3h0M291.7 320.7h0M288.2 322.5h0M287.7 324h0M282.6 326.3h0M282.8 319.3h0M290.9 326.9h0M194.2 336.6h0M177.7 336h0M184.1 338.1h0M181.5 337h0M179.5 338.3h0M167.6 338.2h0M193.8 338.3h0M185.1 339.5h0M176.3 342.8h0M176.2 329.1h0M180.6 338.2h0M181.4 334h0M182.2 337.7h0M178.1 338.5h0M178.6 336.2h0M182.7 337.3h0M186.8 333.8h0M181.2 336h0M119.6 340.5h0M126.8 341.7h0M114.4 336.1h0M109.7 339.5h0M116.9 340h0M119.3 338.7h0M117.9 341.3h0M108.3 340.5h0M114.1 340.6h0M113.1 340.6h0M243.6 316.9h0M245 314.8h0M272.2 314.8h0M236.9 314.8h0M252.3 316.6h0M254.4 315.7h0M257.4 315.1h0M264.2 317.5h0M243 320.3h0M230.3 310.1h0M237.7 311.2h0M253.9 317.9h0M250.5 314.7h0M251.2 312.7h0M241.3 315.1h0M310.9 342.9h0M314.7 339.6h0M318.9 341.2h0M312.6 338.1h0M314.8 341.7h0M310.8 341.9h0M312.8 340.3h0M316.3 342.8h0M315.5 342.4h0M307.4 342.2h0M307.3 342.3h0M312.1 338.7h0M310.3 344.3h0M320 344.6h0M303.7 343.4h0M308.8 341.3h0M311.7 338.2h0M307.5 343h0M311 341h0M305 341.1h0M283.8 266.6h0M285.5 258.9h0M284.3 266.2h0M287.6 252.8h0M284.5 256.6h0M281.9 259.5h0M286.5 249.7h0M286 253.9h0M282.5 259.6h0M285.3 257.2h0M286.5 272.2h0M287.6 265.2h0M289.5 268.9h0M286.5 261.9h0M286.9 254.2h0M282.4 252.8h0M283.8 259.3h0M288.7 275.9h0M282.4 258.2h0M287.7 260.7h0M287.2 247.3h0M286.7 249h0M285.2 263.9h0M287.5 261.5h0M287.2 262.4h0M287.3 254.4h0M288.5 245.2h0M282.9 264.8h0M284 259.3h0M288 252.3h0M281.2 251.1h0M283.8 269h0M291.5 261.7h0M291.8 256.5h0M283.9 251.8h0M225.9 346.4h0M233.7 344.8h0M235 344.1h0M226.7 344.9h0M225.9 345.5h0M241 344.3h0M221.8 345.3h0M235.7 342.5h0M236.1 344.7h0M237.3 343.1h0M232.4 345h0M227.2 347.9h0M233.5 342.9h0M220.3 347.6h0M223.1 344.4h0M419.7 115h0M413.8 100.5h0M425.3 152h0M404.2 130.4h0M433.9 184.4h0M419.6 195.8h0M415.7 115h0M381.2 105.3h0M391 92.3h0M400 95.8h0M424.6 161.9h0M389.7 96.9h0M376.9 101.5h0M435.7 138.7h0M426.5 195.2h0M389.7 101.2h0M401.6 168.1h0M411 136.6h0M416.4 122.5h0M405.7 172.2h0M416.3 128.4h0M408.2 114.5h0M425.6 182.6h0M405.8 149.3h0M381.1 130.8h0M408.3 107.3h0M377 86.3h0M387.1 95.7h0M405.2 108.7h0M439.1 181.7h0M410.3 160.3h0M380.5 110.5h0M401.7 102.3h0M425.6 184.8h0M401.5 184.5h0M407.3 94h0M434.2 134.1h0M424.3 172.9h0M389 113.5h0M388.1 153.5h0M386.8 94.6h0M434.7 128h0M433 127.5h0M410.6 136.1h0M409.9 181.6h0M408 196.1h0M422.1 160.1h0M401.4 164.4h0M420.5 181.7h0M402.5 99.4h0" stroke="#90ee90" stroke-width="2.0" stroke-linecap="square" fill="none"/>
<path d="M126.6 151.3h0M98.7 211.6h0M201.6 353.6h0M272.7 320.1h0M72 291.2h0M182.8 216.9h0M203 361.1h0M163.5 292.6h0M302 287.1h0M139.2 176h0M137.4 309.3h0M277.9 358h0M197.8 360.4h0M271.7 320.4h0M101.7 314.7h0M150.1 314.8h0M162.9 240.3h0M64.1 197.7h0M129.1 37.1h0M224.3 248.1h0M303.5 287.6h0M134.6 340.3h0M147.1 354h0M140.8 277.1h0M207.5 342.5h0M180.2 269.9h0M158.6 331.8h0M304.9 300.8h0M25.6 232.7h0M222.8 209.3h0M311.5 296.6h0M179 254h0M136.2 246.5h0M118.4 279.9h0M205 225h0M103.7 87.8h0M194.1 119.8h0M205.7 100.7h0M168.5 60.7h0M105.8 116.5h0M214.2 41.7h0M202.3 46.5h0M182.6 59.4h0M208.1 47.9h0M237.4 131.8h0M214.9 121.4h0M213.7 111.9h0M210 88.4h0M235.5 115.2h0M216.6 45.2h0M221.4 33.3h0M204.5 96.6h0M194 47.4h0M293.1 265.1h0M293.9 268.1h0M291.5 267.5h0M287.6 267.6h0M288.9 272h0M285.5 268.4h0M286.6 268.6h0M291.8 266.9h0M290.7 265.4h0M285.3 270.2h0M288.8 264.4h0M285.1 267.4h0M242.3 290.4h0M254.4 294.6h0M250.4 288.3h0M247.4 292.4h0M251 290.9h0M251.1 289.6h0M244.1 287.9h0M253.5 293.5h0M257.5 289.7h0M244.4 292.1h0M233.2 291.6h0M246.4 308.8h0M236.6 298.8h0M252.3 307.2h0M232.8 297.3h0M247.7 295.1h0M240.8 295.1h0M253 299.6h0M256.2 299.6h0M247.3 303.1h0M261 302.7h0M241.6 300.3h0M253.3 303.8h0M252.9 305h0M252.5 303.2h0M140.4 333.1h0M78.2 298.3h0M123 325.2h0M141.5 333.9h0M115.7 328.8h0M91.1 331.4h0M126.4 326.7h0M89.2 315.4h0M42.7 316.3h0M131.1 339.2h0M47.2 336h0M81.4 331.7h0" stroke="#ffa500" stroke-width="2.0" stroke-linecap="square" fill="none"/>
<path d="M140.5 242h0M105.9 280.1h0M74.1 154h0M74 155h0M62 79.4h0M64.9 75.2h0M291 296.9h0M295.2 297.1h0M290.5 300.7h0M148.8 71.2h0M148.5 67.6h0M118.9 262.2h0M81.4 263.3h0M77.2 262.1h0M81.6 88h0M78.3 91.5h0M85.2 90h0M166.7 62.8h0M91.5 117.5h0M61.3 276.3h0M61.8 278.8h0M59.1 276.1h0M49.9 275.1h0M48.3 271.8h0M34.3 135h0M32 133.5h0M113.7 280.4h0M112.5 281h0M113.1 277h0M108.7 114.3h0M107 115.4h0M109.2 118.5h0M67.9 136.9h0M70.6 142.8h0M179 362.1h0M91.2 208.2h0M83.9 204.9h0M46.8 297.2h0M43 299.5h0M60.3 169.1h0M57.9 168.9h0M61.2 167.7h0M121.1 53.1h0M126.7 52.3h0M36.2 241.4h0M154.4 354h0M154.8 352.2h0M148.6 356.4h0M64.2 216.7h0M155.6 24h0M157.9 23h0M155.6 29.7h0M85.7 185.2h0M143.7 261.2h0M128.4 268.9h0M42.8 188.1h0M54.2 199.5h0M99.6 127.6h0M99.2 127.3h0M201.5 95.7h0M145.8 142.9h0M140.4 144.9h0M142.6 138.1h0M88.1 75.7h0M88.2 77.7h0M86.6 75.3h0M111.9 251.8h0M110.9 251.4h0M116.6 251.4h0M106.1 244.8h0M107.6 180.1h0M107 179.6h0M124.7 44.1h0M124.5 45.7h0M33.2 253.3h0M135.5 88.8h0M133.2 90.7h0M48.6 256.2h0M196.5 123.5h0M93.6 186.9h0M95.6 184.5h0M89.3 184.7h0M96.8 186.3h0M216.1 173h0M101.9 262.9h0M103.1 261.8h0M83 119.9h0M82.6 113.2h0M204.7 148.5h0M73.1 74.4h0M69.9 72.1h0M96.3 170.9h0M67.4 171.3h0M66.4 173.4h0M74.6 176.8h0M74.5 178.8h0M211 371.9h0M215.8 375.6h0M38.1 213.8h0M39.2 212.3h0M72 142.4h0M73.2 138.6h0M70.1 144.8h0M39.6 284.3h0M36.8 280.3h0M116.3 172.5h0M159.7 39.3h0M73 148.9h0M59.9 112.2h0M58.6 111.7h0M58 113.6h0M60.4 114h0M108.1 171h0M111.4 99.4h0M102.2 178.9h0M98 176.9h0M102.9 177.4h0M161.2 77.8h0M50.9 164.7h0M79.2 90.4h0M82 90h0M76.5 94.2h0M51 273.2h0M52.4 270.4h0M185.4 19.1h0M184.7 19.5h0M51.9 268.9h0M57 267.7h0M49.1 267.8h0M52.3 268.4h0M154.8 281.6h0M152.9 278.6h0M65.1 133.9h0M64.8 128.8h0M66.1 133.1h0M40.6 163.9h0M41.3 165.6h0M42.1 165.2h0M102.9 142.8h0M72.4 187.6h0M74.3 186.6h0M73.6 189.5h0M112.8 318.8h0M116.4 315.1h0M111.2 320.4h0M148.5 61.2h0M80.7 225.8h0M70.9 215.8h0M71.7 214.7h0M82.4 263.6h0M81.5 262.2h0M132.7 168.4h0M190.1 177.2h0M192 177.9h0M120.4 66.6h0M123.2 63.9h0M185.5 129.8h0M185.4 130.8h0M126.2 86.8h0M123.9 87.8h0M128.5 90.3h0M55.7 281.1h0M89.6 128.9h0M89.6 129.6h0M88.6 129.6h0M87.1 131h0M185 278.5h0M99.4 87.4h0M101 88.1h0M99.5 83.6h0M100.5 86.3h0M135 207.3h0M140.5 206.7h0M57.2 149.5h0M57.8 153.4h0M54.3 153.1h0M78.2 198.6h0M109.7 91.8h0M94.1 127.5h0M92.4 134.4h0M88.1 121.4h0M97.4 129.6h0M52.9 145.5h0M53.8 143.7h0M119.3 57.5h0M120.5 51.5h0M135.8 79.4h0M52.5 202h0M49 198h0M106.8 257.7h0M103.9 256.7h0M123.5 119.8h0M125.8 122.8h0M119.6 124.9h0M184.3 239h0M184.6 236.7h0M186 238.9h0M34.5 120.8h0M34.9 119.6h0M42.4 147h0M41.6 149.6h0M45.6 149h0M96.9 114.4h0M120.5 169.7h0M87.4 145.3h0M86.9 143.6h0M82.1 143.3h0M131.8 186.7h0M130.5 191.5h0M92.8 279.5h0M64.8 258.1h0M85.7 291.5h0M86.8 106.5h0M88.3 106.4h0M111.9 148.7h0M111.6 141.2h0M52.4 161.7h0M97 205.6h0M93.6 205.3h0M102.5 271h0M98.3 270.7h0M106.7 271.7h0M104.9 268.5h0M82.5 71.1h0M76.9 72.6h0M25.7 237.7h0M24.6 231.6h0M27 239.9h0M73.9 255.3h0M74.6 259.6h0M83 203.3h0M82.3 200.1h0M85.9 204.1h0M58.6 146.5h0M86.9 234.3h0M85 236.1h0M124.2 58.3h0M123.6 56.3h0M127 61.5h0M124.9 55h0M121.5 58.1h0M100.4 187.1h0M102.8 184.9h0M51.6 238.1h0M50.2 241.7h0M70.1 255.2h0M86 184.7h0M167.1 212.7h0M69.1 187.9h0M232.2 271.3h0M230 270.6h0M47.1 170.2h0M47.3 168.4h0M52.5 117.6h0M51.7 117h0M50.4 116h0M205.2 107.2h0M210.6 111.1h0M124.2 111.7h0M122.1 110.6h0M171 116.3h0M174.6 108.6h0M121.1 125.3h0M164.6 52.9h0M160.6 58h0M165.9 50.1h0M127.6 74.6h0M129 76.7h0M129.3 76.9h0M122.1 45.3h0M198.5 43.7h0M205.4 43h0M139.9 94.4h0M138.1 96h0M143 94.4h0M191.7 29.3h0M130.1 75.6h0M181.4 24.7h0M178.2 23.3h0M183.5 24.7h0M178.1 27.9h0M102 64.3h0M138 71.9h0M221.1 70.4h0M218 121.8h0M135 50.7h0M136.2 53.3h0M149.7 33.3h0M146.1 35.2h0M157.3 32h0M144.5 107.9h0M134.8 101.3h0M134 102h0M135.6 95.2h0M183.1 109.3h0M125.7 120.8h0M120.5 124.4h0M130 121.6h0M123.4 120.3h0M121.9 44h0M126.2 43.8h0M123 42.1h0M117.5 42.3h0M213 71.8h0M214 69.3h0M210.9 69.3h0M212.7 69.8h0M207.4 105.2h0M205.8 104.7h0M209.5 106.3h0M199.3 107.7h0M197.5 103.5h0M105.3 54.4h0M106.7 54.7h0M136.8 126.5h0M135.3 130.5h0M187.3 56.3h0M187.9 55.6h0M185.8 56.1h0M192.8 55.2h0M105.1 104.9h0M151 32h0M152.7 28.5h0M119.5 112.8h0M116.6 112.1h0M117.5 110.7h0M120 120.4h0M114.2 109.2h0M118.2 114.3h0M156.8 43.1h0M157.4 47h0M219.1 110.9h0M226.2 115.4h0M220 105h0M217.4 112.8h0M216.8 115.5h0M197.5 78.1h0M238.6 118.7h0M220.3 107.8h0M227.1 151.1h0M237.5 136.9h0M224.9 142.5h0M191 52.3h0M218.7 43.2h0M205.8 88.7h0M227.9 62.1h0M242.3 116h0M216.7 37.2h0M231 86.6h0M229.9 145.6h0M241.9 103.1h0M212.1 112.4h0M232.5 129.8h0M220.1 137.5h0M226.3 145.2h0M237.9 105.5h0M209 53.4h0M212.3 61.2h0M219.3 64.5h0M233.3 142.5h0M222.2 38h0M216.9 167.2h0M212 168.7h0M225.1 151.2h0M212.2 140.3h0M209.4 170.8h0M205.3 170.3h0M208.3 125.7h0M208.5 168.6h0M206.6 158.8h0M209.8 159.5h0M203.4 128.4h0M212.3 158.6h0M206.6 149.3h0M207.2 125.9h0M207.1 149.8h0M204.6 136.5h0M206.9 135.7h0M206.7 142.2h0M216.3 165.1h0M208.9 153.4h0M207 142.1h0M215.2 144.4h0M211.6 133.1h0M221.4 135.8h0M209 131.2h0M165.9 29.5h0M147.8 18.9h0M164.9 23.6h0M162.9 33.1h0M157.7 21h0M161.9 20.4h0M152.8 29.4h0M143 30.2h0M160.4 25.4h0M153.9 31.6h0M164.5 19.2h0M155.2 35.6h0M220.9 388.7h0M227.5 392.3h0M225.5 389h0M221.4 392.1h0M217.7 393.1h0M225.3 394.6h0M222.8 395.4h0M226 389.6h0M217.4 391.4h0M217.2 393.6h0M197.9 366h0M202.4 366.3h0M207.7 371.7h0M202.2 380.3h0M209 364.1h0M196.1 384.5h0M194.1 357.9h0M193.6 369.8h0M190.3 376.1h0M210.9 368.4h0M200.8 362.1h0M218.8 369.8h0M43.1 99.2h0M21.4 146.3h0M48.9 97.5h0M53.4 186.5h0M44.8 137.4h0M34.9 147.5h0M50.7 164.2h0M39.4 155.7h0M34 179h0M31.5 103.3h0M45.8 139.6h0M57.4 126.9h0M69.5 120.4h0M50.9 113h0M54.7 100.5h0M69.5 130.7h0M37.8 113.3h0M46.5 119.3h0M84.5 87.1h0M32.2 112.6h0M59.1 99.5h0M56.3 102.7h0M56.1 103.8h0M67.2 124.5h0M63 117.3h0M58.3 80.5h0M63.7 89.4h0M344.2 281.6h0M306.9 257h0M398.5 166.5h0M378.8 199.5h0M361 208.5h0M350.7 278.5h0M395.8 145.4h0M291 141.8h0M341.7 219.1h0M290.1 145.1h0M361.8 275h0M347.2 238.5h0M357.9 257.4h0M382.5 211.5h0M368.7 145.9h0M393.6 168.8h0M298.7 268.1h0M338.8 146h0M380.8 209h0M356 157.7h0M381.9 184.2h0M373.1 145.6h0M262.4 212.8h0M393.9 171.9h0M377.9 217.1h0M271.7 242.4h0M394.4 173.1h0M362.7 257.2h0M332.9 160.4h0M384.9 188.2h0M379.6 236.6h0M258.6 198.6h0M395.2 191.8h0M334 215.9h0M350.5 190.4h0M402.2 188.2h0M379.8 228.1h0M328.9 273.8h0M397.1 185h0M271.2 220.5h0M328.6 173.8h0M377.5 203.5h0M383.2 210h0M316.7 220.6h0M399.4 158.2h0M346.9 269.3h0M327.2 197.9h0M405.9 166.9h0M371.8 155.4h0M345.2 175.9h0M335.8 152.6h0M330 250.3h0M380.6 198.3h0M324.4 259h0M410.6 164.8h0M345.9 190.1h0M349.6 259h0M373 247.9h0M292.1 219.7h0M348 279.3h0" stroke="#008000" stroke-width="2.0" stroke-linecap="square" fill="none"/>
<path d="M202.1 382.6h0M114.9 259.2h0M114.5 259h0M114.5 257.8h0M214.1 333.3h0M218.8 337.6h0M216.8 331h0M279.6 363.2h0M80.2 252.9h0M161.2 193.9h0M274.1 322.2h0M281.2 322.5h0M271.8 319.2h0M47.6 222.8h0M52.1 222.2h0M51.2 220.3h0M51.3 223.9h0M195.9 164.8h0M95.1 191.6h0M92.7 193.8h0M97.2 189.8h0M96.2 192h0M152 148.5h0M154.9 150.9h0M121.7 118.5h0M117.7 117.6h0M121.3 115.2h0M168.1 357.3h0M165.6 358.6h0M168.8 356.4h0M184 48.3h0M177.5 46.7h0M246.5 354.6h0M192.3 168h0M192.6 167.7h0M231.3 174.9h0M229.6 174.1h0M52.9 221.5h0M56.2 223.6h0M91 245.6h0M80.9 301.8h0M81.5 298.9h0M44.6 230.7h0M190.7 77.1h0M186.9 75h0M188.7 81h0M189.5 72.6h0M285.1 356.5h0M129.8 334.7h0M129 333.4h0M123.3 338.5h0M155.1 359.2h0M151.8 354.4h0M158.2 355.2h0M153.8 361.7h0M195.3 371.8h0M199.8 368.6h0M224.3 223.4h0M96.8 147.2h0M72.3 269h0M74.8 272.6h0M125 284.8h0M120.2 284.9h0M128.5 284.5h0M216.4 367.7h0M116.8 324.6h0M164.8 321h0M168 321.3h0M296.9 326.8h0M297.6 330.7h0M183 312h0M180.2 306h0M213.7 178.4h0M213.7 177.1h0M209.7 180.4h0M188.8 180.2h0M189 179.9h0M244.3 294h0M101.6 86.5h0M102.2 81.5h0M191.1 291.3h0M189 219.5h0M188.4 220.8h0M76.7 178.4h0M128.3 261.8h0M123.8 256.2h0M128.8 264h0M241.8 362.3h0M231.9 372.9h0M231.5 372.4h0M230.1 372.1h0M182.6 226.5h0M234.3 161.4h0M230.8 154.9h0M238.2 161.1h0M258.9 315.7h0M260.3 319.7h0M121.4 107.3h0M207.2 323.7h0M211.5 46.9h0M121.3 341.7h0M118.9 340.2h0M120.7 339.8h0M140.3 150.9h0M301.6 321.2h0M147.4 137h0M146.4 133.6h0M200.6 284.4h0M222.5 146.5h0M131.2 302.1h0M133.3 302.4h0M158 58h0M73 244.8h0M294 332.2h0M196.9 328.3h0M140.2 254.7h0M185 204.4h0M182.7 203.3h0M185.9 201.7h0M95.6 155.6h0M186.2 295.7h0M182.7 298.4h0M175.3 41.5h0M172.3 39.6h0M173.2 39.2h0M135.5 205.2h0M131.2 208.5h0M131.7 203.7h0M202.3 195.8h0M203.9 196.8h0M200.1 194.9h0M192.9 299.5h0M191.9 272.2h0M192.3 271.3h0M299.7 294.6h0M99.8 155.7h0M292.6 333.6h0M287.4 332.7h0M161.3 354.4h0M166.8 348h0M162.8 356.3h0M163.5 351.2h0M186.6 198.9h0M53.2 280.6h0M246.7 269h0M244.6 266.4h0M245.6 266.1h0M245.2 268.2h0M249.2 261.1h0M242.2 264.7h0M97.2 198.5h0M94.3 195.6h0M98.6 194.5h0M95.3 202.5h0M190.8 376.2h0M186.2 380.5h0M182.8 374.1h0M156.1 192.5h0M185.2 66.1h0M187.4 66.9h0M183.5 68.8h0M90.5 280.9h0M95.9 280.7h0M190.4 60.8h0M184.3 62.4h0M165.2 212.3h0M160.7 213.8h0M190.4 59.3h0M179.7 67.3h0M180.1 67.5h0M203.9 39.3h0M199.8 37.5h0M186.4 90.8h0M188.9 91.6h0M204.9 115.3h0M205.5 114.4h0M114 120.4h0M198.9 60.5h0M119.8 129h0M119.5 126.5h0M195.4 97.7h0M198.9 90.3h0M199.4 111.4h0M170.8 121h0M173.8 119.2h0M171.3 119.5h0M213.5 81.7h0M216.2 80.1h0M215 85h0M150.3 54h0M149.8 50.1h0M187.6 47.8h0M187 54.3h0M190.1 89h0M190.2 91.6h0M222.4 101.8h0M230.6 100.1h0M182 27h0M180.2 23.6h0M217 59.2h0M215.6 59.2h0M216.8 61.5h0M214.7 58.5h0M174.5 104.8h0M178.8 101.4h0M172.3 102.8h0M209.3 97.4h0M239.4 161.2h0M246.1 156.2h0M228.8 79.1h0M247.6 138.4h0M219.8 53.2h0M224 116.9h0M248.6 165.1h0M228 63.5h0M228.9 140.1h0M234.4 130.6h0M230 95.5h0M224.2 142.9h0M218.4 128.8h0M213.8 71.9h0M229.2 111.1h0M244.2 129.9h0M227.6 77.9h0M234.2 166.7h0M207.4 110.5h0M248.6 170.2h0M232.6 78.1h0M208.8 68.5h0M235.3 129.4h0M228.9 96.2h0M224.9 133.9h0M234.7 125.1h0M238.7 90.1h0M201.6 76.5h0M236.6 140.1h0M247.1 138.6h0M241.5 120.3h0M212 61.4h0M233.9 75.6h0M241.7 169h0M234.5 105.5h0M247 163.6h0M239.2 119.1h0M221.2 91.5h0M231.7 83.4h0M214.8 95.2h0M224 88h0M218.4 94.3h0M200.3 86.1h0M231.3 79.7h0M209.7 69.2h0M224.8 81.6h0M213.9 77.5h0M211.2 90.9h0M229.3 78.4h0M245.7 82h0M227.9 77.2h0M215.3 71.8h0M246.6 85.9h0M220.7 82.4h0M221.2 74.5h0M226.1 99h0M227.3 71.4h0M219.4 69.5h0M227.5 76.5h0M233.6 87.4h0M219.3 91.9h0M214.3 71.4h0M209 82.3h0M216.8 84.5h0M222.1 91.4h0M201.3 93.3h0M220.5 88.4h0M192.4 71.1h0M220.3 88.4h0M221.3 75.2h0M215.2 87.9h0M229 78.4h0M200.2 74.6h0M211 80.4h0M196.1 84.6h0M217.6 103.1h0M228.1 112.3h0M214.6 77.6h0M220 102.6h0M223.4 91.2h0M208 95.1h0M221.6 81.1h0M235.6 103.8h0M251.4 87.2h0M262.7 299.9h0M263.9 293.3h0M259.2 295h0M257.3 294.9h0M263 298.7h0M257.7 297.1h0M252.3 298.1h0M251.2 294.6h0M255.8 299h0M257.9 297.7h0M257.4 295.5h0M259 293.3h0M259 294.5h0M254 292.8h0M263.9 293.3h0M262.8 294.8h0M265.6 296.4h0M263 295.5h0M257.1 300.9h0M249.7 299.7h0M263.4 297.7h0M265.1 299.9h0M249.5 290.2h0M260.1 288.6h0M256.6 297.1h0M284.2 336.9h0M289.1 332.7h0M275.7 335.1h0M286.5 331.8h0M281.2 333.3h0M283.8 330.7h0M284.3 332.8h0M286.7 337.3h0M289 333.1h0M284.2 334.9h0M288.4 334.1h0M287.6 336.6h0M290.2 332.5h0M287.9 332h0M279.1 330.9h0M287.7 332.4h0M282.7 331.5h0M283.3 337.7h0M286.3 329.4h0M289.7 332.2h0M286.7 333.6h0M287.4 334.8h0M293.1 331.8h0M283.9 328.4h0M281.2 333.4h0M279.2 333.6h0M277 332h0M288 327.9h0M283.5 330.3h0M281.5 330.2h0M286.8 347.6h0M285.4 353h0M276.8 343.3h0M291.6 346.4h0M282.5 346.6h0M290.1 349.8h0M294.6 357.1h0M297.4 343.2h0M296.8 355h0M294.1 351.7h0M287.4 341.9h0M291.9 353.4h0M292.7 357h0M303.2 338.3h0M289 348.4h0M267.2 338.3h0M278.8 334.8h0M282.4 345.4h0M288.7 349.1h0M276.3 353.5h0M288.5 338.9h0M273.5 348.8h0M296.9 356.7h0M278.1 357.2h0M284.9 358.1h0M282.4 348.3h0M284 354.8h0M285.8 346.9h0M284.1 352.4h0M292.8 362.1h0M283.1 360.3h0M268.8 364.4h0M275.1 363.1h0M279.5 339.7h0M278.5 340.4h0M277.5 336.5h0M288.9 345.8h0M285.2 344.8h0M259.6 342.8h0M276.8 327.7h0M289.8 352.5h0M279.4 336.5h0M278.8 345.5h0M278.2 343.8h0M281.9 346.5h0M258.7 328.1h0M264.5 341.7h0M262.8 339.9h0M279 340.1h0M264.2 336.7h0M238.4 336.2h0M239.7 343.2h0M257.6 340.3h0M267.3 344h0M254.2 345.2h0M255.1 337.9h0M268.6 330.6h0M266.3 342.1h0M253.3 345.3h0M260 336.3h0M254.3 340.6h0M281.7 338h0M221.3 335.5h0M267.9 339.3h0M254.4 332.4h0M150.5 308.9h0M141.4 321.6h0M156.5 332.1h0M125.8 334.3h0M161.5 349.3h0M135.3 329.2h0M142 311.8h0M157.1 314.6h0M159.1 327.7h0M158.3 316h0M104.4 351.8h0M147.2 313.8h0M137.3 321.7h0M124.2 322.6h0M151.5 317h0M113.9 314.8h0M149.1 350.7h0M138.2 340.2h0M107.9 305.6h0M155.5 326.2h0M154.3 319.7h0M142.6 324.5h0M127.5 335h0M131.2 320.7h0M147.4 330h0M74 272.8h0M59.9 257h0M65.8 260.7h0M60.9 246.9h0M57.6 242h0M46.7 250.2h0M65.6 251.9h0M63.2 255.5h0M60 261.8h0M70.5 273.7h0M60.5 257.8h0M74 250.2h0M128.4 283.2h0M118 275.4h0M124.3 285.2h0M119.5 273h0M123.9 278.6h0M135.8 273.7h0M129.3 284.3h0M119.4 282.4h0M121.2 279.3h0M122.2 270.7h0M259.5 141.7h0M261.9 142.3h0M258.2 139.7h0M259.1 142.7h0M261.7 143.3h0M254.2 146.3h0M264.2 141.3h0M259.6 146.2h0M257.1 142.5h0M260.5 144.6h0M257.4 143.6h0M267 142.6h0M292.6 265h0M297 263.3h0M294.9 264.1h0M294.5 264.3h0M294.9 265.9h0M292.9 262.3h0M283.6 264.3h0M290.6 264.4h0M288.8 265.6h0M290.5 267.4h0M328.3 198.6h0M359.1 156.3h0M295.6 159.3h0M299.9 230.4h0M328.5 141.1h0M316 257.9h0M331.1 155.5h0M347 253.6h0M280 188.8h0M387.5 162.2h0M346.6 277.8h0M287 250.2h0M267.8 157h0M315.2 179.4h0M272.4 250.6h0M284.8 131.6h0M390.2 219.2h0M339.8 219.2h0M322.5 168.6h0M321.2 180.3h0M272.3 236h0M371.2 212.6h0M320.8 198.5h0M258.9 195.9h0M342.1 259.2h0M286.4 261.3h0M300.6 187.1h0M348.2 165.8h0M266.8 191.8h0M334.2 243.4h0M326.3 212.7h0M295.3 261.5h0M286 237.3h0M325.4 180.6h0M301.7 139.9h0M366.4 275.4h0M289.9 146.1h0M301 143h0M379.4 175.3h0M356.4 228.6h0M349.6 205h0M335.2 162.7h0M278.8 184.4h0M357.5 140.7h0M394.4 190h0M269.3 181h0M267.9 168.4h0M333.2 204.6h0M299.7 173.3h0M265.8 181.5h0M379.9 230.9h0M279.4 202.9h0M346.9 186.1h0M328.7 231h0M257.3 217.1h0M296.6 203.3h0M262.2 190.9h0M306.2 162.3h0M260.6 205.4h0M364.5 257.8h0M347.6 147h0M374 208.1h0M307.1 182.5h0M265.3 173.7h0M290 175.8h0M317.7 134.8h0M335.5 281.9h0M325.2 168.8h0M264.8 231.6h0M335.3 162h0M352.3 215.3h0M303.5 272.3h0M394.3 179.5h0M347.3 149.9h0M294.7 268.2h0M340.1 245.6h0M303.1 144.2h0M282.6 165.7h0M357.3 262.7h0M320.4 271.8h0M320.6 235h0M337 205.3h0M293.7 235.3h0M285.3 157.5h0M344.8 181.9h0M270 191.8h0M294.3 163.1h0M257.6 225.8h0M350.2 140.2h0M296.4 158h0M269.2 151.7h0M343.6 140.3h0M306.9 244.4h0M391 207.2h0M350.8 279.8h0M262.9 174.3h0M378.7 197.2h0M271.1 224.2h0M311.9 191.6h0M280.1 237.2h0M330.5 273.9h0M320.9 194h0M322.5 161h0M370.2 256.6h0M353.2 218.1h0M290.5 199.3h0M323.9 222.7h0M310.6 221.5h0M313.2 240.3h0M343.8 213.7h0M364.3 158.2h0M297.3 205.2h0M282.7 144.2h0M301.3 243.6h0M308.2 248h0M365.7 266.2h0M392 180.3h0M295.2 224.8h0M334.3 261.8h0M289.7 245.5h0M317.6 183.1h0M257.5 235.1h0M317.9 177.1h0M375 223.5h0M289.6 191.1h0M331.4 224.4h0M279.7 209h0M314.8 230.5h0M340.5 225h0M301.8 241.2h0M292.5 156.2h0M306 263h0M252.7 223.5h0M321.7 280.4h0M254.9 209.1h0M291.8 147.4h0M341.2 252h0M284.2 251.9h0M320.4 160.4h0M275.2 178.4h0M284.8 216.7h0M331.4 161h0M281.7 161.5h0M350.8 144.2h0M368.5 144.5h0M355.1 210.4h0M308.5 228.8h0M325.5 280.5h0M378.1 184.7h0M364.9 224.9h0M334 142.3h0M286 263.7h0M279.5 145.2h0M300.9 250.7h0M256.8 222.6h0M312.4 272.9h0M274.3 253.2h0M347 205.8h0M265.9 227.7h0M372.3 183.2h0M371.7 231.2h0M303.4 223.2h0M387.4 150.4h0M340.9 206.1h0M365.5 242h0M337.4 182.2h0M369.4 270.2h0M267 214h0M359.5 158.4h0M379 244h0M251.5 227.6h0M303.2 273.4h0M394.1 196.8h0M323.5 226.1h0M353.2 267.4h0M352.7 174.7h0M324.8 156.6h0M288.1 186h0M303.8 229.8h0M354.7 226.2h0M288.7 203.7h0M366.3 169.9h0M294.8 136h0M377.4 260.3h0M334.9 178.5h0M325.5 221.9h0M337 133.4h0M402.5 179h0M352 144.1h0M319 259.2h0M334.5 246.8h0M351.7 180h0M317.7 190.6h0M292.5 165.4h0M289 261.9h0M322.9 270.2h0M300.7 227.7h0M301 268.3h0M360 175.3h0M318.1 241.2h0M269.3 213.4h0M262.4 221.6h0M257.8 191.9h0M261.5 245.3h0M256.6 222h0M251 214.8h0M254.1 228.4h0M254.8 231.3h0M251.5 215.7h0M268.2 221h0M249.2 207.4h0M252.3 230.1h0M275.2 222.2h0M267.2 218.1h0M260 230.6h0M256.2 210.9h0M259.7 231.3h0M264.7 238.6h0M266.4 229.6h0M254.3 241.4h0M268.3 238.1h0M259.7 214.3h0M265.5 248.1h0M260 231.1h0M266.4 239.9h0M276 273.5h0M291.7 270.9h0M281 267.1h0M284.3 235.6h0M288.6 259.7h0M281.1 257.8h0M284.7 266.7h0M282.1 241.3h0M286.4 260.6h0M295.1 260.5h0M275.1 248.6h0M292.7 259.4h0M285.3 281.3h0M275.8 252.6h0M298.9 261.4h0M286.2 248.6h0M280.2 251h0M289.8 254.9h0M289.1 250.9h0M291 262.2h0M270.9 236.4h0M277 258.1h0M269.2 250.7h0M289.3 261.8h0M278.7 251.1h0M291.7 264.5h0M273.6 269.8h0M286.7 261.4h0M293 250.1h0M300.8 274.5h0M410.6 148.3h0M399.3 120.2h0M402.3 120.4h0M409.6 104.7h0M395.1 169.5h0M410.5 183.7h0M395.5 95.6h0M387.4 102.9h0M401.1 155h0M433.9 197.8h0M396.5 111.8h0M393.8 113.2h0M407.7 169.1h0M406.5 189.6h0M418.4 165.4h0M398.3 175.8h0M412.2 187.2h0M418.6 166.5h0M396.8 162.7h0M407.5 169.1h0M411.3 163.5h0M384.8 178.2h0M399.3 153.8h0M413.1 191.7h0M397.2 143.8h0M390.4 163.2h0M385 179h0M400.3 171.5h0M386.2 146.2h0M384.9 181.1h0M420.6 158.3h0M415.9 189.1h0M410.1 173.1h0M383.3 146.5h0M418.6 165.2h0M385.7 191.1h0M411.9 158.9h0M399.8 182.2h0M420.6 156.4h0M335 108.4h0M334.1 124.8h0M282.8 110.4h0M341.8 101.4h0M276.2 125.2h0M309.9 133.4h0M343.7 67.5h0M334.3 132.4h0M290.6 100.9h0M362 126.3h0M340 86.1h0M329.8 100.7h0M337.8 124.1h0M362.1 138.2h0M348.9 73.7h0M324.9 83h0M290.5 112.6h0M277.7 107.1h0M360.9 80.6h0M295.5 127.5h0M317.7 70.7h0M290.7 113.3h0M318.5 110.9h0M349.7 138.5h0M301 137.7h0M347.8 125h0M343 68.5h0M353.2 98.6h0M321.4 95.4h0M277.4 95.5h0" stroke="#ff0000" stroke-width="2.0" stroke-linecap="square" fill="none"/>
<path d="M392.4 143.8h0M438.5 153.4h0M434.4 112h0M437.8 175.2h0M403.5 128.3h0M429.3 164.6h0M417.4 149h0M371.4 75.5h0M402.4 118.6h0M411.1 132.9h0M417 127.8h0M414 175.5h0M427.6 146.3h0M391 86.8h0M417 135.9h0M389.6 82.5h0M411.3 115.5h0M379.1 82h0M390.8 162.2h0M404.2 131.4h0M434.6 168.1h0M411.5 199.3h0M372.6 72.5h0M410.5 128.3h0M379.2 97.1h0M384.4 144.8h0M430.5 166.8h0M389.5 150h0M413.9 176.8h0M419.4 156.8h0M362.2 137.7h0M352.1 72.7h0M285.1 114.5h0M340.3 106.2h0M299.4 95h0M322.4 80.5h0M368.6 73.5h0M324.8 112.7h0M336 121h0M281.6 101.7h0M303.3 105.8h0M359 136.8h0M318.5 137.5h0M300.1 134.6h0M280.2 135.7h0M323.2 95.9h0M307.1 135.9h0M275.5 109.7h0M325.6 135.9h0M330.8 67.9h0M371.5 128.4h0M308.8 132.4h0M311.7 110.8h0M357.4 116.8h0M331.2 101.5h0M300 91.5h0M286.6 137.2h0M339.1 133.9h0M306.9 123h0M297.1 118.8h0M347.9 133.9h0M359.6 115.6h0M310.7 114.6h0M294.2 121.3h0M353.2 81.9h0M299.8 133.5h0M355.3 94.1h0M296.9 140h0M372.5 124h0M327.3 114.9h0M353 90.8h0M340.9 119.4h0M359.9 85.2h0M364.2 138.5h0M281.6 109h0" stroke="#ffc0cb" stroke-width="2.0" stroke-linecap="square" fill="none"/>
<polygon points="225.5,24.5 228,27 229.5,31 228.5,34 220,34 219,31.5 222,28.5" fill="#ffff00"/>
<polygon points="230,35 233,37 236,42 239,47 242,52 242.5,57 239.5,61 234.5,63 231,59 230,54 228,50 229,45 228,40" fill="#ffff00"/>
<polygon points="242,66 247,66 249,70 250,78 249,84 245,86 241,83 239,76 240,70" fill="#ffff00"/>
<line x1="48.7" y1="419.3" x2="374" y2="419.3" stroke="#555" stroke-width="1.2"/>
<text x="0" y="14.6" font-size="21" font-weight="bold">a</text>
<text x="361.5" y="32.8" font-size="14" fill="#222" textLength="44" lengthAdjust="spacingAndGlyphs">ESM-2</text>
<text x="198.5" y="438.6" font-size="14.5" fill="#222">t-SNE</text>
<circle cx="64.5" cy="462.3" r="5" fill="#008000"/>
<text x="76.5" y="467.3" font-size="15" fill="#222" textLength="59.4" lengthAdjust="spacingAndGlyphs">Astral40</text>
<circle cx="64.5" cy="478.9" r="5" fill="#90ee90"/>
<text x="75.8" y="483.9" font-size="15" fill="#222" textLength="75.4" lengthAdjust="spacingAndGlyphs">Proteome4</text>
<circle cx="64.5" cy="495.2" r="5" fill="#ffc0cb"/>
<text x="75.8" y="500.2" font-size="15" fill="#222" textLength="23.8" lengthAdjust="spacingAndGlyphs">IDP</text>
<circle cx="170.5" cy="462.3" r="5" fill="#ff0000"/>
<text x="181.0" y="467.3" font-size="15" fill="#222" textLength="23.2" lengthAdjust="spacingAndGlyphs">IDR</text>
<circle cx="170.5" cy="478.9" r="5" fill="#ffa500"/>
<text x="181.0" y="483.9" font-size="15" fill="#222" textLength="84.7" lengthAdjust="spacingAndGlyphs">NovelMetaG</text>
<circle cx="281.8" cy="461.9" r="5" fill="#ffff00"/>
<text x="293.2" y="466.9" font-size="15" fill="#222" textLength="86.4" lengthAdjust="spacingAndGlyphs">Hallucinated</text>
<circle cx="282.3" cy="478.8" r="2" fill="#cccccc"/>
<text x="294.2" y="483.8" font-size="15" fill="#222" textLength="68.2" lengthAdjust="spacingAndGlyphs">Astral40R</text>
<text x="470" y="14.6" font-size="21" font-weight="bold">b</text>
<path d="M482.2 319.7h0M482.8 316.7h0M483.3 240.6h0M482.1 316h0M483.9 322.6h0M483.2 269.1h0M484.1 292.7h0M484.1 313.1h0M483.8 312.8h0M484.1 225.6h0M483.1 142.3h0M482.4 321.8h0M482.7 308.2h0M484.1 321.2h0M482.8 132.5h0M483.2 317.1h0M482.7 314h0M483.4 46.8h0M482.8 303.7h0M483 322.9h0M482.6 53.1h0M482.7 321.5h0M482.2 315h0M482.7 316.9h0M483.9 172.7h0M484.2 119.6h0M484.5 316.4h0M483.6 308.5h0M484.2 306.3h0M484 114.6h0M483.3 312.5h0M484.1 94.5h0M483.7 69.4h0M482.2 257.6h0M482.4 315.7h0M483.6 164.3h0M483.3 129.7h0M483.9 307h0M483.7 171h0M482.7 308.3h0M483.9 317.6h0M484.4 308.2h0M483.2 56.5h0M483.6 105.2h0M482.5 300.9h0M482.8 308.1h0M482.2 319.4h0M483.8 309.5h0M483.3 240.3h0M482.4 54.2h0M484.4 266.3h0M483.2 317.9h0M483.2 48.1h0M484.4 318.7h0M482.4 311.3h0M482.4 52.4h0M484.2 178.5h0M484.3 257.2h0M482.1 66.7h0M482.8 54.6h0M482.9 316.1h0M483.9 322.4h0M484.3 288.8h0M482.8 66.9h0M484.5 315.1h0M483.1 220.5h0M482.3 321.9h0M484.3 241.8h0M483.3 317.6h0M484.4 315.5h0M483.6 92.4h0M483.4 55.8h0M483.9 308.9h0M483.6 46h0M484.3 321.9h0M482.9 313.5h0M484.4 308.2h0M482.8 309.9h0M482.5 210.9h0M484.3 318.8h0M484.3 61.1h0M482.4 195.2h0M482.9 321.1h0M482.7 318.1h0M483.9 71h0M483.4 314.7h0M482.2 316.2h0M482.4 303.7h0M484.2 144.1h0M482.7 317.5h0M484.4 314h0M482.2 75.1h0M484.2 308.8h0M482.1 50.7h0M484.1 304.5h0M482.7 46.9h0M483.4 319.8h0M483.8 55.6h0M483.2 105.8h0M484 311.7h0M483.6 304.6h0M482.7 320.4h0M482.4 124.6h0M483.5 312.5h0M483.5 318.5h0M483.2 316.9h0M484.2 139.9h0M482.7 60.7h0M482.8 122.8h0M483.7 313h0M483.7 317.8h0M482.2 258.5h0M483.7 314.5h0M483.9 307.1h0M484.4 264.6h0M482.7 306.6h0M482.8 307.8h0M482.5 182.2h0M483.7 314.6h0M483 281.3h0M482.4 303.5h0M483 321.7h0M483.9 72.1h0M482.9 58.4h0M483.9 304.3h0M483 309.7h0M482.5 316.3h0M482.9 317.3h0M484.4 287.8h0M484.1 315.8h0M482.2 200.1h0M484.3 56.8h0M484.3 315.7h0M484 314.7h0M482.2 311.4h0M482.7 304.6h0M482.9 67.8h0M483.6 303.9h0M482.9 308.7h0M483.9 322.8h0M484.4 142.9h0M483.2 318.3h0M483 52.1h0M483.3 314.4h0M484 271h0M484 89.3h0M482.9 229.8h0M482.3 307.4h0M482.7 307.9h0M483.4 322.2h0M484.2 303.4h0M482.3 247.7h0M483.8 313h0M483.1 318.2h0M483.9 131.5h0M482.4 134.3h0M483.5 239.5h0M482.6 308.2h0M482.5 318h0M482.9 158.7h0M483.3 303.2h0M483.7 306.8h0M483.2 293.8h0M484.3 84.3h0M482.4 317.1h0M483.5 303.6h0M484.2 217.2h0M484 317.7h0M483.5 292.9h0M483 261.1h0M482.7 318.8h0M482.6 137.9h0M483.7 316.4h0M482.6 316.7h0M482.3 167.3h0M483.4 315h0M482.5 297h0M482.8 206.6h0M482.8 304h0M483.1 221.5h0M483 40h0M482.6 308.4h0M483.1 305h0M484.2 207.6h0M482.1 62.8h0M484.3 141h0M483 310.5h0M482.8 281.5h0M482.4 60.2h0M484.4 44.5h0M484.4 320.4h0M482.2 185.9h0M484.3 212.8h0M482.5 88.8h0M483.1 259.9h0M482.5 87.5h0M483.3 315h0M482.7 320.5h0M482.2 68.2h0M482.2 107.9h0M483.5 289.5h0M482.8 144.9h0M483.1 311.3h0M483.2 196.1h0M483.3 310.6h0M484 307.7h0M483.2 62.3h0M483.1 320.3h0M483.3 314.1h0M482.3 310.3h0M483.3 102.1h0M483 312.9h0M484.2 284.2h0M484.1 115.1h0M483.3 303.4h0M482.5 62.8h0M482.3 58.7h0M482.5 307.9h0M484.1 244.8h0M484.3 312.9h0M483.3 317.7h0M482.5 322.2h0M483.7 304.3h0M484 275h0M483.6 312.4h0M483.4 305.6h0M482.4 72.3h0M483 144.1h0M484.5 247.7h0M483.9 220.6h0M483.9 319.4h0M482.7 306.6h0M483.5 43.5h0M482.1 234.1h0M483.6 319.9h0M484.2 312.7h0M483.7 318.4h0M483 322.8h0M482.6 315.8h0M482.6 155.7h0M482.4 188.1h0M482.5 253.7h0M484.2 310.2h0M482.7 208.8h0M483.4 310.1h0M483.2 310.1h0M482.7 114.7h0M483.4 310.4h0M482.2 318.2h0M483.4 319.4h0M482.6 282.5h0M483.6 179h0M482.8 273.3h0M484.2 321.9h0M482.1 119.8h0M483.2 111.3h0M482.6 194.4h0M482.2 318.3h0M483.8 308h0M482.7 120.9h0M484 199.1h0M483.6 247.6h0M484.2 261.3h0M482.7 317.7h0M483.9 54.7h0M482.9 305.4h0M483.6 304.9h0M484.4 134h0M483.8 43.6h0M483.8 198.8h0M482.6 235.5h0M484.3 300.8h0M482.4 322.4h0M482.4 225h0M483.8 322.1h0M483.9 125h0M483 311.2h0M484.2 90.2h0M484.3 305.7h0M482.6 292.5h0M484.1 322.2h0M484.1 142.9h0M482.3 241.3h0M482.6 307.8h0M482.2 314.5h0M483.8 317.3h0M484.4 316.5h0M483.6 81.2h0M483.1 314.7h0M483.8 224.4h0M484.2 261.4h0M482.5 306.6h0M483.9 318.9h0M483.3 321.7h0M482.5 44.8h0M484.1 57.5h0M482.8 304.1h0M483.3 309h0M482.3 310.3h0M484 125h0M483.1 221.9h0M482.3 305.2h0M482.6 315.8h0M483.3 305h0M482.7 305.3h0M483.9 52.3h0M482.9 139.4h0M484.1 319.8h0M482.5 112.2h0M483.5 307.5h0M484.2 313.7h0M482.8 319.1h0M482.5 83.4h0M482.9 318h0M482.9 277.2h0M483.8 303.5h0M482.3 303.8h0M484 303.3h0M482.6 199.4h0M482.6 292.6h0M483.1 322.2h0M483.3 126h0M482.4 191.4h0M483.9 208h0M483.5 200.8h0M482.6 203.3h0M484 73h0M483.7 80.9h0M482.9 194h0M483.1 295.1h0M483.6 120.4h0M483.2 314.5h0M483.7 206.7h0M483.7 270.9h0M483.3 212.5h0M483.4 312.1h0M484.4 307.4h0M483.5 294.2h0M483.3 119.3h0M483.4 87.6h0M482.6 304.1h0M483.9 211.5h0M483 303.3h0M483.1 317.4h0M483.1 314.6h0M482.7 222.9h0M484.4 308.2h0M484 260.8h0M482.4 318.7h0M483.6 93.1h0M482.6 51.4h0M483.6 222.6h0M483.2 91.2h0M482.4 312h0M484.1 222.2h0M482.7 315.4h0M482.1 319.2h0M482.7 243.1h0M483.1 313.4h0M483 135.7h0M482.2 80.3h0M484 65.7h0M483.6 306.4h0M484.4 322.7h0M482.3 251.9h0M484 318.3h0M484.3 319.9h0M484.2 275.2h0M483.7 101.1h0M484.1 99.2h0M483.4 309.1h0M484.2 198.4h0M482.7 247.8h0M482.2 313.1h0M483.3 63.3h0M484.2 52.1h0M483.2 306.2h0M484.1 134h0M484.4 314.6h0M483.6 310.2h0M483.7 310.8h0M484.5 229.1h0M484.3 185.3h0M483.6 308.6h0M483 305.8h0M483.9 52.5h0M483.1 314.3h0M482.8 88.2h0M483.3 208.3h0M484.4 312.8h0M482.9 98.1h0M483.5 317h0M482.2 100.3h0M483.4 71.5h0M482.1 316.9h0M483.6 304.6h0M484.3 98.9h0M483.6 147.8h0M483.7 153.6h0M483.2 309.6h0M482.5 294.1h0M484.3 307.5h0M484.1 218.2h0M482.7 163.3h0M482.9 314.5h0M484.3 310.1h0M482.2 311.6h0M483.5 306.8h0M482.1 196.1h0M484.4 311.1h0M483.1 187.9h0M482.6 310.1h0M482.1 322.6h0M484.4 288.4h0M482.4 305.6h0M482.7 308.6h0M482.2 269.7h0M484.2 120.3h0M483.6 299h0M484.3 192.1h0M483.8 303.7h0M483.7 322.6h0M482.8 300.3h0M484.2 275.8h0M483 65.7h0M483.7 198.3h0M483 307.1h0M483.1 144.1h0M484.4 307.3h0M482.8 162h0M483.8 303.5h0M483.6 228.6h0M483.5 86.9h0M484.2 314.4h0M483.5 309.3h0M482.8 93.7h0M483.1 317.7h0M484.2 91.2h0M484 306.3h0M482.8 160.5h0M483.7 93.8h0M482.3 224.4h0M482.6 96.5h0M482.7 58.4h0M483.2 130.5h0M483.9 317.8h0M482.3 192.4h0M482.7 103.7h0M484.2 68.3h0M483.5 187.6h0M482.5 319.1h0M483.5 219.9h0M482.5 312.6h0M483 303.1h0M484 310.3h0M482.9 311h0M482.2 317.1h0M483.3 77h0M484 248.6h0M483.9 304.1h0M482.7 49.4h0M482.5 318.9h0M483.4 321.9h0M484.4 192.8h0M483.5 304.7h0M484.4 320.5h0M483.6 311.7h0M483 132.8h0M484.4 319.7h0M482.2 260h0M484.3 315.9h0M482.2 85.2h0M483.7 121.4h0M482.4 307.1h0M483.7 56.2h0M483.9 311.1h0M482.7 316.5h0M482.5 313.3h0M483.7 320.1h0M482.6 308.6h0M482.6 304.5h0M484.2 76.8h0M482.3 314h0M483.6 83.8h0M484.1 57.7h0M482.4 49.6h0M483.8 321.8h0M484.2 281.8h0M482.5 314.7h0M482.9 306.2h0M482.9 313.1h0M484.4 290.5h0M483.7 305.1h0M482.8 313.4h0M483 318.9h0M484.3 39.5h0M484.3 317.1h0M482.8 308.5h0M484 318.3h0M482.1 320.1h0M482.5 173.4h0M482.6 304.8h0M482.5 283.7h0M482.6 120.9h0M483.6 321.2h0M482.6 59.6h0M484 122h0M482.3 265.5h0M483.8 207h0M482.9 306.8h0M483.3 77.5h0M483.2 304.8h0M482.5 247.3h0M482.5 218.7h0M482.1 311.1h0M483.3 196.3h0M484.1 308.7h0M483.8 231.8h0M482.2 308h0M483.3 52h0M483.4 172.3h0M482.6 303.7h0M482.7 320.9h0M482.3 314.4h0M482.1 267.5h0M483.4 159.2h0M484.2 293.7h0M482.4 310.1h0M482.8 53.2h0M482.4 314.8h0M482.5 78.4h0M482.5 110.9h0M483 56.7h0M483.4 306.2h0M484 304.2h0M482.9 318.1h0M484 303.4h0M484.1 91.5h0M484.4 312.6h0M483.1 252.1h0M483.4 219.4h0M483.3 314.3h0M484.4 320.1h0M483.6 56.9h0M484.2 71.8h0M482.7 310.1h0M483.4 245.3h0M482.7 146.5h0M484.4 199.8h0M483.7 316.8h0M484.4 311.1h0M483.2 246.7h0M482.4 280.8h0M483.1 317.1h0M482.3 318.1h0M483.6 84.5h0M482.6 138.3h0M483.4 192.1h0M482.8 189.8h0M483.3 318.5h0M482.1 311.3h0M482.7 305.8h0M482.8 183.4h0M484 239h0M484.2 321.6h0M483 321.7h0M482.4 308.3h0M483.9 303.8h0M482.9 316.2h0M484.1 147.9h0M483.9 175.9h0M483.2 107.2h0M484.3 121.7h0M482.1 305.6h0M483.3 156.6h0M483.1 160.5h0M483.6 75.1h0M483.2 313.9h0M483 239.7h0M482.9 213.7h0M483.3 81.7h0M482.8 319.2h0M483.5 311.5h0M482.9 304.6h0M484.4 84.9h0M484.3 314.4h0M483.5 322h0M484 41.3h0M483.3 39.5h0M483 128.4h0M482.9 311.1h0M483.4 130.8h0M483.1 315.5h0M484.2 159.9h0M483.2 184.7h0M482.9 40.1h0M482.5 91.3h0M484.1 303.5h0M484.2 291.5h0M484.5 89.9h0M482.5 203.4h0M483.3 312.7h0M483.6 319.3h0M484.5 222.6h0M483.1 310.9h0M483.8 235.8h0M484.1 316.8h0M482.6 133.2h0M482.7 51.7h0M484.5 172h0M482.4 206.2h0M482.4 307.8h0M483.4 319.5h0M484 148.9h0M483.9 322.7h0M482.9 308.7h0M482.3 317.6h0M482.9 157.6h0M482.2 315.2h0M484.4 157.5h0M482.7 310.6h0M484.2 304.4h0M484.1 305h0M484.4 310.9h0M482.7 40.4h0M482.6 308.6h0M483.3 305.5h0M482.5 253.8h0M484.4 319.2h0M482.4 311.7h0M483.1 213.4h0M484.1 320.4h0M482.6 318h0M482.2 318.2h0M482.5 226h0M482.7 296.6h0M483.2 286.6h0M482.5 94.4h0M483 308.5h0M484.4 263.8h0M483.2 258.4h0M482.7 308.9h0M483 156.1h0M482.6 310.8h0M483.3 288h0M484 246.1h0M483.5 309.8h0M482.3 315.2h0M482.9 306h0M483.4 292h0M482.8 313h0M482.6 316.7h0M482.8 308.7h0M484 304.8h0M482.4 78.4h0M483.7 322.3h0M483.1 223.1h0M482.7 124.4h0M483.6 222.9h0M484.3 320.6h0M482.2 120.6h0M482.6 319.7h0M482.2 315.3h0M482.5 310.2h0M483.8 161h0M483.7 314.3h0M484.1 322.9h0M482.2 241.6h0M482.2 150.5h0M484 320.7h0M483.9 304.7h0M483 309.1h0M482.8 87.6h0M483.1 304.1h0M483.9 126.5h0M483.2 144.6h0M483.1 309h0M482.4 59.4h0M483.8 310.5h0M483.4 248.7h0M483.4 141.9h0M483 321.7h0M482.8 318.9h0M483.7 308.9h0M483.3 318.1h0M482.9 304.3h0M482.4 305.3h0M484.1 228.2h0M482.5 107h0M483.2 152.9h0M482.4 86.9h0M482.6 315.7h0M482.6 317.3h0M482.4 195.7h0M483 313.6h0M482.1 321.5h0M482.3 109.8h0M483.5 44.6h0M483.1 313.2h0M482.1 312.1h0M483.6 139.9h0M482.7 137.6h0M482.2 320.1h0M482.8 84.5h0M484.1 310.2h0M484 275.1h0M482.9 112.2h0M482.9 306.5h0M483 311.9h0M482.2 254.9h0M484.1 144.6h0M484.4 65.9h0M482.5 53.2h0M482.3 311.4h0M483.2 276.4h0M482.2 297.4h0M483.8 319.1h0M484.2 306.2h0M482.8 202.1h0M483.1 176.8h0M483.7 314.2h0M482.5 66.3h0M483.5 314.1h0M482.3 319h0M484.4 313.7h0M484.4 77.2h0M484 146.9h0M483.6 309.5h0M484.4 311.6h0M482.8 49h0M482.2 305.3h0M483.2 309.4h0M483 309.8h0M483.4 204.7h0M482.4 210.4h0M483.4 305.2h0M482.7 305.8h0M482.7 312.4h0M482.6 51.7h0M483.3 290.8h0M483.1 300.1h0M484.2 314.2h0M483.9 120h0M483.8 303.2h0M483 306.4h0M483.5 303.8h0M484 284.1h0M483 318.2h0M482.6 311.1h0M483.1 308.8h0M484.2 146.5h0M484.2 62.4h0M482.9 308.1h0M484.1 129.7h0M483.9 315.5h0M482.2 118h0M483.4 294.6h0M484.3 290.8h0M482.6 250.6h0M483.5 306.2h0M482.4 322.5h0M483.4 270.3h0M483 309.2h0M483.4 305.5h0M484.4 93.5h0M482.5 316.1h0M484 75h0M484.1 319.3h0M483.2 211.5h0M483 306.1h0M482.3 149.5h0M484.2 318.6h0M482.5 310.5h0M483.5 313.6h0M482.1 315.9h0M482.1 228.1h0M482.2 39.4h0M482.8 309.6h0M482.7 313h0M484.4 173h0M483.4 313.2h0M484 75.2h0M483 142.7h0M484.2 307.1h0M482.8 129.5h0M483.3 112.9h0M483.4 223.4h0M482.9 321.7h0M483.3 303.3h0M482.7 318.1h0M482.1 320.2h0M483.2 194.3h0M482.5 237h0M482.8 316.9h0M484.3 166.4h0M483.5 304.6h0M483.5 319.3h0M484 221.6h0M482.3 305.6h0M482.8 41.9h0M482.5 322.4h0M482.6 308.9h0M483.5 318.9h0M482.6 138.9h0M483.5 49.5h0M484.2 306.8h0M482.6 320.2h0M483.6 74.4h0M482.9 262.6h0M483.1 138.7h0M482.2 227h0M483.6 322h0M483.5 313.1h0M482.1 313.7h0M484.5 162.7h0M483.8 310.7h0M482.5 321h0M482.3 307.7h0M483.4 202.7h0M483.7 165.3h0M483.9 229h0M483.9 308.8h0M484 235.1h0M482.8 194.2h0M482.4 55.8h0M483.7 313.4h0M484.5 220h0M482.3 307.9h0M482.2 320.2h0M482.5 165.3h0M482.5 219.1h0M484.3 308.2h0M484 322.3h0M483.3 303.4h0M484 225.2h0M484.3 58.2h0M482.3 308.3h0M484.2 208.8h0M483.1 311.7h0M483.6 54.6h0M482.7 317.9h0M482.6 318.3h0M482.8 140.4h0M483.5 261.4h0M484.2 305.7h0M484.1 308h0M483.3 316.3h0M483.7 277h0M483.5 194.3h0M484.2 263.3h0M484.2 307.4h0M484.5 305.7h0M482.4 322.4h0M484.3 320.2h0M482.3 308.3h0M482.3 309.3h0M483.8 304.6h0M482.2 44.8h0M483.8 307.2h0M482.7 312.9h0M482.1 320.8h0M484.2 233h0M482.4 313.2h0M483.7 319.3h0M483.3 308.2h0M483.3 315.9h0M482.6 223.7h0M483.9 72.2h0M482.7 319.4h0M483.3 322h0M483 311.8h0M483.7 309.2h0M483.8 167.1h0M483.8 74.8h0M483.1 316.6h0M483 213h0M484.5 320.1h0M484.3 310.8h0M483 310.8h0M482.4 319h0M484.3 100.3h0M482.9 309.1h0M482.9 167.1h0M483.9 322.6h0M483.5 178.1h0M483.6 256.3h0M483.8 215.3h0M483.6 312.4h0M483.6 231.4h0M483.6 259.5h0M483.2 304.8h0M483.2 174.7h0M484.3 320.1h0M483.4 174.2h0M482.5 255.1h0M483.6 192.2h0M484.2 69.1h0M484.1 315.3h0M482.5 288h0M483 320.9h0M483.2 174.9h0M484.5 315h0M483.2 195.3h0M482.5 107.5h0M483.3 218.7h0M482.9 315.5h0M482.6 322.5h0M482.5 306.5h0M482.9 244.9h0M482.3 306.3h0M482.6 79.1h0M483.6 307.2h0M483.2 322h0M482.8 308.7h0M484 310h0M483.5 315.2h0M484.4 268.5h0M483.7 217.2h0M483.9 321.5h0M483.3 312.5h0M482.2 108h0M483.2 191.6h0M483.2 205.1h0M483.3 198h0M483.7 88.8h0M482.2 208.9h0M483.9 165.7h0M482.6 289.4h0M482.3 306.7h0M483.5 307.9h0M483.8 309.4h0M483.8 65.8h0M484.5 311.3h0M482.4 75.4h0M482.1 312.6h0M482.7 244.9h0M484.2 317.8h0M483.1 177.8h0M484.2 316.8h0M482.7 79.7h0M483.4 321.9h0M483.3 313.7h0M484 219.1h0M483.4 304.6h0M483.4 316.7h0M482.9 311.7h0M482.8 307.1h0M483.5 95.1h0M483.2 40.8h0M483.1 306.5h0M484.2 309h0M482.5 311.1h0M484 163.6h0M483.7 48.3h0M484.1 318.7h0M482.6 304.7h0M484 321h0M483.7 205.2h0M483.7 304.9h0M483.8 321.8h0M482.8 306.3h0M482.9 311.3h0M484.3 279.2h0M482.5 306.2h0M483 44.7h0M483.6 315.3h0M482.3 312.1h0M483.1 46.7h0M484.1 290.4h0M484.5 304.6h0M482.8 173.5h0M483.3 308h0M483.3 296.5h0M483.4 153.2h0M482.8 320.1h0M482.6 82.9h0M483.5 313.7h0M484.4 225.2h0M482.9 308.7h0M483.9 318h0M482.8 307.2h0M482.3 311.8h0M483.5 99.2h0M483.3 66.4h0M482.4 310h0M483 222.7h0M482.5 276.4h0M484.1 228.7h0M482.5 186.6h0M482.4 305.4h0M482.4 52.2h0M483.4 62.7h0M482.6 218.7h0M482.4 318.9h0M483.3 305.6h0M484.4 318.6h0M483.5 44.9h0M483.9 257.8h0M482.2 317.7h0M482.8 312.6h0M483.5 299h0M484 311.1h0M482.7 305.3h0M482.2 43.8h0M484.1 126.5h0M483.2 306.8h0M484.4 319.8h0M482.3 314.8h0M483.7 308.3h0M482.4 316.1h0M482.9 318.5h0M484 39.8h0M484 53.3h0M483.6 109.6h0M484.1 310.5h0M483.8 296.7h0M484.4 319.7h0M482.4 111.2h0M484.3 56.8h0M484 86.6h0M484.1 199.3h0M482.8 75.7h0M484.4 172h0M484 303.7h0M482.7 306.2h0M482.7 313.8h0M483.7 41.6h0M484 211.6h0M484.4 129h0M482.3 207.6h0M482.9 85.5h0M484 85.5h0M482.1 313.2h0M483.1 306.8h0M482.9 193h0M484.1 315.9h0M482.3 240h0M483.2 309h0M482.4 93.8h0M484.1 311.1h0M484.4 317.5h0M484.2 318.4h0M483 69.1h0M483.3 40.3h0M484.1 269.1h0M482.1 312.4h0M483.2 304.1h0M482.9 251.7h0M484.2 311.9h0M484.3 216h0M482.3 133.7h0M484.4 196.8h0M483.6 309.8h0M483.7 312.5h0M483 181.5h0M484.1 306.7h0M483.2 164.7h0M483.8 69.9h0M482.9 312.9h0M484.2 304h0M483.5 311.2h0M483.9 315.1h0M483.9 243.2h0M483.1 312.1h0M484 138.7h0M484.4 214.9h0M482.8 126.8h0M484.1 311.5h0M482.4 224.3h0M482.5 73.8h0M482.8 274.4h0M483 317h0M482.5 49.8h0M482.6 304.1h0M482.4 314.2h0M483 315.1h0M482.6 247.1h0M484.1 195.1h0M482.9 101.8h0M483.2 307.9h0M483.9 132.5h0M484.3 315.7h0M483.6 241h0M482.2 307.6h0M482.9 162.1h0M482.7 247.5h0M483.9 312h0M484 205.7h0M483.6 316.8h0M483.8 142.9h0M484.4 210.9h0M483 225.9h0M482.5 223.6h0M483.4 171.9h0M482.4 67h0M483.1 321.6h0M483.7 81h0M483.5 208.3h0M484 306.1h0M483.7 280h0M511 180.8h0M510.8 112h0M509.1 73.4h0M510.3 123.1h0M510.2 321.8h0M509.3 245.4h0M510.4 321.3h0M509.7 95.2h0M510.8 302.4h0M510.3 322.8h0M508.9 318.2h0M510.7 95.9h0M509.1 308.8h0M509.6 312.2h0M509.3 313.2h0M510.8 263.6h0M508.9 170.4h0M510 314.8h0M510.3 158.7h0M509.8 156.8h0M509.3 91.5h0M510.7 40.2h0M511.2 229.4h0M509.1 314.8h0M510.5 79.5h0M509.3 123.1h0M509.3 130.7h0M509.9 176.3h0M509.3 310.9h0M510.5 313.4h0M511.1 110.6h0M510.5 117.8h0M508.8 319.4h0M510.3 117.9h0M509.2 316.8h0M509.5 41.4h0M509.7 319.9h0M509.9 94.5h0M509.2 321.1h0M511.2 189.1h0M509.9 97.3h0M509.1 286.5h0M509.3 101.9h0M511 322.5h0M511.2 54.5h0M509.7 73.2h0M509.1 84h0M510.2 319.3h0M510.8 165.6h0M508.9 191.3h0M509 171.2h0M510.9 312.3h0M509.3 85.1h0M509.7 307.5h0M509.1 312.8h0M510.2 315.1h0M509.9 122.2h0M508.9 310.6h0M510.4 115.6h0M510.4 254.8h0M509.1 189h0M509 152.8h0M509.3 306.1h0M510.8 66.1h0M508.9 112.4h0M510.7 306.3h0M509.4 322.1h0M510.4 260.6h0M511 141.6h0M508.8 320.3h0M511.1 293.4h0M510.7 269.8h0M509.1 314.2h0M511 70.3h0M510.1 308.4h0M510.3 180.2h0M509 64.6h0M509.5 313.6h0M510.6 165.8h0M510.7 308.8h0M510.4 151.1h0M509.1 315.6h0M509.6 167.9h0M510.8 310.5h0M509.7 294.1h0M509.2 309.9h0M510.6 45.1h0M509.1 321.6h0M510 152.9h0M510.3 114.7h0M510.6 62.7h0M510.8 63.7h0M510.4 314.2h0M510.9 200.6h0M509.9 306.8h0M509.5 251.2h0M509 317.4h0M510.4 41.4h0M510.8 106.5h0M509.5 109.2h0M508.9 315.9h0M511 307.8h0M510.7 309.8h0M510.1 97.3h0M509.6 308.8h0M510.1 218.7h0M510.1 277.2h0M511.1 170h0M510.5 50h0M509.3 297.5h0M508.8 307.5h0M511.2 310.7h0M510.4 315.4h0M510.6 111.1h0M508.9 318.5h0M509.4 263.5h0M510.2 140.3h0M510.5 153.2h0M509 321.8h0M509.1 316.7h0M511.1 314.5h0M510.6 245.3h0M509.5 321.2h0M509.9 78.7h0M511 296h0M508.9 308.7h0M510.9 258.7h0M509.5 132.5h0M511 319.7h0M510.2 311.7h0M509.1 271.6h0M509.7 306.2h0M509.3 161.2h0M510.8 322.6h0M509.7 306.5h0M510.7 283.6h0M510.1 316.7h0M510.7 318.7h0M510.6 316.4h0M509.3 319.6h0M510.3 120.1h0M508.9 55.7h0M509.4 85.4h0M509.1 315.4h0M509 75.9h0M509.2 314.7h0M509.1 315.4h0M509.9 316.7h0M509 165.4h0M510.2 310.2h0M510.9 49.7h0M510.1 306.8h0M510.9 320h0M509.4 321.5h0M510.6 192h0M509.6 315.2h0M509.7 311.6h0M510 306.1h0M510.4 322.7h0M509.9 163.6h0M509.4 170.4h0M510.4 89.5h0M511.1 309.2h0M509.7 79.5h0M509.3 271.3h0M509 51.6h0M509.9 322.3h0M510.6 319.6h0M509.8 46.7h0M511.1 319.3h0M510 314.8h0M511.2 183.2h0M510.8 261.5h0M509.9 305.9h0M509.6 306.5h0M510.4 122.9h0M509.2 316.5h0M510.3 322.9h0M510.1 315.2h0M509.4 283.8h0M509.2 306.5h0M510.2 314h0M509.4 306.7h0M509.9 312.9h0M510.4 53.3h0M509.4 51.2h0M508.9 207.1h0M508.8 293.3h0M511.1 318h0M510.1 203.6h0M510.4 93.8h0M509.4 151.9h0M510.7 156.5h0M509.3 49.7h0M510.2 307.6h0M509.4 311.1h0M510.1 316.7h0M510.6 302.1h0M510.4 189h0M509.9 320.2h0M510.4 121.6h0M510.7 306.6h0M511.1 315.6h0M511.1 315.9h0M510.6 256.9h0M510.6 82h0M509.3 319.1h0M509.1 322.3h0M509 113h0M510.2 46.4h0M509.8 76.8h0M508.8 314.7h0M509.7 277.2h0M510.8 105.2h0M510.5 142.7h0M510.6 267.2h0M510.8 318.5h0M510.9 81.7h0M508.8 141.4h0M509.5 74.1h0M509.2 322.8h0M509.4 321.8h0M511.2 310.8h0M511 321h0M509.6 280.7h0M509.8 125.9h0M508.9 133.7h0M509 320.1h0M509.4 125.1h0M509.6 116h0M511 142.7h0M509.2 160.2h0M510.5 213.5h0M510.7 309.3h0M509.3 312.9h0M510.7 94.6h0M510.4 321.3h0M509.3 149.1h0M510.3 153h0M509.8 318.5h0M508.9 74.2h0M509.5 260.2h0M510.3 126.7h0M509.5 264.8h0M509.2 248.9h0M510.8 309.8h0M510.7 50.7h0M510.5 317.5h0M509 312.5h0M509.2 314.1h0M509.9 73.8h0M510 320.9h0M510.5 120.4h0M509.1 67.7h0M510 316.3h0M509.3 311.5h0M510.5 314.8h0M509.9 217.4h0M510.3 57.8h0M510.3 315.1h0M511.2 322.3h0M509.9 286.3h0M509 237.7h0M509.8 104.1h0M509 316.2h0M509.5 308.4h0M509.1 284.6h0M510.1 320.1h0M509.2 274.9h0M509.6 202h0M511.1 318.8h0M510.6 318.5h0M509.9 66.2h0M509.5 151.4h0M510.6 75.3h0M511.1 319.6h0M509.6 309h0M509.9 318.6h0M510.9 280.7h0M510.6 320h0M509.8 319.7h0M510.2 77.9h0M510.3 309.9h0M509.6 52.6h0M509.4 90.4h0M509.6 118.9h0M509.3 152.7h0M510.3 206.3h0M509.4 108.4h0M511.2 94.6h0M510.8 108.6h0M509.7 311.7h0M510.1 285h0M509.6 308.9h0M510.9 82.2h0M510.6 306.9h0M508.9 137.7h0M509.9 167.4h0M510.7 309.6h0M509.6 262.1h0M509.6 321.2h0M509.3 309.3h0M510.6 321.7h0M509.8 315h0M509.5 52h0M509.9 68.9h0M509.5 114.6h0M509.1 160.1h0M510 60.8h0M510.9 113.6h0M509.7 263.9h0M510.5 44.3h0M508.9 307.3h0M510.5 111.5h0M510.1 155h0M509.7 98.9h0M510.7 310.2h0M511.2 307.9h0M510.5 118.1h0M509.5 265.6h0M509.2 310.4h0M510.4 102.8h0M511.2 306.6h0M509.2 65.2h0M510.6 166.4h0M511 220.2h0M510 322.5h0M511.1 67.3h0M510.1 47.6h0M510.7 312.2h0M509.4 89.8h0M510 315.7h0M508.8 155h0M510.6 310.7h0M510 318.5h0M511 312.6h0M510.5 312.9h0M510.5 120.7h0M511 308.6h0M509.9 306.8h0M510.7 321.7h0M509.9 282.6h0M509.6 39.7h0M509.3 253.3h0M510.3 315.9h0M509.3 320.1h0M509.6 319.6h0M510 143.3h0M510 42.5h0M509.3 189.1h0M509.2 148.3h0M511.1 311h0M509.8 121.5h0M509.7 78.5h0M510.2 308.2h0M510.5 308.4h0M511 86.3h0M509.5 111.5h0M510.6 82.1h0M509.7 281.6h0M510.2 98.3h0M511.1 226.4h0M509.2 115.3h0M510.7 307.6h0M510 317.4h0M510.9 120.3h0M511 313.8h0M509.6 187.5h0M510.7 88.9h0M509.7 316.6h0M510.1 50.1h0M510.8 317.2h0M508.9 311.1h0M510.7 321.9h0M508.9 319h0M510.5 310.4h0M510.1 54.1h0M511 297.5h0M510.6 142.1h0M509 213.4h0M510.2 109h0M508.9 312.1h0M510.5 322.5h0M509.2 291h0M510.4 312.5h0M511.1 220.5h0M509.4 116.8h0M511.2 306.3h0M509.2 273.2h0M510.6 316.9h0M510.4 313.9h0M510.7 315.4h0M510.9 109.1h0M509.8 227.2h0M511 78.9h0M509.2 148.6h0M508.8 78.5h0M510 99.8h0M509.8 309.3h0M510.5 161.1h0M511.1 44.1h0M509.6 148.2h0M511 132.4h0M510.8 99.1h0M509.6 127.6h0M510.3 248.4h0M510 308.3h0M509 307.2h0M509.2 108h0M511 160.1h0M511 112.2h0M509 309.7h0M510.9 321h0M509.4 74h0M509 138.7h0M509.3 74.5h0M509.7 244h0M511.2 55.2h0M510.7 93.7h0M510.9 193.4h0M509.9 45.4h0M509.1 310.1h0M511.2 307.7h0M509.1 72.2h0M509.4 216h0M509.9 313.5h0M510.9 308.4h0M509.9 315h0M509.6 115.9h0M509.1 270.3h0M509.2 288.8h0M509.2 123.8h0M510.7 188.4h0M509.3 307.4h0M511.1 148.9h0M510.1 143.8h0M509 197h0M510.4 94.2h0M509.9 257h0M511 49.8h0M510.1 311.3h0M509.1 145.3h0M509.4 103.8h0M510.6 96h0M510.9 146h0M511.2 44.1h0M511.1 313h0M509.6 96.8h0M509.1 319.4h0M510.2 312.2h0M509.7 128.3h0M510.1 142.9h0M509.7 132.7h0M511.1 237.7h0M509 306.3h0M509.3 313.5h0M510.8 151.7h0M511 128.6h0M510.5 130.4h0M509.8 322.1h0M510.2 234h0M511 315.8h0M508.8 61.4h0M510.8 319.8h0M509.4 307h0M509.6 176.5h0M510.5 207.9h0M511.2 308.8h0M509.4 310.2h0M510.4 316.7h0M511.2 40.7h0M509.2 137.4h0M509.7 166.4h0M509.1 250.5h0M510.2 320.4h0M510 277.5h0M509.8 95.2h0M508.9 164.8h0M510.6 136.5h0M509.4 308.9h0M509.7 314.8h0M509.3 309.9h0M509.9 85.9h0M510.2 48.8h0M509 321.7h0M510.4 321.4h0M510 127.3h0M509.2 253.5h0M511 317.4h0M509.2 201.2h0M510.8 320.8h0M510.3 278.4h0M509.6 314.3h0M510.5 310.3h0M510.4 145.3h0M509 82.3h0M509.3 321.9h0M509 141.4h0M509.6 40.7h0M509.3 311.5h0M509.8 78.8h0M510.1 321.7h0M509 61.7h0M509.3 104.4h0M510.7 182.2h0M510.8 307h0M510 148.7h0M510.5 311.2h0M508.9 42h0M509.1 95.5h0M510.2 322h0M510.5 224.1h0M509.5 75.8h0M508.8 198.6h0M510.9 310.5h0M510.9 278.8h0M509.7 290.2h0M508.9 321.9h0M511.2 55h0M510.7 307.4h0M511.1 155.9h0M510.2 53.8h0M510 314.1h0M510 316.5h0M509.5 138.3h0M509.8 102.4h0M510.1 270.3h0M510.5 309.8h0M509.4 176h0M509.7 177.9h0M510.5 316.1h0M510.6 185.9h0M509.7 315.2h0M510.6 316.8h0M509.4 264h0M510.4 137.1h0M509.5 126h0M508.9 316.8h0M510.4 173.9h0M509.4 94.5h0M510.7 321.1h0M509.7 184.5h0M510.5 314.6h0M510.9 81.9h0M509.6 112.9h0M509.2 270.8h0M510.8 307.2h0M510.9 308.4h0M510.7 142.2h0M511 151.5h0M510.2 116h0M509.7 322.6h0M509.7 165.3h0M510.4 228.4h0M508.8 269.4h0M509.5 149.4h0M511 308.3h0M510.2 312.9h0M509.6 322.3h0M510 152h0M509.5 319.3h0M511 120.4h0M509.4 306.1h0M510.2 253.7h0M510.7 161.9h0M510.7 246.5h0M508.9 40.7h0M510.3 137.6h0M510.1 83.8h0M509.1 64.6h0M509.9 310.1h0M509.9 297.1h0M509 322.9h0M509.8 316.6h0M510.5 129.8h0M509.2 41.3h0M509.7 103.7h0M510.9 263.4h0M510.3 123.9h0M509 130.5h0M509.1 218h0M509.6 171.9h0M509.6 308.5h0M509.7 44.5h0M510.4 146.1h0M509.8 196.2h0M509.9 309.4h0M510.6 216.5h0M511.1 319.2h0M510 131.1h0M509.2 141.5h0M509.4 125.9h0M510.3 284.2h0M509.6 314.2h0M510 149.6h0M509.5 284.6h0M510.3 167.8h0M509.3 160.7h0M510.2 60.7h0M509.9 219.6h0M510.4 89.5h0M508.9 312.5h0M510.5 46.9h0M509.2 308.5h0M508.8 175.1h0M510.8 198h0M510.9 171.7h0M509.6 307.6h0M509 317.2h0M509.1 312.3h0M509.5 317.9h0M510.9 65.9h0M510.7 197.9h0M510.7 307.1h0M509 258.3h0M510.3 166.1h0M510.5 282.2h0M509.9 66.3h0M509.5 306.6h0M509.4 86.9h0M509.3 210.4h0M509.7 306.6h0M508.9 102.7h0M510.9 111.4h0M509.6 140h0M509.8 136.1h0M511 147.1h0M510.7 102h0M509.6 310.6h0M509.5 296.1h0M509.7 185.9h0M509.8 138.9h0M509.4 309.3h0M510.2 166.1h0M510.7 287.3h0M510.7 308.2h0M509.8 91.5h0M509.3 52.4h0M510 315.9h0M510.9 319.1h0M509.2 147.7h0M509.9 142.5h0M510 110.6h0M511 318.2h0M510.6 322.2h0M509.3 98h0M510.5 235.9h0M510.4 313.1h0M509 105.4h0M509.2 126.6h0M509 73.1h0M508.9 75.8h0M509.4 321.5h0M509.4 314.6h0M509.7 315h0M509.1 117.7h0M509.6 322.8h0M510.7 311h0M508.9 263.6h0M511 206h0M509 126.8h0M509.9 177.5h0M510.8 68.6h0M509.8 144h0M510.4 207.2h0M510.2 107.8h0M510.9 313.4h0M510.9 316.6h0M510.3 319.1h0M509.9 83.5h0M510.5 317.8h0M510.3 264.8h0M508.9 136.2h0M510.2 125.2h0M510.4 320.7h0M509.5 309.4h0M509.1 63.5h0M511 303.6h0M509.7 310.6h0M510 316.2h0M510.1 151.1h0M509.7 306.4h0M511.1 137.6h0M510.8 311.9h0M509.5 70.3h0M509.9 322.2h0M509.9 265.3h0M509.2 244.5h0M511.1 112.4h0M510.1 255.3h0M509.9 162.4h0M510.2 236.9h0M511 305h0M510.5 317.8h0M509.1 316.5h0M509.2 164.7h0M509 321.5h0M509.1 314.1h0M509.4 204.6h0M508.9 308.6h0M511.1 295.2h0M510.9 90.4h0M510.5 321.8h0M509.5 74.6h0M509.8 142.9h0M509.5 312.9h0M509 312h0M509.3 182.2h0M510 314.2h0M509.8 216.8h0M511.2 245.2h0M511.1 41.8h0M510.3 309h0M510.4 305.9h0M509 164.5h0M509.4 273.1h0M509.9 267.8h0M510.4 295.7h0M510.4 314.8h0M509.3 310.7h0M509.8 211.9h0M510.6 77.8h0M510.2 208.7h0M511.1 142.7h0M511.2 102.2h0M509.4 59.6h0M511.1 119.9h0M509.4 73.3h0M509.5 188h0M510.8 64.7h0M509.2 132.8h0M509.3 313.2h0M509.2 321.2h0M510.8 259.4h0M509.5 308.4h0M508.8 316.2h0M508.8 118.2h0M508.8 216.4h0M509.4 258.1h0M510.5 321.2h0M509.4 102.4h0M509.7 306.4h0M509.1 71.2h0M510.5 316.9h0M510.1 125.4h0M510.1 279.1h0M509.3 316.1h0M510.7 160.2h0M511 152.8h0M509.6 162h0M509 217.5h0M511 310.9h0M511 134.8h0M509.9 196.4h0M509.1 232.7h0M509.4 93.2h0M509.1 69.5h0M509.6 314.5h0M509.9 39.9h0M509.2 143.6h0M509 273.4h0M510 164.5h0M509.8 44.8h0M510.2 101.5h0M510 317.7h0M510 84.3h0M511.2 312.6h0M508.8 317.2h0M509.8 322h0M511.1 124.8h0M510.2 156.6h0M509.4 316.4h0M510.1 304.3h0M509.8 103.9h0M510.7 310.4h0M510.2 152h0M510.6 42.8h0M510.4 307.9h0M510.8 307.2h0M510.2 252.6h0M510.6 128.9h0M510.1 228.7h0M511 162h0M508.9 40h0M510.5 96.2h0M509.9 145.9h0M510.5 171.5h0M509.6 318.9h0M510.7 306h0M510.7 311.9h0M509.3 316.4h0M510.3 172.8h0M511.1 312.9h0M509.4 52.7h0M509.6 117.5h0M510.1 273.2h0M508.8 57.3h0M511 314.5h0M509.8 308.6h0M509 48.2h0M509.1 320.2h0M510.2 311h0M510 309.2h0M510.8 308.9h0M510.7 306.9h0M510.9 322.9h0M510.6 295.2h0M510.8 143h0M510.8 229.8h0M510.4 233.9h0M510.2 81.9h0M510.1 318.6h0M510.9 308.3h0M510.4 311h0M510.6 309.6h0M509.5 321.2h0M510.8 190.4h0M509.6 321.1h0M509 276.9h0M510.4 297h0M510.4 318.7h0M509.9 206.7h0M509.4 317.1h0M510.7 120.1h0M509.1 77.4h0M509.5 129.3h0M509.6 262.1h0M510.3 308.2h0M511 118.2h0M510.2 195.2h0M509.4 250.1h0M510.6 314.3h0M511.2 315.5h0M510.8 117.9h0M509.1 216.1h0M511 112.7h0M510 235.5h0M509.9 315.3h0M511 65.7h0M509.1 43.6h0M510.9 141.1h0M508.9 40.2h0M509.7 90.2h0M510.6 262.2h0M509.3 114.2h0M509 115.4h0M509.7 260.1h0M510.9 93.1h0M509.7 143.1h0M510 321.7h0M511.2 109.6h0M509.8 121.9h0M510.2 306.9h0M509.4 112.4h0M509.9 314.5h0M509.3 163h0M509.6 320.2h0M509.4 70.4h0M510.1 197.5h0M509 161.3h0M509.7 127.3h0M509.5 90.1h0M510.4 313.5h0M510 322.2h0M510.3 310.4h0M509.4 315.3h0M510.8 319.8h0M509.6 75.3h0M510.4 153.7h0M509.3 95h0M510.1 132.1h0M509.6 294.5h0M508.8 308.5h0M510.7 55.8h0M509.4 237.3h0M510.5 238.1h0M510.2 309.9h0M509.7 43.1h0M510.9 320.1h0M509.7 313.6h0M509.3 233.5h0M510.6 166.7h0M510.7 162.1h0M508.8 314.9h0M510.6 311.6h0M510.6 197.1h0M510.1 264.4h0M509.3 73.6h0M509 317.1h0M510.2 310.5h0M509.1 310.4h0M509 281h0M509.4 314.1h0M509.5 56.5h0M510.1 125.4h0M511.1 306.7h0M509.6 317.3h0M511 315.6h0M509.5 308.7h0M509.5 307.6h0M509.7 320.9h0M509.4 319.8h0M509.5 109.8h0M510.5 67.9h0M510.7 307.3h0M509.6 106h0M510.3 307.8h0M510.9 307.1h0M509.4 311h0M509.6 60.2h0M509.3 81.8h0M511.2 202.2h0M508.9 310.8h0M509.2 320.9h0M510.7 144.5h0M510.9 312.3h0M510.6 319.2h0M509.6 47.7h0M509.6 44.4h0M509.3 69.9h0M509.1 46.5h0M510.6 103.1h0M511.1 294.5h0M510.5 309.6h0M509.8 311.2h0M511 310.6h0M509.9 64.1h0M510.1 237.4h0M509 314.6h0M509.8 130.6h0M511.1 54.1h0M510.5 310.9h0M511 318.4h0M510.8 90.7h0M511 322.4h0M509.1 322.2h0M509.3 112.9h0M510.4 307.6h0M509.8 150h0M509.8 322h0M509.1 305.9h0M510.6 84.1h0M510 311.1h0M510 148.2h0M510.9 285.6h0M509.4 132.8h0M510.2 84h0M510 177.7h0M508.8 261.8h0M509.1 317.6h0M511 162.3h0M510.5 54.5h0M509.5 107.5h0M510.1 264.4h0M509.2 67.7h0M510.7 308.9h0M509.3 289.3h0M510.6 310.6h0M510 101.6h0M510.4 49.1h0M510 155.7h0M509.1 160.3h0M509.8 112.9h0M509.7 120.5h0M511.1 119.3h0M510.5 322.6h0M510.2 109.4h0M508.8 136.2h0M509.5 56.3h0M508.9 125.4h0M509.4 85.4h0M510.7 311h0M509.4 117.3h0M510.9 77.7h0M511.2 312.8h0M509.1 192.5h0M509 310.4h0M509.9 133.9h0M510.3 58.1h0M509.8 312.9h0M510.6 307.1h0M509.6 319h0M509.9 125.3h0M510.5 271.3h0M511.1 306.8h0M509.1 312.6h0M510.3 87.1h0M509.1 322.3h0M509.5 144.9h0M510 67.2h0M509.5 312.9h0M509.4 278.6h0M509.2 50.7h0M509.3 320.7h0M510.6 316.2h0M509.8 106.1h0M509.8 66.5h0M511.1 251.7h0M509.7 79.6h0M510.9 320.6h0M509.9 77.5h0M509.2 140.3h0M510.1 311.3h0M509.8 310.8h0M509.3 318.5h0M509.6 166.7h0M509.5 317.9h0M510.7 309.4h0M510.4 71.7h0M509.2 322.1h0M510.8 313.9h0M509.4 111.9h0M509.6 109h0M509.4 306.2h0M510.4 289.6h0M509.5 53.2h0M510.7 319.5h0M510.4 140.4h0M509 318.3h0M510.3 310.6h0M509.8 319.7h0M509.2 252.6h0M510 136.4h0M509.1 308h0M510 318.8h0M510.5 96h0M508.9 189.9h0M509.6 317.7h0M510.7 312.6h0M510.8 317.9h0M510.4 292.1h0M509.2 206.9h0M509.1 232.3h0M509.1 316h0M510.1 96.3h0M509 64.5h0M510.9 307h0M510.1 105.6h0M509.1 160.4h0M510.9 321.2h0M510.1 316h0M510.7 310.9h0M509.6 72.8h0M510.5 309.9h0M509.2 122.9h0M510.7 192.1h0M510 317.4h0M509.6 72.3h0M510.9 208.3h0M509.7 165.3h0M510.7 307.8h0M509.3 321.5h0M510.7 311.8h0M510.1 96h0M509 95.6h0M509.1 293.7h0M510.7 141h0M508.9 58.7h0M510.7 318.9h0M510.6 313.9h0M511 313.9h0M509.9 209.9h0M510.7 306.5h0M510.6 236.5h0M509.7 64.8h0M509.9 128.5h0M510.1 63.9h0M511 320.9h0M510.8 184h0M510.5 317.1h0M511.2 217h0M509.1 310h0M509.6 313.2h0M509 315.3h0M510.1 84.9h0M510.2 127.4h0M511.1 306.3h0M509 88.4h0M509.1 317h0M510.8 40.8h0M509.3 260h0M508.9 318.2h0M510.4 128.4h0M509.5 90.4h0M510.5 127.2h0M509.5 107.5h0M510.3 315h0M510.9 308.3h0M510 91.2h0M510.6 318.3h0M508.8 291.3h0M510.2 122.1h0M509.6 308.5h0M509.5 229.4h0M510.2 306.5h0M510.1 305h0M511 43.6h0M511.2 316.5h0M509.4 44.5h0M509.4 306.8h0M510.2 120.7h0M510.9 54.1h0M508.8 308.9h0M509.4 46.1h0M509.4 92.4h0M509 137.7h0M510.5 302.6h0M509 320.5h0M509.9 95.9h0M511 47.6h0M510 131.6h0M510.4 115.6h0M510.1 206.8h0M510.9 266.4h0M510.2 313.8h0M509.9 307.2h0M510.2 315.9h0M509 166.4h0M509.4 285.5h0M510.9 78.3h0M510.6 322.8h0M508.8 120.2h0M510.2 136.5h0M509 263.5h0M509.3 292.3h0M509.6 40.8h0M509.2 314.8h0M509.6 77.3h0M509 270.6h0M511 194.3h0M510.4 310.2h0M510.3 150.4h0M509.9 188.7h0M509.8 149.9h0M510.1 315h0M510.1 40.5h0M510.3 319.1h0M510.5 252.6h0M511.1 211.8h0M510.9 83.4h0M511.2 317h0M509.9 317.7h0M511 143.9h0M509 322.5h0M508.9 315.5h0M509.3 85.9h0M511.1 205.5h0M510.1 87.6h0M508.8 309.6h0M510.9 317.4h0M509.5 162.1h0M509.1 93.3h0M510.1 212h0M511.2 110.7h0M510.6 62.3h0M508.9 282.7h0M510.3 131.8h0M511 318.4h0M509.6 164.2h0M511.1 321.7h0M508.8 91.6h0M510.5 152.5h0M510.7 98.8h0M509 322.7h0M510 87.5h0M509.1 308.3h0M511.2 322.9h0M510.7 68.2h0M510.7 40.7h0M509 49.4h0M509.6 258.7h0M508.9 306.1h0M511.2 150.4h0M510 77.1h0M509.8 227.3h0M510.9 123.4h0M510.6 308.5h0M510.2 114.6h0M509.5 321.2h0M510.5 322.1h0M509.3 148.1h0M510.3 88.4h0M509.7 313.3h0M510.9 320.4h0M509.2 58.1h0M508.9 314.2h0M510 313.7h0M510.3 159h0M509.7 66.4h0M510.7 306.2h0M509.3 321h0M508.8 285.7h0M509.4 166h0M508.8 140.5h0M509.6 318.7h0M509.6 120.8h0M510.6 308.6h0M509.4 166.4h0M509.3 193.1h0M509.1 69.8h0M509.1 95.1h0M510.4 312.4h0M509.7 146.8h0M510.8 322.6h0M509 65.9h0M509.6 274.1h0M510.8 308.3h0M511 214.6h0M510.4 313.1h0M509 316.4h0M509.1 270.6h0M510.3 312h0M510.6 57.7h0M509.2 313.8h0M509 320.4h0M510.4 53.5h0M510.2 319.2h0M509 163.4h0M509 90h0M510.2 254.7h0M511.1 123.3h0M510.1 112.7h0M510.6 42.5h0M510.3 75.2h0M510.6 47.3h0M509.9 313.2h0M509.3 309.6h0M509.8 184h0M511.2 117.1h0M509.4 95.8h0M511.1 182.2h0M508.9 121.1h0M509.5 98.7h0M509 314.7h0M509.6 315.3h0M509.7 99h0M510.1 322.6h0M509.6 243h0M510 310.3h0M509.1 321.4h0M509.8 316.6h0M509.9 43.4h0M510.3 43.7h0M509.6 60.9h0M510.1 306.6h0M510.6 158.2h0M509.5 84.6h0M509.5 218.2h0M509.5 259.7h0M509.1 41.4h0M509 309.3h0M510.5 66.7h0M510.9 289.6h0M509.9 62.7h0M509.4 187.2h0M508.9 314.4h0M510.2 308h0M510 280.1h0M509.4 153h0M510 117.5h0M511.1 78.5h0M510.9 160.3h0M509.1 318.8h0M509.9 92.3h0M510.5 148.8h0M510.8 127.3h0M511.2 61h0M509.9 316.3h0M511 310.2h0M511.1 314.3h0M509.1 194.9h0M510.7 100.6h0M511.2 318.1h0M509 312.5h0M511 202.7h0M509.3 308h0M509 321.4h0M509.7 42.6h0M510 313.2h0M510.2 154.2h0M510.8 124.9h0M509.1 288.7h0M510.3 318.4h0M510.9 47.9h0M510.6 309.4h0M510.2 39.6h0M509.1 319.2h0M510.9 145.7h0M511.1 322.7h0M510.9 318.4h0M511 309.4h0M508.8 89h0M510.7 148.7h0M509.3 152.2h0M509.1 300.3h0M510.1 309.3h0M510.2 43.6h0M510.9 313.3h0M510.2 111.2h0M509.2 141.6h0M509.9 125.7h0M510 317.2h0M510.8 312.7h0M509.5 86.3h0M510.1 314.2h0M510 309.9h0M510.8 134.4h0M509.4 56.6h0M508.9 312.1h0M509.6 130.1h0M509.2 79.5h0M510.4 66.2h0M509.3 153.6h0M510.3 322.4h0M510.1 48.7h0M510 189.8h0M511 315h0M509.6 166.5h0M510 312.3h0M510.6 48.3h0M510.5 322.4h0M510 83.4h0M510.8 315.2h0M509.1 310.4h0M509.2 168.2h0M510.9 60.4h0M509 93.7h0M509.6 63.2h0M510.5 308.2h0M510.1 321.8h0M510.9 147.5h0M509.2 313.1h0M509.9 320.4h0M510.4 311.7h0M509 104.8h0M511 168.8h0M510.5 156.4h0M510.1 306.1h0M509.6 183.1h0M509.9 121.4h0M510.5 315.7h0M510 320.2h0M509.5 304h0M510.7 247.1h0M510 321.4h0M508.9 102.3h0M510 146.6h0M509.2 174.8h0M509.5 286.3h0M510 161.6h0M509.7 183.1h0M509.6 163.9h0M511 305.9h0M510.9 278h0M510.4 309.2h0M509.4 112.4h0M510.6 168.9h0M509.8 250.6h0M510.9 156.9h0M510.1 183.8h0M509.7 303.1h0M510 171.1h0M510.4 319.1h0M511 306.9h0M510 244.4h0M509 316.8h0M510.6 44.5h0M511 131.5h0M510.9 308.5h0M510.4 306.7h0M510.3 112.4h0M510.9 55.9h0M510.7 322.8h0M509 136.9h0M509.7 307.6h0M509.3 42.4h0M510.1 305.4h0M510.6 278.2h0M510.7 88.4h0M510.1 119.4h0M510.3 94h0M509.6 272.3h0M510.7 308.3h0M508.9 306h0M509 317.3h0M509.7 221.1h0M510.3 171.6h0M511.1 108h0M509.9 314h0M510 320.4h0M508.9 200.2h0M510.9 283.9h0M509.2 311.8h0M510.6 315.7h0M509.8 113.3h0M511.1 130.9h0M510.1 320.6h0M508.9 74.6h0M511 219.5h0M509.6 315.5h0M510.4 130.9h0M509.5 76.3h0M510.5 95.6h0M509 201.1h0M509.2 320.4h0M509.6 311.6h0M509.4 256.5h0M510.4 320.4h0M510.7 134.6h0M510.3 201.2h0M509 197.7h0M509.7 45.9h0M510.7 297.8h0M509.7 217h0M509.3 134.5h0M510 311.2h0M510.9 49.7h0M508.9 84.9h0M510.9 306.3h0M509.8 147h0M510.1 148.1h0M510.9 320.8h0M509.5 54.8h0M510.8 131.4h0M510.1 311.9h0M510 321.5h0M509.3 62.2h0M510.7 317.7h0M508.9 312.1h0M510 310.8h0M511.1 314.8h0M509.8 95.6h0M510.9 161.2h0M509.5 122.4h0M510.8 307h0M510.1 89.7h0M510.6 322.3h0M508.8 313.3h0M510.4 320.1h0M510.4 41.5h0M511.1 165.1h0M508.9 57.1h0M509.3 187.8h0M510.2 157.2h0M509.2 310.9h0M510.5 147.6h0M510.4 239h0M510.8 52.5h0M509.4 152.6h0M511.1 47.9h0M510.4 308.9h0M509.9 95.2h0M510.4 65.1h0M508.9 55.1h0M509 315h0M510.9 297.9h0M510.6 320.6h0M510.2 206.4h0M510 45.6h0M509.8 107.7h0M510.5 291.2h0M510.1 106.8h0M509 154.3h0M510.9 54.3h0M510.7 310.1h0M509.2 57.1h0M510.5 314.1h0M510.9 128.2h0M509.3 113.1h0M509.7 76.5h0M508.8 182.8h0M510.1 241.1h0M509 264.2h0M510.8 320.3h0M509.5 161.4h0M509.5 144.5h0M509.4 196.7h0M510 152.3h0M510.1 297.7h0M510.3 310.2h0M509.2 150.5h0M510.7 310.9h0M509.5 315.8h0M510.1 55.3h0M509.5 105.8h0M509.9 216.4h0M509.2 81.5h0M509.6 277.2h0M509.7 43.2h0M511.1 312.3h0M510.6 322.3h0M508.8 310.1h0M509 316.8h0M510.6 122.5h0M510.8 43.4h0M510.9 307.3h0M509.2 99.4h0M509.3 319.2h0M510.6 230.8h0M509 61.1h0M510.3 178.8h0M509.8 311h0M509.1 157h0M508.8 310.1h0M510.5 168.1h0M509.9 314.8h0M510 302.2h0M509.4 312.9h0M510.9 319h0M510.6 54.3h0M508.8 313.5h0M509.1 143.8h0M510.4 103.5h0M510.3 307.4h0M510.9 309h0M510.9 310.8h0M510.8 302.9h0M510.4 309.2h0M510.7 51.5h0M510.2 50.7h0M509.8 132.5h0M509.3 101.9h0M510.8 308.5h0M510 127.4h0M508.8 81.6h0M509.3 42.9h0M509.4 156.9h0M510.7 313.6h0M509.4 76.4h0M509.9 217.4h0M510.4 168.3h0M509.4 322.8h0M509.4 308.9h0M509.3 130.3h0M510.1 232.6h0M510.7 308.7h0M509.6 78.5h0M510.6 317.4h0M509.4 149.5h0M508.9 164.9h0M510.9 149.7h0M510.7 310.1h0M511.2 313.7h0M511.1 213h0M509.5 306.6h0M510.4 126.4h0M509.2 127.3h0M510 117.7h0M510.2 292.4h0M510.4 102.4h0M509.4 314.8h0M509.9 210.2h0M510.9 91.6h0M509.2 318.2h0M511 308.4h0M511 316.8h0M511.2 45.1h0M509.4 321.8h0M509.4 164.8h0M509.2 79.7h0M509 317.3h0M510.7 321.1h0M510.7 310.8h0M509.5 138.1h0M508.9 299.8h0M511 260.1h0M509 309.6h0M510.4 281.4h0M509.9 257.2h0M510.3 308.1h0M508.9 146.4h0M510 101.6h0M510.6 103.9h0M510 131.3h0M510 322.8h0M509.3 118.7h0M510.2 92.2h0M510.5 101.7h0M510.7 176.5h0M509.4 289h0M510 316.9h0M510.6 305.9h0M511 77.3h0M511.1 312.2h0M510.7 54.7h0M510.7 320.4h0M509.9 122h0M511 69h0M509.7 273h0M509.6 319.5h0M509.1 314.8h0M509.4 206.2h0M508.9 229.8h0M510.9 108.8h0M510.5 318.4h0M510.4 306.4h0M509.5 160.2h0M509.1 41.5h0M511.1 156.8h0M510.6 92.3h0M508.9 318.8h0M509.3 156.4h0M510.7 307.2h0M509.2 306.4h0M510.7 316.4h0M510.1 309.5h0M508.9 227.4h0M510 310.6h0M509.5 266.5h0M510.5 308.4h0M508.9 310.5h0M510.6 133.9h0M509.3 128.8h0M510.5 312h0M511 308.6h0M510.4 100.4h0M510 138.5h0M508.9 183.8h0M509.6 113.9h0M509.5 138.5h0M509.9 71.5h0M510 287.3h0M509.7 101.1h0M510.3 306.5h0M509.1 224.7h0M510.9 115.1h0M510.2 108.4h0M511.2 284.9h0M509.3 90.4h0M510.5 310.9h0M510 250.6h0M511 141h0M508.8 309.7h0M509 171.2h0M510.9 81.4h0M510.7 314.2h0M511.1 307.7h0M509.1 319.3h0M510.5 315.8h0M511.1 164.3h0M508.8 82.8h0M509.1 163.8h0M509.5 290.4h0M508.9 99.6h0M509.8 311.4h0M509.7 314.7h0M509.2 309.3h0M511.1 313.5h0M510.1 291.1h0M510.5 41.9h0M509.8 250.1h0M510.2 118.4h0M511.2 315.7h0M510.6 102.1h0M509.7 113.8h0M510.3 266.2h0M509.2 319.6h0M508.8 72.5h0M511.1 296.9h0M510.8 148.4h0M510.9 195.7h0M510.4 309.6h0M509 280.5h0M510.4 89.3h0M511.1 313.2h0M511.1 308.9h0M509.8 197.9h0M509 150.8h0M511 319.9h0M510.2 54.9h0M510.5 68.3h0M510.2 135.6h0M508.9 308.8h0M509.8 226.6h0M511.2 41.3h0M511.1 44.4h0M509.3 94.8h0M510.6 185.1h0M510.5 145.9h0M509.9 150h0M511.2 319.8h0M509.8 149.5h0M509.3 312.6h0M511 312.1h0M510.2 310.7h0M508.8 112.9h0M509.6 99.9h0M510.8 226.3h0M510 97.3h0M509.1 59h0M510 322.7h0M511 44.7h0M509.1 103.4h0M509.2 175.5h0M509.3 310.8h0M509.1 39.4h0M509.6 309.4h0M509.4 317.5h0M509 308.5h0M511.1 71.2h0M510 308.5h0M509.4 320.8h0M509.1 159.6h0M511 321.8h0M511.1 188.8h0M509.4 264.2h0M510.2 312.2h0M510.1 67.9h0M511.1 311.5h0M509.1 314.6h0M510.8 200.4h0M510.2 50.6h0M510.7 42.3h0M511 321.1h0M511 307.2h0M510.3 53.5h0M509.3 153.7h0M509.9 310.2h0M509.4 313.4h0M510.3 308h0M509.8 91h0M509.7 111.6h0M509.5 71.8h0M508.8 261.8h0M509.6 102.5h0M509.6 118.8h0M509.1 83.4h0M509.5 199.6h0M510.1 99.2h0M510.3 321.9h0M509.8 125.5h0M509.1 318h0M510.1 313.5h0M508.8 313.9h0M510.9 306.5h0M510 311.7h0M510.3 59.4h0M511 129.4h0M509.6 308.9h0M511.1 98.2h0M510.1 211.9h0M510.1 306.4h0M509.6 75h0M509.7 113.9h0M509.7 66.4h0M510.8 104.9h0M509.7 318h0M511.1 279h0M509.8 73.4h0M510.2 316.3h0M510.2 306.2h0M509.4 163.1h0M509.2 311.8h0M510.2 132.2h0M510.6 175.9h0M510.4 299.2h0M511 69.8h0M509.4 58.2h0M510.8 321.3h0M510 108.7h0M510.5 137.4h0M509.4 307.4h0M509.5 242.6h0M511.1 119.1h0M509.3 286.2h0M509.5 315.3h0M509 71.5h0M509.5 321h0M509.7 315.5h0M511.1 48.4h0M509.1 84.6h0M510.9 72.1h0M511 320.1h0M509 106.4h0M510.6 316.4h0M508.8 231.5h0M510.3 39.5h0M510.7 124.7h0M509.3 219.3h0M509.9 201.5h0M511.2 310.6h0M509.8 57.5h0M511.1 64.3h0M510.8 122.8h0M510.1 52.2h0M510.1 165.9h0M511.2 166.7h0M508.8 307h0M510.4 66.6h0M509 184.3h0M509.9 106.8h0M510 64.1h0M510.6 104.9h0M510.7 227.9h0M509.7 80.7h0M510.7 56h0M509.8 121.9h0M510.1 313.3h0M510.9 304.7h0M510.5 39.3h0M536.5 126.6h0M537.6 298.6h0M536.7 283.8h0M536.7 246.6h0M537 295.1h0M535.9 72.3h0M536.9 241.9h0M536.2 131h0M537.4 245.1h0M537.9 304.6h0M537.6 322.8h0M537.5 162h0M537.9 240.6h0M537.5 302.3h0M536.4 311h0M537.5 311.2h0M537.4 294.8h0M536.2 163.3h0M536.4 84.6h0M536.1 316.7h0M536.6 163.3h0M535.5 291.2h0M535.9 306.6h0M536.1 257h0M537.3 247.5h0M535.6 243.4h0M536.9 191.9h0M537.7 192.8h0M537 295.4h0M537.6 297.1h0M537 322.2h0M537.5 306.6h0M536.2 298.9h0M535.8 321.8h0M537.8 307.9h0M536.4 314.7h0M537.1 249.4h0M536.9 321.7h0M535.6 302.1h0M537.7 314.7h0M536.5 296.6h0M536.3 320.4h0M537.3 71.9h0M536.7 181.7h0M536.5 208.6h0M536.5 263.3h0M536.3 52.2h0M536 311.5h0M536 300.5h0M536.9 314.8h0M536.7 305.7h0M537.1 304.5h0M536.2 316.4h0M537.6 297.6h0M536.6 238.3h0M537.8 309.8h0M536 311.7h0M536.7 263.2h0M536.7 303.3h0M537.3 137.2h0M536.9 315.8h0M537.2 296.3h0M535.7 312.6h0M535.8 119.7h0M536.6 303.4h0M537.9 233.4h0M536.8 258h0M537.5 222.2h0M536.1 104.1h0M536.9 194.4h0M536.6 299.8h0M536.8 298.6h0M537 131h0M536.3 316.2h0M536 304.8h0M535.9 319h0M536.6 220.8h0M536.1 307.9h0M535.9 321.3h0M536.6 318.2h0M537.6 302h0M537.8 320.9h0M537.3 304.4h0M535.9 297.6h0M537.7 72.8h0M536.7 226.3h0M536.1 242.3h0M535.8 317.1h0M536.3 261.2h0M536.5 147.3h0M536.2 312.5h0M537.8 230.8h0M537.7 321.6h0M536.9 300.5h0M536.5 299.2h0M537.8 189.9h0M537.2 243.2h0M535.6 159.1h0M536 123.6h0M536.8 321h0M536.5 298.8h0M536.5 133h0M537 310.8h0M536.3 78.2h0M537.1 304h0M537.4 109.4h0M535.8 103h0M535.7 155.4h0M536.2 304.7h0M536.7 268.9h0M536.2 60.9h0M536.9 136.6h0M537.3 81.2h0M536 318h0M537 305.5h0M537.5 311.9h0M536.6 128.4h0M537.7 44.3h0M537.7 312.4h0M537.1 319.6h0M537.1 301.5h0M537.9 297.1h0M537.4 45.6h0M537.8 299.5h0M536.4 311.6h0M535.9 246.1h0M536.6 318.9h0M536 302.3h0M537 307.3h0M537 288.1h0M535.9 171.8h0M537 299.2h0M537.6 313.4h0M536.7 309.3h0M535.8 322.8h0M536.2 220.9h0M535.7 321.4h0M536 124.3h0M536.3 320.7h0M536.7 126.7h0M536.9 39.6h0M537.1 319.1h0M535.6 297.4h0M536.5 294.6h0M535.8 178h0M537.3 312.4h0M535.9 146.1h0M535.9 296.9h0M537.9 305.4h0M536.6 303.3h0M535.7 96.4h0M537.3 259.2h0M535.9 232.2h0M536.9 144.1h0M536.1 57.7h0M536.1 108.2h0M537.8 260h0M537.6 49h0M536.6 244.8h0M536.5 108.7h0M536.7 284h0M536.2 318.1h0M537 306.7h0M536.8 300.3h0M536.3 311.3h0M537.5 318.4h0M536.4 306h0M537.5 85.5h0M536.5 51.5h0M536.2 123.3h0M537.5 308h0M537.1 297.6h0M536.4 234.7h0M536.6 302.6h0M535.7 83.8h0M536 296.2h0M536 235.3h0M536.9 310.7h0M536.2 322.6h0M536.1 127.6h0M537.2 311.1h0M536.7 312.8h0M537.3 310.7h0M536.3 316.2h0M536.4 280.5h0M535.9 246.5h0M537.7 314.7h0M536.8 307.2h0M537.6 305.1h0M536 321.2h0M537.3 177.1h0M537.2 313.7h0M535.9 70.6h0M537.7 303.3h0M535.8 300.5h0M537.2 255.9h0M536.1 317.6h0M537.7 140.2h0M537.4 321h0M536.7 302.5h0M536 322h0M537.6 219.5h0M537.9 197.4h0M536.8 311.5h0M535.9 298.2h0M536.4 270.9h0M535.9 314.7h0M535.7 168.4h0M536 307.5h0M536.7 312.6h0M536.9 308.5h0M536.4 274.2h0M537.4 297.7h0M536.4 320.9h0M536.4 226.9h0M537.1 318.5h0M536.5 306.3h0M536.8 273.1h0M536.4 307.2h0M537.2 296.6h0M536.6 254.5h0M536.4 298.3h0M536.8 293h0M536.4 297h0M536.3 187.2h0M537.2 64.2h0M537 187.3h0M537 299.3h0M537.3 262.5h0M537.9 258.2h0M537.5 151.3h0M537.8 240.9h0M536.5 153.8h0M537.6 317.8h0M536.6 178.5h0M536.5 321h0M536.3 305.6h0M536.5 76.3h0M537.5 322.5h0M535.6 310.4h0M537.6 322.9h0M536.6 313.8h0M537 282.7h0M535.7 44.6h0M536.2 320h0M537.4 322h0M537.5 301.8h0M536.9 320.6h0M536.9 166.5h0M536.8 299.5h0M536.6 308.8h0M537.5 303.8h0M536.5 322.2h0M536.7 302.7h0M536.3 197.2h0M535.9 302.9h0M537.2 200.2h0M537.3 295.3h0M537.2 291.3h0M537.2 303h0M589.9 309.4h0M589.2 312.7h0M590.9 268.5h0M590.2 321.1h0M589.3 316.7h0M590.4 143.1h0M590.2 322.2h0M590.1 312.7h0M590.4 112.8h0M589.5 220.3h0M590.4 312.9h0M589.9 218.9h0M589.1 257.3h0M591 134.3h0M589.2 241h0M589.7 315.9h0M591.1 287.4h0M590.8 318.9h0M589.5 312.6h0M589.4 316.2h0M591 63.8h0M589.9 322.5h0M591.1 208h0M589.4 162.7h0M589.7 322h0M589.2 272.4h0M590.3 82.1h0M589.3 316.8h0M589.9 246.1h0M589.9 277h0M590.1 274.7h0M590.3 267.9h0M590.1 311.1h0M590.5 199.7h0M589.7 320.8h0M590.6 322.7h0M590.5 228.4h0M590.5 321.1h0M590 310.6h0M589.8 96.8h0M590.6 316.7h0M591.2 312.7h0M590.6 218.4h0M589.8 314.7h0M590.2 44.4h0M590.2 313.5h0M590.7 289h0M589.5 312.8h0M588.9 129.1h0M589.4 215.3h0M590.6 315h0M589.4 321.9h0M590.6 250.3h0M590.2 259.6h0M590.4 314.3h0M589.1 313.4h0M591 207.8h0M590.6 294.7h0M590.5 256.8h0M589.3 163.8h0M589.8 76.6h0M589.6 41.8h0M590 319.4h0M590.6 319.5h0M589.8 314.2h0M589.9 285.5h0M590.9 322.7h0M591 318.7h0M589.1 315.2h0M590.8 310.5h0M589.4 74.5h0M590.4 321.1h0M590.5 259.2h0M589.8 314.3h0M589.2 311.9h0M589.8 134.4h0M589.1 320h0M590.2 258.8h0M589.2 319.1h0M589.2 242h0M589.4 305.7h0M590.7 315h0M590.5 309.8h0M589.8 245.1h0M590.9 319.2h0M590.8 310.1h0M589.8 307.9h0M589.4 273.6h0M590.1 315.3h0M590.3 319.2h0M590.9 311.7h0M590.2 321.1h0M590.5 321.4h0M589.4 282.8h0M589.6 73.7h0M589.9 293.5h0M590.3 275h0M589.1 320.3h0M590.1 320.8h0M590.9 182.6h0M589.1 130.5h0M590.2 68.4h0M589.8 207.1h0M590.5 316.1h0M590 83h0M588.8 258.5h0M590.7 315.2h0M590.5 322.5h0M590.2 310.8h0M590.7 315.5h0M588.9 309.3h0M590.4 314.5h0M589.3 71h0M589.6 315.3h0M590.9 317.3h0M590.2 313.1h0M589.4 310h0M590.5 320.2h0M589.1 260.3h0M590.1 267.3h0M588.9 322.9h0M589 93.4h0M590.8 316.8h0M589 309.3h0M590.2 319h0M591 148.8h0M591 309.3h0M591 311.9h0M590.6 317.3h0M589.8 73.3h0M589.5 320.5h0M591 285h0M589.5 200.6h0M590.8 321.2h0M589.5 54.8h0M589.7 240h0M590.4 112.3h0M589.2 321.4h0M590.2 320.2h0M590.9 319.8h0M588.8 322.9h0M590.1 321.4h0M590.3 316.2h0M590.8 294.4h0M591 114.5h0M590.1 259.6h0M589.2 311.7h0M590.1 316.5h0M588.8 267.6h0M589 310.5h0M590.8 191.1h0M591.1 314.3h0M589.6 202.3h0M590.4 145.7h0M590.5 255.2h0M589 319.6h0M589.5 303h0M589.8 317.6h0M590.1 214.5h0M590.8 315.1h0M589.6 218.8h0M589 319.9h0M589.8 322.3h0M590.6 311.9h0M589.8 314h0M589.1 163.8h0M590.6 284.2h0M588.9 319.7h0M589.4 311.2h0M589.8 319.6h0M590.7 313.2h0M589 271.8h0M589.4 322.8h0M589 82.8h0M590.2 310.3h0M588.9 321.9h0M588.9 314.2h0M588.8 112.9h0M590.3 317h0M589.8 164.2h0M589.9 314h0M590.2 213.6h0M590 227.8h0M591.2 191.1h0M591.1 315.9h0M589.5 205.8h0M589.8 317h0M590 319.3h0M590.4 313.6h0M589.4 298.4h0M590.4 316.2h0M590.3 314.5h0M590 322.1h0M589.9 154.5h0M590.4 321h0M589 253h0M590.7 312.9h0M589.7 310.3h0M590.9 320h0M589.5 315.7h0M588.9 316.1h0M589.4 213h0M591 314.8h0M590.9 97h0M589.5 319h0M589.3 246.7h0M590.4 310.6h0M590.9 316.2h0M589.4 314h0M591.1 119.6h0M589.6 315.7h0M591.1 309.4h0M590 77.2h0M589.8 77.3h0M589.5 120.8h0M589.2 313.1h0M589.1 320.2h0M590.8 40h0M590.4 139.9h0M589.1 315.5h0M589.7 318h0M589.4 289.2h0M591 126.6h0M590 298.4h0M589.3 117.3h0M588.8 314.5h0M590.4 312.4h0M590.1 314.8h0M590.6 321.7h0M590.6 241.5h0M590.7 159.6h0M591.1 320.6h0M590.6 311.9h0M589 314.6h0M589.7 266.9h0M590.3 311.4h0M589.2 312.4h0M590.6 189.5h0M590.5 45.1h0M590.2 314.5h0M590.7 318.6h0M590.4 53.7h0M590.5 252.4h0M590.6 62.8h0M588.9 318.9h0M589.7 243.5h0M591 315.9h0M590.6 312.3h0M589.4 192.3h0M591.1 196h0M591 263h0M590.4 266.3h0M590.9 320.2h0M589.3 311.5h0M590.7 319.5h0M589.7 252.8h0M590.5 319.9h0M589.7 321.4h0M589.7 308.9h0M590.5 309.1h0M589.3 317.2h0M590.3 316.2h0M589.2 316.1h0M590.4 265.5h0M589.7 249.9h0M590.3 319.9h0M591.1 308.2h0M590.1 260.1h0M589.7 269.3h0M589.8 227.1h0M589.9 311.6h0M590.1 320.5h0M590 214.6h0M591.2 245.2h0M590.2 322.8h0M589.8 255.7h0M590.7 319.4h0M590.2 281h0M590.6 321h0M591 43h0M589.1 284.9h0M590.4 312.8h0M588.9 312.9h0M590 310.6h0M590.7 309.1h0M589.7 312.9h0M589.3 318.5h0M589.3 319h0M590.1 256.7h0M589.2 164.3h0M590.8 67.5h0M590.3 311.1h0M590.5 317.5h0M590.7 60.9h0M589.6 47.4h0M590.7 322.9h0M589.9 315.8h0M590.7 313.9h0M590.6 319.4h0M589.5 322.2h0M589.5 281.7h0M590.7 310.3h0M588.9 313.4h0M590.3 317.6h0M590.8 322.3h0M589 322.1h0M590.2 318.8h0M590 279.5h0M589.1 314.7h0M591 322.9h0M589.3 315h0M590.3 319.1h0M591.1 102.6h0M589.6 315.1h0M591.1 315.7h0M589.6 312.3h0M590.5 284h0M589.9 318.5h0M591 321.5h0M590.4 317.3h0M589.3 309.7h0M590.2 241.8h0M590 315.4h0M590.6 123.7h0M589.8 309.9h0M590.6 320.6h0M589.4 314.9h0M590.3 309.4h0M590.2 188.8h0M589.7 318.4h0M589.7 314.4h0M589.4 290.9h0M589.8 149.1h0M589.2 312.5h0M590.7 292.2h0M590.9 309.9h0M591 320.6h0M590.7 278.1h0M590.5 288.1h0M590.8 320.9h0M589.8 288.7h0M589.4 258.7h0M589 59.8h0M591.2 316h0M590.3 322.7h0M589.1 320h0M591.1 308.8h0M590.5 310.1h0M589.5 310.1h0M591 309.3h0M589.2 217.9h0M590.1 312.1h0M591 212h0M590.2 312.4h0M589.9 267.6h0M589.7 286.2h0M590 174.7h0M589.8 312.1h0M589.1 317.4h0M591.1 120.8h0M589.8 304.5h0M589.6 322.9h0M589.5 320.5h0M590.9 317.9h0M589 320.4h0M590 264.3h0M590 317.9h0M590.8 315.8h0M590.3 309.7h0M588.8 320.9h0M589.5 301.7h0M589.1 310.2h0M589.9 117.4h0M590.8 268.3h0M590.5 316.7h0M589.2 316.1h0M590.6 313.6h0M589.9 322.1h0M590.3 206.5h0M591.1 178.2h0M590.7 142.7h0M590.5 319.1h0M590.7 95.7h0M590.4 320.5h0M589.5 315.9h0M590.3 313.6h0M590.9 318.7h0M590.3 77.6h0M590.6 85.2h0M588.9 320.6h0M589.7 101.6h0M590.8 316.6h0M589.3 309.5h0M589.4 312.3h0M589.3 247.9h0M590.9 320.9h0M589.7 317h0M591.2 319.8h0M590.9 245.4h0M590.5 97.4h0M590.5 219h0M589.2 50.4h0M589.9 136.6h0M589.7 279.4h0M589.4 51.7h0M591 171.6h0M590.9 313.5h0M590.8 157.2h0M589.3 206.3h0M591.1 48.8h0M589.4 318.6h0M590.6 300.9h0M591.1 318.1h0M589.5 314.6h0M590.4 318h0M589.6 309.3h0M591.1 321.5h0M590.6 74.7h0M589.7 312.3h0M590.4 310.3h0M590.4 321.9h0M588.9 319.5h0M589.4 312.3h0M590.7 281h0M590.3 176.3h0M591 311.1h0M589 299.9h0M589.6 309.1h0M588.9 315.4h0M589.5 127.5h0M590.7 310.1h0M591.1 295.5h0M591.2 321.3h0M590.9 300.5h0M588.9 178.7h0M588.8 311.7h0M590.2 321.9h0M589.9 311.8h0M591.1 75.1h0M590.7 317.7h0M589.6 309.6h0M590.5 286.1h0M590.5 316.9h0M589.2 308h0M590.4 312h0M589.4 116.8h0M589.6 322.8h0M590.7 285.2h0M590.4 316.6h0M589.8 313.5h0M617.1 321.1h0M617.6 274.4h0M617.5 258.7h0M615.9 313.8h0M615.8 321.4h0M616.9 317.9h0M617.6 309.6h0M616.9 313.8h0M616 321.8h0M615.6 322.8h0M617.6 237.6h0M617.6 322.5h0M617.2 317h0M615.9 317.3h0M617.7 310.8h0M616.8 319.1h0M616.7 314.6h0M616.5 320.9h0M616.8 316.6h0M616.3 286.9h0M617.9 258.1h0M616.6 314.7h0M616.8 281.7h0M616.3 307.7h0M616.1 319.9h0M616.8 306.3h0M616.8 297.1h0M616.5 307.7h0M617.6 310.3h0M616.5 294.9h0M616 299.3h0M616.1 317.7h0M617 304.6h0M617.4 321h0M617 270.9h0M617.5 314.4h0M617 284.8h0M617.5 322h0M616.5 318.6h0M617.6 272.1h0M616.1 309.4h0M615.7 317.3h0M616.7 286.5h0M616.1 307.4h0M616.1 313.1h0M616.2 313.8h0M616 310.7h0M616.5 314.1h0M615.9 316.6h0M617 310.5h0M616.7 279.6h0M616.8 307.3h0M616.4 318.4h0M617.4 300.7h0M616.2 312.7h0M616.5 317.7h0M617.6 300.6h0M616.5 308.3h0M616.1 301.5h0M617.2 279.8h0M617.8 310.8h0M616.3 180.9h0M617.5 307.9h0M616.5 298.5h0M615.9 313.3h0M616.5 317.7h0M615.6 315.1h0M615.6 314.2h0M617.1 307.5h0M616.7 239.2h0M616.9 321.9h0M615.8 305.7h0M616.6 289.9h0M616.9 313.5h0M615.7 223.9h0M616.5 306.4h0M616.6 309.1h0M615.9 314.8h0M616.4 322h0M615.8 322.9h0M617.9 289.5h0M617.2 306.6h0M615.9 322h0M616.2 276.7h0M617.7 312h0M616.8 305.9h0M617.2 319.8h0M616.1 313.2h0M616 319.3h0M617.1 318.8h0M616.5 318.4h0M615.7 322h0M615.6 311.4h0M617 307.8h0M616.5 316.1h0M615.9 322h0M616.3 319.4h0M616 312.4h0M616.7 311.1h0M616.6 258.4h0M617.2 322.2h0M615.7 317.9h0M616.6 307.7h0M616.1 243.7h0M616.1 307.8h0M616.6 306.9h0M617.6 306.6h0M616 270.6h0M617.7 322.5h0M617.8 307.9h0M616.2 306.4h0M617.9 318.3h0M616.7 304.4h0M617.7 253.5h0M616.7 318.9h0M617.6 282.5h0M617.7 314.3h0M617.4 309.4h0M617.2 311.2h0M617.4 314h0M616.4 180.9h0M617.5 288.8h0M616.1 314.9h0M615.5 270.1h0M616.9 320.5h0M615.7 305h0M616.5 312.4h0M616.1 317h0M617.2 302.4h0M616.2 319h0M617.7 238.2h0M615.7 318.5h0M617.2 316.3h0M615.8 284.8h0M616.2 320.5h0M615.9 314.4h0M617 307.6h0M616.2 306.3h0M617.1 322.3h0M615.6 279.9h0M615.9 309.5h0M617.1 311.8h0M617.7 311.3h0M617.1 316.1h0M617.7 273.4h0M616.1 189.2h0M615.8 312.9h0M616.2 306.8h0M617.9 307.1h0M617.5 304.4h0M615.7 322.7h0M617.6 318.8h0M616.7 308.4h0M615.6 317.1h0M617.8 306.7h0M616.6 318.5h0M615.7 315.8h0M617.3 321.5h0M615.6 180.9h0M615.9 255.7h0M617.4 306.2h0M617.1 319.7h0M615.9 315.5h0M616.8 314.6h0M616.4 322.7h0M615.9 313.5h0M617.1 306.4h0M616 283.3h0M615.7 180.9h0M616 304.9h0M615.9 241.8h0M616 314.4h0M615.6 306h0M615.9 319.5h0M616.6 306.8h0M617.6 311h0M615.9 305.6h0M617.6 283.3h0M615.8 309.5h0M616.4 320.8h0M617.8 311.7h0M616.5 313h0M615.5 318.4h0M617.4 310.6h0M616.5 298.1h0M617.9 318.8h0M616.8 316h0M616.5 317.9h0M617.6 307.6h0M616 315.1h0M616.7 316.7h0M616.6 315.1h0M616.7 320.3h0M615.6 317.7h0M615.7 317h0M616.8 319.2h0M616.7 322.3h0M617.2 227.3h0M616 276.6h0M616.7 262.9h0M617.7 320.8h0M617.4 313.7h0M615.5 314.5h0M616 306.6h0M617.7 320.8h0M616.2 308.3h0M616.9 318.7h0M616.9 286.6h0M615.5 306.7h0M617.8 311.5h0M617.8 310.9h0M617.1 313.2h0M617.7 232.8h0M616.3 307.7h0M617 315.6h0M617.1 306h0M615.8 306.5h0M615.5 278.4h0M617.9 320.9h0M616.8 312.1h0" stroke="#7cc8ea" stroke-width="1.2" stroke-linecap="round" stroke-opacity="0.7" fill="none"/>
<rect x="555.5" y="192.3" width="16.2" height="128.1" fill="#e31a1c" stroke="#222" stroke-width="1"/>
<line x1="555.3" y1="291.4" x2="571.6" y2="291.4" stroke="#111" stroke-width="1.3"/>
<line x1="563.6" y1="45.5" x2="563.6" y2="192.3" stroke="#4a4a4a" stroke-width="1"/>
<line x1="559.5" y1="45.5" x2="567.6" y2="45.5" stroke="#4a4a4a" stroke-width="1.1"/>
<line x1="563.5" y1="320.4" x2="563.5" y2="323.2" stroke="#333" stroke-width="1"/>
<line x1="559.5" y1="323.2" x2="567.6" y2="323.2" stroke="#333" stroke-width="1"/>
<rect x="528.6" y="317.1" width="16" height="6.1" fill="#ffc0cb" stroke="#555" stroke-width="1"/>
<line x1="536.7" y1="307.6" x2="536.7" y2="317.1" stroke="#666" stroke-width="1"/>
<line x1="533" y1="307.6" x2="540.5" y2="307.6" stroke="#666" stroke-width="1"/>
<line x1="475" y1="323.2" x2="491.7" y2="323.2" stroke="#333" stroke-width="1.2"/>
<line x1="502" y1="323.2" x2="518.4" y2="323.2" stroke="#333" stroke-width="1.2"/>
<line x1="582" y1="323.2" x2="598.5" y2="323.2" stroke="#333" stroke-width="1.6"/>
<line x1="609" y1="323.2" x2="625.3" y2="323.2" stroke="#333" stroke-width="1.2"/>
<line x1="475" y1="307.1" x2="492" y2="307.1" stroke="#2a2aff" stroke-width="1.4" stroke-dasharray="2.2 1.4"/>
<line x1="502" y1="312.5" x2="518.4" y2="312.5" stroke="#2a2aff" stroke-width="1.4" stroke-dasharray="2.2 1.4"/>
<line x1="528.4" y1="299.6" x2="544.7" y2="299.6" stroke="#2a2aff" stroke-width="1.4" stroke-dasharray="2.2 1.4"/>
<line x1="555.3" y1="251.7" x2="571.6" y2="251.7" stroke="#2a2aff" stroke-width="1.4" stroke-dasharray="2.2 1.4"/>
<line x1="582" y1="318.8" x2="599" y2="318.8" stroke="#2a2aff" stroke-width="1.4" stroke-dasharray="2.2 1.4"/>
<line x1="609" y1="321.6" x2="625.3" y2="321.6" stroke="#2a2aff" stroke-width="1.4" stroke-dasharray="2.2 1.4"/>
<line x1="630.5" y1="24.5" x2="630.5" y2="324.5" stroke="#444" stroke-width="1"/>
<line x1="630.5" y1="322.9" x2="639.8" y2="322.9" stroke="#444" stroke-width="1"/>
<text transform="translate(657.5 322.9) rotate(-90)" text-anchor="middle" font-size="13" fill="#222">0</text>
<line x1="630.5" y1="294.5" x2="639.8" y2="294.5" stroke="#444" stroke-width="1"/>
<text transform="translate(657.5 294.5) rotate(-90)" text-anchor="middle" font-size="13" fill="#222">0.1</text>
<line x1="630.5" y1="266.1" x2="639.8" y2="266.1" stroke="#444" stroke-width="1"/>
<text transform="translate(657.5 266.1) rotate(-90)" text-anchor="middle" font-size="13" fill="#222">0.2</text>
<line x1="630.5" y1="237.7" x2="639.8" y2="237.7" stroke="#444" stroke-width="1"/>
<text transform="translate(657.5 237.7) rotate(-90)" text-anchor="middle" font-size="13" fill="#222">0.3</text>
<line x1="630.5" y1="209.3" x2="639.8" y2="209.3" stroke="#444" stroke-width="1"/>
<text transform="translate(657.5 209.3) rotate(-90)" text-anchor="middle" font-size="13" fill="#222">0.4</text>
<line x1="630.5" y1="180.9" x2="639.8" y2="180.9" stroke="#444" stroke-width="1"/>
<text transform="translate(657.5 180.9) rotate(-90)" text-anchor="middle" font-size="13" fill="#222">0.5</text>
<line x1="630.5" y1="152.6" x2="639.8" y2="152.6" stroke="#444" stroke-width="1"/>
<text transform="translate(657.5 152.6) rotate(-90)" text-anchor="middle" font-size="13" fill="#222">0.6</text>
<line x1="630.5" y1="124.2" x2="639.8" y2="124.2" stroke="#444" stroke-width="1"/>
<text transform="translate(657.5 124.2) rotate(-90)" text-anchor="middle" font-size="13" fill="#222">0.7</text>
<line x1="630.5" y1="95.8" x2="639.8" y2="95.8" stroke="#444" stroke-width="1"/>
<text transform="translate(657.5 95.8) rotate(-90)" text-anchor="middle" font-size="13" fill="#222">0.8</text>
<line x1="630.5" y1="67.4" x2="639.8" y2="67.4" stroke="#444" stroke-width="1"/>
<text transform="translate(657.5 67.4) rotate(-90)" text-anchor="middle" font-size="13" fill="#222">0.9</text>
<line x1="630.5" y1="39.0" x2="639.8" y2="39.0" stroke="#444" stroke-width="1"/>
<text transform="translate(657.5 39.0) rotate(-90)" text-anchor="middle" font-size="13" fill="#222">1.0</text>
<text transform="translate(679.3 203.2) rotate(-90)" font-size="13.4" fill="#222">RNS<tspan font-size="10.6" dy="4">1,000</tspan></text>
<line x1="483.5" y1="331.3" x2="616.5" y2="331.3" stroke="#444" stroke-width="1"/>
<line x1="483.5" y1="331.3" x2="483.5" y2="340" stroke="#444" stroke-width="1"/>
<text transform="translate(478.1 347) rotate(90)" font-size="15.6" fill="#222" textLength="58" lengthAdjust="spacingAndGlyphs">Astral40</text>
<line x1="510.1" y1="331.3" x2="510.1" y2="340" stroke="#444" stroke-width="1"/>
<text transform="translate(504.7 347) rotate(90)" font-size="15.6" fill="#222" textLength="75.5" lengthAdjust="spacingAndGlyphs">Proteome4</text>
<line x1="536.7" y1="331.3" x2="536.7" y2="340" stroke="#444" stroke-width="1"/>
<text transform="translate(531.3 347) rotate(90)" font-size="15.6" fill="#222" textLength="23" lengthAdjust="spacingAndGlyphs">IDP</text>
<line x1="563.3" y1="331.3" x2="563.3" y2="340" stroke="#444" stroke-width="1"/>
<text transform="translate(557.9 347) rotate(90)" font-size="15.6" fill="#222" textLength="23.5" lengthAdjust="spacingAndGlyphs">IDR</text>
<line x1="589.9" y1="331.3" x2="589.9" y2="340" stroke="#444" stroke-width="1"/>
<text transform="translate(584.5 347) rotate(90)" font-size="15.6" fill="#222" textLength="84.5" lengthAdjust="spacingAndGlyphs">NovelMetaG</text>
<line x1="616.5" y1="331.3" x2="616.5" y2="340" stroke="#444" stroke-width="1"/>
<text transform="translate(611.1 347) rotate(90)" font-size="15.6" fill="#222" textLength="87" lengthAdjust="spacingAndGlyphs">Hallucinated</text>
</svg>
</body></html>
